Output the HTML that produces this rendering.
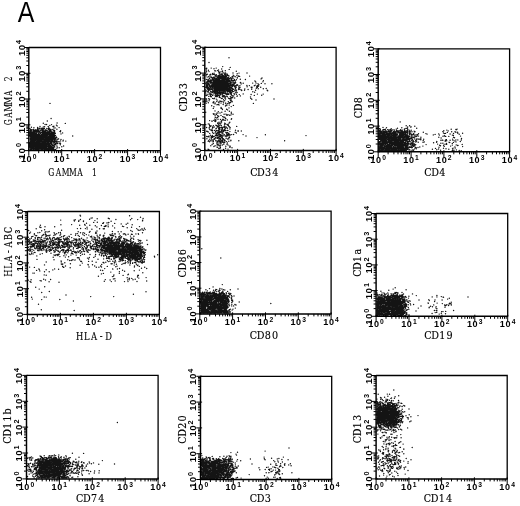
<!DOCTYPE html>
<html lang="en">
<head>
<meta charset="utf-8">
<title>Figure A</title>
<style>
html,body{margin:0;padding:0;background:#fff}
svg{display:block}
.tk{font-family:"Liberation Sans","DejaVu Sans",sans-serif;font-size:8.9px;font-weight:bold;fill:#000;text-anchor:middle}
.ex{font-size:6.6px}
.lb{font-family:"DejaVu Serif","Liberation Serif",serif;font-size:10.5px;fill:#000;stroke:#000;stroke-width:.12}
.A{font-family:"Liberation Sans","DejaVu Sans",sans-serif;font-size:28.7px;fill:#000}
.fr{fill:none;stroke:#000;stroke-width:1.3}
.ax{fill:none;stroke:#000;stroke-width:1.45}
.mt{fill:none;stroke:#000;stroke-width:1}
.dots{fill:none;stroke:#000;stroke-width:1.42;stroke-linecap:round;stroke-opacity:.92}
</style>
</head>
<body>
<svg width="520" height="506" viewBox="0 0 520 506">
<rect width="520" height="506" fill="#fff"/>
<text class="A" transform="translate(17.75 21.7) scale(.866 1)">A</text>
<g id="plot1">
<path class="dots" d="M43.2 147.2h.01M54 138.8h.01M48.2 144.4h.01M34.2 141.7h.01M37.7 127.9h.01M52.5 133.7h.01M31.3 147.7h.01M50.1 134.8h.01M47.7 148.1h.01M39.6 140.1h.01M37.4 135.3h.01M36.9 132.5h.01M37.9 137h.01M40.8 136.1h.01M43.5 141.6h.01M45.6 140.1h.01M54.2 141.5h.01M46 140.8h.01M42.2 128.7h.01M51 134.5h.01M37.2 149.7h.01M31.2 132.1h.01M46.6 144.6h.01M31 139.9h.01M33 146.4h.01M43.7 139.6h.01M40.4 139.2h.01M51.5 143h.01M44.8 148.1h.01M42.1 136.6h.01M40.3 132.8h.01M35 130.8h.01M32.2 147.4h.01M30.4 139.6h.01M46.7 132.6h.01M32.1 140.8h.01M38.5 148.3h.01M30.5 145.7h.01M49.6 133.7h.01M34.2 140.7h.01M32.5 135.1h.01M53.1 130h.01M40.5 148.7h.01M51.3 139.5h.01M45.3 136.3h.01M42.6 146.3h.01M29.7 146.5h.01M42.9 145.2h.01M44.5 135.2h.01M51.3 135.8h.01M38.4 142.1h.01M41.2 142.7h.01M33 145.4h.01M42 149h.01M37 147.1h.01M32.2 141.7h.01M46.3 141.9h.01M40 133.3h.01M58.6 139h.01M45 131.1h.01M46.4 130.5h.01M45.9 134.6h.01M44 136.1h.01M35.1 137.7h.01M37.6 143.5h.01M34.4 131.2h.01M39.5 134.9h.01M32.9 142h.01M54 141h.01M35 145.5h.01M44.3 143h.01M33.9 143.1h.01M50.9 143.2h.01M44.1 144h.01M29.6 133.6h.01M47.7 133.6h.01M51.7 147.9h.01M48.1 136.6h.01M40.6 140.4h.01M29.8 135.4h.01M34 137.8h.01M53 147.6h.01M46.5 145.7h.01M30.5 137h.01M49.8 137.6h.01M46.7 144.4h.01M42.7 142.2h.01M37.7 136.3h.01M42.4 148h.01M34.2 144.5h.01M31.6 149h.01M48.4 142.7h.01M41.2 149.2h.01M43.2 138h.01M34.3 144.8h.01M45.9 148.4h.01M30.5 131.7h.01M39.3 140.1h.01M30.9 143.8h.01M33.1 130.3h.01M54.3 146.4h.01M42 146.5h.01M39 149.6h.01M42.8 138.6h.01M49.7 139.3h.01M33.4 149.4h.01M43.1 138.9h.01M47.5 149.7h.01M40.8 140.2h.01M37.7 136.9h.01M53 131.9h.01M49.6 136h.01M34.4 140.5h.01M54.7 132.2h.01M30.8 143.7h.01M48.1 148.1h.01M47 134h.01M33.4 129.8h.01M38 129.8h.01M44.6 149.6h.01M34.5 134.1h.01M46 144.1h.01M52.2 136.4h.01M40 133.6h.01M49.9 138.2h.01M37.5 146.2h.01M36.8 130.7h.01M37.9 145.5h.01M31 140.6h.01M37.2 136.2h.01M48.5 133.5h.01M40 145.2h.01M37.5 143.8h.01M33.8 137.4h.01M52.5 138.3h.01M39.8 140.7h.01M57.2 147.3h.01M44.3 140.8h.01M41.8 148.2h.01M53.7 141.3h.01M46 141h.01M42.8 142.2h.01M41.3 143.9h.01M48.6 139h.01M38.6 142.8h.01M49.5 135.1h.01M30.8 138.7h.01M42.7 149.2h.01M40.5 138.5h.01M53.2 149.2h.01M33.4 147.6h.01M46.9 142.4h.01M43.5 131.4h.01M49.6 146h.01M49.2 145.2h.01M54.2 138.2h.01M35.8 146.2h.01M40.2 142.4h.01M33.3 130.8h.01M31.6 130.1h.01M34.7 134.8h.01M52.4 140.3h.01M51.1 146.9h.01M30.5 133h.01M43.2 130.6h.01M37.6 143.9h.01M42.9 138.2h.01M42.7 139.4h.01M36.3 144.5h.01M51.2 149h.01M40.7 148.5h.01M45.5 145.4h.01M42.1 130.4h.01M31.9 133.8h.01M30.6 139.5h.01M40.6 147h.01M51.3 131.6h.01M51 141.7h.01M46.5 139.1h.01M34.4 140.2h.01M48.9 138.1h.01M51.9 136.8h.01M49.7 135.3h.01M36.7 130.8h.01M56.9 140h.01M33 138.7h.01M31.6 145.3h.01M29.6 143.7h.01M34.8 149.7h.01M35.3 137.1h.01M30.7 149.3h.01M41.8 138.6h.01M30.7 144.3h.01M44.1 147.2h.01M35.3 137.5h.01M46 137.7h.01M33.8 144h.01M35.3 133.4h.01M52.9 140.8h.01M38.7 131.7h.01M46.9 138.9h.01M47.9 141.7h.01M42.4 149.7h.01M34.6 148.6h.01M43.2 133.8h.01M31.4 133.6h.01M48.3 144h.01M52 141h.01M49.4 139.2h.01M31.5 147h.01M38.6 145h.01M35.7 143.4h.01M29.9 142.7h.01M45.1 141.5h.01M48.7 144.3h.01M38.7 148.9h.01M55.6 149.5h.01M50.5 148.3h.01M32 144.3h.01M47.8 134.6h.01M49.4 143.6h.01M32 148.5h.01M41.3 135.9h.01M44.1 141.3h.01M43.3 132.1h.01M32.6 132.9h.01M44.7 139.8h.01M44.4 131h.01M47.2 140.7h.01M52.2 137.4h.01M38 144.4h.01M50.4 137.4h.01M52.2 137h.01M54.1 144.2h.01M32.4 140.7h.01M30.8 131.1h.01M50.3 136.6h.01M31.9 140.2h.01M45.2 136.3h.01M55.8 138.9h.01M39.2 144h.01M36.6 141.4h.01M42.7 135.9h.01M44.1 139.7h.01M32.1 144.1h.01M36.7 131.9h.01M30.9 137.2h.01M44.3 141.1h.01M49.5 149.4h.01M38.6 132.3h.01M39 140.1h.01M39.6 132.1h.01M38.1 142.5h.01M37.3 146.2h.01M38.5 130.5h.01M39.6 149h.01M30.7 143.9h.01M48.8 137.8h.01M44.2 148.1h.01M33.1 137.7h.01M32.2 145.7h.01M53.7 133.1h.01M30.7 141h.01M34.1 138.9h.01M32.8 149.1h.01M30.6 148.5h.01M54.3 141.9h.01M33.3 134.2h.01M36.8 141.2h.01M52.6 136.6h.01M44 148.9h.01M32.7 142.8h.01M40 139.6h.01M50.2 136.4h.01M41.3 147.5h.01M44.9 133.1h.01M32.9 148.6h.01M44.7 143.7h.01M49.7 136.8h.01M49.4 147.8h.01M40.7 138.2h.01M38.1 135.7h.01M30.9 139.6h.01M41 132.7h.01M50.9 135.4h.01M31.4 139.9h.01M33.4 149.5h.01M45.1 132.1h.01M47.9 142h.01M54.4 149.8h.01M32.6 146.9h.01M31.7 148.6h.01M48.8 144.7h.01M47.4 145.2h.01M48.8 139h.01M53.9 142.7h.01M52.6 138.6h.01M49.8 139.7h.01M47.3 134.6h.01M42.5 132.6h.01M45 137.2h.01M31.2 147.1h.01M47 143.3h.01M49.3 133.1h.01M48.2 146.9h.01M39.7 128.9h.01M37 149.7h.01M39.4 145.1h.01M32.8 140.7h.01M47.5 140.7h.01M44 143.6h.01M37.6 127.5h.01M43.3 128.5h.01M49.4 140.1h.01M39.7 136.5h.01M49.8 138.4h.01M56.1 141.2h.01M39.9 132.6h.01M31.6 149.5h.01M49.4 142h.01M54.6 130.4h.01M30.9 148.9h.01M46.9 137.2h.01M49.3 144h.01M48.2 147.8h.01M31.6 148.4h.01M30.6 131.5h.01M52.8 149.1h.01M30.7 141.6h.01M32.6 136.6h.01M43.2 136.5h.01M40.2 139.1h.01M45.5 148.9h.01M34.8 142.9h.01M49.5 134.2h.01M33.8 144.3h.01M50.7 138h.01M30 147.5h.01M39.7 134.5h.01M31.7 149.1h.01M36 148.8h.01M36.1 134.7h.01M47.4 138.3h.01M42.3 134.5h.01M33.3 140.2h.01M52.3 132.4h.01M49.2 148.5h.01M49.8 136.8h.01M33.3 142.3h.01M37.1 142.7h.01M35.1 134.2h.01M30.2 135.6h.01M29.9 148.1h.01M42.3 132h.01M30.5 133.8h.01M33.5 136.5h.01M53.7 144h.01M41.6 137.6h.01M32.2 133.8h.01M45.6 142.9h.01M33.7 144.5h.01M42.6 142h.01M37.6 142h.01M40.2 137h.01M44.2 132.4h.01M44.5 137.8h.01M37.8 140.3h.01M49.1 135.7h.01M48.8 148.3h.01M31.7 136.3h.01M31.2 147.8h.01M35.8 144.9h.01M52.7 148.8h.01M51.5 149.2h.01M33.5 134.7h.01M52.9 149.7h.01M35.3 138.8h.01M41.9 140.4h.01M45.2 149h.01M52.3 144.8h.01M32.6 141.5h.01M37.3 131.7h.01M45.1 141.5h.01M31.5 134.5h.01M34.5 140.2h.01M40.4 137.6h.01M50.5 148.3h.01M43.9 138h.01M51.4 144.1h.01M47.2 130.6h.01M45.8 133.5h.01M49.7 149.5h.01M45.5 134.1h.01M48.1 146.4h.01M34 140.5h.01M31.3 139.1h.01M48.4 139.5h.01M33.3 140.7h.01M51.3 137.2h.01M42.7 137h.01M35.5 142.2h.01M52.3 134.2h.01M35 135.3h.01M39.8 137h.01M34 130.3h.01M54.7 137.9h.01M42.4 140.8h.01M50.5 145.7h.01M33.1 134.2h.01M45.7 137.3h.01M44.1 144h.01M44.2 136.4h.01M52.1 147.4h.01M38.7 143.4h.01M39.4 131.8h.01M42.2 141.3h.01M50.8 144.9h.01M34.5 141.1h.01M44.4 146.3h.01M33.3 149.3h.01M40.5 142.6h.01M45.6 139.6h.01M30.7 148.2h.01M47.1 140h.01M30.3 130.4h.01M54 136h.01M38.7 144.6h.01M37.6 148.6h.01M45.2 140.3h.01M42.8 136.2h.01M43.3 149h.01M33.3 139.7h.01M42.1 134.7h.01M41.4 140.5h.01M52.9 136.6h.01M31.8 129.7h.01M40.9 144.7h.01M46.7 143.3h.01M42.9 148.8h.01M33 131.5h.01M46.1 148h.01M34.2 144.8h.01M36.5 133.7h.01M51.3 141.3h.01M34 142.3h.01M38.5 137.5h.01M47.2 130.7h.01M48.1 147.4h.01M40.3 130.9h.01M50.4 139.5h.01M41.2 138.4h.01M45 149.6h.01M45.2 142h.01M45.7 138.7h.01M46.2 148.1h.01M37.6 137.8h.01M43 145.9h.01M34.3 136.4h.01M48.8 145.5h.01M37.1 145h.01M42.2 147.6h.01M44.3 139.5h.01M42.8 135.5h.01M36.9 145h.01M51.2 149.4h.01M36.6 136h.01M48.9 128.6h.01M52.8 134h.01M38.5 149h.01M45.4 132.4h.01M30.1 130.9h.01M36.7 132h.01M52.7 149.6h.01M46.7 137.3h.01M41.5 144.1h.01M42.3 147.5h.01M48.1 141.7h.01M45.6 146.2h.01M41 140.1h.01M35.6 139.7h.01M34.5 137.5h.01M35.9 130.6h.01M37 142.7h.01M51.3 134.9h.01M39.5 135.9h.01M38.8 147.8h.01M42.5 138.2h.01M43.6 134.9h.01M51.5 143.7h.01M52.7 138.4h.01M41.7 129.9h.01M36.4 134.7h.01M48.8 141.4h.01M41.9 137h.01M48.7 148.7h.01M29.7 145.5h.01M49.2 141h.01M38.6 147.5h.01M41.5 128.7h.01M31.7 132.5h.01M38.7 147.3h.01M48.2 143.1h.01M50.2 131.6h.01M40.9 144h.01M50.3 147.3h.01M41.7 142.2h.01M35.2 131.3h.01M43.3 130.1h.01M35.6 138.6h.01M37.6 131.9h.01M48.6 132.1h.01M47.2 145h.01M30.8 141.2h.01M49 132.7h.01M47.4 148.6h.01M35.9 137.7h.01M32.3 148.8h.01M44.6 140.8h.01M34.4 143.6h.01M42.4 139.3h.01M35.8 142.5h.01M42.7 139h.01M34.6 133.9h.01M41.5 146.5h.01M37.7 135h.01M46.1 134.9h.01M31.7 144h.01M51 134.5h.01M37.4 136.1h.01M36.4 148.5h.01M32.3 135.1h.01M34 137.1h.01M37.8 149.6h.01M48.7 138h.01M47.1 138.1h.01M36.4 147.3h.01M31.4 138.8h.01M38.8 149.6h.01M46.8 145.9h.01M43.2 149.6h.01M50.6 136.3h.01M44.7 135.1h.01M48 146.8h.01M48.7 148.5h.01M47.9 132.6h.01M41.7 134.4h.01M36 133.3h.01M38.3 133.4h.01M42.5 137.7h.01M30.1 142.8h.01M42.1 143.9h.01M47.2 130.1h.01M31.1 134.2h.01M31.1 130.7h.01M33.5 135.9h.01M36 135.1h.01M51.2 149.7h.01M30.5 134.6h.01M29.6 132.6h.01M32.1 144.7h.01M40 149.1h.01M30.5 148.3h.01M40.9 141.2h.01M30.6 138.9h.01M36.7 137.4h.01M48.4 136.8h.01M32.2 147.3h.01M41.8 147.7h.01M36.8 139.3h.01M40 148h.01M47.6 141.5h.01M33 141.8h.01M54.1 136.7h.01M53.3 135.2h.01M48.6 132.2h.01M29.7 147.3h.01M43.5 146.5h.01M45.9 148.5h.01M48.8 148.7h.01M36.3 147.9h.01M52.8 136.1h.01M53.4 145.6h.01M33.3 134.6h.01M38.1 144.3h.01M30.6 132h.01M50.5 149.4h.01M52.3 148.5h.01M54.2 136.2h.01M46.1 145.7h.01M44.6 145.3h.01M49.2 134.7h.01M43 140.8h.01M54.7 140.9h.01M43.9 146.1h.01M36.8 146.6h.01M45.6 145.4h.01M30.5 134.1h.01M44.6 142.4h.01M44.9 142.2h.01M38.8 133.9h.01M54.4 134.1h.01M48.2 137.6h.01M39.1 135.9h.01M30.4 134.7h.01M32.8 143.4h.01M34.7 146.1h.01M39.9 138.2h.01M38.8 142.6h.01M53.3 145.8h.01M36.4 142.1h.01M49.5 140h.01M45.9 132.2h.01M49.8 146.6h.01M34.5 132.7h.01M30 133.4h.01M49.7 139h.01M34.2 140.4h.01M29.8 145.9h.01M51.8 140.4h.01M46.6 149h.01M36.1 144.3h.01M38.2 144.8h.01M51.5 139.9h.01M37.1 129.8h.01M46 132h.01M31.9 142.9h.01M49.2 139h.01M31.8 139.1h.01M43.9 136h.01M29.9 131.4h.01M42.4 140.9h.01M49.6 133.2h.01M31.6 146.3h.01M34 133.5h.01M47.1 148.6h.01M44 148.1h.01M35.6 139.8h.01M44.4 146.4h.01M39.1 142.4h.01M54.3 139.8h.01M38.7 148.2h.01M48.7 144h.01M44.7 135.1h.01M51.6 147h.01M38.9 128.9h.01M46.9 130.5h.01M47 139.5h.01M39.1 137.4h.01M32.1 140.8h.01M53 136.1h.01M50.8 139.7h.01M32.3 147.6h.01M48.5 149.3h.01M33.9 139.8h.01M44.1 136.4h.01M49.8 141.1h.01M40 132.5h.01M37.8 139.7h.01M38.9 146.5h.01M30.6 129.3h.01M33.7 145.5h.01M33 145.6h.01M33.4 135.2h.01M30.2 134.8h.01M39.9 144h.01M32.9 140.1h.01M46.7 146.7h.01M50.6 145.4h.01M36.7 135.7h.01M46.1 145.3h.01M37.9 138.8h.01M30.5 134.7h.01M31.2 138.1h.01M52 144.2h.01M38.9 149.6h.01M48.8 137.2h.01M30.7 136.3h.01M45.1 147h.01M50.8 138.3h.01M50.3 146.8h.01M29.6 128.6h.01M41.5 139.9h.01M35.1 135.8h.01M49.1 147.1h.01M31.2 141.7h.01M35.2 135.5h.01M51.1 133.9h.01M42.9 139h.01M38.1 135.3h.01M51.7 139.7h.01M39.8 144h.01M32.5 135.8h.01M37.3 129.5h.01M30.4 136.3h.01M29.7 135.5h.01M42.2 147.8h.01M49.8 130.9h.01M43.5 145.9h.01M42.7 133.7h.01M34.7 144.6h.01M44.9 146.8h.01M46.5 134.3h.01M43.5 144.3h.01M50.2 148.6h.01M44.2 145h.01M33.2 142.6h.01M43.6 138.2h.01M39.6 131.3h.01M36.3 142h.01M45.6 147.9h.01M47.3 134.6h.01M32.2 133h.01M43.9 136.5h.01M48.2 142.5h.01M42.4 139.1h.01M38.2 146.9h.01M37.2 146h.01M42.3 146h.01M43.7 144.6h.01M43.4 146.6h.01M31.8 148.9h.01M54.5 131.4h.01M52.3 145.9h.01M31.8 134.3h.01M33.8 147.3h.01M33.4 131.9h.01M47.8 144.3h.01M50.1 135.9h.01M30 143.5h.01M37.8 144.7h.01M33.3 147.4h.01M38.9 148.7h.01M53.5 137.4h.01M29.7 143.5h.01M32.2 134.5h.01M38.5 130.3h.01M40.5 145.7h.01M48.8 149.7h.01M36.8 144.9h.01M32.2 144h.01M39.1 143.2h.01M52.8 145.6h.01M48.2 140.2h.01M29.6 134.9h.01M51.7 146.4h.01M38.7 137.3h.01M48.9 147.8h.01M33.4 147.8h.01M48.8 142.3h.01M34.7 145.2h.01M43.5 147.1h.01M46 147h.01M44 139.5h.01M31.8 137.1h.01M31.9 143.3h.01M36 148.2h.01M30.9 142.4h.01M31.4 131.3h.01M33.9 127.7h.01M43 141.7h.01M35.6 146.9h.01M41 149.2h.01M36.5 140.1h.01M30.8 140.5h.01M32.6 140.4h.01M49.4 133.5h.01M35.5 131.2h.01M38.1 140.5h.01M51.8 140.6h.01M39.3 146.9h.01M49.7 135.3h.01M52.1 149.1h.01M34.6 135.9h.01M45.9 144.5h.01M35.9 142h.01M31.3 132.9h.01M39 147.2h.01M47.2 149h.01M54 147.2h.01M34 132.8h.01M47.8 144.3h.01M41.7 141.9h.01M34.9 149.4h.01M53.3 132.7h.01M49.9 130.6h.01M30.2 146.4h.01M51.1 134.9h.01M30.4 129.9h.01M30.5 131.6h.01M38.1 141.7h.01M55.2 141.3h.01M30.8 145.4h.01M51.9 147.9h.01M43.5 129.7h.01M30.1 146.9h.01M40.9 145.9h.01M40.5 148.8h.01M39.7 148.5h.01M47.6 139.6h.01M45.9 134.3h.01M52.7 149.2h.01M30.8 136.9h.01M46.7 142h.01M42.7 143.8h.01M46 145.6h.01M54.2 145.4h.01M54.9 142.5h.01M34.8 141.2h.01M38 144h.01M54.5 138.2h.01M55.9 137.5h.01M36.4 143.9h.01M51.9 148.6h.01M41 145h.01M38.9 132.1h.01M51.7 133.1h.01M39.6 146.1h.01M41.1 148h.01M36.2 136.5h.01M43.7 141h.01M30.9 133.4h.01M33.1 140.2h.01M47.6 143.6h.01M42.8 136.7h.01M49.4 144.4h.01M48.4 146.4h.01M34.6 133.9h.01M35.8 145.3h.01M38.8 138.6h.01M36.3 134.4h.01M49.9 136.5h.01M39.2 140.7h.01M36.4 145.9h.01M45 145.8h.01M33.6 133h.01M29.7 133.8h.01M48.7 149.6h.01M45.2 141h.01M38.5 145h.01M46.6 140.6h.01M29.7 144.6h.01M37.5 140.9h.01M42.9 142.7h.01M36.1 137.5h.01M39 144.6h.01M44.7 135.8h.01M45.6 132.7h.01M31.6 146.5h.01M47.1 147.9h.01M31.4 136.1h.01M54.7 135.9h.01M34.2 135.2h.01M34.4 143.7h.01M36.1 144.1h.01M55.1 133.3h.01M30.7 138.9h.01M44.1 140h.01M51 130.4h.01M54.8 138.8h.01M34.6 134.7h.01M40.9 132.8h.01M44.1 148.5h.01M46 133.6h.01M37.9 136.9h.01M38.3 140.9h.01M31.4 139.9h.01M31.4 127.3h.01M45.6 144.5h.01M30.3 136.5h.01M34.4 139.8h.01M39.4 149.3h.01M31.9 149.5h.01M31.4 146.7h.01M50.8 137.8h.01M38.9 146.3h.01M33.9 146.2h.01M48.8 133.2h.01M32.6 147.5h.01M35.9 130.5h.01M54.2 145.1h.01M52.5 136h.01M45.7 132.8h.01M34 131.3h.01M37.7 148.4h.01M31.1 133.9h.01M35.4 146.8h.01M32.8 133.5h.01M30.8 133.4h.01M47.2 132.5h.01M30.8 148.6h.01M32.2 133.8h.01M49.7 145.8h.01M33.7 135.1h.01M36.5 148.7h.01M29.7 144.8h.01M49.8 134.8h.01M43 141.6h.01M45.3 134h.01M44.9 140.5h.01M30.9 132.3h.01M34 143.1h.01M42 142.1h.01M50.6 135.8h.01M48.4 128.4h.01M45 147.6h.01M41.5 134.6h.01M32.7 134.3h.01M50.7 132.6h.01M30.4 138.6h.01M32.4 138.3h.01M49.8 142.1h.01M50.5 137.7h.01M48 137.5h.01M37.1 145.5h.01M30.6 135.6h.01M32.7 136.7h.01M51.6 143.5h.01M52 137.5h.01M35.1 143.5h.01M49.4 131.5h.01M39.1 135.7h.01M39.3 138.9h.01M40.2 136h.01M30.8 148.4h.01M38.4 134.4h.01M35.5 140.6h.01M44.8 140.6h.01M39.3 145.9h.01M48.1 134.6h.01M48.7 146.2h.01M37.7 149.6h.01M40.7 137.5h.01M50.6 131.2h.01M43.3 148.5h.01M31.7 136.1h.01M31.3 137.6h.01M53.2 132.7h.01M43 144.9h.01M30.3 149.4h.01M45.4 149.6h.01M37.9 142.4h.01M40.5 137.8h.01M53.4 148.4h.01M51.6 144.9h.01M32.2 146.4h.01M34.3 140.9h.01M39.4 144.1h.01M50.6 146.3h.01M45.8 130.8h.01M43.3 135.1h.01M46.1 135.4h.01M38.4 148h.01M51.3 148.9h.01M31.1 145h.01M43.7 135.6h.01M33.5 134.3h.01M39.1 140.1h.01M52.3 138.7h.01M44.2 132.9h.01M30.5 131.4h.01M39.4 144.7h.01M41.8 146.6h.01M29.9 134.9h.01M35.3 136.1h.01M31.3 132.4h.01M41 140.8h.01M42 143.1h.01M39.2 139.4h.01M34.3 148h.01M43.8 136.9h.01M35.4 139.1h.01M55.6 144.7h.01M53.6 148.6h.01M39.9 147.6h.01M39.7 131.8h.01M52.5 136.8h.01M34.4 135.5h.01M51.8 148.5h.01M38.7 143.7h.01M47.1 142.4h.01M38.4 138.3h.01M45.4 149.4h.01M55.1 133.4h.01M31 145.4h.01M51.4 143.6h.01M41.7 146.5h.01M36.9 145h.01M37.8 137h.01M30.1 137h.01M33.4 148.5h.01M41.5 141.6h.01M29.7 134.9h.01M48.4 134.4h.01M56.8 143.7h.01M54.8 146.9h.01M53.5 141.5h.01M48.1 136.7h.01M33.1 144h.01M53.8 149h.01M31.9 140.7h.01M48.8 149.4h.01M51.1 149.5h.01M43.9 147.7h.01M39.9 140.3h.01M34.6 135.7h.01M41.4 145.8h.01M38.1 149.3h.01M32 145.7h.01M31.5 133.2h.01M49.2 133.2h.01M51.7 143.2h.01M31.1 141.1h.01M30.8 129.6h.01M36.9 142.9h.01M33.4 136.9h.01M36 149.6h.01M40.3 139.7h.01M38.7 134.3h.01M38.8 145.5h.01M34.3 139h.01M44.7 141.9h.01M35.1 133.9h.01M40.3 135.5h.01M40.8 135.7h.01M49.4 135.4h.01M37.5 141.5h.01M48.8 136.7h.01M35.5 143h.01M52.9 149.2h.01M37.3 143.4h.01M43.7 133.1h.01M50.5 148.8h.01M44.2 133.1h.01M30.5 137.2h.01M30.8 142.6h.01M54.1 142.2h.01M29.9 142.3h.01M36.4 138.9h.01M51.9 142.1h.01M37 141.6h.01M33 137.5h.01M30.6 138.7h.01M31.4 137.8h.01M42.8 137.1h.01M44.2 144h.01M36.1 142.1h.01M31.2 138.3h.01M49 145.5h.01M48 148.3h.01M41.9 144.8h.01M30.5 132.1h.01M44.7 147.8h.01M44.6 131.3h.01M41.4 146.3h.01M50.1 139.3h.01M38.8 140h.01M41.4 148.5h.01M32.6 143.5h.01M44.6 149.5h.01M48.6 148.5h.01M45.9 131.8h.01M33.8 141.1h.01M56.9 148.6h.01M46.4 132.7h.01M38.9 137.9h.01M42 148.5h.01M50.5 134.6h.01M34.2 132.7h.01M44.2 138.1h.01M51.4 138.2h.01M42.6 135.8h.01M51.8 140.7h.01M40.3 148h.01M37.8 141.1h.01M33.4 142.9h.01M52.7 133.1h.01M37.5 131.2h.01M45.9 148.8h.01M36.9 137.5h.01M49.6 147.9h.01M52.1 135.1h.01M32.4 145.6h.01M55.6 143.4h.01M46.2 132.3h.01M36 131.7h.01M43 139.4h.01M30.3 133.1h.01M41 136.6h.01M32.3 133.1h.01M36.9 138.4h.01M36.1 138.5h.01M45.8 138.5h.01M50.7 134h.01M53.5 138.5h.01M37.5 145.9h.01M44.4 131.1h.01M31.7 149.4h.01M36.2 139.8h.01M52.1 147.3h.01M30 130.8h.01M53.8 127.9h.01M47.7 131.7h.01M37.6 147.7h.01M46.1 139.7h.01M36.4 149h.01M50.9 143h.01M31 135h.01M31.4 136.8h.01M48.7 133.7h.01M39.4 135.6h.01M34.1 148.3h.01M42.2 132h.01M35.7 148h.01M42.4 138.8h.01M46.7 136h.01M51.9 146.8h.01M29.8 135.9h.01M44.3 147.9h.01M52.8 138.5h.01M37.6 136.1h.01M49.9 135.7h.01M30 134h.01M52.1 147.4h.01M44.3 144.7h.01M48 138.5h.01M46.8 148.1h.01M49.7 148.8h.01M30.5 132.4h.01M44.6 148.2h.01M35.2 129.8h.01M35 144.9h.01M37.7 137.4h.01M42.9 135.7h.01M45.2 141.5h.01M50.8 143.6h.01M30.1 138.8h.01M34.8 146.4h.01M38 149.2h.01M48.5 134.9h.01M40.6 133.7h.01M42 142.9h.01M48.6 139.5h.01M44.8 135.5h.01M34.6 139.9h.01M32 143.6h.01M45.2 149.6h.01M50.4 148.2h.01M44.5 147.7h.01M30.9 140.1h.01M35 148.9h.01M38.7 142h.01M42.1 134.2h.01M46.2 148.2h.01M52.3 135h.01M35.8 146.1h.01M38.7 145.5h.01M44.6 149.5h.01M50.1 143.5h.01M46.5 149.4h.01M38.1 131.3h.01M48.9 131.4h.01M42.5 135.3h.01M56.8 142.8h.01M37.3 138.5h.01M32.5 132.3h.01M52 135.2h.01M38.2 139.4h.01M53.3 137.3h.01M46.2 144.5h.01M41.4 139.6h.01M31.5 147.7h.01M49 145.3h.01M31 139h.01M53.5 138.9h.01M49.4 135.3h.01M32.4 133.6h.01M30.7 137.7h.01M47.3 135.9h.01M41 137h.01M32 139.3h.01M38.2 132.1h.01M36.3 148.1h.01M40.7 141.2h.01M45.1 132.3h.01M55 139.7h.01M52.5 136h.01M30.6 135.1h.01M42.8 142.1h.01M42 132.6h.01M54.5 136.4h.01M32.8 145.8h.01M40.3 140.8h.01M50.7 142.6h.01M37.3 141.4h.01M34 141.4h.01M42.6 135.9h.01M34.1 143h.01M50.2 141.2h.01M32 137h.01M33.9 147.5h.01M31.6 137h.01M43.2 136.9h.01M34.7 138.4h.01M50.4 148.4h.01M51.4 149.5h.01M51.3 139.8h.01M37 137h.01M30.5 142h.01M38.6 147.3h.01M53.1 137.9h.01M49.4 145.1h.01M29.8 143h.01M48.6 137.9h.01M52.8 135.2h.01M53.5 141.8h.01M46.9 134.6h.01M51.5 138.4h.01M51.9 138.4h.01M39.6 148.4h.01M32 134.1h.01M48.8 133h.01M32.5 139.7h.01M40.9 148.2h.01M53.8 130.4h.01M39 143.9h.01M44.5 131.2h.01M52.9 141.8h.01M33.7 136h.01M53.6 146h.01M50.1 136.6h.01M42 142.6h.01M38 138.6h.01M30.2 131.5h.01M52.9 136.5h.01M32.7 138.8h.01M32.7 132.9h.01M49.2 134.1h.01M39.6 141.6h.01M45.9 137.9h.01M46.6 145.5h.01M30.1 139.9h.01M32.2 142.8h.01M42.2 144h.01M33.2 147.3h.01M37.9 141.5h.01M49.6 129h.01M44.3 142.3h.01M48.8 127.2h.01M30.8 141.6h.01M34.4 132.8h.01M53.5 139h.01M32.9 134.6h.01M41.1 149.7h.01M31.4 131h.01M51.5 144.1h.01M29.7 142.8h.01M43 136.9h.01M41.9 142.6h.01M45.8 137.5h.01M53.1 138.1h.01M44.4 136.6h.01M35 133.1h.01M29.7 145.1h.01M45.6 129.9h.01M53.4 134.9h.01M31.4 133.1h.01M47.4 144.2h.01M34.2 143.4h.01M41.5 140h.01M39.9 142.9h.01M44.7 145.3h.01M51.9 143.2h.01M48.1 141.4h.01M39.6 136.3h.01M46.8 141.1h.01M38 146.8h.01M39.4 144.3h.01M36.6 138.2h.01M42.6 144.7h.01M35.7 130h.01M33.4 130.4h.01M34.3 147.3h.01M41.3 147.9h.01M35.1 132h.01M52.1 129.4h.01M49.6 134.5h.01M36.9 143.1h.01M44.6 136.6h.01M50.1 140.1h.01M37 145h.01M42.5 129.2h.01M42.9 149h.01M48 136.8h.01M52.5 139h.01M35.4 135.7h.01M53 135.4h.01M46.3 136.1h.01M50.5 129.4h.01M45.4 137.5h.01M55.3 133.4h.01M47.9 149.4h.01M51.5 148h.01M36.6 149.7h.01M42.7 130.5h.01M47.2 133.7h.01M45.3 143.9h.01M41.5 130.1h.01M53.6 133.3h.01M53.9 126.3h.01M52.5 149.6h.01M45.4 144.9h.01M63 141h.01M61 139.4h.01M43.9 135.3h.01M46.1 135.4h.01M56.6 142h.01M40.7 133.4h.01M50.3 146h.01M47.5 134.8h.01M41.5 132.3h.01M45.2 146.4h.01M34.5 137.1h.01M42.7 141.6h.01M31.1 135.3h.01M65.3 123.4h.01M59.1 141.6h.01M56.9 129.2h.01M49.5 145h.01M55.1 127.9h.01M57.2 125.9h.01M55.2 140h.01M54.4 140.8h.01M39.8 138.7h.01M50.5 130.1h.01M42.8 143.8h.01M37.6 128.5h.01M37.9 135h.01M50.5 132.9h.01M55.5 135.5h.01M36.1 143.5h.01M61 133.9h.01M58.8 141.7h.01M44 142.5h.01M43.3 126.9h.01M46.4 130.4h.01M54.9 135.5h.01M44 134.2h.01M38.2 140h.01M49.8 125.4h.01M30.5 142.7h.01M48.1 142.8h.01M56.3 136.9h.01M49.5 129h.01M53.3 138h.01M51 134.5h.01M52.8 141.7h.01M48.2 137.4h.01M40.4 142.7h.01M45.2 135.2h.01M46.4 147.4h.01M57.1 123h.01M60 131.4h.01M50.4 141.2h.01M41 128.2h.01M41.2 142.8h.01M45.5 130.1h.01M58.1 138.6h.01M49.7 132.1h.01M46.6 135.1h.01M40.9 139.1h.01M54.1 137.3h.01M49.3 135.5h.01M46.6 147.6h.01M47.8 138.1h.01M60.5 131.7h.01M45.7 144h.01M60.5 143.3h.01M56.9 145.9h.01M47.4 149.6h.01M54.1 131.9h.01M46 144.9h.01M40.4 145.4h.01M44.9 138h.01M39.7 139.6h.01M51.1 118.5h.01M47.1 134.3h.01M51.5 149.6h.01M53.6 126.4h.01M37.2 134.5h.01M49.5 139.9h.01M32.6 141.7h.01M48.3 148.6h.01M40 126.5h.01M47.8 138.3h.01M57.9 143.6h.01M33.3 129.5h.01M48.5 137.7h.01M46.4 149.3h.01M31.9 146.6h.01M52.2 141.5h.01M47.3 121h.01M42.9 137.2h.01M41.2 140.5h.01M72.7 136h.01M43.8 137.6h.01M32.6 141.6h.01M39.6 136.6h.01M44.1 131.7h.01M43.9 139.6h.01M46.4 135.9h.01M38.6 136h.01M51.3 137.4h.01M43.1 143h.01M36.1 139.5h.01M40.5 130.2h.01M43.9 137.1h.01M53.8 141.1h.01M50.9 135h.01M44.3 145.5h.01M47.2 143.1h.01M48.7 131.6h.01M63.3 140.1h.01M42.1 148.7h.01M50.7 148.1h.01M52.8 137.6h.01M39.4 143.8h.01M48.5 133.6h.01M48.3 128.6h.01M43.2 141.6h.01M51.5 139.6h.01M55.2 141.3h.01M56 137.8h.01M45.5 140.1h.01M48.5 134.7h.01M65.8 141.1h.01M38.2 143.4h.01M48.8 137.6h.01M54.1 143.3h.01M48.2 126.5h.01M52.2 132.9h.01M48.4 147.4h.01M53 149.5h.01M57.3 139.6h.01M45.2 137.3h.01M48.6 129.8h.01M46.6 140.4h.01M43.8 143.1h.01M46.8 128.4h.01M37.9 141.6h.01M53 141.2h.01M60.6 140.9h.01M60.6 130.7h.01M57.2 141.5h.01M39.3 128.3h.01M59.2 147.7h.01M41.3 138.9h.01M46.6 130.4h.01M61.8 146.7h.01M38.4 145.5h.01M53.7 133.8h.01M49.3 147.3h.01M45.8 131.5h.01M40 140h.01M50.4 145.7h.01M43.3 123.2h.01M55.4 144.5h.01M56.8 137.6h.01M36 137.9h.01M43 131h.01M44.4 140.2h.01M37.5 130.8h.01M38.1 131.7h.01M47.7 135.1h.01M45.3 130h.01M33.8 148.2h.01M42.7 129.4h.01M51.2 133.1h.01M37.4 135.9h.01M39.6 138h.01M59.7 143.2h.01M57.5 143.3h.01M34 136h.01M36.2 135.5h.01M50 138.2h.01M37.5 143.3h.01M45 142.5h.01M43.4 134.6h.01M51.5 124.6h.01M32.4 147.7h.01M29.8 144.2h.01M37.2 139.7h.01M55.1 140.2h.01M45.8 134.6h.01M33.3 131.5h.01M50.9 135.8h.01M52.7 136.6h.01M45 133.9h.01M44.4 128.5h.01M50.5 136h.01M56.7 141.7h.01M48.2 134.8h.01M51.3 138.1h.01M46.6 124.5h.01M43.9 136.7h.01M39.7 137.2h.01M49.1 130h.01M44.6 126.8h.01M45.1 140.7h.01M54.4 132.7h.01M50.9 141.2h.01M54 135.3h.01M34.4 142.1h.01M51.5 135.8h.01M42.3 128.2h.01M40.5 137.4h.01M40.2 135.9h.01M56.7 142.3h.01M53.6 135.1h.01M41.3 135.4h.01M37.9 143.6h.01M47.1 145.6h.01M43.3 142.9h.01M60.3 144.7h.01M35.3 141h.01M32.4 143h.01M45 143.7h.01M47.1 140.6h.01M48.1 138.4h.01M53 138.9h.01M63.6 146h.01M44.3 138.1h.01M42.6 136.5h.01M32.9 135.6h.01M48.9 137.8h.01M53.8 139.6h.01M44.9 130.6h.01M56.4 125.1h.01M47.2 139.9h.01M59.1 127.6h.01M49.7 139.7h.01M38.5 138.9h.01M41.9 145.5h.01M34.7 148.9h.01M33.1 140.4h.01M49.1 134.4h.01M54 130.4h.01M62.6 132.9h.01M46.6 138.3h.01M45.1 124.5h.01M38.1 138.5h.01M54.9 137.9h.01M50.1 142.2h.01M42.2 135.8h.01M52.5 138.7h.01M51.5 133.2h.01M32 135h.01M52.9 126.5h.01M48.1 138.8h.01M43.9 148.1h.01M43.7 139.1h.01M50 103.4h.01"/>
<path class="fr" d="M28.8 47.5H160.5V150.6"/>
<path class="ax" d="M28.8 47.0V150.6H161.0"/>
<path class="mt" d="M28.8 149v6.8M30.4 150.6h-5.8M38.7 150.6v2.5M28.8 142.8h-2.5M44.5 150.6v2.5M28.8 138.3h-2.5M48.6 150.6v2.5M28.8 135.1h-2.5M51.8 150.6v2.5M28.8 132.6h-2.5M54.4 150.6v2.5M28.8 130.5h-2.5M56.6 150.6v2.5M28.8 128.8h-2.5M58.5 150.6v2.5M28.8 127.3h-2.5M60.2 150.6v2.5M28.8 126h-2.5M61.7 149v6.8M30.4 124.8h-5.8M71.6 150.6v2.5M28.8 117.1h-2.5M77.4 150.6v2.5M28.8 112.5h-2.5M81.5 150.6v2.5M28.8 109.3h-2.5M84.7 150.6v2.5M28.8 106.8h-2.5M87.3 150.6v2.5M28.8 104.8h-2.5M89.5 150.6v2.5M28.8 103h-2.5M91.5 150.6v2.5M28.8 101.5h-2.5M93.1 150.6v2.5M28.8 100.2h-2.5M94.6 149v6.8M30.4 99h-5.8M104.6 150.6v2.5M28.8 91.3h-2.5M110.4 150.6v2.5M28.8 86.8h-2.5M114.5 150.6v2.5M28.8 83.5h-2.5M117.7 150.6v2.5M28.8 81h-2.5M120.3 150.6v2.5M28.8 79h-2.5M122.5 150.6v2.5M28.8 77.3h-2.5M124.4 150.6v2.5M28.8 75.8h-2.5M126.1 150.6v2.5M28.8 74.5h-2.5M127.6 149v6.8M30.4 73.3h-5.8M137.5 150.6v2.5M28.8 65.5h-2.5M143.3 150.6v2.5M28.8 61h-2.5M147.4 150.6v2.5M28.8 57.8h-2.5M150.6 150.6v2.5M28.8 55.3h-2.5M153.2 150.6v2.5M28.8 53.2h-2.5M155.4 150.6v2.5M28.8 51.5h-2.5M157.3 150.6v2.5M28.8 50h-2.5M159 150.6v2.5M28.8 48.7h-2.5M160.5 149v6.8M30.4 47.5h-5.8"/>
<text class="tk" transform="translate(29.1 161.5) scale(1.02 1)" x="-5.5 0" y="0">10<tspan class="ex" x="5.4" dy="-3">0</tspan></text>
<text class="tk" transform="translate(24.7 150.7) rotate(-90) scale(1.1 1.1)" x="-5.2 0" y="0">10<tspan class="ex" x="5.1" dy="-3">0</tspan></text>
<text class="tk" transform="translate(62 161.5) scale(1.02 1)" x="-5.5 0" y="0">10<tspan class="ex" x="5.4" dy="-3">1</tspan></text>
<text class="tk" transform="translate(24.7 124.9) rotate(-90) scale(1.1 1.1)" x="-5.2 0" y="0">10<tspan class="ex" x="5.1" dy="-3">1</tspan></text>
<text class="tk" transform="translate(94.9 161.5) scale(1.02 1)" x="-5.5 0" y="0">10<tspan class="ex" x="5.4" dy="-3">2</tspan></text>
<text class="tk" transform="translate(24.7 99.1) rotate(-90) scale(1.1 1.1)" x="-5.2 0" y="0">10<tspan class="ex" x="5.1" dy="-3">2</tspan></text>
<text class="tk" transform="translate(127.9 161.5) scale(1.02 1)" x="-5.5 0" y="0">10<tspan class="ex" x="5.4" dy="-3">3</tspan></text>
<text class="tk" transform="translate(24.7 73.4) rotate(-90) scale(1.1 1.1)" x="-5.2 0" y="0">10<tspan class="ex" x="5.1" dy="-3">3</tspan></text>
<text class="tk" transform="translate(160.8 161.5) scale(1.02 1)" x="-5.5 0" y="0">10<tspan class="ex" x="5.4" dy="-3">4</tspan></text>
<text class="tk" transform="translate(24.7 47.6) rotate(-90) scale(1.1 1.1)" x="-5.2 0" y="0">10<tspan class="ex" x="5.1" dy="-3">4</tspan></text>
<text class="lb" text-anchor="middle" transform="translate(48.1 176) scale(0.72 1)" x="4.4 14.4 24.4 34.4 44.4 54.4 64.4" y="0">GAMMA 1</text>
<text class="lb" text-anchor="middle" transform="translate(12.3 125.3) rotate(-90) scale(0.72 1)" x="4.4 14.4 24.4 34.4 44.4 54.4 64.4" y="0">GAMMA 2</text>
</g>
<g id="plot2">
<path class="dots" d="M224.6 82.3h.01M213.2 79.2h.01M233.7 85.3h.01M215 76.6h.01M228.3 77.4h.01M222.4 92.5h.01M213.3 79.6h.01M230.2 98.4h.01M221.6 76h.01M223 88.9h.01M225.3 77.8h.01M221.3 87.1h.01M218.3 78.7h.01M225.5 86.2h.01M218.1 84.8h.01M222.1 82.8h.01M215.8 89.5h.01M208.8 96.4h.01M215.8 81.8h.01M217.3 92.1h.01M221.6 86.5h.01M231.6 85.7h.01M207.1 101.1h.01M222.6 70.9h.01M208.5 81.2h.01M212.6 73.4h.01M217.2 83.7h.01M208.9 84.3h.01M205.7 112.3h.01M222.8 88.3h.01M222.2 98.4h.01M220.5 94.9h.01M214.7 82.9h.01M239.8 89.2h.01M220.1 97.5h.01M214.2 87.1h.01M235.8 87.4h.01M226.7 89.4h.01M218.3 75.5h.01M231.6 80.3h.01M222.8 88.3h.01M227 89.7h.01M223.5 79.5h.01M212.8 83.7h.01M229.8 85.1h.01M222.9 84.9h.01M212.9 90.7h.01M215 86.7h.01M229.6 87.1h.01M218.4 76.1h.01M221.9 78.6h.01M227.1 88.1h.01M222.6 74.8h.01M208.5 87.8h.01M226.9 81.3h.01M229.5 80.3h.01M228.9 90.4h.01M235.2 81.2h.01M224.6 79.9h.01M228.1 81.2h.01M235 86.3h.01M219 105h.01M236.3 71.2h.01M236.2 85.7h.01M228.2 84.2h.01M237.1 92.5h.01M228.7 83.3h.01M214 68.7h.01M231.2 95.1h.01M224.3 78.3h.01M225 85.4h.01M222.8 76.4h.01M233.1 78.2h.01M226.2 82.4h.01M215.6 91.8h.01M225.6 91.7h.01M227.7 81.7h.01M215.3 89.3h.01M217.8 83.3h.01M218.2 86.6h.01M216.3 86.9h.01M224.5 90.1h.01M230.2 81.6h.01M237.6 84.9h.01M231.7 87.3h.01M230.2 86.4h.01M231.2 80.3h.01M232.8 97.8h.01M218.3 82.6h.01M227.4 91.1h.01M224.2 87.2h.01M220.4 94.3h.01M217.6 70.6h.01M217.2 100.1h.01M219.2 84.3h.01M211 77.2h.01M225.9 86.7h.01M221.3 101.5h.01M222.4 89.3h.01M224.4 77.2h.01M227.7 82.6h.01M216.5 95.1h.01M220.6 76h.01M207.8 84.5h.01M208.6 83.7h.01M206.2 100.9h.01M234.6 83.8h.01M206 94.9h.01M225.5 81.1h.01M234.1 80.2h.01M217.6 92.8h.01M235.4 90.1h.01M237.2 73.8h.01M229.5 90.2h.01M241.7 90.3h.01M226.8 81.5h.01M215.3 87.3h.01M226 87.7h.01M217.8 82.4h.01M210.5 81.7h.01M210.7 81.1h.01M241.2 83.9h.01M216.9 76.5h.01M221.3 85.5h.01M215.9 75.4h.01M222.7 86.3h.01M219.5 85.2h.01M218.1 78.6h.01M211.3 91.7h.01M209.6 99.2h.01M215.3 95h.01M224.1 76.3h.01M239.3 94.6h.01M230.6 87.3h.01M237.1 85.4h.01M225.7 81.6h.01M220.9 85.7h.01M210.4 95.4h.01M221.7 89.5h.01M207.8 82.9h.01M219.1 81.1h.01M235.5 82.9h.01M224.4 89.8h.01M231.2 98.7h.01M218.4 78.4h.01M210 85.7h.01M217.6 83.1h.01M218.3 80.5h.01M231.9 88.5h.01M238.5 89.6h.01M215.4 75.9h.01M218.6 78.6h.01M220.5 94.1h.01M218.7 88h.01M211.1 89.4h.01M222.5 82.3h.01M224.8 83.1h.01M225 88.9h.01M211.5 82.3h.01M220.7 78.1h.01M206.9 85.8h.01M229.5 92h.01M213.1 78.6h.01M219.4 93.1h.01M217.9 90.6h.01M216.8 79.8h.01M212.7 85.8h.01M206.7 85.5h.01M236.5 90.2h.01M223.9 90.4h.01M224 76.7h.01M239.6 76.4h.01M220.9 92.9h.01M226.4 86.5h.01M221.9 88.7h.01M231.8 88.1h.01M226 96.4h.01M224.4 77.4h.01M219.6 93.3h.01M224.1 80.1h.01M231.7 90.8h.01M207.1 95.1h.01M220.7 76.2h.01M218.2 88.6h.01M219.2 83.8h.01M206.2 83.7h.01M228 86.1h.01M214.6 78.5h.01M219.8 79.1h.01M217.5 90.3h.01M207.6 91.6h.01M218 81.8h.01M206.1 75.7h.01M213.8 101.8h.01M219.1 93.4h.01M221.7 88.3h.01M222.2 78.6h.01M220.6 81.7h.01M240 87.4h.01M225.5 79.1h.01M211.4 96.8h.01M216.6 86.7h.01M216.2 88.5h.01M220.3 78.6h.01M216.7 79.5h.01M214.5 80.3h.01M235.8 87.7h.01M222.2 83.9h.01M218.9 83.8h.01M219.6 87.9h.01M219.9 87.3h.01M233.6 96h.01M225.9 84.4h.01M231.3 78.8h.01M215.9 85.7h.01M224.6 95.9h.01M230.8 81.9h.01M238.6 86.1h.01M222 83.3h.01M207.2 88.6h.01M226.8 87.5h.01M216.7 80.2h.01M206.6 84.2h.01M216.5 92.3h.01M230.8 93.3h.01M232 92.1h.01M227.9 91.7h.01M212.9 83.5h.01M243.2 83.3h.01M211.9 92.2h.01M221.1 77.7h.01M209.5 85.4h.01M233 73h.01M225.6 83.2h.01M229.4 80.9h.01M222.6 77.5h.01M221.2 89.8h.01M223.3 80.7h.01M205.8 83.2h.01M230.3 84h.01M229.6 80.7h.01M218.5 95.6h.01M221.7 82.4h.01M224.4 87.1h.01M235.2 76.8h.01M225.5 82.5h.01M222.2 83.5h.01M217.5 83.7h.01M209.1 81.8h.01M216.8 86.8h.01M222.5 96.5h.01M219.7 84.9h.01M222.5 84.8h.01M228.2 83.1h.01M225.6 103.2h.01M224.2 96.9h.01M227.5 89.6h.01M223.5 90.6h.01M221.6 80.9h.01M225.9 84.7h.01M207.2 87.2h.01M232.5 86.6h.01M210.9 79.9h.01M229 80.4h.01M222 89.3h.01M231.3 87.9h.01M222.2 71.3h.01M213.9 86.4h.01M231 94.5h.01M223.5 81.3h.01M222.9 87.4h.01M222.6 75.8h.01M230.4 91.5h.01M228.9 78.1h.01M223.9 77.2h.01M208.7 83.6h.01M218.5 102.1h.01M222.8 81.6h.01M237.2 77.1h.01M225.2 89h.01M221.2 87.4h.01M232.1 97.2h.01M221 77.1h.01M221.7 74.8h.01M223.3 83.6h.01M209.2 88.4h.01M230.1 88.2h.01M225.6 93.2h.01M219.6 75.5h.01M212.3 80.1h.01M223.8 84.9h.01M233.9 91.6h.01M216.5 89.1h.01M212.9 82.9h.01M225.5 78.8h.01M208.4 91.8h.01M208.1 92.3h.01M218.2 104.4h.01M216.1 84.6h.01M219.6 96.9h.01M217.3 77.5h.01M224.8 82.1h.01M220.1 81.1h.01M216.9 82.6h.01M218.1 79.8h.01M227.4 82.1h.01M230.1 85.4h.01M229.7 82.7h.01M227.9 90.3h.01M217.2 85.2h.01M213.5 85.8h.01M219.3 95.9h.01M223.7 88h.01M208.2 86.9h.01M234.1 85.7h.01M224.6 86.2h.01M216.7 89.7h.01M223.4 80.3h.01M219.1 93.6h.01M215.5 96.6h.01M226.3 93.7h.01M218.2 82.4h.01M210 74.9h.01M216.6 82.8h.01M221 86.8h.01M212.8 91.5h.01M232.7 84.5h.01M212.8 83.7h.01M237 96.2h.01M229.6 81.2h.01M214 93.1h.01M223.1 92h.01M232.1 76.7h.01M220.4 87.7h.01M211.9 82h.01M223 79.3h.01M239 73.1h.01M209.4 75.1h.01M226.8 88.6h.01M222.1 83.1h.01M221.1 87.7h.01M218.7 78.5h.01M219.3 83.6h.01M230.9 83.9h.01M227.1 75.2h.01M213.6 74.4h.01M235.3 88.8h.01M211.1 86.8h.01M227.7 79.4h.01M223.6 85.1h.01M232.3 90.3h.01M225.1 98.4h.01M231.1 79.7h.01M221.9 90h.01M230.4 100.3h.01M225 86.2h.01M240.4 95.9h.01M216.2 68.1h.01M232.3 95.7h.01M226.1 85.7h.01M223.6 72.9h.01M217.3 91.1h.01M225.9 93h.01M209.6 94.1h.01M210.5 94h.01M228.2 85.6h.01M208.9 80.7h.01M234.3 82.6h.01M219.8 85.6h.01M224.2 88.6h.01M222.8 82.5h.01M225.7 86.1h.01M219.8 91.8h.01M219 88h.01M221.1 101.5h.01M231.1 100.6h.01M231.8 77.9h.01M233 81.9h.01M225.2 76.8h.01M220.4 77.8h.01M207.9 89.5h.01M227.6 79h.01M229.3 78.6h.01M218.7 83.9h.01M229 91.3h.01M233.1 83.4h.01M223 83.3h.01M231.1 92.1h.01M224.8 89h.01M207.4 88.9h.01M218.1 92.3h.01M218.7 78.8h.01M226.7 87.3h.01M214.8 81.4h.01M218.4 92.9h.01M214 91.4h.01M221.8 78.6h.01M222.7 95h.01M230.4 77.8h.01M228.9 93.8h.01M223.6 87.2h.01M224.2 79.8h.01M223.1 78.1h.01M223.1 83.7h.01M235.3 85.6h.01M210.2 80.9h.01M220.7 89.7h.01M224.8 76.2h.01M231.8 85.7h.01M212.9 85.8h.01M225.1 72.9h.01M229.5 87.9h.01M218.4 77.1h.01M205.9 68.6h.01M219.1 81.6h.01M211.9 84.2h.01M227.7 92h.01M214.9 82.4h.01M237.3 95.9h.01M223.4 95.7h.01M215.3 93.3h.01M217.9 94.9h.01M212.9 88.2h.01M225.5 82h.01M234.8 90.3h.01M220.3 92.5h.01M230 87.4h.01M214.1 84.1h.01M224.8 75h.01M241.7 90.5h.01M210.2 88.2h.01M232.6 76.8h.01M232.1 86.5h.01M206.2 90.8h.01M210 85h.01M213.9 91.2h.01M230.4 91h.01M218.5 75.6h.01M220.7 83.7h.01M228.2 89.1h.01M223.2 92.1h.01M224.1 95.5h.01M219.4 72.5h.01M231.7 85.3h.01M215.5 90.7h.01M236.4 94.2h.01M219.3 97.4h.01M215.4 79.3h.01M227.6 83.2h.01M226 78.5h.01M205.9 91.4h.01M224 76.6h.01M210.7 94h.01M215.1 92.3h.01M228.8 89.2h.01M214.8 70.8h.01M225.2 81.1h.01M218.9 91h.01M238.6 76h.01M221.3 84.1h.01M212.1 85.1h.01M212.7 91.9h.01M214.4 87.7h.01M223.2 87.7h.01M222.1 82.7h.01M230.3 85.8h.01M223.5 84.9h.01M223.2 90.8h.01M224.8 84.5h.01M221 92.9h.01M224.6 74h.01M228.7 94.1h.01M228.7 84.6h.01M217.4 93.6h.01M207 86.4h.01M215.2 91.7h.01M224.5 96.1h.01M210.3 81.9h.01M218 86.3h.01M225.9 84.6h.01M217.2 87.2h.01M212.5 74.6h.01M236.9 84.6h.01M233.8 84.1h.01M219.8 80.3h.01M233.3 84.4h.01M233.1 75.1h.01M212.4 95.4h.01M244.8 88.9h.01M214 98.8h.01M219.8 79.7h.01M212.7 77.7h.01M222.7 87.7h.01M210.8 74.2h.01M221.9 87.3h.01M231.2 80.9h.01M223.8 83.5h.01M219.7 87.5h.01M235.1 86.1h.01M214.3 98.6h.01M230.2 90.1h.01M219.4 76.8h.01M223.8 92.5h.01M222.2 76.5h.01M223 86.4h.01M221.5 77.1h.01M215.3 80h.01M217.1 94.8h.01M225.7 81.9h.01M221 81.3h.01M212 81.9h.01M215.9 83.6h.01M216 95.7h.01M221.4 77.6h.01M223.4 77.2h.01M222.7 89.8h.01M216.3 74.7h.01M222 83.2h.01M210.2 93.6h.01M213.9 85.7h.01M221.4 82.4h.01M207.8 80.8h.01M213.8 79.4h.01M211.6 81.6h.01M227.2 86.7h.01M211.5 94.3h.01M224.1 92.4h.01M217.6 81.8h.01M211.3 80.6h.01M208.4 90.5h.01M225.7 73.1h.01M225 82.7h.01M228.3 83.4h.01M237.3 78h.01M224 78.8h.01M224.1 88.1h.01M220.7 74.2h.01M222.6 79.3h.01M218.7 81.2h.01M214.1 86.2h.01M238.6 76.2h.01M205.8 93.1h.01M223.8 83.5h.01M225.4 83.8h.01M222.9 83.1h.01M213.5 81h.01M220 78.8h.01M217.7 93.5h.01M212.5 87h.01M221.2 84.8h.01M218.1 92.5h.01M216.9 80.7h.01M227.4 89.9h.01M212.6 85.7h.01M225.3 79.4h.01M216.3 90.8h.01M225.2 75.2h.01M222.1 90h.01M223.6 79.4h.01M213.2 88.4h.01M214.9 95.1h.01M214.2 89.4h.01M223 81.4h.01M227.8 85.3h.01M230.6 83h.01M217.2 77.4h.01M222.2 77.9h.01M207.7 85.8h.01M208.6 89.2h.01M214.1 73.3h.01M215.8 85h.01M208.3 89h.01M206.3 86.2h.01M225.9 78.5h.01M214.6 92.6h.01M207.2 77.1h.01M241.1 89.9h.01M222.9 96.5h.01M218.7 71.4h.01M227.1 87.2h.01M214.9 87.6h.01M234.8 87h.01M208.3 80.1h.01M210.3 83.3h.01M220.2 75.8h.01M214.8 86.3h.01M233.3 89.1h.01M207.7 80.8h.01M215.1 79h.01M223.3 82.1h.01M226.1 85.3h.01M229.8 85.8h.01M224.2 84.6h.01M239.9 85.8h.01M217.2 76.3h.01M222.7 66.6h.01M228.5 89.6h.01M218.6 95.1h.01M218.7 75.6h.01M217.3 80.8h.01M215.8 87.4h.01M211.6 91.9h.01M216.5 89.8h.01M208.1 94.1h.01M224.4 85h.01M207.7 88.2h.01M238.7 88.2h.01M235.6 82.4h.01M230.5 93.6h.01M219.4 89.6h.01M216.2 92h.01M231.5 82.6h.01M222.7 92.4h.01M225.9 78.1h.01M215 88h.01M230.2 67.4h.01M214.3 78.4h.01M222 90.4h.01M206.5 82.2h.01M215.6 86.5h.01M225.3 74.2h.01M217.3 95.9h.01M217.3 89.4h.01M227.8 85.1h.01M220.5 88.2h.01M231.6 87.6h.01M210.6 95h.01M225.9 86.8h.01M225.4 75.2h.01M208 83.6h.01M210.1 94.1h.01M228.5 89.2h.01M212 82.4h.01M215.7 89.5h.01M226.1 86.1h.01M218.2 89.5h.01M225.1 74.4h.01M213.7 79.2h.01M223.6 89.9h.01M230.2 83.8h.01M223.8 87.7h.01M208.7 98.7h.01M226.6 83.2h.01M221.5 87h.01M213.4 81.5h.01M232.8 81h.01M206.3 84.8h.01M236.9 75.4h.01M215.7 70.9h.01M234.4 94.6h.01M220.7 84.6h.01M209.8 93h.01M221.8 86.1h.01M223.9 86.3h.01M225.6 89.9h.01M230 90.2h.01M213.4 77.1h.01M225.2 93.6h.01M227.3 78.7h.01M218.7 86.7h.01M213.1 102.8h.01M212.9 85.9h.01M227.4 96.7h.01M227.8 82.9h.01M214 89.5h.01M209.7 85.7h.01M231.5 88.2h.01M207.9 79.5h.01M222.4 79h.01M214.2 87.6h.01M206.2 74.6h.01M222.1 79.5h.01M219.4 89.7h.01M233.2 81.1h.01M240.3 79.2h.01M219.4 77.7h.01M229.7 86.3h.01M229.9 82.8h.01M216.6 86.3h.01M213.7 84h.01M234.7 98h.01M217.9 82.3h.01M220.8 71.9h.01M218.6 86.1h.01M219.9 85.3h.01M215.9 86.4h.01M227.4 74.3h.01M231.6 93h.01M217.9 85.1h.01M209.3 85h.01M221.5 74.5h.01M208.4 88.5h.01M215.6 84.9h.01M231.4 94.5h.01M240.7 82.5h.01M224.2 76.9h.01M212 86.2h.01M227.6 79.1h.01M209.2 88.1h.01M215.1 77.9h.01M233.9 84.4h.01M227.3 83.8h.01M209.3 85.1h.01M207 81.8h.01M228.3 79.8h.01M220.6 84.9h.01M216 81.4h.01M224.5 86.4h.01M216.2 83.5h.01M206.4 70h.01M227.9 84.9h.01M215.5 94.8h.01M212.5 87.4h.01M209.7 89.4h.01M223.1 88.4h.01M214.2 82.1h.01M226.3 76.3h.01M218.8 90.8h.01M230.2 92.5h.01M217.8 89.2h.01M215.5 88.2h.01M206.8 88h.01M211.7 85.1h.01M227.1 87.2h.01M246.9 85.4h.01M210.4 87.5h.01M212.3 78.9h.01M223.9 81.1h.01M225.1 89.2h.01M215.3 83h.01M221.7 69h.01M207.4 86.2h.01M218.5 69.9h.01M228.6 98.2h.01M234.9 90.2h.01M219.6 89.9h.01M218.8 80.8h.01M224.9 77.7h.01M230.4 83.9h.01M225.2 85.5h.01M214.7 80.1h.01M224 86.4h.01M229.2 90h.01M215 89.4h.01M209.7 78.3h.01M225.3 70.8h.01M224.1 85.4h.01M229.2 80.9h.01M221.8 88.4h.01M215.6 96.4h.01M217.3 96.4h.01M212.3 87.3h.01M213 92.8h.01M216.3 96.4h.01M217 85.7h.01M230.5 87.2h.01M210.7 91.1h.01M220.7 85.1h.01M216.1 82h.01M233.6 80.4h.01M223.3 85.4h.01M217.9 81.2h.01M228 90.7h.01M221.6 83.2h.01M217.1 95.2h.01M234.1 93.5h.01M227.1 77.1h.01M235.7 92.7h.01M230.9 82.7h.01M227.6 94.6h.01M222.2 88.9h.01M211.9 85.1h.01M227.1 89.9h.01M221.7 81.7h.01M226.8 87.7h.01M221 88h.01M215.3 84.5h.01M212.6 88.1h.01M227 78.8h.01M232 89.2h.01M218.7 77.4h.01M225 89.6h.01M232.8 88.6h.01M214.1 90.2h.01M218.3 81.8h.01M211.7 105.8h.01M231.1 84h.01M223.4 86.5h.01M217.2 80.5h.01M207.2 95.1h.01M219.6 82.4h.01M229.6 92.2h.01M218.6 79.3h.01M217.6 87.6h.01M226.6 83.1h.01M210.7 91.8h.01M221.6 83.6h.01M226.2 79.8h.01M214.6 88.6h.01M214.2 77.7h.01M223.3 79.2h.01M220.3 90.7h.01M219.2 73.2h.01M222.9 90.7h.01M223 83h.01M213.4 79.5h.01M215.5 87.3h.01M225 89.8h.01M230.6 81.8h.01M232.6 84.5h.01M214 91h.01M230.4 90.7h.01M227.6 85.3h.01M220.9 80.6h.01M225.3 79.4h.01M228.2 81.7h.01M236.3 90.2h.01M212.3 89.5h.01M226.3 87.7h.01M220 94.9h.01M219.5 83.7h.01M230.9 83.2h.01M228.1 83.2h.01M212.7 98.4h.01M218.8 72.1h.01M223.1 87.7h.01M209.3 88.7h.01M228.5 86.2h.01M220.6 101.2h.01M222.6 93.5h.01M224.1 90.9h.01M236.4 79.8h.01M221.5 89.1h.01M218.2 83.3h.01M235.9 86.1h.01M217 87.1h.01M216.8 82.6h.01M209.6 90h.01M230.3 96.6h.01M223.5 92.7h.01M225.2 87.3h.01M222.6 73.1h.01M220.1 93h.01M214.6 93h.01M214.7 84.6h.01M224.9 82.7h.01M222.3 90.2h.01M235 80.5h.01M214.9 91.1h.01M217.2 78.8h.01M212.7 79.8h.01M232.8 86h.01M210.9 76.3h.01M227.7 85.9h.01M233.4 89.4h.01M220.1 77.2h.01M227.4 92h.01M207.8 82.2h.01M218 89.5h.01M207.3 87.3h.01M222.7 82.9h.01M221.3 82.5h.01M214.8 74.7h.01M229.2 81.3h.01M224.3 80.9h.01M216.9 96.7h.01M217 92.6h.01M208.9 76.9h.01M219.7 91.2h.01M239.1 87.4h.01M215.3 83.4h.01M224.8 89h.01M216.7 91.1h.01M228 82.2h.01M225 84.1h.01M219.3 87h.01M206.3 79.5h.01M217 87.2h.01M231.4 85.4h.01M219.2 81.5h.01M226.6 80.4h.01M217.2 88h.01M205.6 91.7h.01M224.9 88.1h.01M224 80.4h.01M216.4 90.9h.01M218.2 87.1h.01M223.7 89.9h.01M216.3 93.6h.01M224.2 80.1h.01M219.6 85.1h.01M209.7 82.1h.01M220.1 80.2h.01M216.3 99.1h.01M214.3 92.1h.01M224.7 74.4h.01M217.2 88.8h.01M225.8 82.3h.01M230.5 93.5h.01M222.5 86.5h.01M208.3 84.8h.01M215.2 86.9h.01M229 88.5h.01M219.1 86.2h.01M214.5 84.5h.01M220.6 85.1h.01M225.5 89.3h.01M223.5 78.6h.01M226.7 86h.01M214.4 85.2h.01M219 82.8h.01M219.2 90.8h.01M221.1 77.6h.01M207.5 83.6h.01M219.3 80.4h.01M210.1 89.6h.01M233 82.9h.01M234.4 86.3h.01M235.5 88.5h.01M228.1 75.5h.01M217.3 89h.01M229.4 81.1h.01M219.6 84.3h.01M226.5 85.3h.01M213.8 91.3h.01M216.4 90.8h.01M225.2 97.5h.01M236.2 87.2h.01M221.1 82.9h.01M240.3 82.7h.01M244.5 90.3h.01M210.6 96.5h.01M221.1 88.2h.01M213.4 82.2h.01M220.2 87.8h.01M216.9 87.7h.01M220.8 86.2h.01M229.5 81.1h.01M229.2 69.4h.01M223.5 82.5h.01M221.4 92.9h.01M222.4 87.4h.01M222.4 71.6h.01M226.2 86h.01M221.4 73.9h.01M225.6 99h.01M210.4 87.2h.01M228 78.1h.01M236.1 91.2h.01M222.9 80.9h.01M209.5 89.7h.01M232.7 86.1h.01M218.6 78.3h.01M214.9 90.3h.01M219.5 77.2h.01M226.5 94.8h.01M224.6 86.4h.01M231.8 79.3h.01M226.6 74.1h.01M222.4 96.6h.01M206.4 95.5h.01M212 77.8h.01M222.9 96.8h.01M227.1 87.1h.01M212.8 84.6h.01M216.2 85.4h.01M225.3 84.2h.01M205.9 95.4h.01M206.2 87h.01M219.5 74h.01M223.5 99.7h.01M217.4 91.8h.01M209.1 78.9h.01M221.6 83.7h.01M210.2 80.1h.01M226.9 86.3h.01M220.5 88.6h.01M223.6 87.6h.01M226.8 82.1h.01M217 80.8h.01M228.4 91.5h.01M231.9 85.3h.01M224.7 100.7h.01M232.6 80.7h.01M216.1 91.2h.01M229.1 86.3h.01M223.7 81h.01M213.1 94.9h.01M220.7 86.8h.01M216.9 80.2h.01M216.8 83.9h.01M222.1 92.7h.01M230.3 78h.01M218.7 95h.01M222.5 90.5h.01M209 84.2h.01M222.3 94.9h.01M231.1 97.4h.01M228.2 89.9h.01M225.4 87.1h.01M229.8 86h.01M228.2 91h.01M217.3 83.7h.01M220.6 85.6h.01M220.5 82.6h.01M219.7 85.7h.01M214.8 84.1h.01M225.6 87.7h.01M221.9 85.1h.01M221.9 83.3h.01M227.8 84.5h.01M219 85.2h.01M221.2 83.6h.01M222.7 89.2h.01M219.6 88.2h.01M221 86.2h.01M224.9 81h.01M221.5 87.6h.01M227.5 80.7h.01M218.1 86.3h.01M222.4 85.8h.01M215.1 83.3h.01M221 82.4h.01M218.3 82.9h.01M227.6 93.6h.01M224.9 84.6h.01M223.8 84.8h.01M229.8 89.3h.01M228 87.2h.01M224.7 89.7h.01M218.4 80.9h.01M215 81.4h.01M221.4 98.5h.01M219.9 85.4h.01M218.6 84.5h.01M220.2 86.2h.01M214 89.4h.01M228.2 81h.01M216.3 86.7h.01M218.5 85.5h.01M224.1 88.2h.01M214.1 86.3h.01M225.7 83.6h.01M225.7 82.3h.01M220.1 76.2h.01M216.6 89.4h.01M219.4 79.9h.01M213.1 84.1h.01M227.8 92h.01M221.7 84h.01M218.2 88h.01M217.4 84.8h.01M224.1 88.3h.01M228.3 85.7h.01M215.7 83.6h.01M218.9 90.8h.01M213.5 84.6h.01M224.6 80.4h.01M222.2 84.3h.01M231.7 87.7h.01M220.9 81.3h.01M219.5 88.6h.01M218.3 88.6h.01M225.4 93.8h.01M214.1 83.1h.01M224.9 88.1h.01M222.6 79.2h.01M219.2 84h.01M217.4 86h.01M226.3 87.2h.01M230 85.4h.01M219.5 85.3h.01M223.9 83.2h.01M229.4 83.9h.01M218.7 86.8h.01M220.4 87.8h.01M215.9 88.1h.01M220.8 89.4h.01M221.1 90.2h.01M219.6 78.7h.01M218.1 83.6h.01M214.3 85h.01M215.4 83.1h.01M217 89.6h.01M224.4 88.5h.01M219.2 85.2h.01M217.6 86.1h.01M224.5 90.5h.01M224.1 84.3h.01M218.1 84.4h.01M218.6 89.1h.01M224.5 87.4h.01M223.2 91h.01M217.7 87h.01M222.6 88.5h.01M221.4 83.5h.01M226.6 82h.01M217.5 85.6h.01M225.5 75.4h.01M223.5 87.2h.01M216.9 89.3h.01M226.3 85.9h.01M225.7 84.8h.01M215.5 89.8h.01M230.6 85.4h.01M216.3 89.4h.01M217.3 94h.01M220 88.4h.01M225 89.2h.01M224.2 87.5h.01M221.1 86.6h.01M227.8 86.7h.01M223.4 85.9h.01M227.9 89.8h.01M234.4 79.4h.01M222.4 84.6h.01M209.7 88.1h.01M219.4 82.4h.01M216.6 85.2h.01M221.9 82.9h.01M221.9 87.3h.01M215.9 88.9h.01M216.2 91.2h.01M220.3 87.5h.01M220.6 82.9h.01M209.5 86.6h.01M226 87.8h.01M221.6 91h.01M221.5 77.4h.01M222.9 87h.01M216.8 78.6h.01M221.3 88.3h.01M226.3 87.3h.01M226.5 87.5h.01M223.6 89h.01M220.2 87.1h.01M217.7 83.1h.01M227.6 86.9h.01M223.9 90.2h.01M219.5 85.2h.01M211.4 85.7h.01M217.5 81h.01M212.5 90h.01M227.3 83.7h.01M222.4 82.8h.01M218 83.9h.01M220.2 82.3h.01M233.6 84.6h.01M227.2 90.5h.01M215.2 88.6h.01M220.9 91h.01M215.7 91.3h.01M213.4 82.2h.01M222.3 87.4h.01M232.8 91.3h.01M228.8 94.4h.01M221.7 80.2h.01M219.7 80.2h.01M222.4 87.4h.01M226.4 84.3h.01M214.6 81.8h.01M212.7 87.1h.01M230.4 82.6h.01M222.8 76.9h.01M229.1 85.5h.01M222.6 86.1h.01M228.5 88h.01M218.6 89.2h.01M223.8 86.3h.01M228.8 84.7h.01M226.3 83.1h.01M219.3 79.3h.01M225.7 83.9h.01M218.4 89.4h.01M214.8 88.1h.01M224 93.4h.01M228.1 85h.01M225.5 78.8h.01M215.5 88.7h.01M225.6 89.6h.01M224.7 81.1h.01M219.3 79.4h.01M209.7 86.2h.01M226.3 88.3h.01M225.7 81.3h.01M223.9 84.3h.01M213.3 82.6h.01M214.4 81.1h.01M226.3 80.6h.01M225.3 86.1h.01M223.9 84.2h.01M220.3 83h.01M223.4 75.6h.01M218.9 92.2h.01M220 82h.01M217.4 85.1h.01M222.7 81.2h.01M219.5 87h.01M226 79.8h.01M224.9 85.9h.01M217.6 84.8h.01M230.3 89.1h.01M216.1 81.4h.01M223.6 83.1h.01M226.7 84.7h.01M227.6 93.6h.01M211 79.9h.01M226.3 86.7h.01M227.3 83.1h.01M228.4 86.7h.01M210.9 88h.01M218.3 86.1h.01M221 86.6h.01M219.4 86.6h.01M227.9 83.3h.01M218.2 84.7h.01M227.4 79.2h.01M224.2 84.2h.01M214.5 82.6h.01M216.7 84.6h.01M219.3 88.4h.01M222 87h.01M226.3 87.3h.01M220.6 89.8h.01M225.9 76.4h.01M213.9 87.2h.01M206.9 85.4h.01M219.9 85.2h.01M223.7 80.5h.01M219.8 87.6h.01M216.7 89.9h.01M223.5 89.5h.01M230.8 85.2h.01M221 88h.01M218 89h.01M217.4 92.5h.01M230.9 90.2h.01M221.3 86.1h.01M224.4 85.9h.01M227.4 86.2h.01M226.7 86.4h.01M217.1 83.6h.01M226.1 88.5h.01M225.6 82.9h.01M223.8 82.5h.01M226.3 86.9h.01M218.8 83.3h.01M221.1 84.6h.01M219 77.6h.01M225.1 88.6h.01M218.4 85.5h.01M223.4 85h.01M216.2 87.3h.01M220.9 86.3h.01M219.8 82.8h.01M221 93.2h.01M222.1 83.8h.01M220.6 89.2h.01M220.4 92.5h.01M211.6 83.1h.01M226.8 85.9h.01M218.5 82.4h.01M220.3 89.5h.01M217.5 84.2h.01M226.3 81.3h.01M217.2 90.5h.01M223.9 89h.01M227.2 82.1h.01M229.4 90h.01M227.2 86.3h.01M224.5 95.9h.01M215.8 92.1h.01M227.7 83.4h.01M227.2 84.5h.01M225.5 82.2h.01M225.4 86h.01M221.9 85.7h.01M219 88.3h.01M226.7 85.8h.01M227.6 79.9h.01M216.5 82.4h.01M225.9 90.9h.01M222.7 89.9h.01M225.8 84.9h.01M222.9 85h.01M226.9 84.9h.01M226.5 85.6h.01M225.8 79.1h.01M215 88.9h.01M225.5 83h.01M221.8 86.1h.01M216.2 75.9h.01M224.9 86.4h.01M215 90.6h.01M225.8 77h.01M229.7 91.3h.01M219.2 87.3h.01M226 82.7h.01M223.7 79.4h.01M224.7 89.9h.01M215.1 86.5h.01M224.5 87.8h.01M222.2 84.5h.01M225.1 82.5h.01M221.6 88.8h.01M226.8 81.9h.01M222.9 88.9h.01M224.8 79.1h.01M228.1 82h.01M222.5 80h.01M226.3 90.5h.01M222.7 78.8h.01M224.1 81.1h.01M219.1 88h.01M225.3 86.4h.01M227.5 93.9h.01M221.2 92.5h.01M225.4 87.9h.01M223.7 88.1h.01M216.4 78.5h.01M223.3 82.1h.01M227.9 84.2h.01M219.3 84.8h.01M213.2 80.2h.01M222.6 81.9h.01M218.6 82.3h.01M230.6 89.6h.01M221.5 87.1h.01M221.6 84.2h.01M218.7 84.4h.01M222.8 86.6h.01M219 82.8h.01M217.4 84.5h.01M221.4 78.9h.01M217.8 88.1h.01M227.9 89.2h.01M216.2 86.9h.01M221.3 87.3h.01M218.4 86.9h.01M215.2 93.3h.01M229.5 86.3h.01M211.8 80.4h.01M228.5 81.5h.01M215 88.2h.01M222.1 89.6h.01M232.3 88.4h.01M211.6 88.7h.01M215.2 86.2h.01M227.8 79.8h.01M222.5 82.8h.01M219.1 78.6h.01M221.5 84h.01M217.1 80.3h.01M222.2 85.9h.01M228.7 84.8h.01M219.9 78h.01M222.3 88.3h.01M227.3 88.4h.01M231 80.2h.01M218.9 86h.01M223.1 88.2h.01M219 84.4h.01M218.6 88.8h.01M219.8 86.2h.01M218.7 89.6h.01M213.5 86.2h.01M212.3 84.8h.01M218.2 87.4h.01M222.3 88.5h.01M227.4 86.4h.01M219.2 83.7h.01M220.9 82.4h.01M224.8 84h.01M225.2 83.3h.01M221.1 86.2h.01M221.4 86.1h.01M230.5 85.1h.01M220.1 85.4h.01M219.4 86.1h.01M214 91.5h.01M223.7 90.1h.01M220.4 83.2h.01M230.6 87.1h.01M220.1 84.2h.01M225.5 85.1h.01M226.1 84.5h.01M229.4 83h.01M215.5 80.2h.01M229 76h.01M221.7 86.2h.01M221.2 90h.01M220.2 81.9h.01M219.8 87.4h.01M220.1 83.9h.01M210.7 86.5h.01M224.1 82.3h.01M222 84.5h.01M217.2 85h.01M221.4 76.3h.01M232.5 86.3h.01M223.5 84.9h.01M219.8 75.9h.01M229.7 87.9h.01M217.9 85.3h.01M220.9 86.2h.01M219.1 86.8h.01M220.6 83.8h.01M225.1 81.3h.01M224.4 83.7h.01M218.2 83.8h.01M221.1 94h.01M222.1 92.5h.01M219.7 83.5h.01M221.5 83.8h.01M218.3 86.7h.01M218.2 87.6h.01M221.9 82.7h.01M216.8 81.5h.01M223.6 92.9h.01M220.8 89.5h.01M217.3 79.4h.01M218.8 78.6h.01M219.4 82.2h.01M220.9 86.2h.01M222.2 87.5h.01M220.7 84.1h.01M217.6 79.1h.01M228.3 86.2h.01M225.9 87.7h.01M222.2 85.4h.01M226.1 83.5h.01M223.2 87.6h.01M220.4 85.2h.01M222 81h.01M234.1 85.8h.01M226.3 80.4h.01M226.5 89.1h.01M219.8 87.2h.01M224.4 81.5h.01M232.2 86.2h.01M223.6 90.2h.01M226.6 77h.01M227.5 84.8h.01M224.6 91.8h.01M229 79.3h.01M222.7 84.7h.01M224 79.8h.01M218.7 85.1h.01M233.9 76h.01M223.1 79.1h.01M255.3 85.1h.01M256.7 86.7h.01M257.2 85.9h.01M257.3 87.4h.01M258.9 84.8h.01M257.9 86.6h.01M258 83.7h.01M254.3 85.8h.01M256.1 83.1h.01M263.3 88.7h.01M261.3 83.4h.01M258.2 88.8h.01M258 85.8h.01M258.6 86.1h.01M255.6 90.2h.01M260.7 87.2h.01M255.6 81.7h.01M256.3 88.3h.01M261.1 78.9h.01M251.9 87.7h.01M257.2 85.8h.01M252.7 83.1h.01M254.3 95.4h.01M251.7 89.3h.01M267.7 90.8h.01M250.8 98.4h.01M267.2 90.3h.01M263.4 80.6h.01M249.6 76.1h.01M248.1 89.5h.01M262.9 81.7h.01M252.8 91.8h.01M254.9 80.9h.01M252 87.3h.01M245.4 79.5h.01M251.2 87.3h.01M247.1 86.7h.01M243.2 93.9h.01M251.8 99.2h.01M266.2 88.5h.01M265 83.8h.01M253.4 103.4h.01M254.7 92.3h.01M257.4 94.1h.01M263.2 94.1h.01M256 100h.01M250.5 96.9h.01M251.1 94.5h.01M261.7 95.2h.01M271.9 83.8h.01M249.4 85.6h.01M239.5 89.1h.01M220.9 141.1h.01M220.4 147.4h.01M222.3 129.3h.01M220.5 136.5h.01M217.6 135.6h.01M209.8 126.7h.01M225.8 118.7h.01M224.1 126.9h.01M214.6 121.1h.01M223.6 130.6h.01M222.9 132.1h.01M220.8 131.8h.01M208.4 131.9h.01M212.5 137.4h.01M216.4 125.4h.01M230.8 140.8h.01M214.8 119.1h.01M218.1 133.8h.01M213.1 136.6h.01M217.1 126.6h.01M222.6 119.7h.01M206.9 138.7h.01M209.3 127.6h.01M224.6 139.9h.01M220.6 139.8h.01M216.4 133.2h.01M226.6 133.3h.01M226.6 141.6h.01M206.7 136.5h.01M219.2 125.4h.01M227.5 134.7h.01M216 138h.01M218.3 135h.01M226.5 134.9h.01M218.6 132h.01M212.6 132.3h.01M215.9 125.3h.01M211.7 121.1h.01M223.9 142.8h.01M209.1 127.9h.01M226.8 135.1h.01M209.6 120.6h.01M220.6 134.6h.01M210.8 126.3h.01M218.3 141h.01M227 124.6h.01M227.6 125.1h.01M228.8 141.2h.01M219.8 142.9h.01M221 115.4h.01M221.8 135.4h.01M224.3 140.7h.01M217.7 122.9h.01M227.5 139h.01M222.4 128.8h.01M227.8 124.8h.01M223.4 130.3h.01M224.7 129.4h.01M215.6 121.5h.01M217.6 147.2h.01M211.9 129.4h.01M218.4 126.9h.01M219.2 140.5h.01M225.8 132.6h.01M212.1 144.5h.01M241.3 131h.01M219.5 136.2h.01M228.5 134h.01M227.1 134.7h.01M207.3 131.5h.01M218.6 132.4h.01M229.9 147.4h.01M206.6 127.5h.01M225.3 128.6h.01M214.4 130.4h.01M217.3 138.1h.01M221.8 136.6h.01M208.2 141.1h.01M221.6 121.9h.01M216.1 135.4h.01M215.5 131.8h.01M224.9 130.8h.01M243.1 134.6h.01M222.6 116.6h.01M223.9 135.6h.01M220 134.5h.01M215.6 121.2h.01M222 132.5h.01M230.2 146.3h.01M221.5 130h.01M226.1 138.3h.01M218.8 131.4h.01M236.7 126.4h.01M209.6 125.5h.01M224.1 129.9h.01M223.8 144.2h.01M222 140.1h.01M213 127.3h.01M212.9 141.7h.01M218.8 132.2h.01M220.9 127.4h.01M212.4 136.9h.01M213.4 125.6h.01M223.9 120h.01M227 144.2h.01M216.6 117.9h.01M215.7 137.8h.01M215.6 120.4h.01M236.4 133h.01M223.5 131.6h.01M219.8 129.6h.01M226.8 114.9h.01M235.2 132.3h.01M227.9 133h.01M211 125.7h.01M219.7 132.7h.01M217.6 141.6h.01M218 127.2h.01M212.3 135.4h.01M217.7 123.6h.01M213.2 136.5h.01M222.5 138.6h.01M220.5 145.3h.01M211 140.9h.01M209.1 136.9h.01M217.1 145.1h.01M224.5 124.9h.01M223.5 142.3h.01M219.8 128.7h.01M212.5 128.1h.01M217 142.5h.01M215.4 135.3h.01M218.1 144.4h.01M212.3 121.1h.01M217.4 135.6h.01M215.9 128.9h.01M237.9 131h.01M224.8 117.3h.01M219 141.2h.01M219.9 135.1h.01M219.5 125.1h.01M221.5 122h.01M217.6 126h.01M220.1 145h.01M226.9 132.5h.01M225.7 130.5h.01M222.3 137.5h.01M228.9 133.4h.01M221.7 135.3h.01M213.8 139.6h.01M208.8 136.1h.01M215.7 140.7h.01M219.8 123.4h.01M222.8 133.9h.01M227.3 130.4h.01M216.5 134.3h.01M215 133h.01M225.3 128.1h.01M227.9 130.5h.01M217.1 141.3h.01M222.4 128.8h.01M229.2 123h.01M222.3 138.4h.01M219.9 141.5h.01M206.7 131.2h.01M228.9 134.5h.01M224.4 126.4h.01M221.1 131.7h.01M217.2 142.7h.01M212.1 140.1h.01M219.6 134.7h.01M219.5 131.2h.01M227.4 119.9h.01M212.3 136.1h.01M229.6 137.3h.01M220.5 142.2h.01M228 149.1h.01M213.9 136.6h.01M222.5 141.4h.01M228.2 124.2h.01M221 143.5h.01M210.7 140.7h.01M218.1 144.8h.01M223.7 139.1h.01M211.1 137.3h.01M210.8 145.8h.01M221.8 128h.01M214 138.9h.01M224.7 142.5h.01M212.6 127h.01M208.3 123.9h.01M215.2 137.1h.01M230 134.6h.01M214.6 138.6h.01M220.2 138.9h.01M221.8 127.2h.01M214.1 136.4h.01M227.4 142.9h.01M221.4 130.6h.01M223.1 131.2h.01M209.3 124.2h.01M208.8 140.4h.01M208.9 149.6h.01M219 122.2h.01M218.8 139.9h.01M225 141.1h.01M229.9 129h.01M218.6 130.5h.01M218.5 124.9h.01M223.2 127.1h.01M230.2 135h.01M214.9 139h.01M224.3 134.6h.01M218.6 140.7h.01M218.1 135.3h.01M225.6 123.9h.01M215.1 145.7h.01M213.3 143.5h.01M224.6 127.8h.01M220.1 148.3h.01M218.5 137.5h.01M219.4 134.7h.01M223.5 149.5h.01M217.9 113h.01M225.2 120.4h.01M223 139.6h.01M229.9 131.6h.01M228.5 125.8h.01M225.8 146.2h.01M218.9 137.7h.01M221 123.1h.01M216.4 128.2h.01M238.8 140.7h.01M218.8 148.5h.01M223.9 117.1h.01M229.1 135.8h.01M211.4 130.5h.01M214.9 119.2h.01M217.7 132.3h.01M213.8 120.4h.01M212 129.3h.01M216.9 147.1h.01M228.7 138h.01M225 140.2h.01M220.5 138.7h.01M220.5 136.7h.01M209.5 141.8h.01M224.8 124.1h.01M223.1 130.8h.01M213.3 140.8h.01M221.6 127.7h.01M219 130.1h.01M216.9 143.8h.01M213.9 146.5h.01M215.9 128.8h.01M214.2 127h.01M223.3 138.6h.01M222.7 136h.01M222.4 128.2h.01M219.1 138.8h.01M217.6 138.4h.01M233.6 134.5h.01M208.2 141.2h.01M228.1 145.1h.01M222.6 140.6h.01M220.8 142.3h.01M217 141h.01M218.9 142.9h.01M212.6 127.9h.01M211.3 136.5h.01M219.6 134.4h.01M209.5 129.1h.01M225.8 136h.01M227.6 135.9h.01M213.3 133.4h.01M210.2 129.8h.01M222.1 140.7h.01M221.7 120.6h.01M221 140.7h.01M223.1 133.9h.01M225.2 136.1h.01M225.9 114.1h.01M232 147.8h.01M220.5 119.5h.01M225.9 126.7h.01M209.8 139.2h.01M219.5 128.8h.01M212.4 130.5h.01M229.4 115.3h.01M235.5 130.2h.01M223.8 135.6h.01M211.9 139.5h.01M219.6 131.5h.01M220.5 135.7h.01M221.6 137.5h.01M227.4 128.3h.01M226.5 127.6h.01M208.1 149.2h.01M229.2 126.8h.01M217.1 144.1h.01M216.7 134.5h.01M229.5 146.1h.01M218.6 128.6h.01M211.4 138.2h.01M211.7 136.6h.01M220.7 132h.01M226.2 136.5h.01M230.1 127.5h.01M219.2 133.2h.01M217.3 130.6h.01M230.9 140.2h.01M217.4 133.1h.01M229.8 122.3h.01M221.9 130.8h.01M221.9 133.1h.01M218.8 126.4h.01M222.3 145h.01M217.3 137.3h.01M215.9 140.9h.01M219.5 127.5h.01M216.1 130.6h.01M222.3 142.3h.01M220.9 121.9h.01M218.6 136.9h.01M219.1 134.6h.01M218.9 129.7h.01M231.7 134.6h.01M220.3 124.9h.01M216.5 135.8h.01M218.4 123.7h.01M224.7 123.2h.01M219 145.5h.01M219.4 128h.01M218.7 116.3h.01M221.4 142h.01M222.9 127.4h.01M223.2 104.5h.01M209.7 133.4h.01M213.4 141.6h.01M207.9 136.8h.01M225.6 148.2h.01M227.5 132.8h.01M228.8 138.9h.01M221.3 125.5h.01M227.8 135.3h.01M220.1 146.7h.01M219.6 138.1h.01M210.3 135.2h.01M215.3 117.4h.01M216.5 130.7h.01M214.9 114h.01M233.4 105.4h.01M221.7 108.4h.01M229.4 98.8h.01M220 113h.01M228.3 101.7h.01M227.4 103.7h.01M213.4 102.9h.01M231.3 113.8h.01M213.9 106.8h.01M223.3 119.9h.01M217.6 115.6h.01M225.4 118.3h.01M216.8 113.1h.01M225.8 103.1h.01M229.2 105.1h.01M225.5 106h.01M230.6 102.5h.01M221 108.3h.01M227 115.4h.01M222.4 109.5h.01M232.2 101.7h.01M215 114.1h.01M231.3 119.2h.01M213.3 108.4h.01M231 101.1h.01M214.8 114.1h.01M227.6 109.9h.01M215.1 115.8h.01M229.4 111.3h.01M217.7 117.2h.01M214.5 98.3h.01M231.3 112.3h.01M225.1 111.2h.01M230.8 115.1h.01M229.6 102.8h.01M215 110.9h.01M215 103.9h.01M228 114.6h.01M230.8 99.8h.01M216.8 101.5h.01M231.6 118.8h.01M213.6 114.2h.01M229.1 103.5h.01M226.2 104.9h.01M221.1 107.5h.01M221 103.1h.01M219.5 101.1h.01M223 119.3h.01M223.5 102.7h.01M216.5 114.5h.01M213.3 113.8h.01M224.1 114.2h.01M217 104.7h.01M215.1 102.9h.01M218.3 111.6h.01M216 119.9h.01M231.2 106.6h.01M219.1 102.8h.01M226.6 109.2h.01M213.2 102.2h.01M226.9 105.6h.01M233 114.2h.01M228.9 103.3h.01M229 107.9h.01M221.8 112.2h.01M223 101.5h.01M231.9 101.2h.01M218 119.2h.01M223.6 117.1h.01M211.2 68.1h.01M209 71.6h.01M208.5 84.6h.01M205.8 100.1h.01M206.7 68.2h.01M205.8 87.4h.01M208.7 76.8h.01M208 80.8h.01M206.2 101.1h.01M205.7 89.9h.01M209 76.8h.01M206 83.2h.01M206.1 103.3h.01M206.6 99h.01M210.6 82.2h.01M209.6 86.1h.01M208.6 83.4h.01M206.6 71.7h.01M208.3 102.8h.01M206.1 74.7h.01M207.3 74.3h.01M208.4 70.2h.01M205.6 101.8h.01M209.1 100.8h.01M208.1 90.2h.01M274 99h.01M238.4 131h.01M257 137.6h.01M265.4 134.8h.01M284.6 140.8h.01M246 136h.01M229 57.8h.01M209 62.5h.01M306 135.6h.01M262 78h.01M247 73h.01"/>
<path class="fr" d="M204.8 47.3H336.1V150.5"/>
<path class="ax" d="M204.8 46.8V150.5H336.6"/>
<path class="mt" d="M204.8 148.9v6.8M206.4 150.5h-5.8M214.7 150.5v2.5M204.8 142.7h-2.5M220.5 150.5v2.5M204.8 138.2h-2.5M224.6 150.5v2.5M204.8 135h-2.5M227.7 150.5v2.5M204.8 132.5h-2.5M230.3 150.5v2.5M204.8 130.4h-2.5M232.5 150.5v2.5M204.8 128.7h-2.5M234.4 150.5v2.5M204.8 127.2h-2.5M236.1 150.5v2.5M204.8 125.9h-2.5M237.6 148.9v6.8M206.4 124.7h-5.8M247.5 150.5v2.5M204.8 116.9h-2.5M253.3 150.5v2.5M204.8 112.4h-2.5M257.4 150.5v2.5M204.8 109.2h-2.5M260.6 150.5v2.5M204.8 106.7h-2.5M263.2 150.5v2.5M204.8 104.6h-2.5M265.4 150.5v2.5M204.8 102.9h-2.5M267.3 150.5v2.5M204.8 101.4h-2.5M268.9 150.5v2.5M204.8 100.1h-2.5M270.5 148.9v6.8M206.4 98.9h-5.8M280.3 150.5v2.5M204.8 91.1h-2.5M286.1 150.5v2.5M204.8 86.6h-2.5M290.2 150.5v2.5M204.8 83.4h-2.5M293.4 150.5v2.5M204.8 80.9h-2.5M296 150.5v2.5M204.8 78.8h-2.5M298.2 150.5v2.5M204.8 77.1h-2.5M300.1 150.5v2.5M204.8 75.6h-2.5M301.8 150.5v2.5M204.8 74.3h-2.5M303.3 148.9v6.8M206.4 73.1h-5.8M313.2 150.5v2.5M204.8 65.3h-2.5M318.9 150.5v2.5M204.8 60.8h-2.5M323 150.5v2.5M204.8 57.6h-2.5M326.2 150.5v2.5M204.8 55.1h-2.5M328.8 150.5v2.5M204.8 53h-2.5M331 150.5v2.5M204.8 51.3h-2.5M332.9 150.5v2.5M204.8 49.8h-2.5M334.6 150.5v2.5M204.8 48.5h-2.5M336.1 148.9v6.8M206.4 47.3h-5.8"/>
<text class="tk" transform="translate(205.1 161.4) scale(1.02 1)" x="-5.5 0" y="0">10<tspan class="ex" x="5.4" dy="-3">0</tspan></text>
<text class="tk" transform="translate(200.7 150.6) rotate(-90) scale(1.1 1.1)" x="-5.2 0" y="0">10<tspan class="ex" x="5.1" dy="-3">0</tspan></text>
<text class="tk" transform="translate(237.9 161.4) scale(1.02 1)" x="-5.5 0" y="0">10<tspan class="ex" x="5.4" dy="-3">1</tspan></text>
<text class="tk" transform="translate(200.7 124.8) rotate(-90) scale(1.1 1.1)" x="-5.2 0" y="0">10<tspan class="ex" x="5.1" dy="-3">1</tspan></text>
<text class="tk" transform="translate(270.8 161.4) scale(1.02 1)" x="-5.5 0" y="0">10<tspan class="ex" x="5.4" dy="-3">2</tspan></text>
<text class="tk" transform="translate(200.7 99) rotate(-90) scale(1.1 1.1)" x="-5.2 0" y="0">10<tspan class="ex" x="5.1" dy="-3">2</tspan></text>
<text class="tk" transform="translate(303.6 161.4) scale(1.02 1)" x="-5.5 0" y="0">10<tspan class="ex" x="5.4" dy="-3">3</tspan></text>
<text class="tk" transform="translate(200.7 73.2) rotate(-90) scale(1.1 1.1)" x="-5.2 0" y="0">10<tspan class="ex" x="5.1" dy="-3">3</tspan></text>
<text class="tk" transform="translate(336.4 161.4) scale(1.02 1)" x="-5.5 0" y="0">10<tspan class="ex" x="5.4" dy="-3">4</tspan></text>
<text class="tk" transform="translate(200.7 47.4) rotate(-90) scale(1.1 1.1)" x="-5.2 0" y="0">10<tspan class="ex" x="5.1" dy="-3">4</tspan></text>
<text class="lb" text-anchor="middle" transform="translate(250.6 176) scale(0.92 1)" x="3.5 11.3 19.1 27" y="0">CD34</text>
<text class="lb" text-anchor="middle" transform="translate(187.1 111.1) rotate(-90) scale(0.92 1)" x="3.5 11.3 19.1 27" y="0">CD33</text>
</g>
<g id="plot3">
<path class="dots" d="M390.1 141.9h.01M392.6 150.9h.01M389.8 150.9h.01M401.3 142.2h.01M392.5 150.4h.01M405.4 140.4h.01M395.7 131.6h.01M395.4 132.9h.01M392.3 143.5h.01M397.6 146.4h.01M398.4 136.8h.01M400.6 150.3h.01M389.5 137.5h.01M383 149.1h.01M387.5 144.5h.01M403.5 146h.01M391.4 139.2h.01M379.8 145.5h.01M395.6 134.9h.01M400.7 139.6h.01M400.3 149.3h.01M402.5 147.2h.01M402.4 150.2h.01M382.4 141.8h.01M391.1 140.5h.01M399.8 142h.01M394 150.1h.01M389.9 145.3h.01M379.7 137.5h.01M403.3 147.8h.01M397.6 150.9h.01M402.3 145.1h.01M387.4 146.4h.01M381.7 144.3h.01M401.6 142.4h.01M396.3 138.5h.01M398.4 144.3h.01M379.7 141.7h.01M379.2 135.2h.01M398.4 150.5h.01M397.9 148.4h.01M385.8 130.4h.01M405 146.7h.01M386.2 143.7h.01M395.8 139.2h.01M388.5 139.7h.01M394.2 136.1h.01M384.6 142.9h.01M385.4 136.7h.01M389.3 145.2h.01M396.7 149.4h.01M386.2 138.4h.01M395.5 135.6h.01M383.5 140.5h.01M404.6 134.4h.01M383.8 134.4h.01M379.4 136.2h.01M381.9 147.1h.01M394.3 143.5h.01M389.7 148h.01M396.1 148.1h.01M384.6 136.1h.01M390.8 132.9h.01M392.3 130h.01M406.5 148.7h.01M399.9 139.9h.01M396.2 149.8h.01M387.1 144.3h.01M381 133.6h.01M396.9 140.3h.01M396.7 139.3h.01M390.5 135h.01M396.3 134.9h.01M395.3 145.7h.01M399.9 142.5h.01M389.2 136.8h.01M386 136.8h.01M404.3 134.7h.01M393 137.6h.01M406 148.3h.01M379.4 137.2h.01M402.6 148h.01M382.9 140.2h.01M399.7 144h.01M390.3 148.2h.01M381.1 137.4h.01M384.8 138.8h.01M389.1 131.8h.01M392.6 133.4h.01M390.8 145.1h.01M379 133.8h.01M404.3 133.7h.01M384.3 137.6h.01M397.2 151h.01M405.8 150.6h.01M402.6 148.5h.01M384.5 142h.01M403.9 134.9h.01M391.6 140.5h.01M397 130.9h.01M383.6 138.5h.01M381.4 146.3h.01M392.3 144.3h.01M404.2 150.1h.01M392.6 135.7h.01M403.4 140.7h.01M400.2 147.1h.01M383.5 138.9h.01M402.4 133h.01M379.3 150.8h.01M387.8 141.9h.01M392.7 148.6h.01M405.9 138.7h.01M380.1 149.3h.01M386.7 149.5h.01M380.6 137.3h.01M380.6 130.9h.01M384.8 143.9h.01M394.6 137.5h.01M394 136.5h.01M382.1 144.6h.01M390.9 139.9h.01M387.2 136.9h.01M403.8 149.7h.01M389.1 147.6h.01M394.2 145.8h.01M392.9 139.1h.01M398.9 150.2h.01M395.2 140.7h.01M407.3 137.1h.01M394.5 134.5h.01M393.4 148h.01M390.2 145.5h.01M402.7 150.2h.01M387 134.8h.01M404.1 131.6h.01M389.9 149.5h.01M401.5 134.4h.01M379.3 137.6h.01M400.6 134.5h.01M390.4 142.9h.01M379.3 135.6h.01M390.3 132.1h.01M379.2 149.7h.01M383.6 134.3h.01M403 136.8h.01M390.3 135.4h.01M388.8 148.2h.01M381.6 145.8h.01M381.6 150.7h.01M384.3 140.6h.01M393 148.4h.01M379.9 147.1h.01M385.7 149.3h.01M388.7 136.9h.01M402.2 141.5h.01M399.9 146h.01M403.1 136.3h.01M383.7 146.8h.01M380.7 141.1h.01M403.2 147.5h.01M398.5 144.6h.01M386.6 140.3h.01M390.5 130h.01M406 134.6h.01M401.1 141.5h.01M406.2 150.5h.01M392.9 132.6h.01M385 147.3h.01M393.1 140.6h.01M379.1 144.6h.01M379.4 150h.01M384.6 135.8h.01M386 134.1h.01M383.6 138.3h.01M385 146.9h.01M396.6 145.7h.01M402.6 145.7h.01M381.3 135.6h.01M402 148.1h.01M400.9 145.5h.01M402.2 144.8h.01M381.7 136.3h.01M397.1 142.6h.01M393 149.9h.01M396.9 141.5h.01M404.9 144.3h.01M379.9 145.6h.01M402.4 150.6h.01M405 133.9h.01M397.9 143.5h.01M387.1 132h.01M387.3 136.2h.01M383.8 144.7h.01M399.9 133.5h.01M392.4 142.8h.01M396.7 148h.01M397.1 145.6h.01M381.2 150.1h.01M380.6 143.6h.01M382.1 140.4h.01M379.6 149.1h.01M399.5 138.2h.01M384 134.1h.01M389.1 144.7h.01M393.5 147h.01M386.8 141.2h.01M405.2 149.3h.01M401.9 135.6h.01M388.3 134.5h.01M394.6 140.7h.01M399.5 138h.01M405.7 144.3h.01M398.8 136.4h.01M389.7 138.6h.01M383.6 147.4h.01M394.6 143.6h.01M395.4 132.8h.01M401.4 140.6h.01M392.6 142.5h.01M402.2 137.4h.01M394.3 139.2h.01M386.6 143.9h.01M387.2 149.3h.01M379.4 148.4h.01M396.3 147.6h.01M387.8 139.9h.01M404.7 135h.01M388.5 145.5h.01M391.1 134h.01M402.3 130.2h.01M389.6 135.7h.01M405.5 133.7h.01M395 139.3h.01M406.7 138.4h.01M383.3 150.7h.01M381.6 148.7h.01M379 148.2h.01M404.1 143.6h.01M393.9 134.1h.01M398.3 131.1h.01M390.2 148.1h.01M408.5 148h.01M401.9 130.2h.01M390.6 139.9h.01M383.7 135.6h.01M388.4 141.4h.01M385.6 143.7h.01M387.8 142.2h.01M395.2 144.7h.01M401.9 146.4h.01M401.1 150.2h.01M385.9 140.8h.01M382.6 139.6h.01M397.6 147.3h.01M398 131.4h.01M399.2 146.4h.01M400.5 129.8h.01M389.5 140h.01M380.4 150.4h.01M387.3 136.2h.01M387.6 129.6h.01M380.4 132.4h.01M395.6 149.5h.01M392.9 138.5h.01M398 136.2h.01M401.8 148.4h.01M391.4 148.8h.01M401.6 136.8h.01M404.4 130.2h.01M391.2 149.6h.01M397.8 137.3h.01M390.8 138.8h.01M390.5 133.7h.01M398.3 138.4h.01M391.8 150.8h.01M387.7 150.9h.01M400.6 134.4h.01M392.8 143.3h.01M382.4 136.9h.01M398.2 144.6h.01M391.7 148h.01M404.7 136.1h.01M404.1 144.9h.01M385.8 137.5h.01M385.6 135.9h.01M397.2 147.3h.01M382.4 137.7h.01M398.5 137.3h.01M393.7 136.8h.01M406 147h.01M384.2 138.9h.01M400.1 143.6h.01M396.7 138.1h.01M396.6 142.5h.01M402.3 131.4h.01M388.1 133.1h.01M384.7 134.7h.01M402.8 150.8h.01M380.9 132.2h.01M392.8 144h.01M403.8 150.6h.01M401.2 137.5h.01M396.2 136.8h.01M382.8 137.6h.01M402.2 139.7h.01M389.4 149.1h.01M385.8 131.8h.01M382.1 143h.01M386.8 133h.01M382.9 148.5h.01M394.6 143h.01M392.5 143.5h.01M386.2 138h.01M399.9 137.9h.01M385.1 148.4h.01M387.8 131.7h.01M399.7 132.5h.01M400.8 138.9h.01M400.8 148h.01M391.6 150.6h.01M384.2 143.9h.01M388.4 134.1h.01M396 137.4h.01M400.4 145.2h.01M395.5 140.4h.01M400.9 137.2h.01M392.2 150.8h.01M400.2 134.4h.01M405.3 149.4h.01M383.8 134.1h.01M382.7 148h.01M406.7 138.1h.01M385.5 151h.01M391.6 146.1h.01M388.8 149.6h.01M399.1 143.6h.01M380.8 132.9h.01M392.3 135.5h.01M391.2 148.7h.01M383.1 131.5h.01M387.2 142.6h.01M402.1 143.9h.01M380.4 139.8h.01M383.2 136.4h.01M395.6 139.3h.01M392.5 134.6h.01M397.1 137.6h.01M390 132.5h.01M379.1 144.3h.01M390.5 150.1h.01M400.5 135.9h.01M388.4 130.3h.01M387.5 137.2h.01M398.5 131.1h.01M392.8 142.2h.01M382.6 139.9h.01M385.1 144.2h.01M406 149.1h.01M380.7 147h.01M402.2 148.3h.01M384.8 150.4h.01M394.4 147.6h.01M381.5 137.8h.01M396.1 136.1h.01M402.7 134.3h.01M379 142.5h.01M404.7 144.4h.01M381.5 148.3h.01M382.5 133.5h.01M404.7 142.7h.01M390.2 132.4h.01M379.7 144.8h.01M398.6 150.4h.01M390.8 138.9h.01M405.9 145h.01M408.6 143.7h.01M402.1 144.8h.01M394.9 136.1h.01M401.6 141.8h.01M399.2 132.6h.01M387.2 139.5h.01M398.5 132h.01M386 150h.01M391.8 135h.01M381 137.1h.01M383 150.7h.01M389.8 138.4h.01M401.6 144.9h.01M402.7 147.1h.01M384.4 143.6h.01M394 139.6h.01M385.7 146.9h.01M382.7 139.2h.01M389.3 135.7h.01M400 146h.01M404 139.6h.01M383.5 149.7h.01M385.8 142.7h.01M401.4 149.7h.01M390.1 133.4h.01M389.4 131.4h.01M398.4 138.9h.01M380.1 149.5h.01M405.7 143.8h.01M383.9 142.4h.01M400.3 139.8h.01M400.6 138.7h.01M398.5 136.6h.01M393.6 135.2h.01M394.5 133.9h.01M381.1 145.6h.01M392.9 137.1h.01M394.7 150.3h.01M385.2 144.9h.01M397.6 134.4h.01M392.5 139.8h.01M396.2 134.3h.01M403.7 145.4h.01M388 136.1h.01M395.4 141h.01M379.6 139.4h.01M403.3 140.7h.01M399.7 150.1h.01M397.6 142.7h.01M395.4 137.8h.01M392.6 133h.01M387.5 135.5h.01M399.6 135.6h.01M383 145.1h.01M394.5 145.5h.01M379.5 142.7h.01M394.3 148.5h.01M394.2 148.3h.01M394.7 143h.01M385.9 135.3h.01M389.8 146.5h.01M395.1 132.1h.01M391.6 141.3h.01M397.8 131.7h.01M380.6 142.6h.01M386.3 141.7h.01M382.5 134.1h.01M401 143.1h.01M388.2 146.4h.01M402.6 140.2h.01M398.1 137.1h.01M379.8 134.1h.01M392.2 149h.01M396.7 130.3h.01M407.9 137.6h.01M383.5 149.6h.01M383.1 131.1h.01M387.2 137.3h.01M399.5 138.8h.01M382.2 132.8h.01M406.1 131.2h.01M398.6 144h.01M381.2 134h.01M398.6 147.3h.01M387.9 134h.01M382.4 137.2h.01M397.4 140.5h.01M396.5 134.1h.01M394.9 138h.01M384.4 141.4h.01M383.3 144.3h.01M381.7 150.4h.01M383.4 137.6h.01M389 149.7h.01M384.7 135.2h.01M379.4 144.7h.01M403.3 142.4h.01M381.7 150h.01M379.6 144.5h.01M382.1 147.7h.01M393.2 133h.01M394.7 136.5h.01M379 143.1h.01M383.7 140.7h.01M381.2 137.8h.01M390.3 150.8h.01M408 136.8h.01M400.4 149.2h.01M401.7 149.2h.01M402.7 132.7h.01M383.3 144.2h.01M395 148.4h.01M390.5 129.5h.01M388.1 147.4h.01M399.5 143.1h.01M395.1 140.6h.01M395.4 136.7h.01M383 147.6h.01M402.8 133.1h.01M394.2 132.2h.01M391.9 136.5h.01M399.5 150.1h.01M401.2 134.3h.01M380.5 133h.01M383.4 141.2h.01M407 146.4h.01M396.3 145.7h.01M404.9 141h.01M387.2 148h.01M404.8 139.4h.01M391.3 140.9h.01M401.8 148h.01M403.8 137.5h.01M390.5 142.3h.01M388.9 146.3h.01M389.7 143.5h.01M381.3 147.1h.01M380.4 131.4h.01M407.5 143.9h.01M399.2 144.4h.01M381.9 140.2h.01M396.5 136h.01M385.6 138.7h.01M407.1 145.8h.01M391.2 141h.01M384 135.2h.01M397.5 146.1h.01M406.7 149.6h.01M400.8 136h.01M405.3 134.3h.01M381.7 147.7h.01M384.3 143.3h.01M401.7 148.7h.01M391.3 130.1h.01M384.8 137.7h.01M387.3 149.6h.01M382.6 144.2h.01M398.8 136.9h.01M402 133.8h.01M396.1 139.1h.01M394.8 136.4h.01M398.4 130.9h.01M403.4 145.2h.01M382.1 133.5h.01M389.5 150h.01M407.5 136.8h.01M401.4 147.2h.01M393.1 139.6h.01M401 137.5h.01M400 147.1h.01M388.4 142.3h.01M396.2 133.9h.01M383.1 148.5h.01M381.4 144.2h.01M384.6 141.1h.01M404.6 136.8h.01M383.2 146.9h.01M382.7 145.5h.01M381.1 132h.01M401 149.3h.01M403 137.5h.01M385.2 135.5h.01M406.1 131.1h.01M395.5 132.3h.01M398 135.8h.01M393.2 136h.01M390.2 140.3h.01M399 137.1h.01M401.5 150h.01M392 137.6h.01M386.2 140.9h.01M402.1 140.4h.01M397.6 134.6h.01M386.7 141.4h.01M383.8 136.3h.01M388.7 137.8h.01M391.3 141.2h.01M400.3 142.2h.01M399.2 138.3h.01M392.1 144.9h.01M403.4 138.6h.01M393.3 149h.01M402.5 134.4h.01M381.6 144.3h.01M385.7 138.8h.01M400.7 141.6h.01M398.8 131h.01M384.4 138.8h.01M380.6 135.4h.01M381 144h.01M386.1 146.8h.01M401.9 142.6h.01M380.8 150.1h.01M383.3 138.3h.01M399 140.4h.01M386.9 150.3h.01M382.2 140.3h.01M396.8 142.3h.01M402.4 144.2h.01M407.2 132.4h.01M382 148.8h.01M384.2 139.2h.01M395.4 147.5h.01M388.1 135.2h.01M395.9 137.4h.01M380.8 142.9h.01M393.1 146.1h.01M384.2 141.5h.01M382.3 146.2h.01M401.8 150.1h.01M395.4 134.9h.01M393.9 138.4h.01M389.8 150.7h.01M396.6 139.4h.01M405.1 142.7h.01M386.8 138.1h.01M379.7 151h.01M386.3 147h.01M399.4 146.3h.01M384.9 131.5h.01M400.4 142.2h.01M384.9 148h.01M394.7 136.9h.01M386.8 148.3h.01M394.8 149.8h.01M393.6 144h.01M393 144.6h.01M395.6 133.9h.01M396.1 137.3h.01M388.3 150.8h.01M381.3 139.5h.01M398.8 148.5h.01M382.8 143.1h.01M390.4 145.6h.01M403 135.3h.01M406.9 147.5h.01M397.4 146.5h.01M383.5 140.3h.01M403.8 134.3h.01M379.2 135.9h.01M381.2 150.2h.01M401.1 140.1h.01M405.7 145.2h.01M395 150.2h.01M401.9 137.3h.01M396.2 133.3h.01M380.9 132.4h.01M397.1 139.8h.01M399.6 146.5h.01M392.7 148.6h.01M394.9 142.6h.01M390.6 129.4h.01M380.6 137.4h.01M405.7 131.3h.01M386.7 133.3h.01M385.3 135.1h.01M384 133.3h.01M391.8 140.8h.01M391.2 138.2h.01M380.5 139.2h.01M382.3 136.6h.01M386 146.1h.01M381.1 137.8h.01M389.3 134.5h.01M381.1 137h.01M382.6 138.1h.01M379.6 138.7h.01M401.1 138.1h.01M401.4 136h.01M405.2 147.4h.01M400.2 133h.01M387.4 149.4h.01M388.2 148h.01M396 141.9h.01M396.2 144h.01M402.6 136.2h.01M386.9 138.3h.01M403.8 148.6h.01M402.6 139.4h.01M406 143.9h.01M393.9 148h.01M394.6 143.7h.01M405.6 139.3h.01M394.1 138.2h.01M399.1 131.1h.01M379.2 150.4h.01M386.2 148.1h.01M391.2 128.7h.01M399 147h.01M379.4 137.3h.01M401.5 146.9h.01M394.1 133.2h.01M379.3 131.8h.01M381.9 150.8h.01M388.7 150.5h.01M400.6 140.7h.01M402.7 150.2h.01M396 132.2h.01M383.2 133.8h.01M400 149.2h.01M383.4 147.5h.01M390.9 144.8h.01M395.4 139.6h.01M384.3 147.1h.01M386.5 127.8h.01M388 138h.01M403.6 147.6h.01M391.5 136.2h.01M379.7 131.8h.01M388.2 142.8h.01M396.5 144.7h.01M396.6 138.4h.01M403.7 149.5h.01M393.7 146.6h.01M399.6 135.1h.01M396.9 141.6h.01M393.6 148.4h.01M390.6 143.2h.01M391.2 147.2h.01M382.2 136.7h.01M380.2 148.5h.01M379.2 150.1h.01M385.3 149.3h.01M382.2 150.3h.01M389.7 137.2h.01M384.2 143.1h.01M407.9 145.4h.01M389 145.8h.01M379.4 141.8h.01M395.8 132.8h.01M399.3 136h.01M404 142.6h.01M389.8 145.6h.01M386.2 150.8h.01M400 149.8h.01M396.4 139h.01M394.8 149.1h.01M406 139.9h.01M405.7 135.3h.01M380.5 150.4h.01M388.9 133.1h.01M402.8 140.5h.01M381 147.8h.01M388.8 144.8h.01M401.3 149.9h.01M380.5 145.2h.01M395 139.2h.01M402.2 141.4h.01M393.1 138.9h.01M380.8 144.4h.01M381.8 140.2h.01M389.1 148.5h.01M380.7 140h.01M398.5 147.2h.01M389.3 139.7h.01M383.9 145.2h.01M400.6 136.6h.01M397.7 140h.01M398.6 136.2h.01M383.6 148.6h.01M385.3 142.5h.01M391.3 148.8h.01M390.3 140.9h.01M400 148.8h.01M393.3 146.5h.01M402 147.9h.01M381.9 138h.01M392.3 148.1h.01M399.7 137.5h.01M405.1 145.6h.01M388.9 142.3h.01M399.8 138.7h.01M393.3 132.8h.01M391.4 131.2h.01M385.6 132.6h.01M399.4 143h.01M383.5 143.3h.01M408 135.5h.01M394.9 131.7h.01M395 132.8h.01M383.7 142.3h.01M394.8 147.7h.01M384.6 150.6h.01M399.2 139.8h.01M402.7 143.9h.01M383.3 133.8h.01M396.4 130.4h.01M397.5 143.9h.01M390.3 137.5h.01M396 138.8h.01M399.6 134.2h.01M391.6 146.6h.01M396.1 150.3h.01M394.9 145.4h.01M405.4 134.8h.01M400.3 137.8h.01M381.9 133.5h.01M399.8 150.2h.01M402.7 137.5h.01M393.8 133.7h.01M402.5 148.6h.01M383.6 132.5h.01M381.3 131.2h.01M391 137.4h.01M383 131.9h.01M380.8 139.3h.01M390.1 140.7h.01M402.8 136h.01M395.4 141.7h.01M404.3 148.4h.01M392 138.6h.01M394.4 136.9h.01M379.7 144.2h.01M380.7 141.4h.01M400.6 138.7h.01M396.5 150h.01M397.4 134.1h.01M403.3 137.5h.01M395.8 140h.01M387.6 146.3h.01M404.8 142.6h.01M396.9 150.4h.01M383.2 138.4h.01M403 146.1h.01M389.2 144.7h.01M396.9 130.9h.01M401.5 135h.01M406.2 150.8h.01M380.7 140.3h.01M403.2 133.9h.01M387 133.8h.01M399.9 137.5h.01M382.5 144.3h.01M403.1 131.8h.01M406.9 132.3h.01M392.1 149.8h.01M396 135.2h.01M394 147.2h.01M403.4 147.1h.01M379.9 148.7h.01M400.2 145.2h.01M388.3 140h.01M388.1 149h.01M401.5 137h.01M381.1 146.5h.01M382.6 144.1h.01M398.6 132.1h.01M400 130.5h.01M386.5 143.2h.01M397.8 140.4h.01M387 146.3h.01M382.3 141.9h.01M384.7 138.6h.01M381 132.1h.01M387 142.3h.01M394.1 138.7h.01M385.1 142.6h.01M404.2 132.4h.01M390 150.7h.01M383 138.8h.01M409.7 149.7h.01M396 145.5h.01M403.1 139h.01M394.3 143.1h.01M393.4 135.1h.01M384.4 129.8h.01M402.9 139.1h.01M384.5 132h.01M404.1 133.5h.01M388.3 131.5h.01M396.4 140.7h.01M396.9 147.1h.01M404.3 150.3h.01M382.4 139.2h.01M405.7 147.6h.01M393.4 143.3h.01M382.7 130.9h.01M395.8 138.6h.01M379.6 150.9h.01M394.1 145.9h.01M400.3 141.6h.01M385.6 145.1h.01M381 149.9h.01M380.4 138.9h.01M393.9 133.2h.01M395.9 133h.01M404.6 145h.01M387.6 134.5h.01M384.9 150.8h.01M397.3 147.7h.01M401.7 144.9h.01M400.7 142.9h.01M390 132.7h.01M382.8 149.6h.01M398.5 140.2h.01M403.9 145.8h.01M381 139.5h.01M399.7 148.2h.01M401.3 133.2h.01M404.8 150.8h.01M388.9 144.8h.01M388.5 135.7h.01M379.6 142.5h.01M384.2 137.5h.01M397.2 144.2h.01M387.8 149.4h.01M405.3 141.1h.01M388.9 138.9h.01M396.3 142h.01M384.4 136.6h.01M400.6 140.4h.01M389.2 140.1h.01M382.6 145.8h.01M382.3 144.8h.01M383.4 134.5h.01M380.9 150.5h.01M400.8 138.3h.01M402.5 142.5h.01M401.3 141.6h.01M382.1 148.7h.01M405 131.5h.01M395.7 147.9h.01M406.7 145.2h.01M392.9 143.6h.01M385.1 139.2h.01M388.3 142h.01M389 147.3h.01M384.8 140.9h.01M379.3 150.1h.01M401.1 143h.01M389.7 138.3h.01M397.4 148h.01M380 128.8h.01M398.5 150.3h.01M397.8 141.8h.01M379.9 133.1h.01M384.4 143.8h.01M401.1 136.8h.01M380.9 140.7h.01M379.8 142.7h.01M380.6 149.7h.01M386.6 143.3h.01M399.8 143.1h.01M401.7 142.9h.01M393.3 144.6h.01M386.3 136.4h.01M400.1 135.9h.01M399 135.8h.01M382.9 133.6h.01M384.7 137.7h.01M401.5 132.3h.01M393.1 132.9h.01M390.2 131.1h.01M392 145.5h.01M387.6 139.4h.01M394.5 134.8h.01M384 148.4h.01M409.1 147.1h.01M396.8 146h.01M396.4 145.6h.01M406 148.8h.01M396.4 135.9h.01M390.3 148.3h.01M395.5 138.2h.01M393 134.5h.01M405.9 137.2h.01M399.6 148.9h.01M388.5 140.5h.01M379.1 149.5h.01M405.9 148.9h.01M401.1 150.7h.01M398.6 144.4h.01M391.3 143.3h.01M406.1 144.2h.01M381.8 133.7h.01M380.2 146.2h.01M386.4 145.9h.01M405.9 135.4h.01M395 137.6h.01M394 142.8h.01M389.1 150.9h.01M381.6 138.2h.01M379.7 148.3h.01M380.3 129.5h.01M385.8 142.2h.01M396 140.2h.01M388.8 150.5h.01M405.1 136.7h.01M407.2 133h.01M394.6 140.7h.01M381.4 145.6h.01M384.2 145.5h.01M380.3 139h.01M401.1 143.8h.01M387.7 134.2h.01M409.9 140.9h.01M387 149.9h.01M401.4 133.2h.01M391.9 136.8h.01M395.9 137.4h.01M388.8 134.5h.01M398.5 137.5h.01M381.9 138.2h.01M381.1 145.3h.01M380.1 132.3h.01M387.4 148.2h.01M394.6 143.4h.01M392 133.3h.01M401.3 141.8h.01M393.9 134.3h.01M391.8 135.4h.01M387.4 149.5h.01M382.6 131h.01M393.6 150.6h.01M384.6 137.8h.01M383.3 142.3h.01M383.3 133.7h.01M383.2 148.4h.01M395.5 151h.01M386.8 141h.01M388.3 135.9h.01M390.9 141.5h.01M403.9 143.8h.01M386.3 136.9h.01M387.3 143.5h.01M386.6 148.5h.01M387.4 135h.01M389.3 138.4h.01M401.7 150.3h.01M407.2 148.2h.01M389.2 130h.01M401.1 132.8h.01M379.2 143.3h.01M391.3 150h.01M402.2 149.6h.01M383.3 133.5h.01M405.8 140h.01M388.2 136.8h.01M391 147.8h.01M407.1 141.6h.01M404 132.9h.01M383 127.4h.01M392.4 137.4h.01M395.9 134.1h.01M391.2 139.9h.01M404.2 142.9h.01M383.5 140.8h.01M402.9 144h.01M397.5 128.2h.01M398.7 144.5h.01M394.5 133.4h.01M385.8 141.8h.01M391.9 132.8h.01M388.9 140.2h.01M399.7 148.3h.01M385.5 147h.01M382.2 150.6h.01M407.1 146.6h.01M387.9 141.9h.01M405.2 149.3h.01M394.2 130.5h.01M391.9 133h.01M395.6 149h.01M394.4 144.5h.01M406 138.9h.01M397.9 138.3h.01M404.1 150.3h.01M393.1 134.9h.01M382.2 135.2h.01M381.4 149.3h.01M381.3 148.4h.01M391.3 149.6h.01M404.7 149.2h.01M393.1 150.2h.01M393.6 140.4h.01M382.6 135.6h.01M385.4 141.9h.01M384.2 137h.01M393.8 140.4h.01M391.5 142.5h.01M406.4 148.4h.01M389.1 141.3h.01M404.2 138.4h.01M380.6 134h.01M389.4 148.4h.01M395.4 144.5h.01M393.3 137.8h.01M380.7 145.8h.01M383.8 133.2h.01M394.7 131.7h.01M404.4 136.4h.01M385 150h.01M381.6 143h.01M399.2 144.7h.01M393.5 150.7h.01M388.4 150.5h.01M389.8 150.3h.01M388.3 139.3h.01M400.7 143.2h.01M400.8 130.7h.01M386.7 132.7h.01M404.6 139.9h.01M388.9 136.8h.01M389.4 142.1h.01M384.2 132.8h.01M382.8 149.7h.01M383.2 140.4h.01M386.4 135h.01M388.9 143.1h.01M392.8 144.5h.01M400.3 146.9h.01M386.5 147.7h.01M399.7 139.1h.01M385.4 129.2h.01M394.5 136.6h.01M381 141.1h.01M404 134.3h.01M391.3 140h.01M398.8 144h.01M393 141.3h.01M390.4 133.3h.01M383.8 133.2h.01M401.7 132.6h.01M391.7 147.1h.01M382.6 141h.01M382.2 142.4h.01M390 138.6h.01M391.6 144.1h.01M383.4 149h.01M382 145.3h.01M401.1 137h.01M397.9 145.6h.01M387.4 134.8h.01M401.8 145.8h.01M379.8 145.1h.01M404.5 131.9h.01M400 135.3h.01M382.3 134.4h.01M407.7 139.6h.01M404.8 150.3h.01M384 144.2h.01M395.7 143.9h.01M388.6 137.9h.01M381.9 133.2h.01M382.7 135.2h.01M385.3 149.6h.01M396.6 137.6h.01M395.3 135.8h.01M401.9 150.2h.01M388.7 135.3h.01M389.8 147.1h.01M385.3 140.4h.01M386 139.8h.01M393.1 138.2h.01M402.3 137h.01M398.7 139.4h.01M379 136.6h.01M386 141.3h.01M395.4 141h.01M396.2 129.1h.01M400.3 136h.01M384.1 148.3h.01M389.2 148.1h.01M383.9 134h.01M391 134.4h.01M384.7 143h.01M391.2 145.5h.01M393.2 131.6h.01M385.3 134.8h.01M379.6 142.8h.01M398.5 145.6h.01M399.8 143.4h.01M407.5 146.1h.01M393.6 150.3h.01M379.1 150.2h.01M379.9 134.9h.01M403.6 145.5h.01M397.7 135.9h.01M382.8 130.8h.01M389.8 149.5h.01M385.9 150h.01M399.6 134h.01M402.2 149h.01M406.1 132.6h.01M395.5 150h.01M391.2 139.3h.01M397.7 140.6h.01M391.7 150.3h.01M399.5 139.1h.01M385.1 141h.01M382.4 134.5h.01M400.2 138.6h.01M385.9 139.9h.01M401.8 148.6h.01M394.9 138.8h.01M403.6 132.8h.01M393.2 139.2h.01M395.6 143.4h.01M390.2 132.3h.01M385.1 132.6h.01M388.2 135.6h.01M405.4 148.5h.01M394.6 140.3h.01M402.2 132.4h.01M390.4 144.8h.01M387.9 141.8h.01M399 145h.01M393.6 146.7h.01M401.3 141h.01M381.7 132.2h.01M386.5 143.4h.01M397.4 143.3h.01M405.4 142.8h.01M382.1 133.2h.01M403.1 139.6h.01M395.4 146h.01M386.7 145.5h.01M379.1 128.4h.01M405.9 149h.01M397.6 140.8h.01M398.5 144.2h.01M390.1 145.7h.01M379.8 130.4h.01M394 143.1h.01M396.4 150.8h.01M386.4 143.4h.01M402 135.5h.01M400.3 146.1h.01M380.7 140.1h.01M385.4 140.6h.01M405.4 143.1h.01M396.7 144.9h.01M400.1 146.7h.01M384.7 148.9h.01M405 150.7h.01M395.4 133.7h.01M390.1 150.5h.01M397.8 150.1h.01M382.7 148.4h.01M398.8 144.5h.01M381.6 147.9h.01M386.9 150.7h.01M398.4 131.6h.01M387.1 132.9h.01M401.4 141.6h.01M400.4 150.2h.01M396.4 142.6h.01M388.1 137.6h.01M394.9 151h.01M385.8 146.1h.01M387.2 146.4h.01M381 146.1h.01M384.1 143.9h.01M395.7 143.1h.01M392.8 150.3h.01M386.3 131.2h.01M388 139.3h.01M383.6 131.3h.01M379.5 148.7h.01M386.4 137.8h.01M393.1 147.6h.01M404.8 140h.01M401.7 150.9h.01M386.3 137.5h.01M396.6 150.9h.01M384.8 150.7h.01M381.2 139.9h.01M381.8 140.9h.01M396.9 131.6h.01M394.7 142.9h.01M381.4 145h.01M407 140.6h.01M380.6 137.8h.01M394.5 141.8h.01M395.1 145.3h.01M380.2 134.6h.01M383.5 148h.01M392.2 145.5h.01M395.2 141.8h.01M395.7 148h.01M397 145h.01M379.9 144.3h.01M380.2 141.5h.01M404.7 140.5h.01M382.1 141.9h.01M384.5 133.3h.01M401 144.1h.01M379.6 135.8h.01M404.1 143.7h.01M398.5 143.3h.01M390.9 149.7h.01M384.4 146.1h.01M394 129.7h.01M398.2 131.5h.01M386.5 141.3h.01M386 140.2h.01M393.1 138.9h.01M399.9 146.1h.01M389.9 150.7h.01M388.3 130.9h.01M406.1 141h.01M390.4 137.5h.01M402 140.5h.01M398 150.2h.01M397.6 131.8h.01M390.2 131.3h.01M396.2 143h.01M401.7 144.7h.01M382.3 150h.01M385.5 150.2h.01M381.8 150.1h.01M398.5 146.9h.01M386 137.3h.01M390.1 141.6h.01M390.1 146.3h.01M402.4 146.7h.01M380.3 144.4h.01M384.9 146.6h.01M402 149.6h.01M392.3 139.2h.01M390.4 136.1h.01M406 132.1h.01M380.3 136.2h.01M380.2 145.3h.01M399.6 137.4h.01M399.6 132.3h.01M394.1 131.5h.01M383.4 131h.01M402.6 144.1h.01M385.5 144.8h.01M389.3 148.4h.01M384.8 147.4h.01M386.6 134.6h.01M381.8 135.6h.01M390.2 148.2h.01M390.8 138h.01M405.1 140.4h.01M387 147.1h.01M397 148.3h.01M383 129.7h.01M386.6 141h.01M386 142.6h.01M405.6 142.4h.01M381.3 133.3h.01M394.9 150.1h.01M398 144.8h.01M407.4 141.6h.01M395.9 145.2h.01M379.8 138.8h.01M402.1 132.5h.01M389.3 142.5h.01M396.9 148.4h.01M403.8 149.1h.01M381.5 148.3h.01M401.2 136.1h.01M400.5 147.6h.01M398 133h.01M382.1 135.9h.01M403.4 150.7h.01M383.6 133.4h.01M387.3 149.4h.01M400 147.8h.01M406.4 148.7h.01M387.1 149.5h.01M391.3 146.4h.01M398.4 132.7h.01M394.6 132.7h.01M386.3 133.3h.01M388.4 136.6h.01M393.2 141.7h.01M399.2 150.4h.01M388.9 147.5h.01M379.6 134.6h.01M401.1 139.9h.01M382.9 148.4h.01M385.2 139h.01M389.8 140.6h.01M384.8 150.4h.01M382.9 150.2h.01M388.3 136.4h.01M383.4 147.5h.01M401 137.9h.01M383.8 129.4h.01M387.5 136.4h.01M403.8 149.2h.01M391 134.9h.01M407.5 135.3h.01M385 148.8h.01M402.3 140.4h.01M379.9 147.9h.01M402 135.7h.01M407.6 136.6h.01M397.3 149.8h.01M382.2 137h.01M397.8 148.4h.01M399.2 147.4h.01M395.2 149.9h.01M396.6 140.2h.01M387.7 145.4h.01M400.7 147.8h.01M386.5 143.7h.01M391.6 150.8h.01M389.9 147.7h.01M384.5 141.9h.01M387.8 150.6h.01M404.5 145h.01M380.6 150.5h.01M390.5 137.1h.01M389.2 135.5h.01M379.7 136.5h.01M379.2 130.3h.01M389.2 143h.01M385.6 150.4h.01M388.8 145.8h.01M385.8 150h.01M380.5 146.9h.01M393.7 143.1h.01M402.6 138.1h.01M387.2 135.4h.01M391.5 149.7h.01M395.6 150.1h.01M388 150.3h.01M381.2 137.2h.01M398.6 148.5h.01M390.8 141h.01M379.1 146.8h.01M388.8 146.3h.01M402.6 133.8h.01M379.1 136.9h.01M400.6 138h.01M395.9 138.4h.01M401.2 137.3h.01M393 132.5h.01M397.8 142.2h.01M402.5 149.3h.01M380.9 140.7h.01M380.2 136.8h.01M396.4 150.5h.01M391 148.1h.01M395.5 148.6h.01M385.9 132.7h.01M402.7 143.4h.01M395.3 136.9h.01M396.8 148.9h.01M380.3 136.2h.01M387.2 135.5h.01M387.9 147.1h.01M408 147.8h.01M381.8 145.2h.01M392.1 140.9h.01M395.2 142.8h.01M395.5 142.8h.01M399.9 140.9h.01M391.1 138h.01M380.2 138.1h.01M382.8 144.4h.01M391.4 136.3h.01M394.5 142.2h.01M384.4 136.3h.01M401.6 150.2h.01M393.5 142h.01M385.4 134.1h.01M392.2 135.2h.01M394.3 147.8h.01M401.7 150.5h.01M394.9 135.5h.01M380 143.2h.01M390.1 141.3h.01M385 139.6h.01M384.7 143.8h.01M401.2 143.3h.01M405.8 147.9h.01M401.5 135.2h.01M387.7 145.6h.01M389 135h.01M403 136.8h.01M400.3 141.1h.01M379.3 142.7h.01M385.4 139.8h.01M393.3 133.4h.01M384.1 140.2h.01M381.4 134.1h.01M388.1 137h.01M396.2 149.9h.01M397.7 146.3h.01M401.7 133.8h.01M394.8 147.1h.01M398.5 148.7h.01M390.1 146.6h.01M403.3 134.4h.01M395.1 145.4h.01M399.5 135.6h.01M402.4 142.9h.01M383.3 133.6h.01M379.3 133.4h.01M389.2 147.9h.01M388.7 137.5h.01M403 135.2h.01M386.8 139.9h.01M392.5 140.6h.01M395.1 132.9h.01M383.4 148.7h.01M380 142.1h.01M390.3 146.6h.01M411.3 137.7h.01M407.5 144.2h.01M406.4 136.9h.01M406.4 135.7h.01M414.2 137.2h.01M410.7 138.4h.01M407.5 141.5h.01M401.5 137.6h.01M409 139.4h.01M411.2 136h.01M407.8 147.9h.01M416.6 141h.01M396.6 138.6h.01M423 142.2h.01M406.9 140.2h.01M401.2 131.1h.01M397.6 139.4h.01M413.2 150.4h.01M411.5 143.5h.01M406.7 147.6h.01M407.7 136.5h.01M409 131.6h.01M405.5 136.3h.01M414.9 148.6h.01M411.8 134.5h.01M407.3 135.7h.01M398.2 147.1h.01M416.3 139h.01M405.2 139.3h.01M401.8 142.8h.01M415.8 141h.01M411 138.7h.01M395.9 142h.01M398.1 136.2h.01M405.6 140.2h.01M400.5 144.4h.01M407.1 134.1h.01M423.7 139.2h.01M425.9 133.6h.01M407.8 145h.01M412.8 144.2h.01M413.4 146.2h.01M407.3 146.7h.01M399.2 146.6h.01M414.5 144.8h.01M407 135.8h.01M410.8 146.1h.01M412.3 135h.01M403.2 147.5h.01M418.2 142.2h.01M408.5 144.1h.01M409.4 133.1h.01M405.5 146.9h.01M412.3 147.5h.01M414.1 131.1h.01M404.7 137.2h.01M411.6 137.7h.01M405.4 136.6h.01M400.7 148.8h.01M406.1 148.5h.01M411.7 134.1h.01M411.4 146.8h.01M414.5 138.9h.01M404 148.7h.01M406.2 125.8h.01M408.5 137.9h.01M411.8 147.8h.01M407.4 135.9h.01M402.4 147.6h.01M398.7 137.4h.01M415.2 147.3h.01M414.5 144h.01M404.1 138h.01M417 135.9h.01M407.7 139.5h.01M410.8 147.4h.01M415.7 140.4h.01M405.2 136.5h.01M403.4 141.6h.01M397.6 131h.01M409.9 139.1h.01M410.8 143.7h.01M413.3 134.2h.01M411.7 140.4h.01M408.7 138h.01M415 131.6h.01M401.9 143.2h.01M410.4 133.6h.01M411.2 136h.01M407.4 147.9h.01M418.5 133.8h.01M410.7 144.1h.01M416.2 147.6h.01M413.5 146.4h.01M407 143.3h.01M419.7 139.1h.01M414.8 132h.01M408.2 141.3h.01M407.4 143.1h.01M401.9 137.4h.01M407.2 134.5h.01M406.7 145.7h.01M409.4 134.1h.01M405.6 143.1h.01M411.5 137.6h.01M407.6 130.3h.01M398.6 150.1h.01M405 144.1h.01M402.7 143.7h.01M400.4 131.9h.01M406.6 139.7h.01M413.6 142.1h.01M401.4 135.9h.01M396 150.3h.01M407.1 128.3h.01M426.1 144.6h.01M404.5 129h.01M409.7 131h.01M405.6 132.7h.01M413.3 143.8h.01M416.8 136.1h.01M407.2 136.3h.01M415.2 134.9h.01M401.6 131.4h.01M409.4 134.9h.01M400.5 134.4h.01M409.2 138.4h.01M404.4 138h.01M409.6 125.8h.01M401.4 136.4h.01M409.5 147.5h.01M408.8 137.4h.01M404.7 139.8h.01M403.3 135.8h.01M401 136h.01M405.7 139.7h.01M410.5 132h.01M407.3 139.1h.01M409.1 130.1h.01M415.8 142.1h.01M406.2 130.6h.01M409.9 144h.01M413.1 146.1h.01M411.2 130.3h.01M410.5 144.1h.01M408.6 137.6h.01M419.8 147h.01M407.7 136.8h.01M405.8 138.3h.01M411.7 138.2h.01M418 147.5h.01M416.7 128.3h.01M408.3 144.5h.01M413.2 140.5h.01M411.2 137h.01M408.6 138.5h.01M412.1 145.5h.01M411.9 144.9h.01M409 150.1h.01M418.5 136.1h.01M405.9 128.5h.01M416.6 136.6h.01M420.8 138.7h.01M420.9 137.3h.01M409.8 147.2h.01M407.1 148.4h.01M398.5 142.2h.01M407.8 129.2h.01M422.9 146.1h.01M398.7 136h.01M398.8 140.1h.01M413.2 144.9h.01M411.9 142.1h.01M397.2 139.5h.01M407.8 141.6h.01M410.2 144.4h.01M399 143.6h.01M413.9 149.7h.01M400.2 121.9h.01M415 135.2h.01M409.4 136.4h.01M404 144.8h.01M398.5 141.2h.01M406.1 145h.01M407.6 131.3h.01M407.4 138.5h.01M404.6 143.7h.01M406.9 139.5h.01M413.4 137.5h.01M402.7 141.5h.01M406.9 149.7h.01M410.9 127.2h.01M408 149.4h.01M413.4 141.5h.01M417.5 134.7h.01M406 143.8h.01M409.4 140.1h.01M390.5 147.1h.01M406 135h.01M412.2 145.7h.01M401.4 134.4h.01M416.1 141.8h.01M396.8 144h.01M416.3 139.4h.01M405 143.7h.01M402 136.3h.01M405.2 146.2h.01M406.5 136.8h.01M402 135.6h.01M399.8 139.2h.01M405 139.5h.01M413.8 134.8h.01M410.6 144.6h.01M416.2 139.1h.01M404.4 143.5h.01M406 130.9h.01M406.1 132h.01M409 138.3h.01M410.9 133.9h.01M418.7 139.1h.01M412.3 143.2h.01M409.1 146.5h.01M416.3 148.7h.01M403.4 144.6h.01M400.2 135.6h.01M412.1 143.2h.01M409.1 136.7h.01M408.8 143.1h.01M413.7 133.5h.01M406.1 147.9h.01M407.4 142.3h.01M410.4 138.2h.01M412 131.7h.01M414 141.6h.01M408.8 136.7h.01M409.7 141.4h.01M393.5 135.6h.01M415.4 136.6h.01M398.6 143.6h.01M407.8 148.7h.01M423.3 132.3h.01M406.1 138.7h.01M398.6 142.2h.01M417.8 139h.01M404.7 137.2h.01M407.1 149.1h.01M407.1 134.8h.01M412.5 142h.01M412.7 137h.01M407.3 139.3h.01M414.8 126.2h.01M402.6 145.2h.01M412.1 138.6h.01M404.3 134.1h.01M412.3 149.9h.01M404 138.2h.01M405.4 136.2h.01M416.9 134.8h.01M401.3 146.3h.01M401 140.1h.01M411.5 138h.01M406.4 131.9h.01M405.5 134.5h.01M407.2 142h.01M420.8 139.8h.01M401.8 127.8h.01M406.4 134.6h.01M409 141.3h.01M402.4 146h.01M407.8 135.4h.01M411 126.6h.01M402.6 144.5h.01M414.8 137h.01M401.2 132h.01M407.2 143.3h.01M410.1 138.5h.01M427.1 134.1h.01M397.5 132h.01M409.7 139.2h.01M423.2 140.4h.01M404.4 129.2h.01M414.6 145.8h.01M409.3 132.3h.01M399.4 148.3h.01M410.4 141.9h.01M402.7 138.8h.01M408.5 141.9h.01M399 136.3h.01M412.4 139.5h.01M393.5 149.8h.01M407 136.5h.01M415.7 144.8h.01M411.1 134.5h.01M405.9 139.8h.01M406.6 145.7h.01M405.5 132.7h.01M424.3 141.9h.01M407.7 127h.01M407.9 133h.01M403.6 137.4h.01M438.7 133.9h.01M444.4 135.8h.01M448.2 130.9h.01M445.4 140.2h.01M445.4 141.1h.01M462.2 144.5h.01M442.8 140.3h.01M452.2 150.8h.01M453.5 137.2h.01M456.4 149.9h.01M439.6 145.3h.01M446.8 130.1h.01M457.1 129.1h.01M445.5 133.4h.01M445 144.3h.01M446.7 140.8h.01M438.8 137.2h.01M446.5 143.4h.01M454.8 140.9h.01M452.6 148.7h.01M438.6 149h.01M453.5 133.5h.01M451.2 129.3h.01M446.4 139.6h.01M443.5 132.9h.01M461.3 140h.01M439 147.2h.01M457.8 133.3h.01M443.5 148.2h.01M444.6 136h.01M453.5 142.4h.01M460.3 141.5h.01M454.9 146.9h.01M441.1 138h.01M456 141.9h.01M461.5 138.5h.01M433.3 134.9h.01M442.9 143.2h.01M456.2 129.7h.01M446.2 139.8h.01M432.4 149.2h.01M455.2 148.1h.01M461.2 150.8h.01M437.6 144.1h.01M454 150.3h.01M448.8 149.3h.01M452.6 139.1h.01M433.6 142.8h.01M462.6 133.3h.01M456.2 144.9h.01M439.4 135.1h.01M457.6 145.5h.01M447.3 132.4h.01M435.1 134.4h.01M446.6 144.4h.01M453 140.3h.01M452.3 145.1h.01M436.6 142.3h.01M455.9 132.3h.01M445.2 141.2h.01M450.1 140.3h.01M445.7 136.4h.01M462.6 146.6h.01M443.6 145.3h.01M458 145.4h.01M457.8 139.9h.01M450.1 134h.01M455.9 129.5h.01M440.5 145.8h.01M442.2 140.1h.01M454.5 137.8h.01M448.8 136.4h.01M459.2 134.3h.01M444.2 146.4h.01M440.9 143.3h.01M446 148.7h.01M457.6 132.3h.01M451.7 131.8h.01M440.6 150.3h.01M453.4 135.4h.01M452.4 135.1h.01M435.5 148.4h.01M455 131.8h.01M449.1 142.2h.01M460.5 136.1h.01M459.2 150.4h.01M455.9 139.9h.01M436.8 141.4h.01M449.8 142.6h.01M436.8 149.7h.01M443 136.2h.01M443.8 130.7h.01M452.3 143.4h.01M440.9 140.2h.01M442.8 131.6h.01M453.1 148.1h.01M450.6 146.1h.01M452.7 150.2h.01M452.5 148.6h.01M444.3 133.6h.01"/>
<path class="fr" d="M378.2 48.8H509.6V151.8"/>
<path class="ax" d="M378.2 48.3V151.8H510.1"/>
<path class="mt" d="M378.2 150.2v6.8M379.8 151.8h-5.8M388.1 151.8v2.5M378.2 144h-2.5M393.9 151.8v2.5M378.2 139.5h-2.5M398 151.8v2.5M378.2 136.3h-2.5M401.2 151.8v2.5M378.2 133.8h-2.5M403.8 151.8v2.5M378.2 131.8h-2.5M406 151.8v2.5M378.2 130h-2.5M407.9 151.8v2.5M378.2 128.5h-2.5M409.5 151.8v2.5M378.2 127.2h-2.5M411.1 150.2v6.8M379.8 126.1h-5.8M420.9 151.8v2.5M378.2 118.3h-2.5M426.7 151.8v2.5M378.2 113.8h-2.5M430.8 151.8v2.5M378.2 110.5h-2.5M434 151.8v2.5M378.2 108.1h-2.5M436.6 151.8v2.5M378.2 106h-2.5M438.8 151.8v2.5M378.2 104.3h-2.5M440.7 151.8v2.5M378.2 102.8h-2.5M442.4 151.8v2.5M378.2 101.5h-2.5M443.9 150.2v6.8M379.8 100.3h-5.8M453.8 151.8v2.5M378.2 92.5h-2.5M459.6 151.8v2.5M378.2 88h-2.5M463.7 151.8v2.5M378.2 84.8h-2.5M466.9 151.8v2.5M378.2 82.3h-2.5M469.5 151.8v2.5M378.2 80.3h-2.5M471.7 151.8v2.5M378.2 78.5h-2.5M473.6 151.8v2.5M378.2 77h-2.5M475.2 151.8v2.5M378.2 75.7h-2.5M476.8 150.2v6.8M379.8 74.5h-5.8M486.6 151.8v2.5M378.2 66.8h-2.5M492.4 151.8v2.5M378.2 62.3h-2.5M496.5 151.8v2.5M378.2 59h-2.5M499.7 151.8v2.5M378.2 56.6h-2.5M502.3 151.8v2.5M378.2 54.5h-2.5M504.5 151.8v2.5M378.2 52.8h-2.5M506.4 151.8v2.5M378.2 51.3h-2.5M508.1 151.8v2.5M378.2 50h-2.5M509.6 150.2v6.8M379.8 48.8h-5.8"/>
<text class="tk" transform="translate(378.5 162.7) scale(1.02 1)" x="-5.5 0" y="0">10<tspan class="ex" x="5.4" dy="-3">0</tspan></text>
<text class="tk" transform="translate(374.1 151.9) rotate(-90) scale(1.1 1.1)" x="-5.2 0" y="0">10<tspan class="ex" x="5.1" dy="-3">0</tspan></text>
<text class="tk" transform="translate(411.4 162.7) scale(1.02 1)" x="-5.5 0" y="0">10<tspan class="ex" x="5.4" dy="-3">1</tspan></text>
<text class="tk" transform="translate(374.1 126.2) rotate(-90) scale(1.1 1.1)" x="-5.2 0" y="0">10<tspan class="ex" x="5.1" dy="-3">1</tspan></text>
<text class="tk" transform="translate(444.2 162.7) scale(1.02 1)" x="-5.5 0" y="0">10<tspan class="ex" x="5.4" dy="-3">2</tspan></text>
<text class="tk" transform="translate(374.1 100.4) rotate(-90) scale(1.1 1.1)" x="-5.2 0" y="0">10<tspan class="ex" x="5.1" dy="-3">2</tspan></text>
<text class="tk" transform="translate(477.1 162.7) scale(1.02 1)" x="-5.5 0" y="0">10<tspan class="ex" x="5.4" dy="-3">3</tspan></text>
<text class="tk" transform="translate(374.1 74.6) rotate(-90) scale(1.1 1.1)" x="-5.2 0" y="0">10<tspan class="ex" x="5.1" dy="-3">3</tspan></text>
<text class="tk" transform="translate(509.9 162.7) scale(1.02 1)" x="-5.5 0" y="0">10<tspan class="ex" x="5.4" dy="-3">4</tspan></text>
<text class="tk" transform="translate(374.1 48.9) rotate(-90) scale(1.1 1.1)" x="-5.2 0" y="0">10<tspan class="ex" x="5.1" dy="-3">4</tspan></text>
<text class="lb" text-anchor="middle" transform="translate(424.8 175.8) scale(0.92 1)" x="3.5 11.3 19.1" y="0">CD4</text>
<text class="lb" text-anchor="middle" transform="translate(362.1 117.8) rotate(-90) scale(0.92 1)" x="3.5 11.3 19.1" y="0">CD8</text>
</g>
<g id="plot4">
<path class="dots" d="M118.4 255.9h.01M119.3 250.8h.01M122.4 242.1h.01M130.7 258h.01M118.7 256.8h.01M131.2 257h.01M126.9 240h.01M124.8 250.4h.01M102.9 241.7h.01M111.7 246.6h.01M119.7 240.6h.01M130 260.4h.01M120.1 245.1h.01M112.2 249.4h.01M106.8 250.5h.01M129.2 254.6h.01M114.3 250.9h.01M127.1 248h.01M137 253.8h.01M131.2 249.8h.01M113.8 236h.01M111 253.3h.01M128.6 247.5h.01M137.9 249.6h.01M113.7 245.2h.01M123.5 241.9h.01M112.8 241.3h.01M108.4 237.5h.01M130.6 253.7h.01M116.9 255.2h.01M121.3 249.5h.01M137.7 246.4h.01M105.3 252.9h.01M111.1 246.1h.01M107.5 238.1h.01M103.6 236.3h.01M126.9 251h.01M115 255.9h.01M128.7 249.1h.01M110.7 244.1h.01M106.7 245.5h.01M130 247.1h.01M105.4 243.5h.01M119.6 251.5h.01M110.4 242.6h.01M140.4 257.9h.01M138.6 247.7h.01M104.3 250.1h.01M140.3 254.9h.01M125.1 248.2h.01M132.4 250h.01M132.9 250.7h.01M121 258.1h.01M117.3 245.2h.01M116.3 254.7h.01M125.4 255.9h.01M103.9 244.4h.01M129.3 259.6h.01M133.7 239.2h.01M133 252.5h.01M127.6 251.3h.01M113.9 248.5h.01M133.2 255.5h.01M115.6 246.8h.01M127.3 249.9h.01M113.1 253.9h.01M112.5 247.4h.01M131.7 245.5h.01M111.4 250.2h.01M138.1 251.9h.01M134.5 249.3h.01M126.9 253h.01M113.6 243.9h.01M116.8 243.5h.01M110.3 245.7h.01M133.2 250.6h.01M141.6 253.5h.01M108 240.6h.01M103.5 255.5h.01M119.8 252.8h.01M135.1 254.1h.01M111.3 248.7h.01M110 234.5h.01M121 253.8h.01M110.8 243.2h.01M118.5 250.6h.01M125.1 244.1h.01M104.6 251.9h.01M108.3 243.9h.01M123.8 248.6h.01M140.9 261.1h.01M116.2 252.6h.01M110.9 240.5h.01M113.2 244h.01M107.5 247.6h.01M106.2 245.5h.01M116.8 252.6h.01M117.6 244.6h.01M124.5 240.7h.01M111.2 242.5h.01M140.8 251.9h.01M127.1 253.1h.01M131.1 255.9h.01M109.4 253.4h.01M134.2 253.4h.01M122.2 248h.01M116.3 252.3h.01M141.7 252.1h.01M118 246.9h.01M116.2 245.8h.01M117.3 253.8h.01M130.3 258.2h.01M116.6 254.6h.01M121.1 241.5h.01M118.1 254.1h.01M108.8 241.1h.01M101.6 244.4h.01M133 255.3h.01M138.3 245.9h.01M115.9 241.7h.01M132.2 247.9h.01M120.1 257.8h.01M118 254.2h.01M115.5 243.5h.01M114 249.2h.01M117.8 249.4h.01M109.7 248.5h.01M132 248.5h.01M123.5 256.7h.01M114.5 245.5h.01M120 253.4h.01M126.7 240.8h.01M130.7 253.7h.01M108.1 248h.01M121.6 256.8h.01M131.5 238.3h.01M139 255h.01M109.9 251.3h.01M117.7 247.4h.01M131.5 258.1h.01M120.3 259.5h.01M129.5 255.6h.01M113.2 252.2h.01M116.9 255.4h.01M109.6 248.8h.01M128 257.2h.01M118.2 251.3h.01M108 243.1h.01M113.6 242.5h.01M111.9 253.5h.01M122.5 251.9h.01M139.7 249.7h.01M141.9 253.1h.01M137.1 260h.01M134.8 243.1h.01M138.5 248.2h.01M112.2 250.9h.01M124.3 254.1h.01M134.7 245.9h.01M141.2 247.9h.01M125.3 251.5h.01M107.7 254.3h.01M115 248.7h.01M110.4 235.3h.01M132.7 257.2h.01M133.8 252h.01M120.2 246.6h.01M102 239.9h.01M138.6 259.2h.01M139.3 254.1h.01M143 255.1h.01M132.5 253.5h.01M144.2 255.8h.01M117.4 252.4h.01M106.6 255.9h.01M136.2 246.8h.01M132.7 251.8h.01M113.3 245.6h.01M127.7 259.3h.01M104.8 245.2h.01M110.8 238.7h.01M140.6 253.2h.01M136.6 248.8h.01M111.8 243.4h.01M127 248.6h.01M127.4 244.6h.01M124.2 239.9h.01M121.5 259.9h.01M129.4 250.5h.01M102.6 241.3h.01M138.6 256.5h.01M124.9 257.6h.01M119.4 240.5h.01M112.9 245.8h.01M112.7 249.5h.01M127.5 246.3h.01M118.2 249.8h.01M129.3 244.9h.01M103.8 243.2h.01M119.9 248.3h.01M112.1 250.4h.01M102.1 246.2h.01M129.7 247.7h.01M137.8 250.8h.01M118.9 237.9h.01M113.7 258.9h.01M128.7 248.8h.01M110.7 245.3h.01M138.2 253.8h.01M122 252.8h.01M129.4 252.9h.01M112.7 244.8h.01M125.4 241.3h.01M125 249.4h.01M131.7 246.5h.01M132.6 249.1h.01M123.6 249.2h.01M118.4 250.5h.01M116.6 255.9h.01M103.6 245.5h.01M118.8 239.8h.01M141.4 256.1h.01M127.9 256h.01M120.3 240.2h.01M134 255.3h.01M113.3 249h.01M119.1 246.3h.01M118.5 249h.01M119.9 251.1h.01M109.9 250.1h.01M122.5 256.3h.01M109.7 247h.01M121.8 249.4h.01M136.4 264.3h.01M136.2 247.2h.01M127.5 249.5h.01M116.5 247h.01M110.3 251.5h.01M116 253.8h.01M112.6 241.1h.01M132 257.4h.01M133.2 245.6h.01M107.4 260.6h.01M119.8 245.9h.01M129.8 257.5h.01M127.4 249.9h.01M110.6 250.5h.01M127.7 246.4h.01M137.4 253.8h.01M135.6 252.6h.01M116.4 248.2h.01M134.3 256.5h.01M141.8 251.1h.01M140.5 251.4h.01M136.5 245.7h.01M108.1 246.2h.01M119.7 246.7h.01M129.2 255.6h.01M133.6 256.1h.01M135.6 248.5h.01M120 251.4h.01M114.6 255.5h.01M131.5 250.2h.01M112.4 242h.01M114.3 262h.01M132.2 255.3h.01M114.8 251.8h.01M137.4 265.5h.01M105.2 242.2h.01M104.1 248.2h.01M117.4 238.9h.01M131.7 253.7h.01M112.3 249.7h.01M137.3 249.2h.01M127.7 246.1h.01M106.5 245.6h.01M112.5 246.6h.01M136.7 260.7h.01M109.4 245.5h.01M104.6 245.3h.01M111.2 246.9h.01M104.7 237.9h.01M111.9 245h.01M125.1 242.6h.01M132.8 252.9h.01M121 238h.01M123.1 244.3h.01M108.9 248.2h.01M115.9 237.6h.01M122 242.8h.01M124.3 254.8h.01M138.2 246.2h.01M117.4 249.1h.01M135.8 254.6h.01M109.6 242h.01M126.9 242.3h.01M132.8 259.8h.01M140.9 250.4h.01M110.3 250h.01M128.2 246.7h.01M137.5 254.9h.01M124.2 242.9h.01M141 246.3h.01M139.3 247.4h.01M116.5 244.9h.01M121.6 246.4h.01M118.9 246.7h.01M136.3 254.3h.01M105.1 243.6h.01M133.8 256.1h.01M107.7 242.5h.01M102.7 249.8h.01M128.6 258.7h.01M110.7 256.6h.01M126.6 239.9h.01M140.6 261.9h.01M112.1 238.1h.01M118.9 256.3h.01M135.5 251.8h.01M128.8 252.5h.01M126.7 245.8h.01M111.6 252.3h.01M126.2 253.5h.01M134.5 249.5h.01M122.6 246.7h.01M126.4 255.3h.01M133.6 256.6h.01M119.3 252.7h.01M125.4 247.9h.01M116.7 248.7h.01M114.4 252.9h.01M109.4 250.9h.01M137 258.6h.01M119.5 249.3h.01M130.9 247.7h.01M111.7 249h.01M127.8 252.9h.01M134 248.8h.01M134.2 253.6h.01M121.3 245.2h.01M145.1 254.8h.01M108.1 244h.01M130.3 262.6h.01M103.8 253.1h.01M124.8 251.1h.01M107.4 239.2h.01M103.7 240h.01M137.5 256.4h.01M131.6 250.8h.01M102.1 247.9h.01M107.3 238.4h.01M108.6 238.9h.01M134.9 253h.01M119.9 248.5h.01M135.9 245.4h.01M128.1 246.4h.01M130.1 255.9h.01M108.7 244.7h.01M132.5 254.4h.01M109.2 256.8h.01M128.8 252.6h.01M113.4 247.8h.01M113.7 245.4h.01M137.2 258.4h.01M106.2 239h.01M111.1 241.4h.01M114.5 248h.01M109.5 239.9h.01M131.8 257.4h.01M142.4 249.4h.01M132.6 255h.01M120 247.7h.01M131 249.5h.01M126.3 250.4h.01M128.7 240.6h.01M123 245h.01M137.7 250.5h.01M125.8 262.5h.01M101.3 250.4h.01M133.3 255.4h.01M126.9 244.8h.01M132.2 256.6h.01M115.4 255h.01M112.8 251.5h.01M125.1 263.5h.01M110.3 240.7h.01M128.9 244.8h.01M126.7 248.7h.01M130.2 246.1h.01M102.5 246.4h.01M135.1 254.7h.01M110.1 246.8h.01M125.8 250.1h.01M118.6 251.2h.01M144.6 257.4h.01M133.5 248.6h.01M139.8 249.4h.01M113.9 254.2h.01M123.2 248h.01M140.4 248.3h.01M135.1 253.9h.01M128.3 248.6h.01M122.5 250.4h.01M113.5 247.5h.01M122.5 253.3h.01M137.3 257.3h.01M127 247.1h.01M134.6 245.9h.01M129.1 258.8h.01M109.5 243.1h.01M107.6 239.3h.01M117.6 239.3h.01M136.9 252.5h.01M126.1 246.2h.01M138.7 243.5h.01M122.1 244.6h.01M131.3 246h.01M130.9 256.4h.01M102.5 247.2h.01M121 249.2h.01M126.8 243.7h.01M143.6 252.5h.01M133.1 255.6h.01M115 248.6h.01M119.4 253.7h.01M124.2 250h.01M119.2 252.3h.01M112.6 251.1h.01M128.4 247.3h.01M109.9 253.2h.01M122.9 251.1h.01M107.8 250.8h.01M106.4 240.5h.01M142.8 246.7h.01M104.8 245.4h.01M128.1 246.7h.01M135.7 255h.01M107.7 248.7h.01M102.3 252.9h.01M105.6 249.2h.01M138 246.7h.01M120.1 254.5h.01M110.5 243.7h.01M141.7 249.5h.01M123.4 250.9h.01M138.7 252.6h.01M112.4 252.1h.01M129.9 265h.01M130.3 253.9h.01M118 256.9h.01M122.9 248.6h.01M106.6 248.1h.01M109.2 244.9h.01M112.1 245.7h.01M123.7 256.3h.01M105.1 248.4h.01M109.6 248.9h.01M126.3 246.2h.01M143.7 262.3h.01M112.6 247h.01M122.9 246.6h.01M120.8 249.6h.01M129.1 255.3h.01M123.4 253.9h.01M120.5 257.4h.01M104.5 240.7h.01M104.9 243.8h.01M121.2 257.4h.01M109.5 258.7h.01M115.3 245.1h.01M109.5 246.6h.01M136.6 243.9h.01M114.8 243.9h.01M128.7 246.3h.01M121.1 249.9h.01M128.1 245.1h.01M116.7 252.8h.01M108.2 246.9h.01M134.7 251.2h.01M124.8 254.5h.01M128.5 250h.01M123 242.9h.01M104.8 246.3h.01M107.3 258.1h.01M105.1 247.6h.01M108.1 248.9h.01M127.2 250.4h.01M137.8 252.1h.01M121 251.6h.01M138.1 239.6h.01M109.3 240.4h.01M117.1 245.5h.01M126.2 249.1h.01M126.2 258.4h.01M103.6 258.9h.01M138.6 256h.01M139.6 255.6h.01M116.6 251.7h.01M115.7 256h.01M129.1 245.6h.01M120.4 246.6h.01M125 250.7h.01M137.6 254h.01M130.2 241h.01M109.3 249.1h.01M117.2 240.2h.01M134.8 256.5h.01M135.6 257.4h.01M115.7 236.5h.01M109 249.1h.01M131.6 252.9h.01M108.8 244.4h.01M111.3 252.6h.01M120.4 259.4h.01M109 249.1h.01M129 245.4h.01M134 245h.01M116.6 242.4h.01M131 245.8h.01M108.9 252.8h.01M119.8 250.1h.01M108.7 247h.01M109.8 251.2h.01M118 248.1h.01M115.8 248.9h.01M102.9 241.7h.01M129.8 247.6h.01M135.2 251h.01M116 242h.01M120.4 257.8h.01M117.2 248.6h.01M107.6 243.8h.01M136.6 258.2h.01M137.3 247.5h.01M124.4 254.9h.01M131.4 252.6h.01M120.1 259.5h.01M142.1 250.3h.01M127.6 248.5h.01M139.3 248.1h.01M122.9 243.7h.01M123.6 251.5h.01M127 245.2h.01M133.2 254h.01M108.1 243.5h.01M130.8 256.8h.01M133 238.1h.01M141.7 255.7h.01M116.5 248.8h.01M131.2 251.1h.01M120.4 245.4h.01M128.8 259.5h.01M104.9 243.8h.01M134.3 254.4h.01M110.1 246h.01M119.6 247.8h.01M110.3 247.6h.01M139.8 256.6h.01M135.1 245.6h.01M137.2 250h.01M134.4 244.4h.01M140.9 254.8h.01M124.8 246.5h.01M105.7 242.7h.01M106.1 249.8h.01M132.7 251.5h.01M112.4 250.2h.01M133 250.6h.01M122.5 251.3h.01M137.5 252.8h.01M118.3 242.7h.01M105 247.7h.01M138.3 250.5h.01M114.1 246.9h.01M114.9 250.4h.01M133.7 248.9h.01M114.4 242.3h.01M138.1 259.2h.01M101.4 255.7h.01M130.3 249.9h.01M136 258.3h.01M122.1 252.6h.01M113.6 244h.01M110.1 242.4h.01M132.9 250.3h.01M134 249.2h.01M133.3 250.1h.01M138.6 252.7h.01M128.3 244.6h.01M141.2 257.6h.01M139.4 247.5h.01M123.2 244.8h.01M131.2 256.6h.01M112.7 251.1h.01M141.2 261h.01M129 250.4h.01M121.6 246.4h.01M131.3 257h.01M137.2 251.9h.01M114 247.4h.01M134.4 247.2h.01M133.7 254.3h.01M118.9 236.6h.01M118.1 252h.01M132.7 242.2h.01M116.8 253h.01M132.1 243.9h.01M134.9 256.2h.01M119.1 261.5h.01M115.6 246.9h.01M111.9 241.3h.01M115.4 257.5h.01M137.1 250.1h.01M115.6 242.2h.01M111.6 254.5h.01M130.5 236.1h.01M116.6 240.3h.01M112.4 241.2h.01M140.8 249.4h.01M142.3 242.9h.01M132.5 256h.01M134 257.2h.01M123.5 248.4h.01M115.8 246.4h.01M134.3 244h.01M124.2 252.3h.01M111.5 243.8h.01M112.3 251.6h.01M133 256.7h.01M120.7 249.1h.01M138.5 241.1h.01M111.2 242.7h.01M101.3 253h.01M110.8 248.4h.01M105.8 254.1h.01M111.1 235.7h.01M140.2 252.7h.01M129.2 249.9h.01M119.5 240.7h.01M110.9 243.6h.01M132.7 257.1h.01M133.5 253.6h.01M115.6 245.1h.01M120.8 251.2h.01M134.1 258.5h.01M140.1 247.6h.01M139.1 254.7h.01M124.4 255.8h.01M127.2 246.3h.01M122 255.9h.01M101.9 245.5h.01M116.4 253.9h.01M135.4 257h.01M119.3 250h.01M127.5 249.4h.01M145.9 250h.01M134.3 252.8h.01M120.4 249.4h.01M111.9 255h.01M142.1 252.5h.01M111.8 249.4h.01M134.8 260.1h.01M127.8 252.5h.01M123 252.6h.01M113.4 256.7h.01M139.6 253.8h.01M134.6 253.9h.01M120.5 253h.01M110.5 246.6h.01M121.8 243.2h.01M109.3 238.7h.01M108.8 246.3h.01M115.2 253.6h.01M115 252.3h.01M123 258.5h.01M108.2 251.7h.01M108.3 243.2h.01M107.1 238.9h.01M136.4 250h.01M106.8 245.1h.01M144 249.4h.01M141.3 257.8h.01M121.6 245.7h.01M133.9 255.7h.01M102.4 250.2h.01M133 242.6h.01M122.4 247.8h.01M125.4 257.1h.01M143.6 257.9h.01M109.5 247.8h.01M114.9 242.5h.01M130.6 247.5h.01M114 247.7h.01M139.6 259.5h.01M111.7 249.7h.01M119.1 248.5h.01M135.8 252.8h.01M134.3 256.6h.01M131.5 242.8h.01M134 247h.01M123.9 249.2h.01M121.7 255.1h.01M122.3 255.7h.01M109.6 243.2h.01M125.6 250.1h.01M125.2 246.3h.01M118.1 246.3h.01M108.4 247.8h.01M103.8 244.7h.01M119 245.7h.01M127.3 244h.01M138 245.2h.01M107.3 246.4h.01M103.8 247.1h.01M111.3 251.4h.01M122.8 245.2h.01M123.5 246.5h.01M118.5 255h.01M138 255h.01M112.5 252.1h.01M115.4 244.9h.01M113.3 244.1h.01M138.5 247.3h.01M124.2 254.7h.01M114.1 242.7h.01M109 237.3h.01M117.3 244.9h.01M133.4 258.6h.01M136.7 252.4h.01M141.1 254.3h.01M112.7 248h.01M102.2 246h.01M108.8 246.4h.01M107.4 239.1h.01M137.7 261.1h.01M114.7 247.3h.01M138.6 258.5h.01M114.6 240h.01M110 249.5h.01M116.7 241.8h.01M128 243.8h.01M140.5 254.7h.01M129.8 256.1h.01M135.5 259.1h.01M124.8 256.7h.01M137.2 251.5h.01M137.6 256.5h.01M145.1 250.3h.01M135.5 249.5h.01M130.8 252.5h.01M135.1 251.6h.01M139.9 257.1h.01M125.2 241.5h.01M110.5 252.4h.01M121.8 246.2h.01M140.3 260.9h.01M130.9 257.1h.01M121.7 243h.01M138.5 252.4h.01M119.1 252.1h.01M121.6 244.8h.01M124.8 246.1h.01M131.4 249.5h.01M128.9 254.1h.01M117.9 253.1h.01M124 248h.01M119.1 252.9h.01M133.9 258.6h.01M124.5 254.9h.01M109.1 242.9h.01M128.9 246.3h.01M141.7 254.5h.01M126.8 254.9h.01M106.8 248.7h.01M129.3 248.1h.01M111.8 242.4h.01M118.6 255.7h.01M112 246.4h.01M139 262.6h.01M136.8 245.9h.01M122.2 248.6h.01M115.6 244.9h.01M110.1 256.3h.01M128.2 257.7h.01M111.6 245.2h.01M139.6 242.9h.01M137.5 258.6h.01M109.5 247.9h.01M142.6 247.7h.01M137.8 245.5h.01M105.2 248.6h.01M127.2 248.8h.01M113.7 248.9h.01M128.9 252.8h.01M135.9 250.4h.01M116 246.6h.01M107.4 249.9h.01M118.8 248.2h.01M114.1 246h.01M131.7 254.7h.01M111.5 238h.01M125.3 256.9h.01M111.3 249.1h.01M116.6 244.1h.01M132.7 250.9h.01M132.2 258.6h.01M123.5 253h.01M130.5 241.2h.01M108.8 241.2h.01M129.2 251.4h.01M122.7 259.6h.01M109.5 251.6h.01M130.3 250.5h.01M105.9 249.9h.01M124.5 250.1h.01M105.2 245.1h.01M137.2 254.4h.01M118.8 238h.01M139.4 258.5h.01M122.5 252.2h.01M134.5 249.6h.01M123.4 245.4h.01M105.1 240.1h.01M116 249.8h.01M122.2 251.2h.01M129.9 252.9h.01M105 255.3h.01M123.7 238.5h.01M137.3 248.2h.01M113.2 243.7h.01M115 253.5h.01M113.9 246.9h.01M129.4 246.8h.01M114.8 249.3h.01M138.3 255h.01M135.5 260.6h.01M125.5 251.5h.01M143.4 251.2h.01M117.6 245.8h.01M102 241.9h.01M131.7 253.7h.01M132.7 256.4h.01M140.6 252h.01M110.7 246.6h.01M109 253.4h.01M126.3 251h.01M118.9 251.6h.01M112.2 242.2h.01M131.3 248h.01M124.6 239h.01M126.7 243.6h.01M140.9 254.9h.01M141.3 259h.01M114.3 246h.01M109.7 240.3h.01M127.5 251.4h.01M104.2 252h.01M112.3 246.8h.01M135.2 257.7h.01M122.6 248.6h.01M128.7 245.2h.01M129.9 246.3h.01M105.6 245.5h.01M132.6 263.4h.01M134.4 254.7h.01M105.7 244.9h.01M138.6 254.8h.01M106.6 247.9h.01M124.1 247.3h.01M122.2 249.1h.01M122.2 248.3h.01M143.8 257.4h.01M105.2 255.4h.01M135.3 259h.01M140.2 251h.01M113.4 250h.01M105.6 242.3h.01M112.3 242.3h.01M107.8 246.7h.01M110.7 249.7h.01M134.1 252h.01M103.5 250.5h.01M113.8 252.3h.01M106.1 250.5h.01M105 246.3h.01M119.5 243.1h.01M135.7 262.2h.01M135.8 250.2h.01M109.3 250.6h.01M134.5 254.8h.01M137.4 250.8h.01M116.5 257.3h.01M118.4 251.1h.01M119.8 248.7h.01M131.5 249.8h.01M143.9 248.6h.01M124.6 243.6h.01M120.2 252h.01M119.9 246.5h.01M122.8 247.1h.01M110.5 250.5h.01M128.4 249.6h.01M126.8 253.8h.01M118.8 245.4h.01M135.4 248.7h.01M135 256.7h.01M110.4 243.9h.01M117.8 252.1h.01M126.2 253.4h.01M129.6 251.7h.01M103.7 238h.01M106.9 240.1h.01M133.8 246.3h.01M131.2 245.2h.01M112.1 252h.01M118.2 244.5h.01M129.4 244.8h.01M122.4 247.3h.01M134.4 251.4h.01M111.9 239h.01M114.3 252.3h.01M117.1 252.2h.01M136.1 249.3h.01M115.3 252.7h.01M132 243.5h.01M119.1 246.5h.01M111.2 246.5h.01M126 251.1h.01M111.6 253.1h.01M109.3 245.2h.01M133.5 247.3h.01M136.6 253.9h.01M118.8 249.4h.01M118.8 251.1h.01M127.3 248.9h.01M125.1 251.6h.01M124.8 247.5h.01M114.5 250.9h.01M134.7 248.6h.01M115.5 245.1h.01M135.4 258.6h.01M139.4 249.3h.01M113.3 248.1h.01M124.5 253.5h.01M128.5 249.7h.01M111 252.4h.01M137.5 250.4h.01M122 254.6h.01M125.1 241.9h.01M119.3 241.7h.01M117.4 249.4h.01M105.8 254h.01M140.2 261.4h.01M136.4 248.3h.01M132.6 251.7h.01M141.3 251.1h.01M133.5 241.6h.01M130.2 254.4h.01M101.9 244.3h.01M137.1 260.3h.01M135.4 253.3h.01M121.8 247.3h.01M125.4 246.3h.01M128.7 249.8h.01M132.4 253.8h.01M124 247.7h.01M114.4 263h.01M104.4 247.6h.01M119.4 243.2h.01M107.4 247.1h.01M115.9 254.7h.01M134.8 254.8h.01M132.6 250.4h.01M123.2 246.5h.01M131.2 247.2h.01M122.2 243.2h.01M124.5 247.6h.01M140.8 254.1h.01M141.9 250.4h.01M117.8 256.4h.01M131.3 253.8h.01M119.7 246.6h.01M123.5 249.3h.01M115.4 256.5h.01M112.1 238.5h.01M113.5 248.9h.01M139.3 266.4h.01M126.2 255.5h.01M112.4 242.6h.01M140.5 254.1h.01M132.5 250.7h.01M134.5 266h.01M126.2 246.7h.01M123.9 249.2h.01M112.1 245.4h.01M113.4 240.1h.01M131.4 234.2h.01M127.8 249.8h.01M121.8 251.6h.01M136.1 250h.01M114.6 250.2h.01M109.9 251h.01M105.4 250h.01M138 244.4h.01M122.8 257.7h.01M127.8 254.8h.01M127.2 255.1h.01M107.2 246.9h.01M138.2 252.7h.01M140.6 250.6h.01M108.7 250h.01M111.5 252.5h.01M135.6 249.5h.01M126.8 254h.01M112.8 245.1h.01M138.8 256.4h.01M133.5 251.6h.01M117.2 253.2h.01M128.4 260.6h.01M130 252.7h.01M118.5 246.2h.01M123.3 248.3h.01M119.1 252.1h.01M138.6 249.9h.01M107 252.7h.01M121.1 250.9h.01M106.7 251.1h.01M127.7 247.7h.01M106.5 241.6h.01M116.8 244.8h.01M133.5 253.8h.01M124.9 246.1h.01M117.2 252.2h.01M125.9 239.2h.01M110.6 243.5h.01M115.6 247.1h.01M137.6 243.6h.01M108.3 243.9h.01M136.1 244.3h.01M129.9 251.3h.01M130.3 249.6h.01M130.7 255.7h.01M113.6 242.7h.01M120.3 240.4h.01M115.9 245.8h.01M111.5 248.4h.01M108.6 248.3h.01M115.5 249.2h.01M143.1 259.6h.01M119.8 247.1h.01M133.5 250.9h.01M136.8 247.4h.01M133.4 248.6h.01M123.5 255.1h.01M122.7 251.7h.01M112.1 234h.01M143.2 258.9h.01M119.2 238.7h.01M127.5 249.3h.01M137.5 257.6h.01M129.8 251h.01M120.4 251.7h.01M136.1 257.1h.01M108.5 248.3h.01M129.6 245.3h.01M116.4 250.1h.01M128.8 247.8h.01M111.2 235.3h.01M136.5 251.3h.01M120.5 252.4h.01M112 247.5h.01M137.7 252.2h.01M116.5 257.6h.01M107.9 248.2h.01M139.6 257.1h.01M106.6 248.4h.01M110.9 256h.01M109.5 245.6h.01M122.7 255.2h.01M141.4 262.8h.01M106.8 244.7h.01M140.6 258.9h.01M112.6 241.2h.01M121.9 250.9h.01M132.4 255.8h.01M135.3 248.3h.01M105.3 237.9h.01M127.9 251.6h.01M120 247.8h.01M106.1 247.7h.01M138.7 255.2h.01M118.3 253.5h.01M130.1 259.4h.01M126.8 254h.01M114.4 240.1h.01M114.2 251.7h.01M116 251.1h.01M137 253.6h.01M136.7 260.6h.01M128.8 252.4h.01M117.2 246.9h.01M115.9 250.9h.01M118.9 240.6h.01M115.8 254h.01M120.4 250h.01M120.2 257.9h.01M117 252.2h.01M130.3 253.8h.01M136.7 253.8h.01M135.7 246.7h.01M109.8 246.9h.01M122.5 252.1h.01M107.1 252.5h.01M134.3 255h.01M123 253.6h.01M109.7 249.8h.01M136.9 249.6h.01M132.1 252.8h.01M108.4 245.9h.01M140 246.3h.01M107 238.9h.01M138.1 257.2h.01M144.2 261.1h.01M118.2 256.8h.01M122.1 246.4h.01M116.3 256.8h.01M125.2 257.8h.01M137.4 248.6h.01M134.4 254.7h.01M119.2 258.1h.01M135.3 253h.01M117 254.7h.01M132 249h.01M117.6 246.9h.01M133.5 257h.01M116.9 247.4h.01M122.8 250.8h.01M108.9 248.1h.01M106 241.5h.01M117.6 257h.01M106.7 246.1h.01M105.5 245.6h.01M117.3 246.8h.01M133.1 252.3h.01M118.7 244.2h.01M104.6 250.9h.01M122.7 247.7h.01M116.4 253.5h.01M113 243.6h.01M115.8 243.6h.01M103.6 243.4h.01M101.2 244.3h.01M103.6 248.5h.01M127.6 249.5h.01M113.1 251h.01M135.7 247.9h.01M134.9 256.4h.01M140.3 243.2h.01M134.5 254.7h.01M140.4 256.8h.01M123.5 260.2h.01M110.8 243.7h.01M115.1 251.1h.01M101.5 247.5h.01M102.1 241.1h.01M139.4 254.7h.01M129.3 247.2h.01M134.1 247.6h.01M136.3 246.1h.01M135.7 251.2h.01M110.3 242.7h.01M100.2 234.9h.01M115.2 249.3h.01M141.1 246.1h.01M99.9 247.9h.01M121.5 250.2h.01M102 241.6h.01M133.9 245h.01M137.3 248.3h.01M103 238.8h.01M121.9 248.4h.01M144.4 252.2h.01M109.1 257.7h.01M119.2 239.4h.01M115.9 245.4h.01M113.7 249.9h.01M117.5 253.3h.01M105.6 251.5h.01M120.9 244.4h.01M114.9 251.7h.01M139.4 240.5h.01M115 246.5h.01M140 256.7h.01M129.1 254h.01M138.9 246.8h.01M140.7 249.6h.01M135.4 242.9h.01M118 245.1h.01M126.5 244.4h.01M102.5 246.5h.01M135.3 250h.01M131.6 255h.01M118.3 247.9h.01M134.6 250.4h.01M125.8 257.9h.01M98.2 249.3h.01M109 240.8h.01M98.9 250.2h.01M124.5 253.5h.01M135.2 258.2h.01M105.1 247h.01M97.9 236.7h.01M96.9 242.5h.01M118.8 237.9h.01M137.1 247.3h.01M137.3 250.2h.01M128.3 256h.01M111.7 247.1h.01M136.1 253.5h.01M98.7 247h.01M116.2 244.5h.01M126.3 254.4h.01M141.6 254.7h.01M110.1 242.7h.01M143.4 251.1h.01M114.3 246.4h.01M140.3 256.1h.01M122.5 255.9h.01M106.7 245.4h.01M116.7 248.1h.01M124 257.9h.01M115.7 261.9h.01M99.8 252.9h.01M96.4 244.6h.01M116.8 247.3h.01M136.9 256.4h.01M100.4 246h.01M109.3 242.7h.01M122.6 255.3h.01M106.7 256.9h.01M114.5 244.3h.01M135.7 248.9h.01M117.1 245.7h.01M131.6 246.3h.01M138.3 256.8h.01M137.4 246.3h.01M113 250.4h.01M130.7 252.7h.01M113.2 250.6h.01M130.7 244.8h.01M120.9 250.8h.01M128.6 251.7h.01M109.4 250.2h.01M111 248.5h.01M138.9 250.4h.01M133.5 256.9h.01M113.4 253.2h.01M127.5 256.9h.01M98.9 241h.01M107.4 249h.01M114.1 243.7h.01M119.8 248.5h.01M125.6 254h.01M94.7 237.8h.01M115.3 260.5h.01M106.8 251.2h.01M134.9 250.1h.01M99.8 241.4h.01M110 246.4h.01M105.8 245.5h.01M101.7 239.3h.01M107.3 245.7h.01M104.1 238.5h.01M126.2 246.9h.01M121.5 257.3h.01M127.2 250.1h.01M141.3 252h.01M112.6 254.5h.01M133 253.7h.01M127.1 253.4h.01M130.1 249h.01M129.4 255.5h.01M96.9 242.5h.01M140.5 257.1h.01M126.2 252.7h.01M142.6 261.4h.01M137.5 257.6h.01M100.6 243.9h.01M103.9 241.4h.01M119.9 247h.01M129.9 249.1h.01M100.3 252h.01M123 247.7h.01M103.9 235.3h.01M109.6 249.3h.01M106.5 250.4h.01M101.4 240.6h.01M133.2 255.9h.01M127.6 244.4h.01M140.7 254.1h.01M106 244.6h.01M125.9 251.6h.01M121.2 251.2h.01M136 249.6h.01M109.3 249.1h.01M108.2 243.6h.01M115.2 248.2h.01M142.3 260.2h.01M107 241.4h.01M115 249h.01M109.8 253.7h.01M95.9 249.6h.01M129.8 249h.01M117.7 245.2h.01M110.7 249.8h.01M137.6 249.7h.01M123.9 250.5h.01M138.9 247.1h.01M106 248.1h.01M132 244.1h.01M102.3 245.5h.01M128 254.6h.01M117.9 245.1h.01M135.8 245.5h.01M112.9 241.4h.01M131.1 243.1h.01M112.1 255.2h.01M99.9 235.5h.01M121 243.9h.01M106.5 247.4h.01M129.2 251.6h.01M134.2 256.2h.01M113.4 253.4h.01M103.4 247.4h.01M139.2 251.6h.01M139.9 250.4h.01M138.3 252.3h.01M133 255.8h.01M105.1 248.4h.01M138.4 255.3h.01M111.7 239.9h.01M122.3 245.1h.01M106 243h.01M129.9 248.8h.01M139.2 248.7h.01M111.7 250.4h.01M107.8 250.3h.01M117.8 256.7h.01M101.8 243h.01M101.6 244.5h.01M117.7 248.8h.01M118 248.1h.01M95 239.8h.01M140.4 257h.01M147.5 244.5h.01M133.5 249.8h.01M109.5 237.9h.01M122.6 252.9h.01M140.3 246.6h.01M131.8 246.4h.01M144.4 253.5h.01M132.1 246.3h.01M111.8 248h.01M107.1 244.6h.01M105.4 254.9h.01M140 247.9h.01M113.8 243.8h.01M122.2 252.2h.01M129.8 251.9h.01M97.1 246h.01M107.9 245h.01M136.5 257.1h.01M117.8 249.7h.01M111 252.6h.01M124.3 243.9h.01M109.3 246.9h.01M131.4 250.3h.01M128.4 252.1h.01M140.7 248.4h.01M101.6 249.3h.01M102.7 238.8h.01M129.5 254.7h.01M123.6 251.8h.01M139.9 244.7h.01M141 255h.01M135.1 244h.01M94.8 246.5h.01M130.7 243.7h.01M128.5 251.4h.01M125.4 249.2h.01M106.1 238.5h.01M115 239.2h.01M118.5 250.6h.01M101.7 242.6h.01M122.9 255h.01M103.3 245.5h.01M106.5 258.5h.01M126.8 251h.01M112.7 255.4h.01M134.2 253.7h.01M95.7 244h.01M137.1 255.9h.01M127.7 247.2h.01M111.3 243.8h.01M112.1 255.4h.01M137.4 251.8h.01M141 248h.01M113.5 248.9h.01M126 246.5h.01M116.9 248.8h.01M126.6 256.3h.01M128.5 257.4h.01M111.9 256.4h.01M98.4 250.5h.01M102.5 247.9h.01M134 254.7h.01M117 249.7h.01M131.1 252.1h.01M130.2 262.7h.01M125.7 250.8h.01M106.4 253.1h.01M143.9 253.3h.01M112 253.6h.01M140.8 240.5h.01M96 244.5h.01M128.9 248.7h.01M135.2 260h.01M136.2 259.3h.01M127.1 247.5h.01M143.7 253.7h.01M107.1 250.5h.01M116.4 249.8h.01M107 246.6h.01M132.7 256.6h.01M124.6 243.5h.01M132.2 259.3h.01M99.6 246.6h.01M97 231h.01M97.6 240.4h.01M135.3 252.3h.01M119.4 259.8h.01M96.4 244.4h.01M99.3 237.5h.01M133.5 257.7h.01M104.1 247.6h.01M126.4 250.8h.01M102.8 250.8h.01M134.5 251.4h.01M112.1 246.9h.01M132.1 256.5h.01M108 249.2h.01M95.6 248.5h.01M100.9 243.9h.01M135.5 260h.01M111.6 241h.01M129 244.9h.01M107.2 248.3h.01M111.4 247.1h.01M121.8 250.6h.01M131.3 252.1h.01M138.4 253h.01M112.4 242.9h.01M111.4 248.5h.01M104 252.3h.01M126.4 247.3h.01M130.2 259.7h.01M109.9 254.1h.01M105.6 242.3h.01M101.3 248.8h.01M101 240.3h.01M130.5 251.4h.01M132.3 247.3h.01M117.9 246.5h.01M130.4 243.5h.01M116.9 248.8h.01M123.2 245.5h.01M136.7 249h.01M116.6 239.8h.01M121.3 249.7h.01M142.4 263.1h.01M143.5 252.6h.01M124.2 249.7h.01M118.2 244h.01M97 242.1h.01M118.3 244.9h.01M107.8 239.9h.01M114.4 244.6h.01M108.8 244.1h.01M140.5 255.7h.01M106.9 244.9h.01M125.3 252.2h.01M96.9 250.3h.01M117.1 252.5h.01M145.2 252.4h.01M110.6 239.9h.01M96.7 244.1h.01M120.4 251.4h.01M136.6 257.5h.01M100.2 245.1h.01M124.7 263.2h.01M98.5 243.4h.01M134.1 255.2h.01M121.9 246.1h.01M135.1 247.9h.01M142.3 252.4h.01M132.6 252.6h.01M134.1 255.4h.01M114.4 233.9h.01M109.4 252.4h.01M137.3 260.5h.01M113.5 253.4h.01M138.9 256.9h.01M116.8 248.2h.01M96.1 246.7h.01M123.6 256h.01M129.2 247.2h.01M97.3 247.3h.01M142.6 256.5h.01M111.8 246.8h.01M116.7 256.9h.01M125.2 248.4h.01M122.1 245.4h.01M114.6 248.6h.01M137.2 251h.01M105.7 251.4h.01M127.9 243.7h.01M95.4 238h.01M130.6 253.3h.01M127 254.7h.01M117.6 242.7h.01M110.9 254.1h.01M122.9 240.9h.01M136.3 257.9h.01M104.9 241.4h.01M114.9 245.7h.01M116.8 256.9h.01M108.8 247.2h.01M108 243.3h.01M119.9 250h.01M112.2 256h.01M122.3 250.2h.01M116.7 244.7h.01M132.7 253.4h.01M134.9 246.7h.01M121.4 246.3h.01M135.8 250.2h.01M117.1 252h.01M111.3 245.2h.01M120.4 251.9h.01M132.7 257.9h.01M122.8 256.7h.01M132.5 244.3h.01M110.7 247.2h.01M125.4 245.4h.01M122.5 252.5h.01M125.2 251.7h.01M114.6 248.3h.01M101.7 242.7h.01M96.1 239.5h.01M97.4 236.9h.01M96.3 248.9h.01M117.6 247.2h.01M112.2 247.8h.01M127.1 251.7h.01M141.1 257.3h.01M114.4 256.7h.01M109.9 246.3h.01M127.3 253.1h.01M118.4 241.6h.01M96.8 242.5h.01M130.6 248.7h.01M111.3 244.5h.01M118.9 254.7h.01M125.8 251h.01M136.4 253.7h.01M111.1 247.4h.01M117.7 247.5h.01M136.4 251.7h.01M138.4 250.6h.01M131.9 248.8h.01M137.9 250.3h.01M96.4 243.3h.01M120.7 241.1h.01M110.6 247.2h.01M122.7 249.7h.01M125.1 252.2h.01M115.3 242.8h.01M132.8 248.3h.01M134.8 255.8h.01M95.8 241h.01M134.4 255.1h.01M129.2 248.3h.01M137.9 247h.01M108.2 240.2h.01M115.1 245.1h.01M128.3 249.3h.01M137 247.1h.01M109.5 253.2h.01M129.3 250.9h.01M113.8 243.7h.01M117.1 255.4h.01M114.3 252.5h.01M113.8 244.3h.01M138.4 248.2h.01M134.8 251.5h.01M97.4 247.5h.01M99.1 238h.01M100.5 249.8h.01M100.2 243.5h.01M105 249.8h.01M105.2 245.1h.01M108.9 248.9h.01M111.5 250.7h.01M125.2 257.1h.01M123.8 246.7h.01M102.3 253.7h.01M130 244.9h.01M123.2 251.2h.01M93.4 246.9h.01M136.8 252.9h.01M104.6 249.9h.01M117.2 241.6h.01M116.6 248.9h.01M94.2 248.9h.01M100.5 245.3h.01M102.3 240.5h.01M138.5 254h.01M137.3 253.9h.01M136.9 248.4h.01M110.4 252.4h.01M114.5 245.7h.01M123.4 244.7h.01M96.1 244.8h.01M100 242.2h.01M116.3 247.8h.01M96.7 246h.01M120 246.7h.01M120.5 252h.01M97.9 245.4h.01M134.9 257.3h.01M114.1 243.3h.01M120.6 249h.01M121.2 251.8h.01M138.5 254.1h.01M103.1 235.9h.01M102.4 240.8h.01M127 251.8h.01M136.9 255.6h.01M103.9 246.2h.01M113.2 249.5h.01M146.9 240.3h.01M86.1 244.1h.01M123.2 249.8h.01M144.3 256.6h.01M131.3 243.4h.01M113.6 244.7h.01M118.5 248.5h.01M113.7 254.6h.01M125.7 244.6h.01M121.2 255h.01M104.3 228.7h.01M101.8 249.7h.01M138 259.6h.01M104.5 239h.01M106.4 244.5h.01M154.4 256.2h.01M110.5 250.2h.01M103.8 256.6h.01M108.6 249h.01M132.7 250.2h.01M111.7 246.4h.01M120.1 251.9h.01M89.9 250.4h.01M113.4 250.5h.01M122.5 245.5h.01M122.6 247.3h.01M142.4 247.3h.01M129 244.1h.01M81.7 238.1h.01M99.2 240.8h.01M109.5 254h.01M117.7 239.2h.01M122.5 250.7h.01M130.6 241.8h.01M98.3 252.1h.01M90.7 246.5h.01M132.8 262.6h.01M107.8 251.8h.01M88.8 235.1h.01M108.4 247.7h.01M115.5 243.5h.01M104.7 242.3h.01M105.2 238.2h.01M135.8 250.1h.01M106.2 247.7h.01M125.9 252.5h.01M124.6 271.2h.01M116.6 247.6h.01M154.6 257h.01M102.7 245.5h.01M157.7 254.8h.01M108.2 244.8h.01M117.8 249.7h.01M125.8 249.1h.01M137.1 259h.01M131.4 255.4h.01M116.7 241.7h.01M116.7 249h.01M138.1 255.7h.01M143.1 251.8h.01M114.2 246.6h.01M138.8 252.5h.01M129.6 256.5h.01M125.3 252.1h.01M106.3 242.5h.01M104.1 246.2h.01M127.8 261.4h.01M82.9 234.6h.01M114.8 254.1h.01M127.7 249.1h.01M98.4 276.2h.01M144.6 259.6h.01M145 254.9h.01M106.9 246.2h.01M120.2 237.1h.01M120 245.4h.01M114.2 265.1h.01M115 251.6h.01M128.6 248.9h.01M145.1 254.4h.01M123 250.6h.01M123.3 242.5h.01M123.7 251.2h.01M112.2 252.3h.01M130.6 239.5h.01M115 246.7h.01M108.1 224.9h.01M131 237.9h.01M95.8 251.8h.01M114.8 258.8h.01M116.4 264.2h.01M120 239h.01M100.4 245.2h.01M108.6 244.7h.01M119.9 258.4h.01M130.3 254.3h.01M120.3 250.4h.01M119 254.4h.01M110.2 244h.01M122.2 258.1h.01M83 239.7h.01M130.9 260.8h.01M135.4 254.2h.01M121.7 251.9h.01M108.4 238.1h.01M140.6 241h.01M112.5 235.4h.01M140.7 257.7h.01M118.2 231.7h.01M111.3 259.2h.01M119 246.8h.01M112.4 237.2h.01M119.6 252.4h.01M128.9 241.2h.01M118.4 249.7h.01M115.6 246.6h.01M121.7 259.8h.01M127.4 258.4h.01M122 257.7h.01M129.5 247.7h.01M130.1 261.8h.01M126 250.2h.01M131.9 252.9h.01M122.2 253.7h.01M137.8 255.3h.01M127.6 240.2h.01M133.6 257.6h.01M119.3 236.6h.01M102.3 250.1h.01M115.8 248.3h.01M122.6 250.8h.01M127.1 242.1h.01M121.5 258.1h.01M142.4 252.8h.01M104 253.5h.01M97.5 239.3h.01M119.5 243.7h.01M112.6 248.8h.01M122.4 258.5h.01M131.1 241h.01M103.8 242.4h.01M107.2 245h.01M121.2 246.2h.01M101.6 254.9h.01M111.5 253.8h.01M139.7 253.6h.01M121.2 256.8h.01M121.6 258.4h.01M137.3 247.9h.01M43.5 241.2h.01M75.9 240.1h.01M108.6 239.5h.01M50.4 240.1h.01M45.9 250h.01M78 247.6h.01M41.7 237h.01M79.9 240h.01M65.2 252.5h.01M31.5 253.9h.01M49.5 249.6h.01M68.6 256.8h.01M39.7 241.1h.01M73.5 247.7h.01M67.2 241.7h.01M53.2 257.3h.01M69 247.7h.01M51.9 247.4h.01M65.1 247.3h.01M37.3 241.2h.01M92.4 245.3h.01M54.1 232.7h.01M86.6 243.1h.01M109.1 240.3h.01M96.2 250h.01M59.7 252.6h.01M63.7 246.8h.01M59.1 239.7h.01M67.2 239.4h.01M41.2 249.2h.01M37.7 243.4h.01M67.5 244h.01M61.2 239.4h.01M95.2 247.1h.01M101.5 246.9h.01M28.8 249.4h.01M38.9 240h.01M77.8 245.4h.01M87.1 237.9h.01M63 246.7h.01M61.5 245.4h.01M38.5 242.9h.01M112.5 250.9h.01M44.1 238.2h.01M73.1 254.1h.01M68 247.7h.01M39.6 248.3h.01M79.7 247.2h.01M93.6 242h.01M59 242.3h.01M63.5 250.7h.01M75.2 245.5h.01M82.6 247.4h.01M80 243.8h.01M39.8 249.8h.01M38.7 248.8h.01M47.5 238.2h.01M58 255.5h.01M29.8 250.8h.01M55.7 250h.01M44.9 247.1h.01M40.8 244.9h.01M80.4 250.4h.01M67.8 259.7h.01M79 245.2h.01M56.3 239.4h.01M50.6 245.2h.01M40.3 245.6h.01M65.8 250.8h.01M37.7 238.3h.01M40.1 242.8h.01M73.6 243.9h.01M79.6 251h.01M58.6 251.5h.01M33.7 246.2h.01M73.2 251.4h.01M43.2 245.8h.01M57.3 246h.01M37.9 232.7h.01M101.8 241h.01M94.3 239.6h.01M40.7 247.6h.01M33.4 245.5h.01M58.9 239.4h.01M74.4 245.7h.01M88.8 245h.01M58.7 247.4h.01M31.7 242h.01M66.8 241.5h.01M66.2 252h.01M32.8 243.4h.01M54.1 250.7h.01M53.2 240.4h.01M37.6 243.8h.01M65.2 243.5h.01M84.2 240.2h.01M83.2 249.4h.01M39.6 237.7h.01M46.6 246.4h.01M75.9 233.8h.01M52.4 248.9h.01M52 245.3h.01M110.5 251.9h.01M55.1 255.5h.01M45.1 241.3h.01M40.8 245h.01M58.8 238.2h.01M99.2 243.1h.01M56.7 245.5h.01M53.5 245.3h.01M63.7 249.5h.01M53.1 247.8h.01M68.7 250.6h.01M118.3 242.1h.01M44.3 245.8h.01M55.3 239.5h.01M58.4 244.2h.01M44.6 229.8h.01M73.9 244.7h.01M58.6 245.4h.01M41.3 242.1h.01M53.8 242.9h.01M63.8 235.9h.01M39.5 241.4h.01M84.9 242.2h.01M46.4 246.2h.01M30.6 247.2h.01M78.4 242.9h.01M56.9 244.3h.01M63.2 247.1h.01M33.3 239.9h.01M28.3 250.2h.01M36.8 255.9h.01M56.5 247.1h.01M56.9 242.5h.01M91.6 246.6h.01M95.3 251.8h.01M63 252h.01M57.8 237.8h.01M103.5 247.3h.01M61.3 241.2h.01M83.2 243h.01M48.8 246.4h.01M57.7 248h.01M53.6 243.5h.01M44.1 240.3h.01M68.6 244.1h.01M41.1 239.3h.01M57.5 254.5h.01M69.4 236.8h.01M108.3 248.9h.01M40 245.2h.01M61.7 245.1h.01M75 239.6h.01M52.1 242.3h.01M79.9 243.5h.01M72.1 242.3h.01M71.2 243.9h.01M50.4 245.5h.01M55.1 242.6h.01M54.8 247.4h.01M37.3 248.7h.01M64.1 242.2h.01M35.8 248.7h.01M38.7 245.1h.01M28.2 241.7h.01M85.2 247.8h.01M47.1 250.9h.01M39.7 243.1h.01M78.2 235.4h.01M50.4 249.1h.01M67.6 250.5h.01M55.9 239h.01M68.2 244.4h.01M64.3 247.5h.01M46 231.7h.01M93.6 249.6h.01M82.9 249.1h.01M29.8 249h.01M80.4 253.2h.01M54.8 239.3h.01M62.6 250.1h.01M89.3 257.5h.01M82.7 233.1h.01M82.3 243.2h.01M105.9 249.2h.01M84.9 241.3h.01M46.2 234.9h.01M30.7 246.3h.01M79.1 246h.01M35.5 240.6h.01M52 246.1h.01M51.7 249.7h.01M43.9 250.1h.01M91 247.5h.01M67.3 238.3h.01M54.8 243.2h.01M80.5 232.8h.01M50.6 239h.01M87.4 246.1h.01M106.7 248.3h.01M57 244.7h.01M56.2 244.7h.01M86.3 234.6h.01M41.2 237.4h.01M31.3 238.3h.01M36.5 241.4h.01M33.4 241.2h.01M59.9 256.6h.01M66.7 250.3h.01M59.3 239.3h.01M59.3 241.2h.01M80.9 242.1h.01M84.5 241.9h.01M88.4 242.3h.01M56.7 233.7h.01M60.4 251.1h.01M93.6 248.8h.01M69.3 248.3h.01M90.1 245.7h.01M49.1 247.1h.01M58.9 242.8h.01M45.3 233.9h.01M59.5 245.4h.01M69.7 245h.01M49.7 237.5h.01M104.7 233.1h.01M30.4 250.5h.01M79.7 239.4h.01M35.1 243.3h.01M66.7 241h.01M42.3 253.6h.01M61.6 236.7h.01M61.6 250.4h.01M41.7 230.8h.01M32.1 249.4h.01M43.7 241.9h.01M60.4 232.5h.01M78.4 245.2h.01M96.6 244.7h.01M35.8 235.5h.01M70.3 246.7h.01M49.2 244.4h.01M60.2 247.3h.01M67.2 237.2h.01M78 240.8h.01M69.2 239.6h.01M59.4 245.3h.01M95.5 242.2h.01M66.3 239.3h.01M59.8 252.2h.01M85.9 242.1h.01M33.8 250.3h.01M38.4 249h.01M93 241.2h.01M55.3 234.7h.01M37.2 245.3h.01M78.1 248.6h.01M87.3 251.4h.01M42.2 246.6h.01M30 246.7h.01M58.6 241.3h.01M67.9 240.9h.01M46.2 262h.01M38.9 250.7h.01M71.7 237.6h.01M71.9 246.5h.01M32.8 246.8h.01M34.3 234.7h.01M52.3 243.1h.01M45.4 247.6h.01M64.5 253.8h.01M71.3 253.6h.01M101.9 243.3h.01M67.8 243.1h.01M80.6 242.5h.01M32.2 245.6h.01M43.9 249.2h.01M83.7 239.4h.01M29.8 243.4h.01M90.1 241.9h.01M72.1 240.7h.01M62.6 242h.01M56.9 254.7h.01M33.1 253.9h.01M35 252.5h.01M47.6 235.6h.01M49.8 246.3h.01M87.5 258.1h.01M36.4 246.8h.01M45.3 240.7h.01M36.4 247.6h.01M63.2 243.4h.01M59.5 242.6h.01M84.4 246.4h.01M103.1 247.9h.01M71.7 244h.01M40.1 244.4h.01M64.6 239.3h.01M66 244.6h.01M58.2 248.6h.01M34.9 245h.01M67.3 243.9h.01M32 236.6h.01M57.6 250.9h.01M52.6 238.4h.01M55.6 247.8h.01M73.3 243h.01M107.8 249.7h.01M51.2 250.4h.01M45.4 242.9h.01M80.6 228.5h.01M29.7 233.3h.01M59.9 239.5h.01M65 239.8h.01M46.7 246.2h.01M57.8 255.6h.01M40.2 248.2h.01M46.3 243.9h.01M74.6 252.3h.01M39.7 243.5h.01M46.5 249.3h.01M43.6 246.6h.01M71 234.4h.01M51 250h.01M40.1 254.2h.01M67 243h.01M42.5 248.5h.01M40.1 247.1h.01M66 243.4h.01M101.7 243.3h.01M48.3 250.1h.01M67.1 241.4h.01M28.4 241.5h.01M62.3 249.5h.01M63.9 249.9h.01M72.5 253.5h.01M42.6 241.5h.01M103.4 238.1h.01M37.7 250.5h.01M94 236.9h.01M35.1 242.3h.01M77.5 243.9h.01M90 254.5h.01M108.8 245.6h.01M56.9 238.2h.01M34.3 244.3h.01M78.7 252.3h.01M43.4 234.9h.01M35.2 237.4h.01M46.2 250.3h.01M38.9 245.3h.01M76.9 239.5h.01M63.9 243.8h.01M75.2 245.4h.01M79.2 238.8h.01M50.8 241.7h.01M75.7 252.9h.01M87.3 246.9h.01M101.9 251.4h.01M63.5 244.7h.01M53.8 241.7h.01M38.5 246.3h.01M50.8 239.8h.01M59.9 246.9h.01M65.4 243.3h.01M29.2 242.9h.01M50.6 243.3h.01M55.2 239.7h.01M46.3 252.1h.01M45.9 236.5h.01M67.7 246.2h.01M37.6 237.7h.01M70.5 249.9h.01M35.3 243.4h.01M64.7 245.9h.01M34.5 247.1h.01M86.6 247.1h.01M76.6 246.1h.01M90.3 247.2h.01M40.7 246.5h.01M29.8 242h.01M29.8 242.9h.01M54.7 243.5h.01M83.9 241.3h.01M75.9 242.1h.01M75.1 252.2h.01M31.8 236.8h.01M84.4 254.3h.01M76.4 242.2h.01M47.3 248.1h.01M54.6 244.2h.01M41.7 243.7h.01M56.8 247.9h.01M95.6 254.5h.01M64.7 244.3h.01M58.3 244.7h.01M95.9 242.4h.01M95.2 256.3h.01M68.4 251.3h.01M73.9 251.1h.01M88.3 245.4h.01M43.4 234.5h.01M69 247.6h.01M50.1 235.1h.01M37.8 241.2h.01M71.2 250.2h.01M85 242h.01M102.5 241.7h.01M77.5 233.6h.01M85.8 249h.01M55.8 247.1h.01M30.9 241.9h.01M45.4 246.7h.01M69 236.3h.01M46.4 239.7h.01M103.7 246.4h.01M87.8 249.9h.01M55.4 244.7h.01M99.6 238.7h.01M74.8 242.4h.01M97.6 251.3h.01M55.9 241.6h.01M78 246.4h.01M54.8 247.1h.01M60.3 241.9h.01M86.3 245.3h.01M103.8 235.7h.01M62.9 241.8h.01M66.9 245.1h.01M39.9 248.1h.01M55.2 251.8h.01M71.5 242.4h.01M31.5 247.1h.01M50.2 244.1h.01M34.5 240.3h.01M64.7 240.7h.01M80.5 244.8h.01M67.9 245h.01M53.7 240.7h.01M37 259.4h.01M33.3 244.3h.01M60.5 248.4h.01M94.9 243.8h.01M54 259.8h.01M58.6 232.8h.01M50 242.8h.01M34.3 245.6h.01M84.6 251.5h.01M76.4 244.7h.01M30.1 239.1h.01M31.7 253h.01M90.9 248.7h.01M40 243.2h.01M59.1 243.5h.01M36.6 243.2h.01M67.5 245.8h.01M42.2 235.4h.01M46.3 245.4h.01M34.7 241.3h.01M103.7 247.9h.01M119.8 247.3h.01M65.3 239.2h.01M75.5 252.2h.01M73.3 249h.01M60.3 240h.01M58.2 239.1h.01M51.9 241h.01M78.2 246.9h.01M32 251.3h.01M41 239.7h.01M76.4 240.8h.01M28.4 247.2h.01M97.4 244.9h.01M53.9 244.4h.01M64.5 244.2h.01M90.7 243.4h.01M59.1 254.2h.01M63.2 250.1h.01M46.7 242.9h.01M72.1 251.7h.01M76.2 255.1h.01M40 247.1h.01M75.3 246.6h.01M82.6 242.4h.01M71.1 245.6h.01M43 245.8h.01M81.7 252h.01M91.7 240.1h.01M49 235.9h.01M38.2 241.6h.01M44 246.6h.01M60.7 234h.01M90.2 244h.01M87.8 240.7h.01M76 238.9h.01M45.4 245.3h.01M77.8 251.2h.01M60.1 237.5h.01M36.7 245.7h.01M37.4 243.4h.01M83.3 248.5h.01M33.7 244.4h.01M89 241.7h.01M112.2 250.1h.01M61 247.1h.01M40.8 239h.01M45.5 233.9h.01M44.6 240.8h.01M69 245.9h.01M83.3 249.1h.01M42.8 241.5h.01M52.6 242.6h.01M45.2 234.8h.01M86.7 242.6h.01M82.8 245.6h.01M40.6 241.3h.01M53.1 244.1h.01M64 239.5h.01M37.5 239.4h.01M47.8 246h.01M63.4 236.4h.01M28.5 244.4h.01M65.1 251.1h.01M61.3 241.6h.01M47.4 241.9h.01M84.1 240.5h.01M38.6 237.5h.01M70 241.7h.01M54.3 237.8h.01M85.5 243.7h.01M42.1 241.5h.01M74 238.7h.01M74.4 244.9h.01M86.4 250.2h.01M97.4 249.2h.01M31.3 242.7h.01M58.5 244.4h.01M35.3 238.7h.01M82.7 243.5h.01M91.7 248.4h.01M53.3 248.5h.01M65.8 251.8h.01M90.4 236.8h.01M64.9 252.9h.01M57.2 246.5h.01M34.2 252.4h.01M43.8 244.4h.01M83.2 251.3h.01M29.9 244h.01M66.8 238.9h.01M65.2 246.2h.01M59.9 241.8h.01M78.6 244.5h.01M42.9 247.1h.01M92.2 249h.01M50.1 247.8h.01M83.6 249.9h.01M46.7 236h.01M66.2 250.7h.01M52.5 240h.01M99 245.4h.01M36.1 242h.01M45.5 238.1h.01M94 249.6h.01M78.9 239.3h.01M59.3 241.5h.01M54.2 252.2h.01M30.5 232.1h.01M53.9 235.4h.01M68.4 249.7h.01M88 242.6h.01M81.8 248.9h.01M93.8 244.8h.01M69.1 242h.01M43.7 248h.01M52.1 240.6h.01M95.7 241.9h.01M62.7 245.8h.01M92.9 239h.01M32.9 236.4h.01M48.9 235.5h.01M41.7 249.3h.01M66.2 254.9h.01M42 250.6h.01M29.5 240.7h.01M58.4 241.7h.01M49.3 238.6h.01M46.5 244.3h.01M70.1 250.2h.01M33.5 243.8h.01M59 244.4h.01M39.7 227h.01M52.2 246.1h.01M65.8 238.1h.01M71 243.3h.01M70.3 246.6h.01M42.7 245h.01M95.7 248.9h.01M67.8 252.8h.01M45.1 232.2h.01M91.4 236.6h.01M51 253.3h.01M105.8 247.7h.01M80 240.9h.01M57.8 243.1h.01M49.1 244.5h.01M40.9 250h.01M42.1 242.7h.01M53.9 244.5h.01M91.9 237.8h.01M64.6 252.6h.01M58.5 247h.01M70.4 242.2h.01M53.1 237.4h.01M31.1 244.2h.01M30.6 249h.01M93.8 257.4h.01M54 254.9h.01M98.1 243.1h.01M105 242.9h.01M67.2 239.5h.01M78.6 247.4h.01M52.2 240.5h.01M57.6 247.8h.01M62.6 246.5h.01M60.5 247h.01M96 239.9h.01M58.4 250.9h.01M81.8 243.9h.01M63.5 238.2h.01M75.4 244.7h.01M103.9 246.2h.01M32.1 244.7h.01M88.2 250.2h.01M46 251.1h.01M65.4 257.1h.01M52.7 244.2h.01M49.5 251.2h.01M28.7 230.5h.01M58.6 254.2h.01M111.2 245.3h.01M81.2 251.9h.01M55.1 243.5h.01M39.6 247.3h.01M76.6 248.4h.01M98.1 242h.01M71 241.9h.01M36.2 228.8h.01M48.4 247.7h.01M67 244.1h.01M59 243.6h.01M87.1 251.7h.01M37.8 246.5h.01M45.5 245.9h.01M54.8 234h.01M87.6 246h.01M75.8 243.4h.01M50.3 250h.01M38.5 241.7h.01M81.3 238.5h.01M29.6 243.2h.01M30.1 254.5h.01M41.9 239.6h.01M29.9 251.4h.01M37.9 243.7h.01M34.4 233.6h.01M86.6 248.5h.01M77.4 257.8h.01M62.1 247.3h.01M46.6 238.9h.01M59.2 243.7h.01M28.5 239.7h.01M69.7 260.5h.01M37.8 247.6h.01M47.9 231.9h.01M68.3 249.4h.01M39.1 247.1h.01M29.6 238.9h.01M84.7 241.8h.01M37.8 244h.01M29.3 253.9h.01M31.9 241.7h.01M42.6 240.6h.01M56.7 250h.01M73.8 240.5h.01M48 239.1h.01M93.8 244.5h.01M88.7 249.6h.01M81.3 245.9h.01M58 242.8h.01M65.3 252.7h.01M46.6 252.2h.01M36.7 235.7h.01M68.6 238.7h.01M86 240.1h.01M67.2 243.8h.01M59.3 245.8h.01M80.9 244.7h.01M67.7 245.3h.01M87.1 247.6h.01M49.8 237.8h.01M39.8 232.5h.01M71.8 246.6h.01M81.5 251.9h.01M41.2 245.7h.01M65.7 242.7h.01M77.5 248.1h.01M62.5 242.4h.01M119.4 238.5h.01M78.8 243h.01M55.2 249h.01M31.9 246.3h.01M34.7 248.2h.01M141 243.1h.01M52.1 247.8h.01M76.9 252.8h.01M43.9 242.9h.01M52.1 242.1h.01M75.9 251.7h.01M37.1 245.2h.01M58.1 238.6h.01M55 242.6h.01M71.6 252.1h.01M80.8 247.1h.01M55.6 255h.01M94 248.8h.01M48.4 246.2h.01M50.5 250.5h.01M62 241.7h.01M53.7 250.6h.01M78.9 244.7h.01M65.9 242.8h.01M39.6 246.6h.01M49.4 241.8h.01M94.2 239.3h.01M80 240.3h.01M43 247.6h.01M69.5 246.7h.01M39.5 244.9h.01M52.5 248.8h.01M96.1 240.6h.01M75.8 242.9h.01M112.1 254.4h.01M48 239.7h.01M88.2 252.2h.01M62.7 243.6h.01M67.8 247.9h.01M66.4 246.3h.01M78.9 243.8h.01M92.5 246h.01M61.7 250.2h.01M69.4 241.3h.01M57.7 239.9h.01M67.2 249.7h.01M40.5 242.7h.01M84.7 244.4h.01M77.4 244.2h.01M68.2 242.8h.01M60 235.3h.01M102.7 223.4h.01M83.4 221.5h.01M83.5 220.9h.01M109.3 218.7h.01M129.6 215.8h.01M80.1 215.3h.01M132.2 224.8h.01M89.8 225.2h.01M78.9 220.4h.01M85.1 225.3h.01M121.6 236.8h.01M78.7 221.4h.01M113.2 235.4h.01M142.5 220.9h.01M105.8 226.4h.01M142 228.6h.01M92.2 217.9h.01M124.7 233.7h.01M143.1 218.5h.01M93.7 222.4h.01M139.5 226.6h.01M138.5 234.3h.01M138.3 233.8h.01M103.6 222.6h.01M77.4 228.6h.01M94.9 220.6h.01M103.3 223.3h.01M97.3 222.3h.01M123.7 226.6h.01M121.2 223.9h.01M90.4 236.7h.01M108.8 222.5h.01M135.9 233.9h.01M120.2 235.6h.01M128.1 234.2h.01M133.9 236.2h.01M112.4 233.6h.01M126.2 224.2h.01M114.6 227.9h.01M89.4 232.3h.01M79.7 225.2h.01M112.4 231.5h.01M132.2 231.5h.01M136.7 228.6h.01M130.5 219.7h.01M106.9 222.9h.01M123.4 234h.01M108.3 222.8h.01M131.6 227.2h.01M97.2 218.8h.01M105.2 226.2h.01M125.9 235h.01M137.9 229.8h.01M132.2 234.4h.01M84.6 233.2h.01M84.7 224.4h.01M91 218.1h.01M95.6 233.2h.01M84.2 235.5h.01M142.1 229.7h.01M111.1 221.2h.01M78.2 231.7h.01M101.4 225.5h.01M108.3 218.2h.01M127.8 223.2h.01M130.8 230.5h.01M87 227.3h.01M96.9 227h.01M137.7 219.6h.01M106 225.5h.01M115.9 219.5h.01M144.4 228.3h.01M104.3 226.5h.01M80.5 216h.01M112.6 225.9h.01M89.6 219.2h.01M90 231.5h.01M97.1 235.3h.01M103.3 228.7h.01M87.2 228.9h.01M131.8 218.5h.01M75.2 219.7h.01M140.5 217.2h.01M119.3 233.9h.01M91.7 236.2h.01M75.5 235.2h.01M91.9 229.2h.01M140.4 229.9h.01M99.6 228.7h.01M99.9 235h.01M83.2 232.6h.01M122.5 226.2h.01M95.3 225.8h.01M95.8 232.2h.01M80.4 219.5h.01M85.4 228.6h.01M86.5 223.3h.01M145.1 229.6h.01M114.7 223.4h.01M142.7 220.3h.01M96.6 233.1h.01M108.2 226.7h.01M139 230.4h.01M127.2 227.7h.01M115.4 233.9h.01M121.1 231.7h.01M79.3 236.4h.01M143.4 230.3h.01M142.5 232.7h.01M125.2 234.3h.01M61.6 230.3h.01M74 220.1h.01M40.4 225.3h.01M40.9 227.5h.01M54.7 226.8h.01M64.7 235.6h.01M60.9 224.7h.01M71.6 224.6h.01M60.7 220.1h.01M49.2 231.5h.01M45 226.8h.01M74.4 221h.01M129.3 279h.01M109.9 261.3h.01M108.3 261.6h.01M138.1 265.1h.01M100.6 266h.01M144.7 267.3h.01M141.5 268.3h.01M110.8 272.1h.01M111.1 263.7h.01M122.6 270.2h.01M102.7 270.5h.01M138.4 275.5h.01M124.5 281.6h.01M139.4 270.1h.01M138.8 278.1h.01M129.5 278.6h.01M134.2 270.8h.01M146.7 281h.01M113.9 258.6h.01M112.1 263.8h.01M123.1 275.4h.01M108.2 258.5h.01M131.1 260.2h.01M143.6 258h.01M129.2 278.9h.01M115.8 266.8h.01M128.2 262.6h.01M129.2 278.3h.01M101.4 273.9h.01M134.7 262.5h.01M112.8 261.3h.01M113.9 274.9h.01M104.3 281.2h.01M137.2 261.6h.01M135.5 256.1h.01M110.1 280h.01M119.3 273.3h.01M134.8 259.8h.01M122.5 260.8h.01M130.3 263.4h.01M120.7 261h.01M137.5 277h.01M137 281.5h.01M134.4 267.1h.01M105.8 262.3h.01M123.2 263.5h.01M127.6 279.9h.01M103.4 273.4h.01M129.2 279.8h.01M137.7 275.7h.01M128.1 262.9h.01M144.4 262h.01M112.4 276.6h.01M135.2 279.2h.01M134.7 258.4h.01M135.7 262.8h.01M121.9 264.4h.01M128.4 274.2h.01M138.8 261.8h.01M146.7 268.5h.01M117.4 269h.01M114.8 278.8h.01M108.5 256.7h.01M112.6 268.9h.01M112.9 269.1h.01M117.1 266.1h.01M113.8 258.3h.01M107.3 266.4h.01M127.9 274.7h.01M128 281.6h.01M115.2 280.9h.01M133 279.8h.01M113.4 278.9h.01M121.8 257.8h.01M105.3 279.6h.01M103.2 262.4h.01M127.2 277.8h.01M138.1 275.3h.01M146.1 277.6h.01M104.7 268.6h.01M101.5 267h.01M119.4 271.6h.01M131.8 278.4h.01M142.8 272.8h.01M119.5 268.5h.01M125.3 260.8h.01M100.6 270.2h.01M111.3 281.6h.01M142.6 262.2h.01M113.6 276.1h.01M96.1 262.3h.01M103.1 262.5h.01M96.3 267.2h.01M88.3 264.9h.01M82.3 254.3h.01M79.5 259.7h.01M88 264.5h.01M70.2 267.8h.01M74.8 260.1h.01M99.4 254.8h.01M63.9 255.8h.01M101.7 264.5h.01M92.5 264.8h.01M61.3 261.9h.01M82.3 263.1h.01M80.1 265.3h.01M88.6 261.4h.01M78.9 257.7h.01M104 262.9h.01M80.6 255.6h.01M61.3 264h.01M73 259.8h.01M72 259.9h.01M64.8 262.7h.01M62.8 264h.01M98 259.3h.01M62.6 266.5h.01M63.8 267.3h.01M63.5 267.4h.01M89 267h.01M80.7 261.2h.01M78.1 257.6h.01M94.7 266h.01M81.5 261.5h.01M79.1 258.2h.01M92.2 261.2h.01M75.1 259.9h.01M71.2 260.6h.01M98.9 267.3h.01M61.1 261h.01M88.6 259h.01M62.1 264.5h.01M65.5 266h.01M70.4 263.8h.01M70.9 255.1h.01M34.3 273.1h.01M45.5 280h.01M39.2 289.1h.01M29.6 267.1h.01M41.3 309.7h.01M41.3 280.9h.01M32.9 273.1h.01M41.7 292.5h.01M32.3 299.1h.01M46.2 269.7h.01M40.1 280.6h.01M31 282.3h.01M38.5 304.2h.01M44.2 274.9h.01M31.1 279.7h.01M44.5 271.8h.01M44.7 286.8h.01M30.1 281.5h.01M44.2 297h.01M28.4 280.1h.01M39.8 270.9h.01M38.9 269h.01M46.2 297.1h.01M39.3 269.6h.01M36.6 270.4h.01M31.6 297.2h.01M41.7 299.6h.01M44.5 264.9h.01M34.4 267.4h.01M46.2 275.3h.01M43.7 279.3h.01M35.7 287.3h.01M49.2 271.7h.01M59 282.2h.01M49.1 281.8h.01M58.6 269.2h.01M50.6 279.5h.01M54.6 268.9h.01M52.8 269.9h.01M49.3 291.5h.01M90.7 296.6h.01M113.7 296.6h.01M133.4 294.3h.01M146 291.7h.01M66 295h.01M73.4 301h.01M74.2 310.5h.01M59.8 299.5h.01"/>
<path class="fr" d="M27.4 211.5H159.4V314.4"/>
<path class="ax" d="M27.4 211.0V314.4H159.9"/>
<path class="mt" d="M27.4 312.8v6.8M29 314.4h-5.8M37.3 314.4v2.5M27.4 306.7h-2.5M43.1 314.4v2.5M27.4 302.1h-2.5M47.3 314.4v2.5M27.4 298.9h-2.5M50.5 314.4v2.5M27.4 296.4h-2.5M53.1 314.4v2.5M27.4 294.4h-2.5M55.3 314.4v2.5M27.4 292.7h-2.5M57.2 314.4v2.5M27.4 291.2h-2.5M58.9 314.4v2.5M27.4 289.9h-2.5M60.4 312.8v6.8M29 288.7h-5.8M70.3 314.4v2.5M27.4 280.9h-2.5M76.1 314.4v2.5M27.4 276.4h-2.5M80.3 314.4v2.5M27.4 273.2h-2.5M83.5 314.4v2.5M27.4 270.7h-2.5M86.1 314.4v2.5M27.4 268.7h-2.5M88.3 314.4v2.5M27.4 266.9h-2.5M90.2 314.4v2.5M27.4 265.4h-2.5M91.9 314.4v2.5M27.4 264.1h-2.5M93.4 312.8v6.8M29 262.9h-5.8M103.3 314.4v2.5M27.4 255.2h-2.5M109.1 314.4v2.5M27.4 250.7h-2.5M113.3 314.4v2.5M27.4 247.5h-2.5M116.5 314.4v2.5M27.4 245h-2.5M119.1 314.4v2.5M27.4 242.9h-2.5M121.3 314.4v2.5M27.4 241.2h-2.5M123.2 314.4v2.5M27.4 239.7h-2.5M124.9 314.4v2.5M27.4 238.4h-2.5M126.4 312.8v6.8M29 237.2h-5.8M136.3 314.4v2.5M27.4 229.5h-2.5M142.1 314.4v2.5M27.4 225h-2.5M146.3 314.4v2.5M27.4 221.7h-2.5M149.5 314.4v2.5M27.4 219.2h-2.5M152.1 314.4v2.5M27.4 217.2h-2.5M154.3 314.4v2.5M27.4 215.5h-2.5M156.2 314.4v2.5M27.4 214h-2.5M157.9 314.4v2.5M27.4 212.7h-2.5M159.4 312.8v6.8M29 211.5h-5.8"/>
<text class="tk" transform="translate(27.7 325.3) scale(1.02 1)" x="-5.5 0" y="0">10<tspan class="ex" x="5.4" dy="-3">0</tspan></text>
<text class="tk" transform="translate(23.3 314.5) rotate(-90) scale(1.1 1.1)" x="-5.2 0" y="0">10<tspan class="ex" x="5.1" dy="-3">0</tspan></text>
<text class="tk" transform="translate(60.7 325.3) scale(1.02 1)" x="-5.5 0" y="0">10<tspan class="ex" x="5.4" dy="-3">1</tspan></text>
<text class="tk" transform="translate(23.3 288.8) rotate(-90) scale(1.1 1.1)" x="-5.2 0" y="0">10<tspan class="ex" x="5.1" dy="-3">1</tspan></text>
<text class="tk" transform="translate(93.7 325.3) scale(1.02 1)" x="-5.5 0" y="0">10<tspan class="ex" x="5.4" dy="-3">2</tspan></text>
<text class="tk" transform="translate(23.3 263.1) rotate(-90) scale(1.1 1.1)" x="-5.2 0" y="0">10<tspan class="ex" x="5.1" dy="-3">2</tspan></text>
<text class="tk" transform="translate(126.7 325.3) scale(1.02 1)" x="-5.5 0" y="0">10<tspan class="ex" x="5.4" dy="-3">3</tspan></text>
<text class="tk" transform="translate(23.3 237.3) rotate(-90) scale(1.1 1.1)" x="-5.2 0" y="0">10<tspan class="ex" x="5.1" dy="-3">3</tspan></text>
<text class="tk" transform="translate(159.7 325.3) scale(1.02 1)" x="-5.5 0" y="0">10<tspan class="ex" x="5.4" dy="-3">4</tspan></text>
<text class="tk" transform="translate(23.3 211.6) rotate(-90) scale(1.1 1.1)" x="-5.2 0" y="0">10<tspan class="ex" x="5.1" dy="-3">4</tspan></text>
<text class="lb" text-anchor="middle" transform="translate(76.5 339.5) scale(0.8 1)" x="4 13 22 31 40" y="0">HLA-D</text>
<text class="lb" text-anchor="middle" transform="translate(11.9 276.4) rotate(-90) scale(0.8 1)" x="4 13 22 31 40 49 58" y="0">HLA-ABC</text>
</g>
<g id="plot5">
<path class="dots" d="M223 310.9h.01M202.7 298.1h.01M213 306.6h.01M223.5 293.5h.01M207.5 303.4h.01M204.1 312.5h.01M217 300.2h.01M203.9 294.6h.01M211.8 299.1h.01M208.4 309.7h.01M210.2 299.3h.01M203.7 295.7h.01M203.3 303h.01M210.8 303h.01M224.7 297.5h.01M221.2 294.3h.01M221.9 296.1h.01M210.3 305.9h.01M200.7 303h.01M206 297.5h.01M204.6 295.8h.01M222.3 297.5h.01M224.6 296.7h.01M206.3 303.4h.01M209.6 312.9h.01M210.7 303.9h.01M207.4 293.7h.01M221.5 309.9h.01M216.2 306.3h.01M224.5 297.2h.01M211.3 297.1h.01M230.2 294.3h.01M213.2 310.4h.01M205.1 311.6h.01M220.5 306.4h.01M218.4 291.1h.01M210.7 312.2h.01M221.7 304.5h.01M202.6 305.1h.01M214.7 301.4h.01M202 308.8h.01M212 293.2h.01M222.8 308.4h.01M204.2 311.1h.01M207.3 310.4h.01M207.8 304.1h.01M205.2 300.1h.01M211.2 300.7h.01M223.7 312.3h.01M215.7 301.3h.01M204 306.5h.01M204.7 295.7h.01M213.5 310.9h.01M221.4 297.6h.01M214.9 311.8h.01M225.2 309.8h.01M213 294.3h.01M226.6 312.5h.01M220.6 294.1h.01M204.7 301.8h.01M224.2 299.1h.01M210.9 304.7h.01M222.1 297.1h.01M211 312.8h.01M218.3 307h.01M219.6 312.3h.01M208.9 310.1h.01M202 308.5h.01M204.2 307.6h.01M210.7 303.3h.01M224.4 310.3h.01M213.1 292.3h.01M224.8 310h.01M223.9 299.6h.01M222.4 302.2h.01M215 297.1h.01M218.6 301.6h.01M216.5 310.6h.01M223.5 312.1h.01M224.4 294.5h.01M217.3 295h.01M218.4 310.7h.01M215.5 297.3h.01M217.2 297.8h.01M225.5 303.2h.01M202.8 306h.01M218.3 299.9h.01M217.7 304.2h.01M202.9 297h.01M202.2 293.8h.01M217.4 300.2h.01M209.5 306.6h.01M220.6 303.4h.01M227.7 311.1h.01M219.7 309.4h.01M218.8 297.2h.01M200.9 294.3h.01M224.8 304.1h.01M218.2 311.3h.01M207.9 295.5h.01M221.1 300.5h.01M226.4 297.7h.01M225.6 307.4h.01M207.4 308.6h.01M222.4 307.9h.01M216.5 311.3h.01M208.9 293.5h.01M205.5 297.9h.01M207.1 296.5h.01M203.9 303h.01M200.9 294.6h.01M219 304.6h.01M221.7 293.6h.01M222.4 293.1h.01M222.9 295.5h.01M209.5 306.9h.01M205.3 312.8h.01M213.7 304.7h.01M217.2 306.9h.01M225.5 310.6h.01M215 307.3h.01M222.7 308.4h.01M225.6 301.3h.01M210.5 293.2h.01M201.7 310.2h.01M220.3 312.5h.01M213.9 306h.01M223.9 297.6h.01M215.5 312.3h.01M216.8 305.5h.01M216.5 297.7h.01M212.7 309.1h.01M205.6 305.2h.01M213.7 311h.01M202.6 310.9h.01M216 305.6h.01M214.1 309.2h.01M224.6 300.5h.01M202.9 306.7h.01M207.9 295.9h.01M203.9 295.8h.01M227.2 307.3h.01M214.6 313h.01M225.2 295h.01M213.5 311.9h.01M204.4 292.5h.01M201.7 311.5h.01M220.6 304.6h.01M225.7 302.4h.01M211.8 301.4h.01M228.9 304.8h.01M210.2 291.9h.01M201.8 312.4h.01M228.7 300.6h.01M213.3 301.8h.01M211.8 300.5h.01M228.2 307.3h.01M212.9 293.7h.01M205.9 298.9h.01M211.2 308.3h.01M219.5 300.3h.01M223.4 312.4h.01M218 306.3h.01M210.6 295.9h.01M222 299.1h.01M217.2 305.1h.01M204.5 301.7h.01M205.4 305.8h.01M203.6 304.5h.01M204.3 300.3h.01M203.3 306.5h.01M206 306.6h.01M203.2 297.9h.01M210 308.9h.01M200.8 304.7h.01M204 310.2h.01M218.3 303.6h.01M211.2 305.2h.01M218.4 306.3h.01M218.4 299.1h.01M217.3 298.9h.01M204.1 293.5h.01M221.3 305.2h.01M221.4 299.9h.01M223.4 298.2h.01M212.1 302.8h.01M205.3 312.3h.01M203 306.8h.01M212.4 307.7h.01M211.1 298h.01M207 301.4h.01M207.6 302h.01M210.6 305.3h.01M219.2 312.5h.01M200.9 306.7h.01M225.3 305h.01M203.3 309.5h.01M221.6 311.7h.01M204.3 299.3h.01M201.8 299.7h.01M226.6 297.4h.01M229.9 309.4h.01M215.8 301.6h.01M219.4 299.3h.01M205 313h.01M203 311.9h.01M209.6 299.2h.01M206.5 292.7h.01M208.2 307.3h.01M218.5 311.2h.01M205.7 311.9h.01M210 312.9h.01M215.6 303h.01M224.8 308.4h.01M214.9 311h.01M219 294.6h.01M211.7 313.1h.01M221.2 312.9h.01M202.9 310.9h.01M212.9 312.5h.01M201.3 301.6h.01M206.7 309.2h.01M210 302.7h.01M219.8 312.2h.01M217.3 297.1h.01M215.1 305.4h.01M211.9 308.7h.01M205.8 312h.01M206.8 312.3h.01M213.2 296.8h.01M205.5 307.7h.01M212.5 297h.01M225.5 305.9h.01M210.6 305.1h.01M202.9 296.2h.01M224.9 301.5h.01M224.5 308.8h.01M200.6 301.7h.01M224.3 296.9h.01M219 309.4h.01M203 301.3h.01M220.9 308h.01M215.3 305h.01M222.5 296.7h.01M222.1 299h.01M203.8 308.6h.01M222.3 302h.01M201 312.3h.01M224.5 307.6h.01M215.5 295.1h.01M201.7 297.2h.01M212.7 309.8h.01M210.2 306.9h.01M218.8 301.8h.01M221.2 303.3h.01M210.5 299.1h.01M219.1 301.2h.01M206 295.5h.01M202.3 303.1h.01M200.6 295h.01M202.2 294.7h.01M207 295.2h.01M205.1 306.9h.01M213.5 303.5h.01M230.4 293.9h.01M224 294.8h.01M218.6 305h.01M221.9 295.5h.01M202.9 309.6h.01M201.2 298.1h.01M219.6 304.5h.01M211.9 298.3h.01M207.3 306.3h.01M201.1 309.2h.01M209.4 308h.01M212.1 297.2h.01M202 297.5h.01M207.8 307.8h.01M204 307.7h.01M221.3 298.4h.01M221 294.4h.01M206.5 299.8h.01M204.2 306.5h.01M226.6 304.5h.01M223 312.3h.01M222.3 305.5h.01M204.8 304h.01M215.3 298.7h.01M222.6 299.2h.01M211 306.8h.01M208.4 298.6h.01M203.5 294.9h.01M205 306.4h.01M210.9 301.1h.01M218 294.7h.01M203.8 312.6h.01M219.5 310.4h.01M202.3 312.2h.01M208.6 310.4h.01M212.4 302.1h.01M203.5 309.8h.01M211 311.7h.01M223.5 298.7h.01M227.4 304.1h.01M222.2 299.2h.01M209.1 307.3h.01M216.4 304.4h.01M220 294.9h.01M201.1 292.9h.01M211.1 300.9h.01M213.7 301.1h.01M216.8 303.9h.01M205.3 302h.01M209.1 307.9h.01M227.4 308h.01M200.7 306.1h.01M224.4 305.1h.01M215.9 300.3h.01M224.6 307h.01M216.5 300.9h.01M211.8 312.9h.01M223.2 311.4h.01M216.7 310.3h.01M215.3 295.5h.01M222.9 300.5h.01M208.9 296.5h.01M216.9 301.5h.01M221.6 300.2h.01M201.3 305.2h.01M206.6 304.3h.01M221.4 302.5h.01M224.5 311.3h.01M221.4 300h.01M217.9 294.5h.01M206.1 303.1h.01M224.5 303.6h.01M225.6 304h.01M222.5 295.9h.01M216.7 293.5h.01M204.6 310.8h.01M208.5 304.5h.01M222.7 294.8h.01M220.5 293.3h.01M204.3 306.3h.01M222.3 311.9h.01M218.5 294.8h.01M222.5 311h.01M204.1 310.7h.01M216.2 301.9h.01M221 298.5h.01M203.2 299.6h.01M206.3 312h.01M224 311.3h.01M219.3 296.9h.01M226.1 305.1h.01M220.5 312.5h.01M211.2 300.8h.01M211.2 303.8h.01M219.4 294.4h.01M209.6 301.5h.01M214.9 296.1h.01M202.2 307.4h.01M218.8 305.6h.01M220.7 296.6h.01M219.4 297.7h.01M213.6 312.6h.01M219.7 310.7h.01M204.2 311.7h.01M202.2 303.9h.01M222.9 291h.01M202.3 308.5h.01M204.9 301h.01M206.2 305.5h.01M202.1 297.8h.01M205.1 294.3h.01M210.1 307.9h.01M208.1 303.2h.01M226.7 303.2h.01M201 307.8h.01M205 295.9h.01M207.9 307.1h.01M214.4 311.4h.01M202.7 303h.01M216.8 305.7h.01M200.7 299.7h.01M219.2 303.7h.01M210.7 311.7h.01M212.6 299.8h.01M223 303.9h.01M204.4 299.6h.01M213.7 308.9h.01M219.6 297.5h.01M213.3 299.5h.01M225.8 306.4h.01M225.5 302.2h.01M201.2 293.2h.01M226.8 300.9h.01M226.3 299.6h.01M203 307h.01M219.8 312.4h.01M211.4 300.8h.01M208.1 293.6h.01M215.7 305h.01M201.8 296.2h.01M220.5 304.8h.01M227 297.9h.01M207.4 301.3h.01M229 310.3h.01M223.7 304.9h.01M212.5 311.5h.01M212.5 307.3h.01M215.4 306.5h.01M200.9 297.3h.01M203.4 302.6h.01M214.3 305.9h.01M209.1 294.2h.01M218.9 312.9h.01M202.5 312.1h.01M227.1 302h.01M210.6 303.5h.01M207.1 292.7h.01M200.8 292.9h.01M214 298.5h.01M213.8 305.6h.01M220.6 296.2h.01M215.3 311.3h.01M201.3 309.8h.01M201.9 307.9h.01M209.1 297.1h.01M211.8 312.6h.01M212.3 296.6h.01M214.2 300.6h.01M212.8 310.1h.01M226.3 298.5h.01M215.1 302.7h.01M210.4 312h.01M215.1 308.3h.01M200.8 298.6h.01M214.8 296.2h.01M226.2 292.8h.01M218.1 299.7h.01M223.7 302.8h.01M223.2 307.2h.01M217.7 297.2h.01M219.2 298.3h.01M219.7 312.2h.01M201.4 294h.01M217.9 311.7h.01M218.5 302.2h.01M222 310.9h.01M207.9 299.7h.01M202.8 303.9h.01M202 302.2h.01M208.9 298.5h.01M208 304.6h.01M204.7 302.7h.01M203.5 293.4h.01M204.2 306.7h.01M202.3 305.9h.01M206.8 298.5h.01M213.7 295.8h.01M223.1 312.8h.01M222.9 292.6h.01M216 302.5h.01M214.7 305.4h.01M215.3 306.3h.01M225.3 311.6h.01M224.3 302.5h.01M217.6 298.5h.01M210.6 295.4h.01M219 301.4h.01M228.4 295.8h.01M214 311.2h.01M205.1 311.8h.01M210.9 309.2h.01M209.4 292.7h.01M205.8 311.9h.01M216.2 294.2h.01M213 296.5h.01M216.5 312.5h.01M202.6 302.3h.01M218 307h.01M208.3 299.8h.01M209.6 296.8h.01M210.1 307.4h.01M203.5 312.1h.01M214.7 305.3h.01M223.1 306.9h.01M214.2 292.6h.01M204.6 292.2h.01M212 311.9h.01M223.4 296.2h.01M210.7 309.9h.01M205.4 307.8h.01M226.4 313h.01M213.6 312.5h.01M203.3 307.9h.01M228.2 300.7h.01M202.6 293.9h.01M200.6 308.4h.01M202.6 293.3h.01M205.7 309.3h.01M216.2 298.6h.01M222.3 300.7h.01M207.5 299.6h.01M228.2 311.2h.01M207.4 312.1h.01M208.6 312.5h.01M213.9 306.4h.01M223.2 306.7h.01M217 312.4h.01M212.4 303h.01M209.4 312.3h.01M209.2 304.3h.01M225.5 312.7h.01M208 310.3h.01M203.7 299.4h.01M209 295.4h.01M210.4 302.5h.01M224.2 296.4h.01M216 304.9h.01M223.4 299.8h.01M225.1 310.9h.01M218.9 307.8h.01M217.2 304.5h.01M202.9 303.4h.01M213.1 313.1h.01M202.2 294.8h.01M201.9 312.9h.01M212.9 302.5h.01M221.9 299.2h.01M201.6 299.4h.01M201.6 301.8h.01M222.8 292.1h.01M215.5 311.1h.01M203.9 305.2h.01M227.6 312.9h.01M215.1 305.1h.01M223.8 300.1h.01M224.5 296.2h.01M205.9 312.9h.01M204.4 306.6h.01M228.6 299.7h.01M207.1 313h.01M215 300.1h.01M215.6 297.6h.01M203.9 295.1h.01M210.9 306h.01M202.6 311h.01M214.9 301.9h.01M219.1 295.4h.01M201.5 312.1h.01M220.8 311.7h.01M204.2 299.8h.01M210.9 303.6h.01M201.3 295.4h.01M207.4 304.1h.01M200.8 303.6h.01M216.8 302.9h.01M206 311.7h.01M221.7 298.1h.01M203.8 311.2h.01M218.2 307.3h.01M224.1 312.3h.01M207.5 312.1h.01M223.5 311.9h.01M229 295.2h.01M203.9 311.9h.01M213.7 312.4h.01M213 302.1h.01M213.1 293.7h.01M223.6 303.3h.01M225.1 308h.01M202.6 298.5h.01M212.8 295.3h.01M223.3 296.8h.01M203.7 300h.01M205.3 299.8h.01M215.4 313h.01M214.2 302.8h.01M210.5 295.3h.01M221.5 302.8h.01M225.5 312.7h.01M208 294.1h.01M204.1 295.1h.01M211.3 299.5h.01M215.7 303.4h.01M222.8 297.4h.01M225.6 302.8h.01M214.1 305.1h.01M216.4 296.6h.01M213.8 302.8h.01M201.1 309.1h.01M215 297.3h.01M216.2 298.9h.01M212.6 310.4h.01M219.9 311.3h.01M214.6 301.2h.01M227.1 299.5h.01M212.7 308.6h.01M213.3 294.7h.01M202.6 303.3h.01M216.2 299.8h.01M211.8 308.8h.01M200.6 302.4h.01M214 304h.01M206.2 301.7h.01M208.2 302.6h.01M206.4 312h.01M213.6 295.4h.01M216.4 307.8h.01M220.8 310.7h.01M217.1 298.8h.01M222 301.9h.01M221.3 300.9h.01M201.1 300.6h.01M208.9 299.6h.01M202.9 305.5h.01M224.5 298.1h.01M200.9 310.8h.01M209.5 298h.01M212.1 302.4h.01M203.7 294.2h.01M225.5 298.1h.01M204.4 312.8h.01M201.3 300.5h.01M203.4 308.4h.01M213.3 309.6h.01M213.7 312.1h.01M216.2 301.8h.01M201.9 312.9h.01M203.6 312h.01M207.5 297.2h.01M202.8 296.3h.01M204.2 295.3h.01M210.2 304.6h.01M208.6 311.8h.01M221.1 308.6h.01M228.3 302.2h.01M200.8 308.2h.01M220.7 311.8h.01M201.5 310h.01M205 308h.01M202.2 295.6h.01M201.8 311.6h.01M204.3 308.7h.01M213.5 293.8h.01M219.8 309.5h.01M222.5 307.5h.01M225.6 305.1h.01M210.5 297.3h.01M220.8 297.5h.01M216.3 300.2h.01M217.1 306.6h.01M218.8 294.2h.01M208.8 301.9h.01M225.8 300.5h.01M209.5 298.2h.01M200.9 301.3h.01M215.2 296.7h.01M218.3 300.3h.01M211.4 310.9h.01M217 295.6h.01M226 295.1h.01M212 302.2h.01M223.9 308.6h.01M220.7 306.2h.01M218.9 303h.01M214.1 298.5h.01M223.2 292.8h.01M203.4 312.8h.01M220.8 304.6h.01M207 295.9h.01M217.2 304.6h.01M228.9 296.1h.01M212.4 297h.01M223.9 308.7h.01M211.4 310.2h.01M207.9 309.9h.01M203.9 312.9h.01M221.3 296.6h.01M227.2 305.5h.01M220.3 308h.01M207.6 301h.01M223.1 308.4h.01M215.2 300.7h.01M210 306.4h.01M221.9 292.3h.01M200.9 312.9h.01M221 311.1h.01M211.7 298.5h.01M218.2 300.9h.01M211.2 309.7h.01M204.1 305.2h.01M213.2 305h.01M218.5 310.4h.01M210.2 309.8h.01M205.8 306.9h.01M220.2 311.1h.01M203.9 313h.01M217.2 312.7h.01M210.7 312.1h.01M227 305.2h.01M224.8 296.4h.01M221.2 312.2h.01M214.9 294.1h.01M210.8 313h.01M205 296.6h.01M215.7 298.4h.01M222.5 297.8h.01M221.6 292.7h.01M208.4 307.1h.01M203 299.2h.01M212.2 295.5h.01M202.3 308.5h.01M218.1 295.4h.01M219.4 292.6h.01M201.3 301.6h.01M224.6 306h.01M212.6 308.3h.01M219.9 299.7h.01M215.8 293.8h.01M226.5 297.8h.01M225.6 295.5h.01M217.1 302.1h.01M212.4 305.4h.01M220.3 295.4h.01M219.1 294.9h.01M210.5 307.8h.01M227.2 301.7h.01M202.1 309h.01M203.8 302.4h.01M202.5 309.5h.01M218.2 312.8h.01M226.9 310.8h.01M211.5 296.7h.01M207.1 298.2h.01M221.6 303.1h.01M223.9 304.7h.01M202.6 309h.01M221.6 298.1h.01M217.8 313h.01M216.8 302.3h.01M210 311.6h.01M208.1 311.6h.01M223.9 296.6h.01M201.9 310h.01M217.5 305.5h.01M214.6 293.6h.01M218 296.9h.01M225.5 310.6h.01M218.3 309.6h.01M218.4 295.5h.01M210.6 312.6h.01M215.5 308.8h.01M210.7 311.6h.01M210.6 305h.01M223.5 306.8h.01M215 304.4h.01M219.2 293.2h.01M215.1 308h.01M208.8 310.7h.01M220.8 309.5h.01M208.4 304.1h.01M225.2 296.8h.01M215.8 312h.01M206.3 297.6h.01M216.3 306.8h.01M226.5 310.1h.01M206.6 303.9h.01M212 297.2h.01M213.8 303.7h.01M207.2 305.2h.01M216.6 309.9h.01M220.8 302.3h.01M212 302.7h.01M202.1 296.1h.01M210.1 308.1h.01M221.1 307.2h.01M218.6 296.8h.01M211.8 311.7h.01M219.6 296.4h.01M226 311.7h.01M214.5 294.5h.01M204.7 299.4h.01M219.9 307.2h.01M206.6 304.1h.01M204.2 309.8h.01M218 309.3h.01M204.5 306.8h.01M220.5 309.8h.01M208.6 311.6h.01M214.6 313h.01M206.4 299h.01M205.9 301.9h.01M206.2 310.8h.01M215.2 303.4h.01M209 309.1h.01M220.1 312.2h.01M210.9 303h.01M205.1 307.8h.01M222.9 303.4h.01M203.7 309.5h.01M225 307.3h.01M216.2 294.2h.01M218 303.9h.01M226.9 302.7h.01M213.6 311.3h.01M217.4 299.1h.01M202.6 292.2h.01M221.7 312.2h.01M203.1 298.3h.01M206 310.1h.01M223.2 306.1h.01M217.9 301.3h.01M209.3 297.5h.01M202.9 309.2h.01M203.1 305.8h.01M217.2 305.9h.01M209.1 307.1h.01M207.5 294h.01M201 296.9h.01M216.3 299h.01M218.4 304.7h.01M224.8 310.8h.01M227 296.3h.01M201 307.9h.01M201.5 298.7h.01M209.8 300.6h.01M208.3 310.4h.01M201.5 306.1h.01M220.4 311h.01M209.8 313h.01M222.2 307.8h.01M209.2 296h.01M207.7 312.3h.01M209.9 300.7h.01M220.4 302.2h.01M213 312h.01M220.9 303.7h.01M210.6 304.5h.01M217.6 305.5h.01M209.5 300.6h.01M220.6 299.8h.01M214.6 305.4h.01M226.7 298h.01M215.1 304.1h.01M210.4 302.3h.01M217.2 295.6h.01M209 312.9h.01M211 295h.01M206.1 310.1h.01M227.4 311.9h.01M221.3 303h.01M207.8 299.8h.01M207.4 309h.01M215.5 307.1h.01M213.8 312.2h.01M210.2 300.6h.01M223.5 302.1h.01M203 294.7h.01M210.6 297.1h.01M208.1 306.3h.01M224.7 306.1h.01M216.9 312.2h.01M226.8 311.5h.01M219.5 304.1h.01M206.1 294.2h.01M209.3 301.5h.01M214.5 302.3h.01M202.5 306.8h.01M225.3 305.7h.01M221.6 298.7h.01M219.1 309h.01M201 298h.01M229.1 301.4h.01M221.5 300.3h.01M205.3 308.7h.01M208.5 298.5h.01M216.9 297.4h.01M212.8 304.1h.01M205.3 310.6h.01M218 309.8h.01M219.8 312.7h.01M205.3 303.5h.01M211 303.9h.01M218.9 297.5h.01M206.2 296.7h.01M201 309.3h.01M222 305.4h.01M224.5 302.4h.01M214.2 303.6h.01M201.4 297.1h.01M201.8 305h.01M209 301.9h.01M227.1 295.6h.01M207.5 311.3h.01M225.5 306.7h.01M226.5 293.8h.01M210.5 300.5h.01M217.7 295.7h.01M219.1 311.7h.01M215.5 307.3h.01M210.3 308.6h.01M219.8 308.7h.01M217.9 297.7h.01M211.8 308h.01M203.8 304.4h.01M203.4 311.7h.01M201.1 293.4h.01M207.4 299.8h.01M215.5 306h.01M214.7 303.7h.01M216.5 305.9h.01M210.6 306.5h.01M219.5 295.9h.01M201.9 311.9h.01M207.5 299.9h.01M204.9 301.4h.01M207.4 290.9h.01M218.6 301.4h.01M216.4 298.6h.01M222.6 297h.01M222.3 308.5h.01M209.7 304.2h.01M206.2 298.8h.01M201.8 303.8h.01M214.4 292h.01M220.3 300.5h.01M226.9 297.2h.01M217.6 298.5h.01M214.8 297.9h.01M225.9 299.9h.01M212.7 295.2h.01M209.6 301.7h.01M225.6 310.3h.01M221.7 306.5h.01M226.4 305.7h.01M218.8 311.8h.01M200.7 308.3h.01M214 310.4h.01M210.6 312.4h.01M204.8 305.1h.01M220.7 308h.01M222.1 309.7h.01M218.9 295.8h.01M223.8 311.2h.01M207 312.6h.01M212.1 305h.01M213.6 312.3h.01M203.3 307.6h.01M215.5 303.7h.01M205.7 297.9h.01M212.4 303h.01M209.4 300.3h.01M218.2 304.4h.01M209.6 296.1h.01M207.9 304.1h.01M202.3 310.9h.01M222.8 310.5h.01M201.3 307.9h.01M212.7 295.1h.01M212.6 306.4h.01M200.8 299.5h.01M208.8 312.7h.01M226.4 311.5h.01M224.1 312h.01M201 302h.01M225.4 297.9h.01M210 311.8h.01M218.3 294.5h.01M204.6 306h.01M213.8 295.7h.01M217.9 296.6h.01M209.8 306.7h.01M209.5 306.8h.01M217.3 311.8h.01M206.6 310.7h.01M208.2 310.3h.01M215.7 306.2h.01M227.2 298.7h.01M217.7 312.7h.01M208.4 305.6h.01M228.5 296.4h.01M206.3 301.8h.01M216 293.6h.01M205.1 299.4h.01M206.7 310.9h.01M222 298.5h.01M205.7 307.7h.01M221.8 305.1h.01M224 294h.01M227.4 303.4h.01M219.4 305h.01M211.5 312.1h.01M216.2 302h.01M208.3 308.4h.01M214.8 310.3h.01M214 309.9h.01M203.5 301h.01M216.8 310.5h.01M212.7 297.8h.01M216.3 295.1h.01M212.5 303.4h.01M202 309.3h.01M224.1 304.5h.01M223.5 306.2h.01M215.9 289.5h.01M225.1 296.6h.01M230.4 309.1h.01M204.5 308.8h.01M227.7 301.9h.01M210.6 306.3h.01M215.9 311.8h.01M229 312.6h.01M204.5 294h.01M204.5 303.6h.01M212.7 308h.01M215.7 304.6h.01M229 303.9h.01M220.8 300.7h.01M219.3 290.6h.01M215.6 310.3h.01M222.6 310.6h.01M209.7 304.5h.01M211.3 303.6h.01M218 311h.01M202.5 297.2h.01M207 296h.01M203 298.2h.01M209.9 299.2h.01M217.8 307.8h.01M204.6 300.1h.01M202.8 310.6h.01M205.9 289.8h.01M225.8 311.2h.01M201 301.8h.01M200.6 301.1h.01M212.6 299.4h.01M209 295.5h.01M221.1 302.1h.01M202.5 299.7h.01M203.2 293.5h.01M204.5 296h.01M219.7 299.9h.01M209.3 311.3h.01M214.1 306.1h.01M215 300.9h.01M221.4 298.1h.01M203.7 309.5h.01M216 302.7h.01M220.6 297.5h.01M222.4 300.1h.01M220.5 299.7h.01M214.3 313.1h.01M222.6 308.5h.01M215.2 302.5h.01M223.7 312.4h.01M223.2 306.7h.01M214.9 312.3h.01M200.9 296.5h.01M225.5 301.4h.01M207.1 310.2h.01M216.4 295.9h.01M201.9 300.6h.01M201.1 310.1h.01M222.9 300h.01M225.6 296.7h.01M210.1 305h.01M215.9 301.7h.01M200.7 298.8h.01M201.8 300.8h.01M201.8 302.4h.01M221.5 312.4h.01M205.8 299.1h.01M203 296.9h.01M219.1 297.2h.01M207 300.2h.01M228.6 302.3h.01M221.3 310.2h.01M217.3 308.3h.01M205.9 304.2h.01M214.9 311.8h.01M218.1 308.9h.01M202.1 312.2h.01M218 312.9h.01M229.5 311.9h.01M205.7 300.6h.01M222.1 307.9h.01M208 313h.01M205.8 304.7h.01M208.1 303h.01M210.2 307.7h.01M210.2 297.5h.01M207.1 309.9h.01M201.5 303.8h.01M209.8 293.1h.01M201.7 306.3h.01M206.9 310.8h.01M221.5 302.2h.01M219.9 297.9h.01M223.3 294.8h.01M214.7 300.4h.01M215.1 298.6h.01M230.9 293.6h.01M220.7 309.1h.01M204.6 304.2h.01M216.8 305.6h.01M205.6 304h.01M216.3 300.2h.01M202 295h.01M209.1 312.7h.01M209.7 300.8h.01M212.9 292.2h.01M210 306.8h.01M204.3 302.3h.01M224.3 308.8h.01M208.9 306.4h.01M201.8 308.5h.01M218.3 303.9h.01M222.1 299.6h.01M204.9 296.8h.01M203.4 296.6h.01M200.9 309.1h.01M214 312.2h.01M216.2 310.2h.01M226.2 302h.01M205.6 302.4h.01M206.5 292.5h.01M229.3 309.6h.01M206.1 292.3h.01M216.5 296.6h.01M203.1 313h.01M224.9 303.6h.01M201.6 300.4h.01M203.3 311.2h.01M205.1 310.8h.01M219.4 299.2h.01M213 305.5h.01M217.4 300.2h.01M206.1 310h.01M224.6 296.2h.01M222.5 305.3h.01M210.3 296.8h.01M220.5 294.9h.01M226.7 298.6h.01M218.5 308.1h.01M213.2 312.2h.01M219.4 300h.01M201.7 308.3h.01M208.4 305.8h.01M215.3 305.3h.01M216.3 312.5h.01M205.4 309h.01M211.6 301.7h.01M214.1 312.2h.01M211.1 296.6h.01M226.5 309h.01M205.1 300.1h.01M226.2 299.5h.01M220 300.2h.01M206.8 296.2h.01M217.5 304.7h.01M219.4 297h.01M215.1 308.2h.01M206.8 304.6h.01M209.7 303.1h.01M215.3 297.3h.01M221.1 305.3h.01M213.7 302.6h.01M213.8 296.8h.01M220.1 310h.01M221 297.2h.01M221.3 293.7h.01M217.2 301.8h.01M225.9 309.2h.01M204.7 312.4h.01M214.2 311.2h.01M206.5 301.2h.01M203.9 301.2h.01M217.2 295h.01M216.6 305.8h.01M226.2 309h.01M219.3 305.8h.01M220.3 311h.01M213.2 298.6h.01M209.9 299.2h.01M221.2 302.7h.01M222.4 302h.01M205.9 300.9h.01M202 312.1h.01M208.4 300.5h.01M207.6 295.5h.01M228.7 304.1h.01M222.8 291.4h.01M223.2 293.6h.01M228.9 300.7h.01M224.8 309.5h.01M204.3 307.9h.01M209.3 298.9h.01M220.7 303.3h.01M225.4 298.6h.01M205.9 294h.01M226 304.5h.01M204.7 305.1h.01M202.3 302.9h.01M226.4 307.4h.01M211 306.5h.01M201.2 295.8h.01M223.5 293.4h.01M208.1 303.3h.01M220.9 298.2h.01M225 312.7h.01M210.5 308h.01M205.6 299.4h.01M215.5 311h.01M207 304.5h.01M223.8 306.8h.01M228 298.2h.01M201.4 299.2h.01M220.3 308.7h.01M209 295.8h.01M211.2 293.5h.01M206 294.6h.01M220.9 306h.01M214.4 303.3h.01M216.7 308.1h.01M217.5 304.1h.01M209.7 294h.01M221.3 297.7h.01M201.6 312h.01M215.1 308.9h.01M213.6 308.3h.01M210.4 310h.01M217.5 308.8h.01M214.6 295.2h.01M208 297.2h.01M214.9 307.6h.01M210.4 312.3h.01M225.4 308.2h.01M222.4 311.6h.01M202.4 307.6h.01M203.8 297.8h.01M206 304.4h.01M218.6 309.5h.01M225.3 312.2h.01M219.5 298.5h.01M202.4 298h.01M204 311h.01M226.7 311.8h.01M213 296.7h.01M213.5 294.8h.01M214.6 306.3h.01M213.3 308.2h.01M201.7 294.3h.01M223 312.3h.01M211.4 300.3h.01M213.7 307h.01M208.5 299.4h.01M208.8 296.3h.01M208.1 297.7h.01M211.9 303.9h.01M203.2 309.5h.01M222.7 310.7h.01M206.2 303.3h.01M221.2 301.6h.01M225.9 297.5h.01M224.5 293.7h.01M212 311h.01M212.8 295.4h.01M206.8 302.6h.01M204.9 308.1h.01M219.7 309.5h.01M215.6 312.4h.01M211.6 298.7h.01M215.5 296.6h.01M222.8 304.3h.01M204.3 309.6h.01M202.8 307.6h.01M213.5 310.7h.01M208.8 299.5h.01M221.4 306.2h.01M220.2 306.5h.01M203.2 294.6h.01M213.1 299.1h.01M218.6 306.3h.01M215.5 290.1h.01M224.4 310.4h.01M224 297.9h.01M201.6 296.6h.01M228.4 312.9h.01M202.2 311.9h.01M205 300.3h.01M220.6 301.9h.01M220 306.8h.01M204 311.7h.01M227.8 296.2h.01M216.2 304.3h.01M218.1 307.6h.01M203.4 304.8h.01M223 298.3h.01M223.4 305.2h.01M208.5 299.1h.01M211.4 310.6h.01M201.9 304.9h.01M221.9 304.9h.01M200.8 302.6h.01M227.8 306.2h.01M205.8 300.9h.01M211.9 304.4h.01M223.5 299.7h.01M206.5 303h.01M202.8 302.5h.01M209.9 307.2h.01M219.6 311.5h.01M200.6 312.6h.01M212.6 312.9h.01M206.9 309.3h.01M206.4 312.9h.01M205.3 311.8h.01M218.4 300.1h.01M219.4 304.2h.01M205.6 307.9h.01M204.9 311.5h.01M223.6 295.1h.01M226.2 302.6h.01M215.1 303.4h.01M223.4 296h.01M213.4 305.6h.01M208.9 297.1h.01M224.7 308h.01M203.4 296.2h.01M224.2 301.6h.01M227 311.8h.01M209.3 304.1h.01M201.2 301h.01M225 298.5h.01M214.8 293h.01M209.4 311.8h.01M212.4 305.3h.01M227 296.1h.01M218.8 305.9h.01M220.7 299h.01M220.8 300h.01M216.7 305.7h.01M211 309.7h.01M224.4 313h.01M218.2 313.1h.01M217 307.8h.01M210 299.3h.01M219.2 307.4h.01M224.1 307.2h.01M211.7 293.9h.01M222.9 302.3h.01M225.8 299.6h.01M214.5 298.6h.01M211.6 300.7h.01M216.5 294h.01M201.3 312.7h.01M211.2 307.8h.01M207.8 297.2h.01M215.8 311.3h.01M207.9 299.2h.01M205.6 307.2h.01M217.5 299.8h.01M214.9 312.7h.01M220.8 308.4h.01M203.7 309.6h.01M224 309.6h.01M209.4 307.8h.01M210.7 308.6h.01M220.8 297.6h.01M216.4 310.9h.01M216.2 308.2h.01M215 304.8h.01M208.5 309.9h.01M203.3 301.8h.01M210.6 305.6h.01M206.2 296.1h.01M217.9 300.7h.01M217.1 305.6h.01M216.5 297.6h.01M204.6 296h.01M213.3 310.3h.01M222.9 295.2h.01M211.7 312.3h.01M207.9 298.8h.01M223.1 311.4h.01M206.4 303.3h.01M220.7 300.3h.01M222.5 305.8h.01M201.1 309.5h.01M201 310.7h.01M205.5 310h.01M224.1 297.1h.01M227.5 300.3h.01M216.8 307.4h.01M204.6 298h.01M211 294.1h.01M226 304.1h.01M219.4 290h.01M222.6 303.6h.01M222.1 301.5h.01M217.4 305.2h.01M223.6 294.4h.01M228.6 293.2h.01M226.4 306.8h.01M224.8 290h.01M217.9 301h.01M218.1 304.1h.01M231.7 305.9h.01M220.5 303.6h.01M214.9 311.2h.01M226.5 308.6h.01M231.6 300.6h.01M209.8 300.7h.01M231.6 297.2h.01M213.4 302.7h.01M226.1 312.2h.01M220.7 305.7h.01M215.9 301h.01M213.6 294.5h.01M213.1 286.9h.01M211.5 301.1h.01M217.6 297h.01M227.2 303.7h.01M218.4 295h.01M233.6 305.9h.01M218.5 300.2h.01M215.3 297.9h.01M220.1 303.3h.01M231.6 298.7h.01M215.1 301.3h.01M220.1 297.1h.01M227.1 304.3h.01M216.7 291.6h.01M223.7 300.9h.01M219 304.8h.01M218.7 306.6h.01M219.2 304.7h.01M218.4 309.2h.01M225.3 303h.01M209.3 309.5h.01M211.3 298.5h.01M216.8 289.6h.01M209.5 288.6h.01M213.5 290.3h.01M211.7 301.3h.01M219.1 291.4h.01M208.3 292.8h.01M217.9 305.5h.01M215.4 290.8h.01M227 301.8h.01M208.8 306.6h.01M208.5 308.4h.01M209 302.8h.01M212 293.2h.01M213.5 295.6h.01M223.8 309.9h.01M214.1 310.8h.01M218.2 298.9h.01M218.7 306.6h.01M223.4 305.9h.01M209.9 299.4h.01M213.9 307.6h.01M219.4 296.1h.01M228.9 304.9h.01M214.9 305h.01M214.4 300.5h.01M224.5 298.1h.01M220.1 310.6h.01M219.5 296.7h.01M232 296.2h.01M214.5 293.1h.01M224.7 300.1h.01M232.6 300.3h.01M216.5 296.6h.01M235.3 308.1h.01M224.7 302.2h.01M222 304.9h.01M229.8 293.2h.01M221.3 299.6h.01M202.6 310.8h.01M221.6 307.8h.01M218.7 304.3h.01M209.8 308.4h.01M224.7 305.9h.01M216.1 303.4h.01M213.8 304h.01M234.9 304.5h.01M227.8 299.3h.01M230.5 312.1h.01M232.1 310.1h.01M211 302.7h.01M232.7 301.6h.01M212.8 310.4h.01M212.8 304.5h.01M222.3 305.3h.01M217.6 304.6h.01M231.8 302.4h.01M217.5 299.9h.01M224.4 306.6h.01M219.9 293.2h.01M214.8 308.2h.01M218.1 310.9h.01M217 300.6h.01M221.1 299.7h.01M219 312.5h.01M225.9 300.9h.01M218.1 298.7h.01M222 307.6h.01M231.3 295.4h.01M223.4 289.6h.01M239.2 302h.01M220.9 298.9h.01M222.3 297.3h.01M224.3 297.6h.01M228.1 298.3h.01M225.4 300.2h.01M219.9 288.4h.01M218.8 306.6h.01M217.4 299.9h.01M220.1 299.7h.01M209.6 300.1h.01M211.7 306.8h.01M212.2 303.7h.01M229.9 311.1h.01M221.9 289h.01M227.1 306.8h.01M218.5 307.7h.01M222.3 284.6h.01M214.4 305.2h.01M206.7 301.2h.01M218.3 301h.01M216.6 301.8h.01M215.8 304.2h.01M210.5 299.5h.01M224.1 297.5h.01M225.4 307.6h.01M223.7 301.8h.01M227.4 306.8h.01M214.4 308.4h.01M224.1 293.7h.01M219.6 296.4h.01M216.7 297.5h.01M220.1 301.1h.01M213.5 311.8h.01M217.7 304.4h.01M219.9 308.3h.01M207.9 313.1h.01M230.3 289.8h.01M226.7 299.6h.01M225.5 297.6h.01M231.8 304.3h.01M224.6 295.5h.01M224.1 311.5h.01M231.3 298.7h.01M216.7 297.1h.01M210.9 295.4h.01M226.5 293.8h.01M218.4 301.4h.01M227.1 298.1h.01M224.5 303.6h.01M215.3 298.8h.01M219.6 304.4h.01M212.5 302.9h.01M220.4 308.2h.01M218.9 306h.01M225.6 298.4h.01M233 309.1h.01M221.9 298.3h.01M218.2 296.2h.01M220.9 306.9h.01M219.5 294.1h.01M217 297.5h.01M221.7 292.5h.01M212.4 292.6h.01M214.3 303.4h.01M221.8 296h.01M226.6 311.6h.01M223.6 310.3h.01M218.2 303.7h.01M227.7 297.6h.01M222.3 301.4h.01M231.9 300h.01M223.6 308.3h.01M220 290.2h.01M211.9 300.5h.01M228.8 302h.01M226.9 303.9h.01M229.5 305.7h.01M216.4 299.2h.01M212.7 305.2h.01M229.5 294.4h.01M220.1 308.2h.01M203.4 303.8h.01M224.5 300.8h.01M211.4 308.2h.01M229.7 297.2h.01M227.6 291.4h.01M220.8 258h.01M238 289h.01M270.8 303.5h.01M201.8 248.8h.01M234 296h.01M236 305h.01"/>
<path class="fr" d="M199.8 211.2H331.1V313.9"/>
<path class="ax" d="M199.8 210.7V313.9H331.6"/>
<path class="mt" d="M199.8 312.3v6.8M201.4 313.9h-5.8M209.7 313.9v2.5M199.8 306.2h-2.5M215.5 313.9v2.5M199.8 301.6h-2.5M219.6 313.9v2.5M199.8 298.4h-2.5M222.7 313.9v2.5M199.8 296h-2.5M225.3 313.9v2.5M199.8 293.9h-2.5M227.5 313.9v2.5M199.8 292.2h-2.5M229.4 313.9v2.5M199.8 290.7h-2.5M231.1 313.9v2.5M199.8 289.4h-2.5M232.6 312.3v6.8M201.4 288.2h-5.8M242.5 313.9v2.5M199.8 280.5h-2.5M248.3 313.9v2.5M199.8 276h-2.5M252.4 313.9v2.5M199.8 272.8h-2.5M255.6 313.9v2.5M199.8 270.3h-2.5M258.2 313.9v2.5M199.8 268.2h-2.5M260.4 313.9v2.5M199.8 266.5h-2.5M262.3 313.9v2.5M199.8 265h-2.5M263.9 313.9v2.5M199.8 263.7h-2.5M265.5 312.3v6.8M201.4 262.5h-5.8M275.3 313.9v2.5M199.8 254.8h-2.5M281.1 313.9v2.5M199.8 250.3h-2.5M285.2 313.9v2.5M199.8 247.1h-2.5M288.4 313.9v2.5M199.8 244.6h-2.5M291 313.9v2.5M199.8 242.6h-2.5M293.2 313.9v2.5M199.8 240.9h-2.5M295.1 313.9v2.5M199.8 239.4h-2.5M296.8 313.9v2.5M199.8 238h-2.5M298.3 312.3v6.8M201.4 236.9h-5.8M308.2 313.9v2.5M199.8 229.1h-2.5M313.9 313.9v2.5M199.8 224.6h-2.5M318 313.9v2.5M199.8 221.4h-2.5M321.2 313.9v2.5M199.8 218.9h-2.5M323.8 313.9v2.5M199.8 216.9h-2.5M326 313.9v2.5M199.8 215.2h-2.5M327.9 313.9v2.5M199.8 213.7h-2.5M329.6 313.9v2.5M199.8 212.4h-2.5M331.1 312.3v6.8M201.4 211.2h-5.8"/>
<text class="tk" transform="translate(200.1 324.8) scale(1.02 1)" x="-5.5 0" y="0">10<tspan class="ex" x="5.4" dy="-3">0</tspan></text>
<text class="tk" transform="translate(195.7 314) rotate(-90) scale(1.1 1.1)" x="-5.2 0" y="0">10<tspan class="ex" x="5.1" dy="-3">0</tspan></text>
<text class="tk" transform="translate(232.9 324.8) scale(1.02 1)" x="-5.5 0" y="0">10<tspan class="ex" x="5.4" dy="-3">1</tspan></text>
<text class="tk" transform="translate(195.7 288.3) rotate(-90) scale(1.1 1.1)" x="-5.2 0" y="0">10<tspan class="ex" x="5.1" dy="-3">1</tspan></text>
<text class="tk" transform="translate(265.8 324.8) scale(1.02 1)" x="-5.5 0" y="0">10<tspan class="ex" x="5.4" dy="-3">2</tspan></text>
<text class="tk" transform="translate(195.7 262.6) rotate(-90) scale(1.1 1.1)" x="-5.2 0" y="0">10<tspan class="ex" x="5.1" dy="-3">2</tspan></text>
<text class="tk" transform="translate(298.6 324.8) scale(1.02 1)" x="-5.5 0" y="0">10<tspan class="ex" x="5.4" dy="-3">3</tspan></text>
<text class="tk" transform="translate(195.7 237) rotate(-90) scale(1.1 1.1)" x="-5.2 0" y="0">10<tspan class="ex" x="5.1" dy="-3">3</tspan></text>
<text class="tk" transform="translate(331.4 324.8) scale(1.02 1)" x="-5.5 0" y="0">10<tspan class="ex" x="5.4" dy="-3">4</tspan></text>
<text class="tk" transform="translate(195.7 211.3) rotate(-90) scale(1.1 1.1)" x="-5.2 0" y="0">10<tspan class="ex" x="5.1" dy="-3">4</tspan></text>
<text class="lb" text-anchor="middle" transform="translate(250.2 339.2) scale(0.92 1)" x="3.5 11.3 19.1 27" y="0">CD80</text>
<text class="lb" text-anchor="middle" transform="translate(186.3 277) rotate(-90) scale(0.92 1)" x="3.5 11.3 19.1 27" y="0">CD86</text>
</g>
<g id="plot6">
<path class="dots" d="M393.3 300.7h.01M379.1 298.8h.01M381.5 310.9h.01M378.6 305.3h.01M397.6 306.2h.01M386.7 314.9h.01M399.2 309.1h.01M399.7 300.9h.01M389.7 304.6h.01M395.6 300.4h.01M394.5 312.4h.01M384.6 296.4h.01M382.1 301.3h.01M390.9 300.1h.01M388.5 314.9h.01M399.3 312.8h.01M392 303.9h.01M402.6 303.5h.01M377.4 308.8h.01M383 303.5h.01M400.8 306.1h.01M385.7 306.8h.01M377.1 305.8h.01M380.3 297.3h.01M382 315.1h.01M392 305.1h.01M378.2 300.9h.01M377.5 302.9h.01M383 301.7h.01M402.4 315.2h.01M386.7 299.2h.01M397.5 306.8h.01M393.3 308.1h.01M384.1 308.6h.01M377.3 298.5h.01M377.7 304.3h.01M395.1 308.4h.01M384.6 294h.01M389.4 312.6h.01M380.1 305.5h.01M378.2 306.2h.01M391.1 296.7h.01M397.1 315h.01M395.2 310h.01M377 301.5h.01M398.9 307.1h.01M394.5 310h.01M387.5 307.3h.01M397.5 299.4h.01M398.2 313.6h.01M380.9 304.7h.01M377 310.2h.01M404.6 313.2h.01M396.7 305.2h.01M400.7 311h.01M396.7 311.1h.01M377.8 295.5h.01M402.6 311.1h.01M400.9 314.5h.01M377.6 303.8h.01M393 302h.01M392.8 301.6h.01M378.5 315.1h.01M387.2 302.4h.01M387.5 296.5h.01M377.3 302.5h.01M383.4 314.6h.01M382.7 302.4h.01M381 310.6h.01M377.4 310.3h.01M387.1 302.6h.01M385.2 305h.01M378.6 300.5h.01M379.1 309.7h.01M401.9 310.1h.01M393.3 305.7h.01M377.4 302.6h.01M389.2 309.3h.01M383.3 305.3h.01M384.4 294.1h.01M384.3 301.9h.01M382.4 305.1h.01M389.4 314.3h.01M394.1 307.9h.01M388.4 299.9h.01M389.1 305.3h.01M382.6 298.8h.01M385.1 305.8h.01M395.4 308.2h.01M383.3 308.3h.01M392.4 296.1h.01M389.5 301.5h.01M400.4 300h.01M401.9 302.6h.01M393.6 299.5h.01M380.6 308.5h.01M400.3 296.1h.01M387.5 296.9h.01M396.9 302.9h.01M387.9 299.2h.01M380.3 302h.01M384.4 301.4h.01M377.3 315.5h.01M390 297.3h.01M389.1 307.3h.01M381.8 300.4h.01M403.1 308.1h.01M393.7 315.5h.01M395.1 301.2h.01M399.2 311.1h.01M393.3 314.7h.01M395.8 315.5h.01M400.3 311.9h.01M390.6 315.1h.01M403.6 312.4h.01M385.3 308.5h.01M395 308.4h.01M382.7 314.7h.01M395.2 306.3h.01M384.5 305h.01M383.2 308.3h.01M380.7 300.7h.01M383.9 306.7h.01M379.8 299.2h.01M380.4 299.6h.01M382.2 311.3h.01M389.8 304.3h.01M401.6 304.6h.01M393.5 310.9h.01M390.6 311.4h.01M397.4 309.8h.01M389.2 301.8h.01M377 307.2h.01M379.2 307.1h.01M402.2 295.5h.01M377.6 309.9h.01M379 306.7h.01M380.9 296.8h.01M384.2 307.4h.01M389.4 302.8h.01M378.2 308.1h.01M381.3 313.7h.01M388.2 309.3h.01M396.7 306.6h.01M380.8 313.4h.01M395.1 305.7h.01M391.7 302.9h.01M396.3 308.7h.01M386.8 313h.01M386.7 304.1h.01M392.4 313.3h.01M396.9 303.4h.01M387.9 313.4h.01M382.6 314.2h.01M404.1 303h.01M391 311.1h.01M397.6 306.8h.01M392.7 301.5h.01M402.2 314h.01M380.5 299.5h.01M394.8 312.7h.01M377.8 298.9h.01M393.3 308.4h.01M384.3 311.1h.01M393.3 313.7h.01M386.6 315.1h.01M388.1 298.3h.01M395.9 308.4h.01M380.3 301.5h.01M397.7 298h.01M378.6 311.4h.01M402 305.8h.01M391.8 312.6h.01M406.7 312.8h.01M391 295.8h.01M380.6 309h.01M398.2 306.5h.01M388.6 304.5h.01M382 303.6h.01M387.6 295.6h.01M397.5 296h.01M381 298.7h.01M377.5 303.8h.01M378.1 303.6h.01M390.2 297.8h.01M383.7 302.8h.01M383.2 314.6h.01M397.8 308.1h.01M377.5 307.6h.01M398.7 307.8h.01M389.7 305.1h.01M399.2 311h.01M398 314.8h.01M387.2 300.7h.01M396.1 308.2h.01M391.4 307.8h.01M385.9 309.7h.01M398.4 300.1h.01M386.4 298.2h.01M379.2 307h.01M385.1 312.2h.01M381.8 310h.01M391.7 310.4h.01M392.3 310.6h.01M393.8 312.1h.01M402.4 302.7h.01M390.4 309.3h.01M378.6 297.5h.01M383.7 299.5h.01M395 292.4h.01M377.2 294.5h.01M401.3 314.8h.01M380.2 311.1h.01M396.8 309.6h.01M388 298h.01M392.2 305.3h.01M381.9 306.9h.01M392 301.3h.01M387.9 299.5h.01M395.6 301.8h.01M384.3 314.3h.01M387.7 315.3h.01M397.9 293.3h.01M396.4 295.2h.01M394.9 307.2h.01M379.4 305.1h.01M399.9 309.2h.01M388.9 309h.01M388.5 314.5h.01M387.5 310.9h.01M395.8 303h.01M398.2 301.8h.01M377.3 309h.01M395.3 309.9h.01M391.3 295.5h.01M386.6 299.9h.01M386.6 310.1h.01M377.1 305.4h.01M404.1 315.5h.01M389.7 303.1h.01M392.6 306h.01M379.1 311h.01M391.8 312.8h.01M382.3 307.7h.01M397 301.4h.01M395.6 313.5h.01M403.1 310.9h.01M383.9 301h.01M394.5 301.2h.01M380.2 310.5h.01M400.5 309.2h.01M384.3 299.2h.01M383.3 306.6h.01M393.5 306.6h.01M391.4 314.3h.01M398.4 306.9h.01M397.4 305.1h.01M391.9 302.2h.01M385.4 315.1h.01M392.4 306.9h.01M382.8 302.3h.01M387 301.6h.01M378.3 314.2h.01M398.7 299.7h.01M402.9 302.3h.01M389.5 312h.01M385.8 302.5h.01M400.8 307.6h.01M401.7 315.2h.01M393.7 305.4h.01M393.9 310.5h.01M399.9 308.6h.01M379.8 307.4h.01M396.4 311.9h.01M381.5 300h.01M393.9 306.4h.01M404.2 306.3h.01M385 315.3h.01M396 296.5h.01M382 310.2h.01M377.5 302h.01M384.5 302.7h.01M377.4 299.5h.01M384.8 297.5h.01M401.6 302.5h.01M377.5 299.2h.01M398.4 300.3h.01M388.5 296.5h.01M384.3 296.1h.01M388.4 312.6h.01M398.2 312.3h.01M384.8 307.2h.01M400.7 307.6h.01M396.8 298.7h.01M401.4 311.3h.01M391.4 303.3h.01M387.8 310.1h.01M383.1 315.1h.01M384.6 311.8h.01M377.6 308h.01M386.9 313.3h.01M402.8 311.9h.01M392.1 313.1h.01M399.9 314h.01M391.8 304.4h.01M376.9 311h.01M385.8 310.5h.01M399.1 296.4h.01M392.2 305.6h.01M381 311.8h.01M400.7 304.3h.01M390.8 303.5h.01M384 295.5h.01M379.6 314.1h.01M381.6 314.7h.01M394 303h.01M389 313.1h.01M389.9 314.3h.01M383.3 315.5h.01M379.2 303.6h.01M395.8 302.6h.01M388.2 307.2h.01M388.5 301.4h.01M404.1 312.5h.01M385 303.3h.01M382.1 312.1h.01M379.4 300.3h.01M403.4 312.5h.01M379.2 306.5h.01M402.4 297.4h.01M399.6 302.3h.01M388.7 302.6h.01M393.7 311.7h.01M392.9 313.4h.01M377 304.7h.01M401.1 305.3h.01M384.5 310.9h.01M377 301.6h.01M401.9 313.6h.01M377.9 308.7h.01M393.3 309.7h.01M397.4 315.3h.01M392.8 304.2h.01M379 312.3h.01M385.9 303.6h.01M396.9 306.9h.01M395.6 309.2h.01M396.4 295.9h.01M391.4 295.1h.01M404.4 296.9h.01M385.6 311.4h.01M391.3 308.2h.01M391.1 303.5h.01M393.9 313.7h.01M397.7 313.4h.01M381.8 314.5h.01M384.1 298.7h.01M401.7 311.4h.01M380.8 295.1h.01M382.8 300.1h.01M380.7 307.2h.01M377.9 309h.01M380 300.1h.01M385.4 308.2h.01M379 296.8h.01M398.3 304.6h.01M386.4 308.7h.01M402.9 314.1h.01M377.5 308.4h.01M390 302.5h.01M402 302h.01M394.7 308.7h.01M385.3 308h.01M402 298.5h.01M406.2 297.3h.01M378.9 310.4h.01M389.6 308.9h.01M379.4 307.5h.01M377.5 314.9h.01M388 310.3h.01M380.6 306.7h.01M396.2 301.2h.01M397.7 299.2h.01M390.4 297.6h.01M379 301h.01M400.1 305.1h.01M394.5 314.7h.01M389.7 305.1h.01M377.9 307.9h.01M379.3 299.3h.01M394.7 315h.01M397.5 299.5h.01M384.3 303.1h.01M389.9 305.1h.01M395.2 313.4h.01M401 315.1h.01M399.7 310.6h.01M401 296.5h.01M395.5 303.5h.01M397 310.2h.01M387.8 300.1h.01M399.6 303.1h.01M377.2 310.9h.01M395.3 298h.01M395.1 314.1h.01M377.8 304h.01M399.9 302.4h.01M391.3 295.6h.01M400.5 305.8h.01M394.7 300.7h.01M379.1 308.7h.01M385.1 308.7h.01M401.9 305.5h.01M403.9 297.2h.01M385.1 308.1h.01M381.8 314.9h.01M390.7 314.6h.01M395.1 297.4h.01M398.2 309.1h.01M396.1 309.1h.01M379 314.3h.01M388.6 297.8h.01M405 300.2h.01M380.5 298.6h.01M382.4 313.8h.01M400.4 309.2h.01M379.4 311.3h.01M382.9 310.6h.01M398.7 305.1h.01M381.1 299.5h.01M397.3 301.5h.01M383 302.5h.01M399.7 311.9h.01M402 298.2h.01M388.7 296h.01M396.5 308.4h.01M392.5 298.4h.01M383.4 300.8h.01M400.2 303h.01M396.1 307.1h.01M381.2 313h.01M378.6 300h.01M381.9 308.9h.01M401.8 302.6h.01M399.7 307.9h.01M389.1 305.5h.01M400 296.3h.01M392.5 298.1h.01M396.1 304.9h.01M406.5 304.5h.01M403.5 308.6h.01M381.8 306.4h.01M397.2 304.7h.01M393.5 299.1h.01M377.9 314.4h.01M387.7 307.9h.01M382.8 311.8h.01M389.8 297.3h.01M380.2 311.1h.01M386.5 312.6h.01M394 315.4h.01M391.3 294.6h.01M385.8 297.4h.01M396.9 299.5h.01M383.6 304.9h.01M383.9 292.9h.01M396.9 312h.01M379.6 306.4h.01M384 309.6h.01M386 296.9h.01M384.7 305.4h.01M387 313.3h.01M397.8 304.2h.01M381 297.4h.01M388.4 304.5h.01M387.3 313.9h.01M385.4 305.8h.01M398 313.9h.01M402.4 312.4h.01M406.8 299.7h.01M387 305.6h.01M402.2 302h.01M396.3 310.4h.01M396.2 312.3h.01M387.4 314.7h.01M404.8 299.3h.01M397.5 310.4h.01M400.5 300h.01M393.2 304.6h.01M388.9 299.9h.01M396.7 307.7h.01M383.8 298h.01M379 294.8h.01M396.4 303.3h.01M378.4 312.3h.01M378.8 314.6h.01M377.8 311.7h.01M391.1 293.6h.01M391.3 312.9h.01M381.4 312h.01M384.6 307.3h.01M389.6 301.9h.01M399.5 305.3h.01M379.6 312.2h.01M398.3 303.5h.01M391.7 299.9h.01M398.8 303.9h.01M378.2 312.4h.01M401.9 312.2h.01M384.4 307.9h.01M397.8 308.7h.01M386.5 314.2h.01M397 304.9h.01M397.6 302.9h.01M392.7 295.3h.01M404.1 307.3h.01M400.9 311.6h.01M396.2 302.7h.01M397 307.7h.01M379.6 315.3h.01M387.8 307.4h.01M404.6 306.4h.01M397.7 304.6h.01M394.2 311.7h.01M386.7 311.2h.01M377 294.7h.01M388.6 296.9h.01M400.9 310.3h.01M392.5 298.7h.01M382.7 308.7h.01M399.8 309.7h.01M378.7 308.4h.01M378.7 313.7h.01M395.6 305h.01M397.7 298.4h.01M379.4 315h.01M389.9 306.3h.01M379.8 302.9h.01M380 313.2h.01M400 313.2h.01M399.9 308.3h.01M391.3 314.7h.01M387.4 296.3h.01M392.5 298h.01M393.7 306.4h.01M390.2 299.2h.01M405.4 305.3h.01M399.2 311.4h.01M390.2 309.4h.01M398.4 300.6h.01M377.8 311.4h.01M388.7 302.2h.01M380.3 314.5h.01M394.2 293.7h.01M380.8 305.9h.01M398 295.6h.01M401.8 306.4h.01M405.1 312.8h.01M392 307.2h.01M399.5 299.3h.01M384.5 303.2h.01M385.2 313.3h.01M400.4 308.3h.01M396.6 303.3h.01M388.5 301.7h.01M391.9 303h.01M381.1 307.5h.01M396.1 312.8h.01M384.2 301h.01M377.6 299.7h.01M386.3 315.2h.01M391.9 314.8h.01M378.3 314.9h.01M401.3 308h.01M378.4 302.2h.01M403 313.8h.01M378.4 298.6h.01M378.6 310.6h.01M382.3 303.1h.01M383.3 303.6h.01M396 304.3h.01M393.7 307.9h.01M380.4 304.1h.01M392.9 314.3h.01M382.7 303.6h.01M394.3 301h.01M380.5 303.1h.01M387.5 310.1h.01M401.1 314.9h.01M387 311.1h.01M379.7 301.9h.01M395.7 304.9h.01M397 301.3h.01M392.1 298.3h.01M382.6 305.6h.01M394.3 302h.01M405.6 308.7h.01M401.5 305.7h.01M377.7 297h.01M397.6 298.8h.01M399.6 310.3h.01M382.9 307.1h.01M380.9 314.8h.01M401.4 303.2h.01M384.8 300.3h.01M383.4 299.9h.01M384.2 314.1h.01M389.6 296.4h.01M392.8 300.5h.01M389.8 313.5h.01M391 300.7h.01M381.1 306.3h.01M385.8 315.4h.01M403.5 314.4h.01M383.5 306.8h.01M378.8 297.6h.01M380.8 315h.01M390.3 307.1h.01M396.7 300.4h.01M378.1 301.6h.01M382.9 313.3h.01M399.9 308.1h.01M377.9 300.7h.01M390.3 301h.01M389.7 311.1h.01M383.4 296.1h.01M395.3 312.7h.01M380 307.6h.01M379.3 299.6h.01M377.2 303.5h.01M402.5 308.3h.01M380.3 297.4h.01M377.8 298.6h.01M389.5 298h.01M381.8 302.2h.01M390.4 309h.01M377.5 309.7h.01M381.5 314.3h.01M395 315.3h.01M391.7 315.2h.01M399.8 309.3h.01M376.9 313.6h.01M394.6 302.6h.01M389.2 301.8h.01M388.2 302.1h.01M385.3 315.1h.01M398.6 315.5h.01M402.9 309.7h.01M388.6 307.6h.01M391.6 301.4h.01M379.7 297.6h.01M378.2 308h.01M391.7 310.8h.01M378.2 313.1h.01M404.9 305.9h.01M379.7 305.3h.01M381.3 313.1h.01M393.2 314.4h.01M384.8 297.7h.01M394.3 310.6h.01M392 314.6h.01M386.6 300.2h.01M384.5 297.7h.01M392.5 300.9h.01M381.2 312.8h.01M389.9 303.2h.01M395.3 313.6h.01M380.4 314.6h.01M393.2 311.8h.01M377.4 302.4h.01M394.6 296.3h.01M392.5 311.1h.01M397.3 315.2h.01M399.1 304.4h.01M394.9 302.7h.01M391.4 315h.01M386.8 310.7h.01M382.6 310h.01M402 307.1h.01M401.2 313.9h.01M385.7 308.1h.01M401.4 306.1h.01M393.4 304.9h.01M379 300.8h.01M382.6 297.9h.01M387 299h.01M391.7 300.1h.01M379.4 302.3h.01M384.6 297.1h.01M380.7 303.6h.01M403.4 300.9h.01M379.2 313.7h.01M395.7 295.9h.01M381.2 301.2h.01M389 311.6h.01M381.8 297.7h.01M393.4 294.6h.01M393.6 296.1h.01M387 304.3h.01M390.8 313.9h.01M394.8 313.8h.01M379.9 306.1h.01M403.3 307.8h.01M402.7 305.5h.01M393.7 308.5h.01M379.3 308.6h.01M393.6 304.2h.01M393.6 311.6h.01M388.5 300h.01M378 314.7h.01M386 300.4h.01M377.7 303.5h.01M383.8 314.2h.01M382.6 303.5h.01M388 311.7h.01M396.1 300.4h.01M395.3 308.5h.01M406.8 306.6h.01M397.8 315h.01M386.2 310.4h.01M385.4 297.9h.01M389.8 304.6h.01M393.8 308.3h.01M393.2 306.6h.01M381.3 309h.01M393.6 305.3h.01M395.6 300.7h.01M390.8 315.2h.01M398.3 310.1h.01M379.8 307.3h.01M379.2 304h.01M377.8 312.3h.01M383.2 303.5h.01M400.6 298.5h.01M380.9 304.1h.01M380.9 310h.01M392.9 302.5h.01M377.1 309.8h.01M397.4 305.7h.01M392.4 309.1h.01M378.7 298.9h.01M391.9 314.8h.01M394.7 306.4h.01M388.2 305.5h.01M394.7 298.9h.01M399.3 304.1h.01M391.9 305.8h.01M400.3 307.8h.01M378.7 306.8h.01M389.1 300.5h.01M381.5 295.5h.01M398.1 305.7h.01M401.1 295.8h.01M381.1 313h.01M401.2 310.1h.01M398 302.4h.01M385 303.5h.01M381.4 311.7h.01M399.6 314.9h.01M392.1 305.3h.01M399.1 309.6h.01M403.8 304.9h.01M401.3 303.1h.01M392 300.6h.01M396.1 309.5h.01M395.8 307.3h.01M378.9 315h.01M379.4 309.3h.01M379.5 313.3h.01M395.7 296.5h.01M399.7 301.6h.01M395.4 313.3h.01M387.2 309.2h.01M377.7 304.4h.01M395.7 300.3h.01M386.5 303.4h.01M394.7 305.6h.01M377 312.3h.01M395 315.3h.01M383.5 300.4h.01M406.5 314.2h.01M392.4 312.1h.01M380.3 307.7h.01M396.8 297.3h.01M395 312h.01M397.1 305.2h.01M400.9 302.6h.01M392.3 309.9h.01M398.5 298h.01M399.4 304.5h.01M381.7 315h.01M386.2 298.2h.01M400.8 303.3h.01M382.2 301.2h.01M393.2 312.8h.01M395.4 307.2h.01M396.2 301.5h.01M379.6 302.9h.01M391.2 299.5h.01M391.3 302.2h.01M383 311.4h.01M391.3 303.2h.01M379.1 303h.01M378.6 301h.01M384.6 310.1h.01M389.9 308.2h.01M393.1 303.1h.01M382.5 300.5h.01M377.3 312.5h.01M389.4 304h.01M399.2 299h.01M383.8 311.1h.01M393 314.4h.01M379.3 312.3h.01M391.3 304.2h.01M379 308.3h.01M385 300.1h.01M383.7 308.2h.01M382 292.9h.01M381.7 310.1h.01M394.7 301.3h.01M388.5 301.3h.01M401 306.1h.01M380.6 302.4h.01M399.7 307.8h.01M381.9 314.5h.01M378.2 301.2h.01M384.5 307.5h.01M400.2 301.7h.01M398.8 299.7h.01M381 300.3h.01M377.8 308.7h.01M385.9 313.1h.01M383 296.4h.01M398.2 312.3h.01M386.6 308.6h.01M394 303.1h.01M397.5 313.5h.01M399.8 298.6h.01M380.5 314.9h.01M386.3 293.9h.01M377.1 304h.01M395.8 315.1h.01M386.4 310.2h.01M385.4 303.1h.01M394.3 305.9h.01M387.7 309.1h.01M390.9 313.6h.01M383 299.3h.01M376.9 315h.01M401 308.3h.01M378.1 310.9h.01M399.5 297.4h.01M387.2 303h.01M382.3 301.1h.01M396 292.9h.01M386.7 305.2h.01M382.3 294.9h.01M402.5 296.1h.01M382 306.4h.01M401.9 311.8h.01M383.2 302h.01M394.5 295.8h.01M396.3 301.7h.01M380 310.9h.01M384.4 307.5h.01M392 313.6h.01M377.8 314.3h.01M377.5 303h.01M378.8 310.6h.01M403.2 299.5h.01M398.6 312h.01M406.7 313h.01M382.2 308.2h.01M394.2 314.3h.01M385.4 314h.01M394.1 302h.01M387.5 301.1h.01M400.2 299.3h.01M391.8 299.7h.01M382.3 303.3h.01M379.6 296.9h.01M389 302.5h.01M403.7 311.7h.01M397.4 309.5h.01M399.6 309.1h.01M387.6 309.7h.01M389.2 306.5h.01M397.2 309.4h.01M396.2 297.8h.01M382.7 310.5h.01M394.2 298.3h.01M396.5 305h.01M386.4 305.2h.01M383.9 303.3h.01M397.5 307.6h.01M384.6 310.8h.01M403.9 297.9h.01M394.8 308.8h.01M391.1 306.1h.01M394 297.9h.01M381.8 304h.01M384.2 307.1h.01M393.8 309.7h.01M394.4 310.8h.01M404.1 302.2h.01M399.7 302.4h.01M379.1 310.3h.01M385.6 310.5h.01M392.5 311.1h.01M386.2 310h.01M380.6 309.7h.01M387.2 307.9h.01M380 313.1h.01M386.7 306.9h.01M389.1 306.2h.01M383.6 303.5h.01M383.3 312.2h.01M394.6 298.6h.01M399.8 304.8h.01M390.7 313.5h.01M378.4 301.6h.01M388.3 308.6h.01M389.8 300.2h.01M385.3 295.9h.01M393.5 312.4h.01M377.3 307.7h.01M394.6 298.6h.01M383.5 298.5h.01M389.6 312.7h.01M378.6 303h.01M377.5 311.9h.01M396.7 310.7h.01M390.9 309.4h.01M390.3 308.4h.01M384.1 312.4h.01M395.2 311.8h.01M386.6 311h.01M389.3 299.9h.01M402.1 299.2h.01M379.5 297.8h.01M393.9 310.5h.01M398.7 310.5h.01M398.6 302.9h.01M392.2 311.4h.01M390.8 313.7h.01M397.2 295.2h.01M384.2 302.2h.01M392.5 303.9h.01M399.4 309.2h.01M394.3 312h.01M377.2 305.3h.01M393.2 306.6h.01M379 299.7h.01M403.3 313.5h.01M381.6 309.9h.01M389.2 307.2h.01M394.2 310h.01M395.9 302.2h.01M385 313.1h.01M384.6 313.9h.01M398.4 311.9h.01M384.7 309.1h.01M394.5 310.6h.01M400.5 298.8h.01M398.1 302.7h.01M384.6 305.1h.01M399.8 311.4h.01M377.7 299.5h.01M390.7 296.2h.01M401.5 309.2h.01M393.5 308h.01M385 314.9h.01M389.6 306.1h.01M377.5 315h.01M402.9 307.8h.01M397.5 304.1h.01M395.8 302.7h.01M399.5 302.4h.01M393.8 298.7h.01M378.1 311.5h.01M384.1 314.6h.01M399 301.4h.01M395.2 298.2h.01M389.1 312.3h.01M400.8 305.8h.01M386.7 309.4h.01M401.5 312.1h.01M401.9 297.8h.01M378 302.7h.01M382.6 309.2h.01M381.3 302.7h.01M399.4 306.9h.01M398.6 306.6h.01M377.4 313.9h.01M377.7 313h.01M392.5 306.3h.01M384.8 309.6h.01M382.3 301.1h.01M401.3 313.4h.01M379.6 298.6h.01M379 299.5h.01M398.6 303h.01M386.5 304.3h.01M382.2 311.4h.01M379.3 312.6h.01M386 304.5h.01M384.7 311.7h.01M378.2 312.9h.01M399.9 294.9h.01M400.3 308.4h.01M392.6 306.1h.01M401 312.7h.01M395.5 305.2h.01M388.7 314.7h.01M378.5 313.6h.01M382.2 295.1h.01M388.7 309h.01M391.2 304.9h.01M392.3 310.9h.01M382.6 308.3h.01M391.6 312.1h.01M391.7 308.5h.01M404.1 313.1h.01M398.2 301h.01M399.3 309.2h.01M382.7 313.6h.01M390.6 314.9h.01M401.3 302.5h.01M382.8 301.2h.01M379.2 305h.01M393.2 311.9h.01M383.5 302.2h.01M382.3 305.3h.01M392.7 299.6h.01M397.2 300.6h.01M386.3 296.6h.01M380.1 309.3h.01M381.9 299.1h.01M399.1 302.5h.01M377.1 311.6h.01M397.3 314.4h.01M406.5 305.6h.01M394.4 304.9h.01M400.1 315.2h.01M398.1 303.5h.01M400.2 311h.01M405 311.8h.01M396.8 301.8h.01M395.6 311.7h.01M387.5 299.8h.01M380 305.2h.01M377.4 304h.01M387.6 303.4h.01M402.3 300.7h.01M388.2 294.2h.01M390.8 309.4h.01M397.1 311h.01M386.7 314.6h.01M401 307h.01M398.2 296.9h.01M394.6 305.1h.01M388 313h.01M401.5 311.2h.01M388.7 302.7h.01M387.5 298.5h.01M381.1 295.7h.01M395 305.1h.01M394.4 311.9h.01M398.2 302.4h.01M392.7 309.9h.01M402.6 311.8h.01M383.4 308.1h.01M403.1 296.4h.01M402.1 301.2h.01M387.6 312.5h.01M388.2 313.8h.01M384.3 310.3h.01M388.6 310.5h.01M397 310.1h.01M401.6 309.3h.01M392.6 296.5h.01M404.6 311.4h.01M384 299.7h.01M393 299.2h.01M388.7 307h.01M379.2 313.2h.01M378.3 302.9h.01M388.9 309.3h.01M377.5 314.1h.01M393 307.5h.01M382 297.9h.01M394.9 309.3h.01M383.9 310.2h.01M380.2 299.7h.01M392 300.2h.01M378.6 313.6h.01M395 298h.01M401.9 301.6h.01M387.5 307.7h.01M397.3 309.6h.01M402.1 310.7h.01M393.1 299.5h.01M399.2 312.3h.01M379.1 300.1h.01M392 304.3h.01M396.9 311.8h.01M395.8 313.4h.01M397.8 315h.01M397.9 309.7h.01M400.2 309.6h.01M391 303.9h.01M401.9 296.3h.01M391.6 309.9h.01M401.2 297.1h.01M390.5 302.2h.01M387.8 295.6h.01M389.3 306.2h.01M380.1 303.8h.01M379.9 303.2h.01M377.5 303.5h.01M377.1 299h.01M391.4 302h.01M400.3 306.4h.01M402.9 296.5h.01M388.1 302.4h.01M401.3 309.7h.01M399.8 312.7h.01M398.2 313.1h.01M402.7 299h.01M406 315.2h.01M381.3 309.8h.01M382.5 299.2h.01M392.1 306.4h.01M387.5 301.5h.01M382.7 302.8h.01M393.7 301.2h.01M389.6 313h.01M392.3 306.1h.01M388.8 308.9h.01M381.2 297.5h.01M403.2 308.9h.01M380.5 304.9h.01M386.3 304.2h.01M396.5 313.3h.01M383.7 306.3h.01M385.4 310.1h.01M382.2 297.4h.01M396.6 314.7h.01M404.4 300.5h.01M405.3 307.5h.01M396.7 313.6h.01M385.9 309.4h.01M401.9 303.8h.01M399.3 315.3h.01M390.2 307.6h.01M402.8 308.8h.01M400.1 306.3h.01M378.1 312.8h.01M395.7 303.5h.01M400.5 296.4h.01M382 310.4h.01M397.6 306.5h.01M377 307.3h.01M398.4 307.1h.01M392.4 301.7h.01M378.2 310.9h.01M395.3 293.7h.01M399.9 304.1h.01M402.2 313.7h.01M380.6 313.9h.01M386.7 313.5h.01M397.5 312.3h.01M392.2 311.5h.01M401.2 298.7h.01M378.5 298.3h.01M397 305.9h.01M377.4 294.8h.01M403 301h.01M392.7 296.4h.01M381.3 298.4h.01M378.4 314.9h.01M398.3 301.6h.01M394.3 314.5h.01M397.4 302h.01M380.2 313.7h.01M384 297.8h.01M383.1 309.2h.01M401.8 307.5h.01M395.9 298.9h.01M394.4 313h.01M389.4 305.7h.01M400.4 309.3h.01M384.5 310.1h.01M377.6 313h.01M393.9 309.8h.01M392 306.5h.01M381.7 304.7h.01M385.1 307.4h.01M395.8 314.4h.01M392.6 298.3h.01M389.4 305.8h.01M392.7 300.8h.01M393.9 313.3h.01M388 312.9h.01M382.3 299.7h.01M381.9 297.1h.01M386.4 300.2h.01M398.8 313.2h.01M393.2 311.1h.01M390.5 298.3h.01M377.5 312.3h.01M398.3 296.9h.01M384.4 311.2h.01M397.3 301.3h.01M389.7 308.8h.01M403.2 302.4h.01M391.2 309.8h.01M402.7 311.7h.01M387 310.2h.01M384.3 298.6h.01M401.9 308.6h.01M379.2 309.9h.01M383.2 296.2h.01M381.2 304.6h.01M386.6 311h.01M389.1 298.7h.01M385 301.2h.01M393.1 308.3h.01M400.8 307.1h.01M389 311.9h.01M391.4 309.2h.01M384.9 308.1h.01M383.1 307.5h.01M386.9 302.9h.01M395.3 315.3h.01M393.2 296.9h.01M398.3 304h.01M390.2 296.6h.01M389.6 311.4h.01M394.9 314.5h.01M406.9 309.6h.01M385.6 305.4h.01M397 305.1h.01M400.1 312.4h.01M388.4 307.3h.01M377 293h.01M400 303.4h.01M386.1 315.4h.01M379.8 311.6h.01M402.4 311.5h.01M389.2 300.1h.01M379.3 310.7h.01M403.1 310.4h.01M397.7 308.5h.01M381.6 294.6h.01M389.1 302.2h.01M398.5 307h.01M398.2 307.3h.01M384.2 312.6h.01M384.3 315h.01M394.7 305.3h.01M389.7 311.3h.01M402.7 303.6h.01M400.7 301.5h.01M382.8 307.9h.01M399.3 298.7h.01M395.9 312.6h.01M396.8 311.9h.01M386.2 298.8h.01M377.9 304.2h.01M377.4 313.1h.01M381.4 310.7h.01M392.8 304.9h.01M377.1 311.3h.01M395.3 295.7h.01M377.9 313.6h.01M394.6 302.6h.01M377.8 307.3h.01M380.6 308.3h.01M377.2 303.4h.01M377.8 314h.01M384.2 302.9h.01M380.1 299.7h.01M388.2 297.3h.01M380.6 298.7h.01M378.6 299.7h.01M394.7 296.3h.01M378.3 303.4h.01M387.8 311.8h.01M383 301.8h.01M377.7 300.8h.01M390.8 296.2h.01M406 313.1h.01M394.7 312.5h.01M396.6 310.3h.01M395.3 298.5h.01M381.1 304.5h.01M403.4 307.5h.01M378.2 296.7h.01M401.7 307.2h.01M393.3 315.4h.01M377.4 306.7h.01M379.7 294.9h.01M389.2 308.6h.01M380.1 314.2h.01M390.5 300.3h.01M394.5 312.7h.01M401.7 306.7h.01M397.1 313.8h.01M376.9 315.3h.01M387.6 304.2h.01M381.4 303h.01M377.5 310.3h.01M399.6 309.8h.01M390 305.2h.01M378.5 304.8h.01M385.2 301.8h.01M402.6 312.8h.01M397.5 298.4h.01M404.1 299.5h.01M382 313.3h.01M392.8 299.9h.01M381.3 299.1h.01M386.4 303.9h.01M385.7 306.3h.01M393.7 314.2h.01M377.8 301.1h.01M392.4 302.6h.01M396.1 311.5h.01M394.6 306.1h.01M390 309.2h.01M399.9 298.7h.01M391.4 303.2h.01M386.6 297.7h.01M400.3 310.3h.01M397.7 302.7h.01M395.5 309.4h.01M377.8 295.4h.01M398.2 302.6h.01M407 314.2h.01M377 310.8h.01M381.2 304.7h.01M388.4 309h.01M400.6 306h.01M395.3 295.6h.01M388.5 310.4h.01M389.3 299.4h.01M377.4 308.2h.01M399.6 312.7h.01M382.3 306.7h.01M392.9 310.1h.01M388.7 304.8h.01M383.8 310.7h.01M397.7 299.9h.01M397.9 307.3h.01M387.8 301.4h.01M397.3 294.8h.01M384.4 301.9h.01M378.5 307.5h.01M395.6 305.1h.01M380.4 311.7h.01M391.9 307.2h.01M397.3 313.3h.01M386.9 308.6h.01M397.3 299.3h.01M383.7 299.2h.01M387.9 301.1h.01M393 309.5h.01M378.5 302.8h.01M392.6 301h.01M392.1 310.5h.01M399.6 311h.01M393.6 296.8h.01M395.2 300.4h.01M398.1 312.6h.01M397.4 306.3h.01M386 299.7h.01M377.9 305.6h.01M400.6 315.4h.01M405.3 307.3h.01M389.6 302.7h.01M395.5 298.2h.01M399.3 306.6h.01M382.8 301.6h.01M402.8 312.3h.01M403.5 293.9h.01M377.8 302.1h.01M380.8 303.4h.01M378.9 307.8h.01M380 298.7h.01M377.9 300.3h.01M401.3 305.6h.01M394.8 306.8h.01M377.6 309.7h.01M385.5 305.8h.01M397.4 314.4h.01M387 296.8h.01M391.7 308h.01M386.8 315.1h.01M394.1 314.2h.01M393.2 312.2h.01M395.5 298.6h.01M392.9 301.3h.01M385.4 311.8h.01M396.5 300.2h.01M400.2 306.1h.01M402.6 302.4h.01M395.3 307.9h.01M408.9 296.3h.01M393.3 296.6h.01M393.6 298.6h.01M381 314.8h.01M409 314.9h.01M405.5 315.2h.01M406.9 300.8h.01M386.7 298.8h.01M402.5 306.8h.01M386.2 302.5h.01M405.9 297.6h.01M396.6 307.5h.01M394.7 298.1h.01M397.9 311.2h.01M395.9 305.9h.01M408.6 302.2h.01M405.5 296.4h.01M387.4 304.1h.01M403.8 304.3h.01M380.6 308.1h.01M410.6 304.9h.01M394 304.1h.01M395.7 296.4h.01M397.2 300.7h.01M413.6 304.5h.01M402.6 306.9h.01M397.4 302.7h.01M401.7 295.6h.01M395 297.6h.01M404.4 301.4h.01M393.5 307.7h.01M394.9 302.4h.01M395.4 297.6h.01M405.8 303.5h.01M398.8 303.2h.01M396 312.5h.01M387 304.1h.01M404.2 300.9h.01M394.9 304h.01M399.5 307.1h.01M395.7 293h.01M399.8 301.8h.01M399.2 297.9h.01M386 300.4h.01M385.5 301.9h.01M395.9 312.4h.01M385.8 308.5h.01M402.2 305.9h.01M397.8 297.9h.01M405.3 305.9h.01M402.6 307.5h.01M402 294.8h.01M393 294h.01M399.5 311.9h.01M403.8 310.4h.01M404.6 304.6h.01M399.4 310.3h.01M396.7 309.8h.01M392.7 312.6h.01M395.2 287.8h.01M394.1 306.3h.01M405.3 311.2h.01M405.7 306.2h.01M396.3 300.2h.01M393.4 296.3h.01M402.9 312.2h.01M406.4 314.5h.01M402 292.5h.01M389.1 297.7h.01M386.5 308h.01M408.8 309.2h.01M404 300.8h.01M394.4 295.6h.01M397.3 310.8h.01M396.9 312.3h.01M398 293h.01M390.9 304.4h.01M403.8 307.1h.01M393 303.8h.01M389.8 312.3h.01M405.6 306.1h.01M398.2 307.4h.01M405.9 305.8h.01M399.7 295.8h.01M404.2 313.3h.01M409.1 300.8h.01M399.6 304.2h.01M405.1 312.1h.01M393.7 308.5h.01M400.7 303.2h.01M380.9 291.3h.01M396.8 304.4h.01M391.8 311.1h.01M385.8 303.3h.01M402.1 295.6h.01M397.8 311.7h.01M400.8 313.5h.01M387.8 310.4h.01M399.5 310.9h.01M412.5 293.9h.01M402.1 301h.01M388.8 290.2h.01M402.5 310.4h.01M398.8 307.8h.01M393.1 289.1h.01M391.9 308.2h.01M398.9 310.6h.01M382.9 299.3h.01M404.9 302.8h.01M402.7 313.4h.01M401.3 295.8h.01M402.8 307h.01M406.4 310.5h.01M387.8 306h.01M399 302.2h.01M401.7 305.6h.01M402.7 307.3h.01M394.8 309.2h.01M397.2 314.2h.01M402.6 295.5h.01M402 304.1h.01M410.2 303.6h.01M385.5 314h.01M398.1 297.3h.01M396 314.9h.01M399.7 299.4h.01M398.2 299.6h.01M393.3 296.1h.01M399.5 303.3h.01M388.8 301.6h.01M390.4 305h.01M390.5 303.3h.01M399.1 308.5h.01M403.1 306.9h.01M406.1 289.7h.01M388.5 311.4h.01M395.9 304.4h.01M405.5 304.1h.01M397.8 301.2h.01M407.3 309.8h.01M408 302.2h.01M394.2 311h.01M394.6 297.4h.01M398.4 314.1h.01M392.7 312.1h.01M397.5 297h.01M395.8 309.1h.01M410.3 301.1h.01M397.8 297.1h.01M393.6 301.3h.01M397.8 305.1h.01M399.4 300.3h.01M383 307.3h.01M390 311.6h.01M387.9 295.7h.01M396.3 292.4h.01M401 303.8h.01M391.5 305.4h.01M386.5 304.8h.01M402.4 308.7h.01M394.5 307.8h.01M397.1 292.6h.01M401.2 304.2h.01M404.2 299.1h.01M394.1 303.1h.01M390.7 295.7h.01M389.3 307.2h.01M391.1 303.4h.01M398.6 300.4h.01M416.3 295.6h.01M400.9 313.9h.01M393.5 309.6h.01M396.4 307.8h.01M395.1 299.9h.01M387.6 298.7h.01M397.5 313.2h.01M400.1 301.2h.01M398.7 309.3h.01M392.2 314.8h.01M397.5 294.2h.01M392.8 296.2h.01M395.3 306.8h.01M385.1 294.4h.01M402.7 302.2h.01M395.5 301.1h.01M379.4 309.6h.01M396 296.2h.01M402.2 305.3h.01M418.3 308.1h.01M391.5 297.5h.01M408.5 298.1h.01M391 310.2h.01M404.6 309.1h.01M402.8 294.8h.01M396.3 295.3h.01M390 314.5h.01M390.6 305.2h.01M405.2 300.6h.01M408.2 304.8h.01M396 303.7h.01M396.3 307.2h.01M393.2 313.7h.01M398.4 312.9h.01M394.3 300.2h.01M405.2 301.3h.01M403.9 302.2h.01M401 314.3h.01M391 311.1h.01M387.8 292.9h.01M394.1 301.9h.01M407.1 301.4h.01M403 311.4h.01M396.8 311.7h.01M404.1 301.3h.01M401.9 298.4h.01M391.6 305.3h.01M408.3 307.5h.01M405.5 305.9h.01M389.6 297.5h.01M395.6 302.8h.01M403.6 307.8h.01M445 307.3h.01M432.2 296.9h.01M449.1 304h.01M442.3 303.6h.01M428.3 303.3h.01M444.6 305h.01M435.2 312.6h.01M436.9 296.9h.01M437.1 303.1h.01M434.4 310.5h.01M449.6 303.3h.01M443 297.1h.01M451.3 305.1h.01M441.6 311.6h.01M436.9 310.8h.01M432.1 313.5h.01M443.5 297.2h.01M443 311.6h.01M429.3 307.3h.01M436.1 306.6h.01M435.9 307.9h.01M436.9 295.4h.01M430.6 306.3h.01M453.6 310.5h.01M445.7 311.4h.01M446 305.3h.01M441.3 296.6h.01M445.2 305.8h.01M432.5 306.8h.01M434.6 301.5h.01M439.2 314.1h.01M446.9 304.7h.01M436.9 308.8h.01M445.5 313.7h.01M428.1 302.9h.01M449.3 298.2h.01M429.4 300.6h.01M441.3 313.2h.01M429.1 307.8h.01M436.7 312.4h.01M448.6 305.5h.01M447.6 299.1h.01M451.2 302.3h.01M450.3 303.6h.01M435 299.9h.01M433.7 304.9h.01M451.2 304h.01M428.8 299.7h.01M436.2 310.5h.01M442.1 300h.01M468 297h.01M416 311h.01M419 300h.01M421 306h.01"/>
<path class="fr" d="M376.1 213.5H507.7V316.3"/>
<path class="ax" d="M376.1 213.0V316.3H508.2"/>
<path class="mt" d="M376.1 314.7v6.8M377.7 316.3h-5.8M386 316.3v2.5M376.1 308.6h-2.5M391.8 316.3v2.5M376.1 304h-2.5M395.9 316.3v2.5M376.1 300.8h-2.5M399.1 316.3v2.5M376.1 298.3h-2.5M401.7 316.3v2.5M376.1 296.3h-2.5M403.9 316.3v2.5M376.1 294.6h-2.5M405.8 316.3v2.5M376.1 293.1h-2.5M407.5 316.3v2.5M376.1 291.8h-2.5M409 314.7v6.8M377.7 290.6h-5.8M418.9 316.3v2.5M376.1 282.9h-2.5M424.7 316.3v2.5M376.1 278.3h-2.5M428.8 316.3v2.5M376.1 275.1h-2.5M432 316.3v2.5M376.1 272.6h-2.5M434.6 316.3v2.5M376.1 270.6h-2.5M436.8 316.3v2.5M376.1 268.9h-2.5M438.7 316.3v2.5M376.1 267.4h-2.5M440.4 316.3v2.5M376.1 266.1h-2.5M441.9 314.7v6.8M377.7 264.9h-5.8M451.8 316.3v2.5M376.1 257.2h-2.5M457.6 316.3v2.5M376.1 252.6h-2.5M461.7 316.3v2.5M376.1 249.4h-2.5M464.9 316.3v2.5M376.1 246.9h-2.5M467.5 316.3v2.5M376.1 244.9h-2.5M469.7 316.3v2.5M376.1 243.2h-2.5M471.6 316.3v2.5M376.1 241.7h-2.5M473.3 316.3v2.5M376.1 240.4h-2.5M474.8 314.7v6.8M377.7 239.2h-5.8M484.7 316.3v2.5M376.1 231.5h-2.5M490.5 316.3v2.5M376.1 226.9h-2.5M494.6 316.3v2.5M376.1 223.7h-2.5M497.8 316.3v2.5M376.1 221.2h-2.5M500.4 316.3v2.5M376.1 219.2h-2.5M502.6 316.3v2.5M376.1 217.5h-2.5M504.5 316.3v2.5M376.1 216h-2.5M506.2 316.3v2.5M376.1 214.7h-2.5M507.7 314.7v6.8M377.7 213.5h-5.8"/>
<text class="tk" transform="translate(376.4 327.2) scale(1.02 1)" x="-5.5 0" y="0">10<tspan class="ex" x="5.4" dy="-3">0</tspan></text>
<text class="tk" transform="translate(372 316.4) rotate(-90) scale(1.1 1.1)" x="-5.2 0" y="0">10<tspan class="ex" x="5.1" dy="-3">0</tspan></text>
<text class="tk" transform="translate(409.3 327.2) scale(1.02 1)" x="-5.5 0" y="0">10<tspan class="ex" x="5.4" dy="-3">1</tspan></text>
<text class="tk" transform="translate(372 290.7) rotate(-90) scale(1.1 1.1)" x="-5.2 0" y="0">10<tspan class="ex" x="5.1" dy="-3">1</tspan></text>
<text class="tk" transform="translate(442.2 327.2) scale(1.02 1)" x="-5.5 0" y="0">10<tspan class="ex" x="5.4" dy="-3">2</tspan></text>
<text class="tk" transform="translate(372 265) rotate(-90) scale(1.1 1.1)" x="-5.2 0" y="0">10<tspan class="ex" x="5.1" dy="-3">2</tspan></text>
<text class="tk" transform="translate(475.1 327.2) scale(1.02 1)" x="-5.5 0" y="0">10<tspan class="ex" x="5.4" dy="-3">3</tspan></text>
<text class="tk" transform="translate(372 239.3) rotate(-90) scale(1.1 1.1)" x="-5.2 0" y="0">10<tspan class="ex" x="5.1" dy="-3">3</tspan></text>
<text class="tk" transform="translate(508 327.2) scale(1.02 1)" x="-5.5 0" y="0">10<tspan class="ex" x="5.4" dy="-3">4</tspan></text>
<text class="tk" transform="translate(372 213.6) rotate(-90) scale(1.1 1.1)" x="-5.2 0" y="0">10<tspan class="ex" x="5.1" dy="-3">4</tspan></text>
<text class="lb" text-anchor="middle" transform="translate(424.8 339) scale(0.92 1)" x="3.5 11.3 19.1 27" y="0">CD19</text>
<text class="lb" text-anchor="middle" transform="translate(361.3 276.4) rotate(-90) scale(0.92 1)" x="3.5 11.3 19.1 27" y="0">CD1a</text>
</g>
<g id="plot7">
<path class="dots" d="M50.1 476.2h.01M43 469.1h.01M39.9 469.7h.01M70.8 469.2h.01M66.5 472.1h.01M42.3 475.9h.01M47.1 466.3h.01M42 459.1h.01M41.9 468.9h.01M40.3 472.1h.01M37.8 474.5h.01M40.3 461.2h.01M65.3 463.3h.01M49.5 473h.01M62.4 463.2h.01M43.3 473.8h.01M47.6 472h.01M41.8 469.7h.01M46.3 462.7h.01M59.2 469.8h.01M54.9 457.1h.01M60.4 468.2h.01M55.2 464.4h.01M54.6 467.7h.01M42.2 459.6h.01M41.1 468.1h.01M67 477.4h.01M58.2 462.3h.01M56 467.7h.01M55.4 459.7h.01M51.9 469h.01M66.3 472.8h.01M52.8 463.9h.01M65.7 463.8h.01M59.6 475.2h.01M55.5 470h.01M63.5 463.3h.01M40.1 467.7h.01M53.2 463.2h.01M62.9 471h.01M45.6 466.6h.01M56.5 474.5h.01M47 461.4h.01M50.2 462.8h.01M56.3 462.3h.01M43.8 469.8h.01M58.2 464.4h.01M51.1 464.3h.01M55.2 473h.01M37.5 465.8h.01M43.2 466.6h.01M48.5 457.9h.01M44.8 469.7h.01M42 472.7h.01M60.9 467.2h.01M45.2 475.9h.01M53.1 475.5h.01M44 475h.01M39.2 462.1h.01M67 466.7h.01M51.1 475.4h.01M55.1 463.3h.01M58.5 456.8h.01M59.6 464.8h.01M65.3 466.4h.01M49.4 461.9h.01M49.8 469.2h.01M52.9 463.7h.01M46 471.8h.01M47.5 462.1h.01M59.7 475.6h.01M53.9 463.3h.01M54.7 473.4h.01M53.6 465.3h.01M56 468.5h.01M43.6 458.5h.01M50.8 467.5h.01M38.9 461.8h.01M63.9 475.8h.01M54.7 463.3h.01M39.2 471h.01M54.2 473.6h.01M42.5 465.6h.01M57.7 473.7h.01M58.9 476.1h.01M54.8 462h.01M67.4 465.9h.01M36.9 470.5h.01M41.2 463.1h.01M50.6 474.5h.01M48.4 467.2h.01M48 468.8h.01M64.5 462.7h.01M38.7 469.8h.01M53.9 466.8h.01M49.6 463.7h.01M61.6 466.1h.01M54.8 467.3h.01M48.3 473h.01M51.1 473.7h.01M48.9 464.1h.01M64.3 463.1h.01M46.4 476.4h.01M66 472.9h.01M50 472.2h.01M45.4 469.4h.01M63.1 463.1h.01M59.4 462.2h.01M52.8 467.2h.01M57.5 460.5h.01M64.2 476.5h.01M67.7 467.2h.01M36.6 460.1h.01M56.7 468.4h.01M48.6 465h.01M52.7 469.1h.01M54.8 470.5h.01M59.4 471.8h.01M64.6 477.2h.01M37.7 459.3h.01M56 467.6h.01M66.3 460.7h.01M61.9 468.5h.01M44.2 455.7h.01M46.6 458.4h.01M48.7 471.4h.01M36.8 472h.01M43.5 465.7h.01M51.7 460.2h.01M57.8 462.1h.01M64.2 476.4h.01M54.3 467.2h.01M51.5 466.8h.01M57.4 473.7h.01M54.1 470.4h.01M53.5 477.3h.01M56.5 458.5h.01M64.8 474.7h.01M43.2 468.9h.01M48.1 472.5h.01M69 457.6h.01M40.6 458.8h.01M46.1 464.5h.01M64.4 473.7h.01M49.5 461.6h.01M40.6 463h.01M43.3 477.3h.01M53.2 458.2h.01M54.2 474.5h.01M40.7 464.3h.01M38.6 477.9h.01M49.1 460.7h.01M50.4 467.9h.01M55.9 463.1h.01M57.8 476.8h.01M64.3 464.9h.01M58.5 461.8h.01M57.6 461.9h.01M66.2 472h.01M44.3 470h.01M61.8 463h.01M61.1 468.4h.01M61.4 471.9h.01M40.5 471.6h.01M47 465h.01M45.2 475.5h.01M57.1 458.9h.01M68.2 463.6h.01M62.8 470.9h.01M58.9 460.8h.01M59.8 471.2h.01M66.3 462.2h.01M50.9 460.2h.01M62.7 469.4h.01M54.9 459.3h.01M55.1 462.2h.01M44.5 477.7h.01M64.4 469.9h.01M64.8 467.3h.01M45.2 473.7h.01M43.3 470.2h.01M71.6 471.2h.01M46.7 465.7h.01M61.6 474h.01M56.6 459.6h.01M53.5 467.9h.01M49.2 455.7h.01M45 466.1h.01M59.2 458.5h.01M49.7 463.6h.01M40.8 465.3h.01M62.4 464.2h.01M57.3 474.9h.01M67.3 470.8h.01M51 467.8h.01M41.3 457.2h.01M59.9 461.1h.01M45.5 466.3h.01M67.7 462.2h.01M57 473.2h.01M45.4 459.9h.01M51.4 469.7h.01M54.7 467.2h.01M54.9 471.5h.01M51.9 474.2h.01M59.2 467.9h.01M37.2 467.6h.01M63.8 468.1h.01M47.4 466.4h.01M55.1 471.4h.01M60 461.5h.01M47.1 464.3h.01M41.1 463.6h.01M41.8 472.2h.01M66.6 461.5h.01M43 473.7h.01M54.3 473.1h.01M55.1 463.6h.01M40 476.4h.01M39.8 463.2h.01M56.3 470.1h.01M53.3 463h.01M49.2 463.4h.01M44.5 471.6h.01M63.2 471h.01M54.4 474.5h.01M55.3 475.9h.01M66.4 463.7h.01M69.3 459.1h.01M51.1 457.3h.01M47.3 462.6h.01M42.1 464.2h.01M57.2 471.3h.01M52.9 463.5h.01M47.2 470.1h.01M41.3 472.8h.01M46 460.9h.01M61.7 468.2h.01M34.3 468.9h.01M62.3 471.4h.01M54.9 461.1h.01M65.9 462.8h.01M48.1 475.6h.01M54 459.9h.01M45.5 461.8h.01M53.4 468.1h.01M56 458.6h.01M44 459.2h.01M48.3 463.9h.01M45.2 471.6h.01M44.8 470.4h.01M54.8 473.4h.01M46.8 459.3h.01M58.9 472.8h.01M44.7 457.8h.01M41.3 461.3h.01M46.6 459.1h.01M63.8 464.9h.01M58.2 473.6h.01M50.6 462.3h.01M50.2 460.5h.01M55.1 462h.01M44.6 457.9h.01M49.3 473.7h.01M51.6 462.4h.01M59.1 467.5h.01M56.6 471.8h.01M42.2 468.4h.01M50.4 466.1h.01M62.6 470.9h.01M48.4 461.3h.01M45.6 471.8h.01M38.8 460.9h.01M55.8 468.9h.01M44.6 464.8h.01M63.7 478.1h.01M58.3 473.7h.01M58.1 467.9h.01M43.9 477h.01M41.6 476.8h.01M64.4 471.5h.01M40.1 477.3h.01M48.7 477.1h.01M59.5 467.6h.01M52.3 467h.01M55 459h.01M47.8 473.9h.01M58.6 475h.01M52 469.9h.01M47.4 476.5h.01M44 465.2h.01M39.4 474.4h.01M48.8 471.6h.01M41.4 469.5h.01M59.7 473.3h.01M61.1 458.9h.01M46.9 476.7h.01M61 473.3h.01M59.1 465.1h.01M40.3 473.6h.01M39 459.7h.01M54.4 472.6h.01M39.7 462.7h.01M60.5 466.1h.01M55.8 460.1h.01M61.3 476.9h.01M45.8 459.4h.01M57.2 477.6h.01M69.2 469.7h.01M53.7 466.6h.01M47.5 473.3h.01M47.8 465.5h.01M50.7 465.4h.01M64 465.1h.01M56.5 464.1h.01M46.6 473.9h.01M46.8 467.7h.01M72.5 466.5h.01M67.1 476.8h.01M57.8 477h.01M44.7 460.1h.01M57.7 474.7h.01M42.4 468.2h.01M58.5 465h.01M49.1 473.7h.01M36.9 477.8h.01M54.6 471.7h.01M51.9 462.7h.01M43.7 463h.01M40.8 471.2h.01M63.6 477.2h.01M51.4 469.7h.01M38.2 461.7h.01M38.3 463.9h.01M59.7 474.5h.01M55.6 467.5h.01M43.5 459.3h.01M38.4 470.3h.01M50.9 468.9h.01M55.6 465.8h.01M56 458.4h.01M61.4 464.2h.01M47.1 466.7h.01M53.6 469.9h.01M48.7 475.1h.01M31.7 458.9h.01M57.3 464.6h.01M58 461.8h.01M43.7 471.4h.01M55.5 471.9h.01M43.1 471.7h.01M60 466.7h.01M63.2 465.1h.01M46 460.1h.01M57.4 465.4h.01M64.1 466.9h.01M40.6 465.3h.01M59.1 470.5h.01M50.3 468.5h.01M64.5 474.8h.01M59.8 459.4h.01M56.9 475.3h.01M46.6 458.9h.01M51.5 468.4h.01M60 476.3h.01M56.3 464.1h.01M48.8 464.2h.01M45.2 463.6h.01M43.2 474.9h.01M47.7 469.8h.01M52.7 476.9h.01M48.6 464.6h.01M40.8 472.5h.01M52.8 471.4h.01M54.2 477.9h.01M39.4 472.4h.01M51.6 475.4h.01M64.3 464.1h.01M54.5 473.2h.01M61.2 456.8h.01M68.8 466.4h.01M56.4 460.3h.01M44.6 471.8h.01M43.6 461.1h.01M63.5 474.2h.01M42.6 462.6h.01M48.4 470.8h.01M41.4 462.8h.01M53.7 469h.01M65.4 477.9h.01M52.8 466.9h.01M64.7 474.2h.01M56.3 475.5h.01M55.6 459.6h.01M61.9 469.3h.01M44.8 465.7h.01M65.8 459.8h.01M54 468.6h.01M66.8 474.7h.01M42.9 468.4h.01M42.9 463.7h.01M48.8 468.8h.01M40.8 476.7h.01M56 465.5h.01M43.5 472.1h.01M51.5 467.5h.01M46.7 460.4h.01M56.7 461.4h.01M55.2 475.3h.01M56.4 464.8h.01M56.4 460.5h.01M60.7 457.4h.01M61.7 470.6h.01M64.1 470h.01M53.2 464.6h.01M57.2 463.6h.01M53.6 469.4h.01M62.8 475.3h.01M32.8 457.9h.01M49.1 461.3h.01M46 459.7h.01M45.7 471.8h.01M63.3 475.3h.01M53.6 466h.01M42 459.3h.01M50.8 467.2h.01M56 459h.01M64.5 474.2h.01M51.7 472.6h.01M62.6 465h.01M63.3 477.4h.01M64 468h.01M67.4 471.9h.01M54.6 468.8h.01M49.5 477.2h.01M46.5 470.2h.01M60.4 467.6h.01M56.1 460.6h.01M53.4 460.8h.01M54.3 477.3h.01M61.2 474.1h.01M40.2 474.7h.01M57.9 474.7h.01M41.4 470h.01M54.7 474.7h.01M63 472.3h.01M59.6 459.7h.01M55.7 473.8h.01M47.4 458.8h.01M54.9 476.3h.01M53.6 458.9h.01M65.9 455.6h.01M46.3 464.8h.01M47.1 469.4h.01M42.5 462.2h.01M44.2 459.7h.01M47.2 473.7h.01M53.4 464.3h.01M56.9 474.5h.01M48 459.1h.01M46.3 474.5h.01M59.1 464.1h.01M65.6 475.1h.01M49.7 465h.01M43.2 475.5h.01M58.8 455h.01M45.7 468.4h.01M47.3 465.7h.01M44.9 467.7h.01M64.5 476.2h.01M48.5 465.9h.01M38.6 472.1h.01M48.9 462.3h.01M53.7 474h.01M63.2 465.8h.01M57.5 475.4h.01M54.7 477.8h.01M58.2 470h.01M55.1 460.8h.01M42.7 459.5h.01M63.9 462.1h.01M49.8 465.3h.01M46.8 477.6h.01M60.5 468.3h.01M46.2 462h.01M42.8 463.1h.01M49.7 475.7h.01M58.7 459.8h.01M34.8 460.8h.01M53.6 475.3h.01M57.4 462.8h.01M37.4 476.9h.01M64.3 473.2h.01M51.7 472.8h.01M43.8 466.9h.01M44.4 464.7h.01M41.8 462.9h.01M66.8 472.6h.01M51.4 459.7h.01M60.2 464.2h.01M67.4 459.5h.01M49.1 463.5h.01M47.9 471.3h.01M48.5 462.9h.01M51.8 461.6h.01M62.8 463.4h.01M57.6 473.3h.01M56.4 462.6h.01M58.9 472.4h.01M58.7 462.9h.01M55.1 464.2h.01M50.2 461.4h.01M51.3 472.9h.01M50.6 457.6h.01M55 475.6h.01M53.1 467.3h.01M40.8 461.2h.01M62.1 470.5h.01M68.1 460.4h.01M41.9 461.9h.01M43.9 465.2h.01M53.8 466.2h.01M52.9 464.7h.01M59.5 460h.01M42.2 460.1h.01M46.8 462.4h.01M51.8 464.4h.01M63.1 465.2h.01M59.8 464.2h.01M50.6 469.8h.01M43.5 460h.01M41.9 460.4h.01M58.9 463.4h.01M69.2 461.3h.01M55.6 457.8h.01M45 471.9h.01M31.5 456.9h.01M64.2 473.9h.01M59.3 478h.01M46.8 463.1h.01M51.9 464.9h.01M47 474h.01M50.9 466.1h.01M63.9 475.8h.01M61.7 461.3h.01M62.4 459.9h.01M62.2 460.2h.01M50.8 477h.01M55.5 469.4h.01M47.4 463.4h.01M60.5 471.3h.01M63.2 475.9h.01M56.9 474.3h.01M52.3 461.4h.01M68 476.6h.01M52.9 459.8h.01M52.8 469.7h.01M48.2 475.2h.01M45.6 463.5h.01M59.9 460.4h.01M43.1 462.7h.01M51.3 462.6h.01M60.9 476.6h.01M43.3 471.4h.01M55.2 470.4h.01M41.2 476.3h.01M63.7 463.4h.01M49.6 460.7h.01M64.1 459.5h.01M40.9 468.5h.01M56.7 472.7h.01M61 469.3h.01M57 470.7h.01M63.3 462.7h.01M40.9 476h.01M45.6 464.3h.01M50.7 467.7h.01M58.6 470h.01M67.4 460.9h.01M56.7 464.4h.01M60.9 463.8h.01M51.6 471.5h.01M61.6 473.3h.01M39.7 473.2h.01M51 464h.01M46.1 475.1h.01M44.1 474.1h.01M52 467.5h.01M50.1 457.6h.01M59.6 472.5h.01M55.6 467h.01M42.9 457.7h.01M56.9 465.1h.01M60.3 474.1h.01M59.7 465.2h.01M39.9 475.6h.01M38.1 472.7h.01M40.5 471.8h.01M58.4 472h.01M43 470.2h.01M40.8 466.8h.01M44.1 468.9h.01M69.6 464.7h.01M43.8 472.5h.01M60.2 475.8h.01M70.3 457.6h.01M52.4 475.2h.01M52 464.5h.01M63.6 466.1h.01M46.3 475.7h.01M53.9 464h.01M45.8 457.8h.01M62.6 467.2h.01M65.4 469h.01M44.6 462h.01M43.2 469.5h.01M60.7 469h.01M40.9 469.5h.01M42.5 464.7h.01M39.3 467.7h.01M64 472.3h.01M65 469.4h.01M48.1 471.6h.01M44.2 459.8h.01M51 458.6h.01M60.7 465.3h.01M60.2 463.2h.01M48.8 463.3h.01M50.6 462.5h.01M56.4 462.8h.01M45.3 477.5h.01M61.8 473.1h.01M40.5 464.5h.01M50 455.9h.01M49.7 461.7h.01M63.4 460.5h.01M53.1 472.7h.01M63.9 465.6h.01M45.2 465.9h.01M40.9 471.3h.01M57.9 473.6h.01M67.3 476.9h.01M51.9 464.2h.01M57.4 466.7h.01M58.1 476.2h.01M37.4 462.3h.01M55.5 465.8h.01M49.6 474.7h.01M47.1 475h.01M42.2 471.3h.01M40.8 471.9h.01M51.8 477h.01M42.9 460.1h.01M41.4 473.2h.01M52.7 477.6h.01M49.5 468.3h.01M40.2 468.2h.01M68.6 467.9h.01M45.7 472.9h.01M54.6 476.1h.01M53.7 466.1h.01M47 475h.01M49.9 467.6h.01M57.6 477h.01M53.9 463h.01M47.5 464.9h.01M41.6 465.8h.01M62.4 467.3h.01M63.3 459.8h.01M46.6 467h.01M42.5 461.9h.01M48.9 462.1h.01M47.7 460.4h.01M64.4 475.6h.01M46.4 475.9h.01M47.5 465.3h.01M41.9 471.4h.01M47.2 469.1h.01M49.2 468.2h.01M60 459.8h.01M66.3 461.4h.01M68.2 461.2h.01M39.8 474.5h.01M46.2 466.7h.01M61.3 463h.01M40.8 469.6h.01M46.9 463.5h.01M64.5 475.7h.01M64.2 471.5h.01M45.7 468.6h.01M65.2 459.2h.01M58.6 463h.01M62.3 463.9h.01M41 472.9h.01M38.8 470.8h.01M58.5 463.1h.01M65 477.5h.01M46.4 474.4h.01M58.6 472h.01M66.1 459.5h.01M65.7 460h.01M55.8 470.2h.01M40.1 470.5h.01M42.5 462.6h.01M62.3 462.9h.01M58.6 459.1h.01M46.1 473.6h.01M54.8 462.1h.01M64.9 459.6h.01M39.5 462h.01M40.7 461.5h.01M54.2 476.6h.01M57.5 478h.01M50.2 469.8h.01M47.7 472.6h.01M39.6 463.5h.01M56.2 457.6h.01M57.5 477.3h.01M60 459.8h.01M43.2 459.4h.01M52.8 459h.01M53 458.4h.01M45.9 462.2h.01M53 465.1h.01M58.8 466.3h.01M53.4 474.7h.01M47.5 469.5h.01M61.1 468.8h.01M37.7 464.8h.01M56.6 472.6h.01M52.3 463.9h.01M44.3 469.6h.01M54.9 463h.01M60.8 463.9h.01M57.5 472h.01M61.6 472.7h.01M40.3 468.2h.01M64 474.7h.01M41.5 477.8h.01M38.1 459.7h.01M39 467.7h.01M45.2 463.7h.01M49.2 472.2h.01M44.3 466.5h.01M61.1 457.5h.01M51.4 474.5h.01M42.4 457.7h.01M60.5 466.1h.01M46.7 462.4h.01M61.9 468.5h.01M53.1 476.3h.01M59.6 467.3h.01M40.4 477h.01M51.7 467.9h.01M59.1 473h.01M41.6 474.9h.01M49.9 471.9h.01M43.4 473.4h.01M55.5 466.7h.01M58.5 465.4h.01M40.9 471.6h.01M42 462.6h.01M40.9 470h.01M44.6 476.5h.01M51.2 474.6h.01M62.9 471.5h.01M43.3 459.1h.01M57 458.7h.01M53.9 458.8h.01M51 474.6h.01M42.5 473.6h.01M51.7 472.9h.01M49.5 466.7h.01M58.6 471.1h.01M64 457.2h.01M48.3 472.3h.01M54.1 477.9h.01M55.3 457.4h.01M55.9 470.6h.01M57.3 477.1h.01M44.8 475.7h.01M60.1 468.4h.01M54.1 465h.01M49.7 463h.01M60 463.6h.01M56.3 465.3h.01M47.2 466.1h.01M42.4 472.8h.01M55.9 471.4h.01M47.6 469.2h.01M60 475h.01M62.5 468.2h.01M59.1 469.2h.01M40.7 471.5h.01M40.7 471.5h.01M58.2 477.9h.01M41.9 475h.01M62.6 465h.01M45.3 472.4h.01M52.8 460.7h.01M45.6 460.3h.01M32.6 476h.01M43 477.3h.01M57.3 474.4h.01M48.8 456.9h.01M46.1 475.7h.01M47.3 472.2h.01M45.5 470.7h.01M41.9 471.7h.01M57.6 465.5h.01M58.3 476.5h.01M38.2 476.6h.01M63.5 475.7h.01M45.8 462.2h.01M67.8 474.4h.01M41.2 461.5h.01M53.7 461.9h.01M60.4 468.1h.01M59.7 461.5h.01M46.5 465.3h.01M55.8 465.2h.01M45.3 461.1h.01M57.9 459.9h.01M46.1 475.3h.01M57.2 468.4h.01M66.9 466h.01M63.1 472.3h.01M40.2 464.4h.01M65.7 463.8h.01M39.7 471.3h.01M48 458.5h.01M60.4 474.5h.01M49.1 467.3h.01M40.9 471.8h.01M63.3 473.8h.01M67.1 470h.01M65.9 463.5h.01M58 470.7h.01M64.4 461.7h.01M64 460.8h.01M39.2 471.8h.01M54.3 463.1h.01M50.6 476.4h.01M49.4 461.5h.01M46.7 463.8h.01M48.4 469.1h.01M59.2 461.8h.01M57 472.3h.01M50.2 461.8h.01M33.9 476.7h.01M55.1 470.8h.01M66.8 471.7h.01M67.9 465.2h.01M44.9 477.3h.01M42.1 459.1h.01M38.8 464.8h.01M66.1 477.2h.01M54.9 461.6h.01M55 466.3h.01M48.9 471.6h.01M49.7 470.2h.01M57.6 466.5h.01M51.1 459.1h.01M68.6 461.7h.01M61 469.2h.01M62.5 476.6h.01M57.4 471h.01M42.1 467.6h.01M55.1 468.5h.01M52.7 472.1h.01M42.8 473.8h.01M61.2 466h.01M47.5 475.8h.01M68.4 465.6h.01M60 471.1h.01M45.8 478.1h.01M53.8 457.7h.01M48.5 462.6h.01M68.6 471.4h.01M44.1 465.3h.01M51.7 465.4h.01M36.6 459.7h.01M51.4 455.9h.01M44.8 466.8h.01M56.6 474.7h.01M56.9 468h.01M40.2 459.8h.01M59.1 470.4h.01M47.8 464.8h.01M40.9 466h.01M53.4 463.1h.01M41.5 463.2h.01M66.3 456.8h.01M61.3 476.2h.01M58.9 459.1h.01M52.7 460.1h.01M50.4 468.1h.01M45.5 462.9h.01M64.9 473.4h.01M53.1 476.5h.01M41.8 465.1h.01M70 475.2h.01M53.5 472.2h.01M48.2 475.8h.01M57.5 473.7h.01M66.3 478.1h.01M50.2 476.8h.01M55.2 476.6h.01M47.2 467.6h.01M48.3 465.4h.01M54.1 462h.01M58.3 467.8h.01M68.4 463.5h.01M59.1 474.3h.01M47.9 458.4h.01M58.8 458.9h.01M49.1 475.7h.01M55.8 461.6h.01M43.7 473.4h.01M44.8 464.5h.01M53.3 459.1h.01M55.8 462.2h.01M59.7 469.4h.01M40.4 459.3h.01M46.1 464.5h.01M54 464.8h.01M51.4 475.8h.01M54 475h.01M39.3 469.9h.01M61.7 460.1h.01M56.7 473.2h.01M42.6 466.4h.01M47 473.2h.01M43.9 467.9h.01M42.5 465h.01M55.4 468.7h.01M39.1 463.9h.01M66.1 458.5h.01M50.1 461.9h.01M50 468h.01M48.4 475.2h.01M43.4 475.8h.01M54 475.5h.01M47.3 465h.01M43.5 471.4h.01M36.9 474.1h.01M67 471.2h.01M44.4 468.5h.01M59.7 466.6h.01M51.7 467.7h.01M56.1 476.9h.01M53.9 461.9h.01M44 470h.01M48.5 469h.01M54.1 468.4h.01M46 472h.01M63 466.2h.01M64.8 469.7h.01M54.8 477.5h.01M59.3 466.2h.01M45 463.9h.01M54.2 466.5h.01M42.1 466.2h.01M62.1 460.4h.01M50.4 476.6h.01M57.6 471.8h.01M47.8 478h.01M48.9 477.8h.01M42.8 467.2h.01M58.6 462.7h.01M57.7 474.4h.01M39.4 477.5h.01M48.2 469.4h.01M66.2 470.6h.01M51.8 469.7h.01M60 469.1h.01M44.5 459.6h.01M52.7 475.1h.01M43.5 464.2h.01M57.2 476.6h.01M45.6 465.4h.01M48.1 468.1h.01M41.9 471.2h.01M44.1 468.9h.01M58.7 461h.01M55.7 474.9h.01M51.3 473h.01M55.4 463.9h.01M45.5 467.6h.01M46.5 460.8h.01M61.9 461.3h.01M62.8 476.2h.01M40.3 470.4h.01M58.7 470h.01M42.5 477.2h.01M57 465.1h.01M46.7 475.6h.01M51.6 457.7h.01M46.6 467.9h.01M56.6 467.8h.01M56.6 460.6h.01M57 466.9h.01M46.4 468.1h.01M44.3 475h.01M48.4 457.1h.01M59.7 463.3h.01M54.5 469.1h.01M44.5 463.4h.01M51.6 470.4h.01M49.1 476.2h.01M36.9 475.2h.01M47.7 472.4h.01M71.9 477.4h.01M62.2 476.9h.01M52.3 475.6h.01M50.5 462.9h.01M66.2 464.3h.01M53.5 461.3h.01M40 460.3h.01M60.6 470.5h.01M52.1 459.2h.01M53.3 467.8h.01M49.6 465.2h.01M56.2 473.3h.01M58.1 477.1h.01M45.7 459.9h.01M61.5 464.7h.01M64 477.8h.01M45.1 461.9h.01M41.8 478.1h.01M61.9 472.4h.01M64.6 464h.01M60.7 464.1h.01M55.2 468.8h.01M47.6 471.2h.01M36.9 463.6h.01M44.3 472.7h.01M37.4 465.9h.01M46.4 462.9h.01M62.4 466.8h.01M59.7 475.2h.01M38.6 465.2h.01M46.6 465.3h.01M64.4 474.4h.01M68.6 473.3h.01M40.7 472.6h.01M60.6 464.1h.01M55.7 455.6h.01M39.6 473.4h.01M58.6 461.7h.01M47.1 466.6h.01M53.3 472.7h.01M47.6 472.2h.01M45.1 471.4h.01M58 462.3h.01M58.7 473.3h.01M64.5 472.7h.01M53.3 464.8h.01M50 460.6h.01M53.6 462.4h.01M43.5 462.5h.01M61.3 477.7h.01M45.1 460h.01M56.8 471.9h.01M44 477.5h.01M42 466.3h.01M59 473.9h.01M54.2 462.4h.01M67.9 468.6h.01M38.4 458.9h.01M51.9 461.1h.01M50.1 459.8h.01M53.8 470h.01M63.9 457.8h.01M50.8 464.8h.01M47.6 461.4h.01M61.4 461.2h.01M56.8 475.3h.01M58.8 458h.01M55.4 477.1h.01M54 474.3h.01M53.7 464.8h.01M56.2 471.8h.01M41.4 478.1h.01M49.9 463.3h.01M57.4 467.1h.01M60.4 469.7h.01M55.5 473.2h.01M35.3 463.1h.01M51.1 460.7h.01M42 468.2h.01M44.7 470.1h.01M41.6 470.3h.01M57.9 461.4h.01M40.4 468.4h.01M46 467.3h.01M57.9 472h.01M65.5 460.1h.01M40.5 472.3h.01M45.8 469.7h.01M59.9 476.9h.01M51.4 468.6h.01M49.8 473.1h.01M49.1 460.6h.01M55.7 464.4h.01M54.7 460h.01M39.1 461.2h.01M54.5 464.6h.01M69.3 470.5h.01M39.7 474.8h.01M66.9 473.6h.01M45 470.4h.01M40.8 462.7h.01M44.2 477.1h.01M55.4 464.7h.01M65.1 463.3h.01M64.3 462.1h.01M43 477.6h.01M54.7 461.4h.01M57.6 461.2h.01M48.5 460.8h.01M54.6 468.5h.01M45.7 467.9h.01M52.6 461.7h.01M40.7 473.3h.01M41.8 468.8h.01M55.4 470.1h.01M58.7 460.9h.01M51.2 469.1h.01M50.1 460.1h.01M58.3 471.4h.01M46 462.7h.01M58 459.8h.01M38.7 470.7h.01M58.8 457.5h.01M57.5 466.6h.01M64.2 468.4h.01M45.5 471.2h.01M55.9 469h.01M40.5 462.1h.01M61.8 470.9h.01M52.6 460.7h.01M46.9 476.8h.01M57.7 475.6h.01M62.6 478h.01M55.4 459.4h.01M49.5 459.2h.01M61.1 469.6h.01M59.4 473.1h.01M62.4 461.4h.01M57.2 459.8h.01M77.3 466.5h.01M30.1 469.9h.01M71.3 466.4h.01M66.1 474.9h.01M61.7 473h.01M45.9 470.2h.01M44.1 472.8h.01M66.4 463.8h.01M43.7 468.3h.01M33.2 474.3h.01M41 463.4h.01M52.9 471.9h.01M47.9 476h.01M47 471.9h.01M50.6 476.3h.01M75.4 465h.01M54.9 467.1h.01M55.7 462.8h.01M36.7 473.5h.01M43.6 468.5h.01M63.6 467.5h.01M56.3 474.5h.01M57.5 463.4h.01M46.9 469.1h.01M31.1 472.9h.01M46.4 457.8h.01M45 469.9h.01M72.5 471.4h.01M36.1 459.7h.01M41.6 475.2h.01M74.1 469.3h.01M46.4 464.7h.01M42.7 467.4h.01M61 465.2h.01M41.3 471.3h.01M49.1 474h.01M45.9 468.5h.01M58.1 464.4h.01M45.7 464.8h.01M53.1 467.4h.01M35.7 467.5h.01M44.1 464.1h.01M50.6 474.8h.01M40.7 456.4h.01M57.5 469.7h.01M49 475.5h.01M32.6 463.9h.01M72.8 477.1h.01M44.4 465.2h.01M61 471h.01M57.7 469.4h.01M50.7 462.1h.01M55.9 469.1h.01M56 468.1h.01M38.5 473h.01M60.4 469.8h.01M36.2 465.9h.01M65.2 471.4h.01M41.6 477.5h.01M54.5 471.1h.01M47.9 466.7h.01M58.2 468.3h.01M45.3 468h.01M45 464.8h.01M46.1 459.3h.01M53.5 463.6h.01M65.5 475.9h.01M36.2 473.8h.01M41.8 470h.01M47.4 469.8h.01M43.3 476.6h.01M52.8 474.6h.01M50.3 466.5h.01M43.8 467.9h.01M46.7 471.1h.01M48 464.3h.01M38.3 469.7h.01M35.5 469.7h.01M35.8 469h.01M30.7 469.1h.01M47.9 469.5h.01M61.1 468.6h.01M65.5 468.2h.01M41.3 468.1h.01M54.6 466.4h.01M36.1 468.9h.01M48.6 465.3h.01M45.5 467.3h.01M71.1 466.5h.01M43.4 468.8h.01M41.5 468h.01M36.4 463.1h.01M35.5 473.8h.01M59.6 460.2h.01M68.4 466.3h.01M40.2 468.4h.01M33.1 466.8h.01M40.2 471.6h.01M29.7 469.3h.01M46.1 474.8h.01M67.8 458.8h.01M36.5 469.2h.01M48.6 471.3h.01M53.7 468.4h.01M29.9 458.4h.01M46.3 472.1h.01M31.8 471h.01M54.9 460.7h.01M51.4 470.3h.01M47.1 458.3h.01M36.7 470.5h.01M39.5 467.5h.01M50.5 466.7h.01M40.3 466.9h.01M57 464h.01M52.6 464.2h.01M55.6 470.5h.01M49.3 457.8h.01M58.3 470.3h.01M42.7 467.9h.01M43.8 474.1h.01M57.6 470h.01M34.2 478h.01M27.3 476.8h.01M57.3 465.9h.01M62.3 471.1h.01M57.1 463.6h.01M77.3 470h.01M50.4 469.3h.01M28.2 465.9h.01M42.4 473.1h.01M32.7 464.9h.01M45.7 469.2h.01M51.4 472.1h.01M68.8 465.8h.01M72.4 463.7h.01M51.6 466.9h.01M67.2 463.4h.01M59.5 474.6h.01M42.3 469.6h.01M41.5 471.6h.01M27.6 465.7h.01M45.5 462.3h.01M45.7 469.8h.01M38.3 463.7h.01M48.5 468.3h.01M41.1 462.7h.01M74 461.5h.01M30 471.2h.01M62.5 466.2h.01M41.1 465.3h.01M44.5 472.4h.01M53.9 455.9h.01M32.6 472.6h.01M41.9 467h.01M57.4 460.2h.01M30.2 460.1h.01M30 463.6h.01M39.2 468.6h.01M41.7 459.1h.01M28.6 471.1h.01M43.7 466.5h.01M40.1 468h.01M52.9 464.1h.01M65.6 465.4h.01M27.5 470.1h.01M38.7 470.1h.01M38.1 462h.01M69.3 462.3h.01M43.7 464.3h.01M36 475.6h.01M28.2 464.3h.01M52.6 473.6h.01M31.5 466.8h.01M37.7 476.1h.01M57.7 471.6h.01M49.9 469h.01M50.7 467h.01M54.4 471.7h.01M38.1 473.8h.01M33.3 464.6h.01M42.5 469.3h.01M35.9 460.3h.01M60.2 461.3h.01M55.4 464.4h.01M48.6 474.6h.01M52.5 469.1h.01M43.6 465.4h.01M45.6 476.7h.01M60.4 462.3h.01M28.7 464.3h.01M52.2 465.4h.01M63.7 465.9h.01M37.5 467.4h.01M47.6 465.1h.01M49.3 470.2h.01M45.6 466.5h.01M59.3 466.8h.01M53.2 463.7h.01M49.9 463.8h.01M45 470.1h.01M34.4 466.1h.01M57.2 467.3h.01M46.1 464.5h.01M40.2 458.4h.01M45.3 464.8h.01M72.4 453.2h.01M39.8 467.6h.01M61 472.1h.01M35.1 461.7h.01M35.7 459.9h.01M69.7 462h.01M34.6 468.1h.01M50 466.2h.01M69.4 466.3h.01M29.1 457.5h.01M46.4 467.5h.01M51.4 465.4h.01M41.1 467.2h.01M57.5 469.8h.01M52.8 470.7h.01M46.3 467.1h.01M55 461.2h.01M45.4 470.2h.01M28.9 469.2h.01M54.2 467.4h.01M71.4 472.6h.01M59.7 460.8h.01M52.2 467h.01M31.1 471h.01M39.8 463.8h.01M58.3 467.4h.01M52.1 466.3h.01M64.6 469h.01M44.3 462.7h.01M27.5 476.4h.01M29.8 459.8h.01M53.4 467.3h.01M58.4 463.6h.01M47.3 472h.01M53.9 459.3h.01M52.2 461.1h.01M59.4 468.9h.01M38.1 460.4h.01M37.2 462.9h.01M38.4 464h.01M50 468.5h.01M50.8 469.7h.01M30.5 457.4h.01M50.7 467.4h.01M56.1 475.3h.01M39.4 473.6h.01M52.7 469.6h.01M35.5 460h.01M51.7 471.7h.01M34.3 463.2h.01M50.8 467.9h.01M30.1 469.3h.01M28.1 466.2h.01M59.9 471.3h.01M49.1 467.6h.01M39.5 465.6h.01M61.7 463.8h.01M33.1 465.2h.01M58.9 463.2h.01M53.7 461h.01M43.1 472.1h.01M51 474.3h.01M64 467.4h.01M56.9 460.6h.01M49.9 464h.01M53.8 466.6h.01M65.4 461.5h.01M39.1 466.4h.01M58 468.5h.01M31.6 460.3h.01M68.9 458.5h.01M57.1 470.8h.01M41.5 468.6h.01M56.4 470.8h.01M43.6 464.3h.01M52.9 464.6h.01M35.6 476.3h.01M58.3 470.9h.01M53.3 472.6h.01M51 471.8h.01M55 463.4h.01M43.9 468h.01M52.3 455.7h.01M55.9 473.5h.01M40.1 456h.01M42 469.3h.01M72.5 464.8h.01M42 472.2h.01M51.1 470.3h.01M36.9 467.4h.01M31.7 466.7h.01M64.8 468.1h.01M63.4 468.9h.01M34.9 468.2h.01M33.4 471.3h.01M38.4 473.5h.01M78.6 462.9h.01M56.3 474.4h.01M50.3 461.1h.01M45.8 470.9h.01M50.1 462.7h.01M47.9 477h.01M62.9 468.8h.01M53.3 471.5h.01M64.9 477.7h.01M45.3 473.2h.01M70.1 475.7h.01M52.5 460.6h.01M44.2 464.1h.01M36.5 468.4h.01M40.2 465.5h.01M55.3 464.9h.01M60.9 464.9h.01M41.4 462h.01M41.3 475.1h.01M74.2 473.4h.01M50.9 467.7h.01M59.8 473.8h.01M48.8 462.1h.01M35.9 472.1h.01M43.6 465.4h.01M29.2 474.1h.01M41.6 464.5h.01M38.7 469.8h.01M41.2 472.8h.01M37 474.1h.01M28.8 464.2h.01M50.2 466.7h.01M54.2 466.1h.01M51 476.3h.01M66.6 466.3h.01M64.1 463.1h.01M47.1 458.4h.01M54.4 454.9h.01M54.6 458.6h.01M61.7 470.2h.01M43.3 461.1h.01M73.7 464.6h.01M50.8 463.4h.01M66.3 461.1h.01M39.1 462.7h.01M45.9 469.5h.01M34.6 465h.01M49.6 470.8h.01M44 467.7h.01M42 459.4h.01M60.1 465.1h.01M43.9 471.8h.01M53.5 475.7h.01M35.9 460.1h.01M30.7 469.7h.01M76.5 473.2h.01M58 476.9h.01M55.5 466h.01M37.7 472.3h.01M55.6 462.1h.01M50.6 473h.01M50.2 471.2h.01M64.7 459.3h.01M70 463.9h.01M59.1 465.8h.01M39.4 468.9h.01M40.4 467.9h.01M51.9 469h.01M34.2 469.6h.01M42.4 461.6h.01M38 460.5h.01M56.6 469h.01M64.1 461.3h.01M52.5 464.5h.01M62.6 466.5h.01M47.2 475.9h.01M51.5 468h.01M55.1 474.9h.01M43.8 471.4h.01M57.5 462.4h.01M42.3 476.2h.01M35.3 465.1h.01M54.7 473.5h.01M60.7 469.2h.01M69.5 464.6h.01M27.7 458.4h.01M57.2 469.9h.01M69.5 466.6h.01M58.9 476.7h.01M45.6 464.5h.01M29.3 467.4h.01M59 464.5h.01M27.9 463.7h.01M62.1 474h.01M34.8 473.8h.01M48.1 461.2h.01M28.7 464.4h.01M50.3 465.4h.01M68.3 462.8h.01M52.6 472h.01M49.5 467.4h.01M47.4 465.1h.01M40.1 468.3h.01M61.6 469.2h.01M29.1 466h.01M37.5 466.4h.01M47.7 470.2h.01M30.5 470.5h.01M27.9 463.7h.01M46.9 470.5h.01M27.3 458h.01M70.7 466.1h.01M60.9 472.8h.01M68.7 477.7h.01M68.1 470.9h.01M62.4 469.6h.01M38.5 476.1h.01M58.8 475.4h.01M58.4 468.5h.01M53.5 467h.01M41.3 456.4h.01M37.7 471.6h.01M57.3 463.4h.01M47.7 469.1h.01M60.5 460.3h.01M30.6 463.3h.01M36.5 472.4h.01M83 466.2h.01M99 472.9h.01M84.9 468h.01M91.4 463.7h.01M81.7 471.1h.01M77.7 468.1h.01M76.9 467.3h.01M79 472.1h.01M83.5 462.7h.01M94.6 471h.01M79.4 469.3h.01M71.7 468.8h.01M79.3 468.7h.01M66.5 465.7h.01M81.6 465.6h.01M60.6 469.5h.01M62.9 469h.01M81.6 473.1h.01M82.7 465.4h.01M73.1 472.8h.01M77.9 476.7h.01M81.4 462.4h.01M82.1 474.8h.01M70.9 470.5h.01M77.8 468.2h.01M65.1 468.7h.01M70.2 473.1h.01M73.2 461.3h.01M78 473h.01M83.7 470.5h.01M76.8 473.1h.01M75.8 459.2h.01M79 457.2h.01M76.7 471h.01M75.2 462.5h.01M86.3 470.5h.01M79.9 467.6h.01M84.1 463h.01M67.7 461.1h.01M71.8 472.9h.01M75 468.5h.01M72.9 462.7h.01M78.1 470.8h.01M77 462.9h.01M82.1 470.7h.01M89.6 463.1h.01M74.3 468.5h.01M79.4 472.1h.01M82 464.4h.01M87.9 470.4h.01M70.5 463.6h.01M79.4 472.3h.01M76.9 465h.01M82.6 468.6h.01M87.6 463.9h.01M73.3 472.9h.01M75.9 473.2h.01M81.2 466.4h.01M82.3 467.1h.01M65.7 466.8h.01M98.8 464.2h.01M75.8 462.5h.01M75.3 472.6h.01M78.8 461.3h.01M82.4 475.2h.01M78.3 464.8h.01M86.3 465.1h.01M78.8 465.9h.01M77.9 464.1h.01M75 468.1h.01M80.8 466.6h.01M89.2 462h.01M79.5 468.6h.01M86.2 466.4h.01M78.5 474.2h.01M89.1 473.8h.01M76.7 461.9h.01M62.9 468.9h.01M73.6 470.1h.01M76.8 466h.01M77.6 465.7h.01M82.2 469h.01M75.7 468.3h.01M70.6 462.7h.01M81.9 468.3h.01M76.2 467.9h.01M88.5 470.9h.01M79.8 466.8h.01M81.8 461.8h.01M77.1 467.6h.01M117.4 422.5h.01M83.6 453.4h.01M102.4 460.6h.01M114.5 464h.01M93.5 462.9h.01M90.6 471.5h.01M99.2 470.7h.01M94.3 473h.01"/>
<path class="fr" d="M26.5 375.4H158.1V478.9"/>
<path class="ax" d="M26.5 374.9V478.9H158.6"/>
<path class="mt" d="M26.5 477.3v6.8M28.1 478.9h-5.8M36.4 478.9v2.5M26.5 471.1h-2.5M42.2 478.9v2.5M26.5 466.6h-2.5M46.3 478.9v2.5M26.5 463.3h-2.5M49.5 478.9v2.5M26.5 460.8h-2.5M52.1 478.9v2.5M26.5 458.8h-2.5M54.3 478.9v2.5M26.5 457h-2.5M56.2 478.9v2.5M26.5 455.5h-2.5M57.9 478.9v2.5M26.5 454.2h-2.5M59.4 477.3v6.8M28.1 453h-5.8M69.3 478.9v2.5M26.5 445.2h-2.5M75.1 478.9v2.5M26.5 440.7h-2.5M79.2 478.9v2.5M26.5 437.4h-2.5M82.4 478.9v2.5M26.5 434.9h-2.5M85 478.9v2.5M26.5 432.9h-2.5M87.2 478.9v2.5M26.5 431.2h-2.5M89.1 478.9v2.5M26.5 429.7h-2.5M90.8 478.9v2.5M26.5 428.3h-2.5M92.3 477.3v6.8M28.1 427.1h-5.8M102.2 478.9v2.5M26.5 419.4h-2.5M108 478.9v2.5M26.5 414.8h-2.5M112.1 478.9v2.5M26.5 411.6h-2.5M115.3 478.9v2.5M26.5 409.1h-2.5M117.9 478.9v2.5M26.5 407h-2.5M120.1 478.9v2.5M26.5 405.3h-2.5M122 478.9v2.5M26.5 403.8h-2.5M123.7 478.9v2.5M26.5 402.5h-2.5M125.2 477.3v6.8M28.1 401.3h-5.8M135.1 478.9v2.5M26.5 393.5h-2.5M140.9 478.9v2.5M26.5 388.9h-2.5M145 478.9v2.5M26.5 385.7h-2.5M148.2 478.9v2.5M26.5 383.2h-2.5M150.8 478.9v2.5M26.5 381.1h-2.5M153 478.9v2.5M26.5 379.4h-2.5M154.9 478.9v2.5M26.5 377.9h-2.5M156.6 478.9v2.5M26.5 376.6h-2.5M158.1 477.3v6.8M28.1 375.4h-5.8"/>
<text class="tk" transform="translate(26.8 489.8) scale(1.02 1)" x="-5.5 0" y="0">10<tspan class="ex" x="5.4" dy="-3">0</tspan></text>
<text class="tk" transform="translate(22.4 479) rotate(-90) scale(1.1 1.1)" x="-5.2 0" y="0">10<tspan class="ex" x="5.1" dy="-3">0</tspan></text>
<text class="tk" transform="translate(59.7 489.8) scale(1.02 1)" x="-5.5 0" y="0">10<tspan class="ex" x="5.4" dy="-3">1</tspan></text>
<text class="tk" transform="translate(22.4 453.1) rotate(-90) scale(1.1 1.1)" x="-5.2 0" y="0">10<tspan class="ex" x="5.1" dy="-3">1</tspan></text>
<text class="tk" transform="translate(92.6 489.8) scale(1.02 1)" x="-5.5 0" y="0">10<tspan class="ex" x="5.4" dy="-3">2</tspan></text>
<text class="tk" transform="translate(22.4 427.2) rotate(-90) scale(1.1 1.1)" x="-5.2 0" y="0">10<tspan class="ex" x="5.1" dy="-3">2</tspan></text>
<text class="tk" transform="translate(125.5 489.8) scale(1.02 1)" x="-5.5 0" y="0">10<tspan class="ex" x="5.4" dy="-3">3</tspan></text>
<text class="tk" transform="translate(22.4 401.4) rotate(-90) scale(1.1 1.1)" x="-5.2 0" y="0">10<tspan class="ex" x="5.1" dy="-3">3</tspan></text>
<text class="tk" transform="translate(158.4 489.8) scale(1.02 1)" x="-5.5 0" y="0">10<tspan class="ex" x="5.4" dy="-3">4</tspan></text>
<text class="tk" transform="translate(22.4 375.5) rotate(-90) scale(1.1 1.1)" x="-5.2 0" y="0">10<tspan class="ex" x="5.1" dy="-3">4</tspan></text>
<text class="lb" text-anchor="middle" transform="translate(76.5 502.3) scale(0.92 1)" x="3.5 11.3 19.1 27" y="0">CD74</text>
<text class="lb" text-anchor="middle" transform="translate(10.7 443.3) rotate(-90) scale(0.92 1)" x="3.5 11.3 19.1 27 34.8" y="0">CD11b</text>
</g>
<g id="plot8">
<path class="dots" d="M209 467.8h.01M217.5 462.8h.01M203 471.8h.01M205.6 464.6h.01M211.3 471.1h.01M220.7 464.7h.01M208.6 472h.01M218.2 463.8h.01M213.2 474.5h.01M212.9 473.6h.01M209.2 461.1h.01M220.8 461.9h.01M221.3 475.3h.01M213.5 468.5h.01M201.5 462.8h.01M210.4 476h.01M216 466.1h.01M205.5 465h.01M204.6 476.6h.01M209.6 464.6h.01M217.8 470.1h.01M217.6 478.6h.01M213.1 465.3h.01M202.4 464h.01M217.1 470.8h.01M207.6 478.1h.01M206.2 461.5h.01M214.6 463h.01M214.3 478.6h.01M219.4 471.7h.01M219.6 463.4h.01M218.4 477.2h.01M218.4 474.2h.01M204.8 478.7h.01M206.5 461.9h.01M205.6 474.5h.01M219.5 462.9h.01M210 470.1h.01M204.9 466.8h.01M219 474.7h.01M212.6 462.6h.01M201.3 478.3h.01M205.1 474.1h.01M209.8 460h.01M217.2 462.6h.01M215.2 469.8h.01M216.3 471h.01M215 478.1h.01M202.2 474.5h.01M209.8 464.2h.01M208.6 476.7h.01M214.1 469.3h.01M213 477.7h.01M214.3 466.7h.01M203.6 476.5h.01M220.5 478.5h.01M207.4 461h.01M204.6 477.5h.01M203.4 463.1h.01M203 462.2h.01M215.8 469.2h.01M201.4 474.8h.01M211.2 462.4h.01M204.5 462.6h.01M208.8 467h.01M205.1 465h.01M206.5 477.1h.01M209.4 468.4h.01M214.4 471.8h.01M214.3 472.4h.01M219.6 468.9h.01M218.2 460.7h.01M201.3 471h.01M212.9 465.5h.01M210.6 466.5h.01M212.9 464.2h.01M207.4 472.2h.01M203.1 469h.01M217.6 478.5h.01M210.3 473.8h.01M202.4 469.9h.01M220 460.4h.01M204.4 476.8h.01M214 463.3h.01M208.8 471.5h.01M214.1 469.1h.01M205.1 460.7h.01M212.8 462.9h.01M221 476h.01M215.7 476.6h.01M201.3 465.7h.01M213.4 464.6h.01M214.5 461.4h.01M221.9 476.4h.01M208 467.2h.01M201.3 469.5h.01M212.7 478.2h.01M210.6 464.9h.01M218.6 468.1h.01M206 466.7h.01M216.3 470.4h.01M212.5 476.5h.01M204.3 473.8h.01M217.9 468.5h.01M207.2 470.7h.01M205.5 472.7h.01M213.6 469.5h.01M208.6 467.1h.01M212.6 477h.01M210.7 474.4h.01M202.8 459.5h.01M215.8 464.8h.01M213.2 461.1h.01M209.7 467.2h.01M204.9 478.4h.01M222.6 467.4h.01M218.8 463.9h.01M203.9 467.3h.01M218.1 461.6h.01M213.4 459.6h.01M213.3 470.9h.01M205 465.4h.01M216.3 462.6h.01M205.7 474.3h.01M216.9 471.6h.01M216.2 459.1h.01M213.4 464.9h.01M211.9 470.9h.01M218 471h.01M201.4 465.7h.01M217.8 477.4h.01M213.5 472.2h.01M208.4 467.9h.01M216.8 478.4h.01M210 463.7h.01M218.9 473.1h.01M216.9 475.8h.01M201.3 472.6h.01M208.3 467.9h.01M221.3 471.2h.01M206.8 470h.01M207.2 462.6h.01M222.4 474.6h.01M202.3 475.8h.01M204 473.8h.01M212.5 474.1h.01M215.3 471.4h.01M217.8 459.4h.01M209.2 477h.01M214.4 473.6h.01M215.1 462.5h.01M207.8 466.6h.01M205.4 474.2h.01M209.3 466.6h.01M210.5 477.9h.01M204.1 477.9h.01M215.3 473.1h.01M206 466.3h.01M211.3 478.7h.01M210.3 466.8h.01M215.3 466.4h.01M212 465.5h.01M218.1 465.1h.01M203 459.1h.01M218.4 458.6h.01M211.2 474.5h.01M218 474.7h.01M204 463.7h.01M217.4 469.6h.01M219.7 477h.01M213.3 467.2h.01M202.6 471.9h.01M216 473.3h.01M215.7 472.9h.01M209.4 466.5h.01M214.8 462.8h.01M220.2 465.7h.01M204.4 471.4h.01M203.6 464.4h.01M209.7 460.5h.01M205.7 477.5h.01M202.7 473.2h.01M213.5 476.3h.01M203.1 462.6h.01M209.9 472.9h.01M217.9 469.1h.01M204.2 473.9h.01M216.2 472.8h.01M213.9 471.4h.01M202.7 476.1h.01M207.8 475.3h.01M201.7 459.8h.01M210.7 463.8h.01M207.5 475.2h.01M206.8 463.5h.01M213.1 476.5h.01M211.8 467.4h.01M217.8 474.5h.01M206.4 463h.01M205.4 464.5h.01M208.9 462.4h.01M204.9 466.6h.01M206.6 469.1h.01M202.7 466.8h.01M219.7 471.8h.01M218.2 472.4h.01M213.4 465h.01M216.8 461.5h.01M221.2 462.6h.01M206.1 478.6h.01M209.6 466.9h.01M217.9 476.3h.01M218.1 475.2h.01M205.4 462.9h.01M208.5 462.7h.01M205.1 474.1h.01M209.4 467.8h.01M215.1 467.5h.01M213.7 461.9h.01M205.1 459.1h.01M214.5 471.2h.01M211.1 470.8h.01M214.9 463.1h.01M215.1 476.2h.01M208.6 472h.01M203.4 474.9h.01M207 465.8h.01M215.7 477.9h.01M210.1 460.1h.01M202.1 473.2h.01M218.2 460.2h.01M219.9 477.3h.01M210.7 476.7h.01M207.7 463h.01M212.5 466h.01M221.4 468.3h.01M215.8 463.3h.01M210.8 475h.01M201.7 464.2h.01M204.6 473.9h.01M218.3 463.5h.01M201.5 468.7h.01M217.8 478h.01M218 467.6h.01M208.6 466.3h.01M206.5 472h.01M212.4 461.9h.01M204.6 477.9h.01M219.6 463.8h.01M201.6 472.4h.01M203.7 459.9h.01M216.1 466.7h.01M211.3 466.6h.01M210.1 471.6h.01M203 470.9h.01M204.7 477.7h.01M213 470.6h.01M220 464.5h.01M214 474.5h.01M213.5 458.4h.01M218.4 468.1h.01M215.9 473.9h.01M210.9 476.4h.01M209.4 462.5h.01M216.5 477.8h.01M221.8 466.5h.01M204.1 466.4h.01M207.1 467.4h.01M205.4 471.3h.01M212.2 477.6h.01M203.4 461.8h.01M206.4 477.3h.01M221 476h.01M216.9 478.6h.01M203.6 475.8h.01M204.3 477.1h.01M220.5 474.5h.01M213.4 467.4h.01M202.7 458h.01M212.2 456.5h.01M205.6 464.6h.01M210.8 464h.01M207.4 476.5h.01M210.6 468.3h.01M213.2 465.2h.01M218.4 467.2h.01M208.1 473h.01M201.7 477.8h.01M202.4 462.7h.01M217.3 462.8h.01M202.4 464.4h.01M209.6 463.8h.01M212.5 458.8h.01M202.8 468.9h.01M207.1 463.3h.01M218.7 461.5h.01M217.1 468.2h.01M204.9 459.2h.01M220.7 468h.01M203.3 464.9h.01M217.8 463.2h.01M209.4 478.3h.01M204.4 476.6h.01M214.5 474.1h.01M208.7 462.4h.01M220 464.9h.01M215.3 462.8h.01M202.5 473.8h.01M207.4 477.6h.01M213.5 472.1h.01M219.1 465.4h.01M214.6 460.1h.01M202.5 472.6h.01M201.8 477.3h.01M216.7 460.8h.01M202.6 476.7h.01M209.9 475.7h.01M215.7 475.1h.01M214.3 463h.01M205 478.7h.01M220.6 466.3h.01M203.8 477.9h.01M210.3 461.1h.01M207.3 472.6h.01M201.4 471.9h.01M203.6 466.7h.01M204 462.5h.01M211.8 478.6h.01M206.3 475.9h.01M214 468.4h.01M219.3 462.2h.01M218.9 468.8h.01M215.5 474.8h.01M210.2 465.7h.01M203.7 476.6h.01M209.6 477.9h.01M210.9 466.5h.01M214.2 476.2h.01M220.4 477.7h.01M205.7 476.9h.01M205.5 468.1h.01M206.4 457.8h.01M203.9 478.4h.01M211.8 473.3h.01M217.4 467.4h.01M218.9 476.5h.01M201.5 469.3h.01M211.1 472.8h.01M206.8 475.8h.01M209 471h.01M209.8 462.8h.01M204.6 466.7h.01M212 472.1h.01M214.6 468.6h.01M204.3 478.6h.01M202.6 465.5h.01M213.5 464.9h.01M217.3 473.4h.01M202.3 472.7h.01M216.3 474.7h.01M202.2 473.8h.01M209.3 466.6h.01M215.8 461.9h.01M202.1 465.6h.01M211.9 469.5h.01M205.1 477h.01M217.9 467.2h.01M216.4 467.5h.01M205 473.6h.01M205.6 477.7h.01M207.2 459h.01M215.2 473.4h.01M214.9 477.8h.01M203.9 475h.01M221 465.2h.01M220.5 467.7h.01M203.5 478h.01M207.6 476h.01M209.1 474.4h.01M215.2 468h.01M215.2 464.3h.01M214.4 463.3h.01M220.2 466.7h.01M213.3 478.2h.01M218.6 470.6h.01M212 478.1h.01M212.8 466h.01M212.2 465.3h.01M217.9 463h.01M209.3 463.7h.01M204.9 477.5h.01M210.4 478.4h.01M214.2 474.7h.01M217.9 469.6h.01M215.7 477.1h.01M203.6 473.7h.01M209.8 472.2h.01M212.1 463.8h.01M213.6 469.8h.01M209 465.1h.01M211.4 470.6h.01M210.3 471.5h.01M201.5 464.6h.01M217.5 467.3h.01M201.5 478h.01M214.7 465.2h.01M215.2 460.4h.01M202.9 470.9h.01M208.4 472h.01M203.1 466h.01M208.4 472.7h.01M213.4 477.7h.01M208.8 463.5h.01M208.6 466.4h.01M203.2 477.7h.01M213.2 472h.01M204.5 463.2h.01M207.1 478.2h.01M220.8 478.3h.01M213.1 472.3h.01M218.2 464h.01M201.6 460.9h.01M223.1 464.7h.01M203.6 469.2h.01M213.1 462.3h.01M205.6 460.2h.01M202.7 475.5h.01M209 463h.01M205.4 468.2h.01M213.3 477h.01M219 463.7h.01M222.8 466.7h.01M214.1 475.3h.01M205.5 460.6h.01M215.3 471.4h.01M208.9 460.9h.01M216.7 473.2h.01M217.2 460.1h.01M211.8 478.1h.01M209.9 459.3h.01M210 477.9h.01M211 470.1h.01M215.6 472.5h.01M220.5 474.2h.01M209.8 463.4h.01M214.2 473.7h.01M213.4 467.1h.01M202.3 466.1h.01M212.2 475.4h.01M211.4 464.2h.01M222.9 478.4h.01M208.3 465.1h.01M217.5 475h.01M211.2 463.4h.01M205.3 458.6h.01M220 477h.01M218 472.5h.01M204.4 461.1h.01M204.4 468.7h.01M215.7 469h.01M207 473.1h.01M205.4 478.1h.01M218.2 466.4h.01M203.8 472.1h.01M202.6 476.7h.01M214.5 463.9h.01M202.7 467h.01M219.1 468.6h.01M219.9 469.4h.01M217.6 476.5h.01M201.9 459.5h.01M208 477.1h.01M202.1 466.4h.01M216.5 478h.01M216.1 474.9h.01M204.9 472h.01M206.9 464.2h.01M211 474.9h.01M221.8 466.7h.01M201.5 471.5h.01M213.6 469.2h.01M215.6 464.9h.01M216.2 470.6h.01M206.4 467.7h.01M203.2 469.3h.01M203.3 469.6h.01M207.8 472.4h.01M216.3 470.7h.01M215.4 478h.01M203.6 463.6h.01M203.3 465.1h.01M219.3 459.1h.01M208.4 463h.01M203.5 477.8h.01M211.8 478.5h.01M216.7 475.8h.01M202.5 462.3h.01M208.8 463.2h.01M218.8 464.1h.01M206.2 471.9h.01M202.1 461.1h.01M205.5 478.7h.01M206.5 471.2h.01M202 466.6h.01M216 478.6h.01M218.3 473.3h.01M202.1 474h.01M217.1 470.3h.01M211.4 472.7h.01M206.7 468.3h.01M203.3 471.5h.01M215.5 468.8h.01M208 474.3h.01M204 467.7h.01M216.3 468.1h.01M204.6 476.4h.01M219.3 474.6h.01M204.4 478.3h.01M210.1 463.1h.01M205.6 470.1h.01M213.5 473.6h.01M216.1 465.5h.01M203.1 475.2h.01M207.1 469h.01M206.9 469.2h.01M210.1 474.1h.01M211.4 465.3h.01M204.5 473.8h.01M214.1 477.8h.01M211.3 466.4h.01M217.1 474.9h.01M211.1 477.3h.01M205.6 475.4h.01M209.2 474.2h.01M205.5 460.7h.01M202.6 460.7h.01M217.7 466.2h.01M215.5 462.6h.01M204.8 475.1h.01M220.5 478.2h.01M214.8 468.2h.01M211.8 467h.01M212.5 476.2h.01M202 472.2h.01M205.1 471.3h.01M208.9 462.8h.01M207.1 466h.01M215.3 473.2h.01M206 467.9h.01M201.9 455.6h.01M203.6 468.8h.01M220 472.3h.01M206.8 477.5h.01M202.5 472.4h.01M205.5 467.5h.01M206.1 469.6h.01M209.3 478.4h.01M213.2 478.2h.01M221.4 468h.01M203.8 461.5h.01M214 469.1h.01M203.3 462.9h.01M202.9 460.5h.01M208.8 466.5h.01M216.4 476.4h.01M218.1 478.3h.01M201.3 467.6h.01M203.1 473.8h.01M204.7 468h.01M218.4 475.4h.01M201.3 463h.01M203.1 477.9h.01M213.3 478.5h.01M202.2 477.7h.01M201.9 473.2h.01M223.3 460.1h.01M212 462.8h.01M210.3 475.3h.01M206.8 466.5h.01M218.6 474.9h.01M208 469.9h.01M212.9 462.4h.01M217.4 464.9h.01M210.9 476h.01M209.3 472.9h.01M215.7 463.6h.01M211.1 466.2h.01M205.5 474.2h.01M201.8 468.6h.01M205.7 468h.01M204.3 473.7h.01M202.7 472.1h.01M211.6 461.5h.01M209.1 457.5h.01M213.3 467.9h.01M202.1 473.3h.01M202.8 477.1h.01M205.2 478.6h.01M210.1 465.2h.01M202.4 464.7h.01M218.8 469.3h.01M212.6 461.5h.01M220.9 460.3h.01M206.8 473.6h.01M205.6 464.1h.01M211.2 470.2h.01M204.8 462.5h.01M217.3 472.2h.01M202.3 476.5h.01M210.4 478.3h.01M207 459.3h.01M204.5 468.7h.01M203.5 477.8h.01M216.3 477.1h.01M218.5 475.5h.01M202.2 465.5h.01M212.6 462.9h.01M209.1 478.3h.01M213.6 476.1h.01M201.6 463.7h.01M218.4 477.7h.01M208.8 468.9h.01M216.1 460.7h.01M202.2 466.7h.01M207 459.3h.01M205.4 465.2h.01M211.4 463.5h.01M211.1 466.6h.01M208.4 467.6h.01M220.2 475.7h.01M201.5 459.2h.01M201.6 463.3h.01M219.7 474.8h.01M203.2 466h.01M205.6 462.3h.01M209.3 472.4h.01M209 466.3h.01M216.8 461.3h.01M216.2 476.6h.01M223.5 472.1h.01M208.3 462.9h.01M216.6 470.6h.01M209.5 470.4h.01M214.9 468.2h.01M219.5 465.8h.01M219.2 462h.01M203.9 459.5h.01M214.4 465.6h.01M207.5 469.4h.01M215.9 466.4h.01M213.5 464.3h.01M215 469.6h.01M217.2 475.8h.01M214.8 473.4h.01M204.3 466.7h.01M203.2 471.9h.01M203.4 461.1h.01M201.4 474.4h.01M207.3 473.6h.01M204.6 466.1h.01M202.3 477.6h.01M205.6 471.3h.01M218.6 459.8h.01M217.1 475.8h.01M220 478h.01M210 474.5h.01M205.2 463.3h.01M203.4 466.8h.01M209.2 464h.01M207.1 475.8h.01M217.7 467.8h.01M208.5 465.7h.01M208.5 476.3h.01M209.7 465.1h.01M203 473.7h.01M215.9 471.8h.01M212.2 467h.01M213.5 467.2h.01M216.2 472.1h.01M214 465h.01M206.1 475.6h.01M209.7 477.7h.01M207.1 464.7h.01M215.3 464h.01M201.6 475.3h.01M217.7 461.5h.01M221.3 469h.01M207.9 461.6h.01M212.7 478.6h.01M212.7 470.2h.01M202.7 465.7h.01M201.4 470.3h.01M208.2 465.2h.01M214.9 472.4h.01M207.8 465.5h.01M205.3 463.2h.01M210 477.8h.01M203.8 473.2h.01M210.3 468.9h.01M212.9 474.4h.01M207.4 462.5h.01M204.3 466.5h.01M204 461h.01M219.2 460.9h.01M212.4 468h.01M204.8 471.9h.01M217.3 478.4h.01M219.5 474.2h.01M217.5 462.6h.01M204.8 469.5h.01M217.2 476.5h.01M219 467.9h.01M209.7 463.6h.01M201.5 468.3h.01M218.3 476.3h.01M206.6 478h.01M215.7 465.9h.01M218.2 468.7h.01M201.7 473.5h.01M203.9 473h.01M204.5 476.3h.01M215.9 463.3h.01M212.9 477.7h.01M215.8 473.8h.01M205.2 468h.01M212.1 465.3h.01M202.5 463h.01M201.5 461h.01M204.4 459h.01M213.2 466.2h.01M204.5 471h.01M202.3 478.4h.01M213.3 462h.01M204.6 478.3h.01M210.1 469.8h.01M212.8 478.1h.01M214.6 465.9h.01M202.9 459.9h.01M219.9 468h.01M218 464.1h.01M208.5 471.3h.01M220 474.6h.01M219.3 474.3h.01M203 468.4h.01M205.3 467.3h.01M208.2 457.7h.01M212.9 462.4h.01M213.7 473.3h.01M203.9 470.4h.01M202.9 476.1h.01M210.9 474.5h.01M206.1 465.1h.01M207.2 478.4h.01M221.1 470.5h.01M216.3 458.7h.01M208.5 468.1h.01M203 459.8h.01M215.5 462.9h.01M206.8 460.3h.01M210.9 477.9h.01M202.1 475h.01M216.6 470.3h.01M213.1 478.5h.01M218.8 469.5h.01M210.3 457.9h.01M218.6 474.8h.01M203 466.4h.01M215.1 466.4h.01M203.8 461.2h.01M221.5 472.8h.01M204.1 465.8h.01M208.8 476.2h.01M214.7 467.8h.01M210.3 461h.01M204.4 475.8h.01M205.8 476.6h.01M203.4 472h.01M206.1 473.4h.01M203.5 477.7h.01M203 463.7h.01M203 478.6h.01M213.8 477.1h.01M201.5 474.8h.01M214.9 466.9h.01M210 467.8h.01M216.2 473.1h.01M202.2 473.5h.01M221.3 477.4h.01M214 477.9h.01M204.1 478.1h.01M204.7 476.6h.01M210.3 473.8h.01M221.3 468.7h.01M203.7 467.7h.01M202 464h.01M202.5 474.8h.01M204.8 471.1h.01M211.9 473.6h.01M217.4 477.1h.01M221 462.8h.01M208.3 473.2h.01M215.3 461.8h.01M217.4 466.8h.01M201.7 468.8h.01M208.5 469.1h.01M202.8 459h.01M211.5 477.9h.01M212.8 472.4h.01M206.3 463.4h.01M206 461.6h.01M219.3 470.2h.01M204.2 467.3h.01M203.8 474.5h.01M212.4 468.1h.01M202.3 476.4h.01M210.1 475h.01M216.8 459.8h.01M204 475.3h.01M208.6 474.9h.01M209.5 468.5h.01M218 471h.01M218.1 476.8h.01M214 465.4h.01M202.9 476.8h.01M211.9 472.5h.01M205.1 473.9h.01M208.1 471.1h.01M217.3 461.6h.01M207.3 478.4h.01M210.7 471.2h.01M215.3 477.7h.01M209 476.9h.01M202.2 473.8h.01M212.1 465.2h.01M213.8 471.7h.01M203.5 464.1h.01M211.7 476.8h.01M221.3 469.8h.01M219.1 470.3h.01M212 467.5h.01M205.5 466.7h.01M223 472.6h.01M204.9 468.2h.01M206.8 465.1h.01M215.9 476.2h.01M205 467.9h.01M213.7 474.9h.01M217.1 472.7h.01M214 467.4h.01M209.3 478.6h.01M203 464.1h.01M207.2 471.3h.01M208 475.6h.01M220.1 472.4h.01M208 476.7h.01M205.5 470.1h.01M213.8 476.6h.01M201.8 472.8h.01M201.8 461.4h.01M210 473.6h.01M213.8 465.9h.01M215.6 464.7h.01M211 476.9h.01M218.9 466h.01M217.9 459.8h.01M206.9 468.1h.01M214.8 466.4h.01M215.8 463.8h.01M218 468.4h.01M202.8 473.5h.01M210.6 460.3h.01M206.1 474.3h.01M203.4 475.9h.01M216.5 463.6h.01M214.5 470.8h.01M208.1 471.8h.01M213.4 475.5h.01M218.6 468.7h.01M202.6 459.9h.01M201.4 459.7h.01M218.1 465.1h.01M220.9 475.2h.01M208.4 476h.01M203.8 460.9h.01M214.4 464.3h.01M206.4 470.4h.01M204.4 473.9h.01M202.8 464.4h.01M219.3 460.6h.01M217.8 470.8h.01M207.7 472.7h.01M221.1 470.1h.01M217.3 473.5h.01M215.4 469.4h.01M214.8 476.8h.01M208.8 471.3h.01M203.1 475.2h.01M209.4 467.1h.01M210.3 476.4h.01M217.2 477.8h.01M206.2 478.4h.01M218.7 477h.01M213.9 466.7h.01M204.6 465.6h.01M205.4 468.8h.01M206.3 470h.01M203.3 460.3h.01M216.6 472.8h.01M214.4 467.1h.01M209.6 474.1h.01M202.5 461.8h.01M206.1 478.6h.01M206.3 476.1h.01M202.1 469.3h.01M219 463.4h.01M218.9 471.7h.01M212.9 469.1h.01M201.8 474.4h.01M215.4 464.3h.01M210.7 473.4h.01M215.1 467.3h.01M202.1 477.3h.01M209.1 465.8h.01M218.1 476.4h.01M204.3 466.4h.01M211.3 464.2h.01M207.4 471.2h.01M203.8 470h.01M209.7 465.9h.01M202.1 468.6h.01M208.1 466.9h.01M201.4 478.4h.01M204.5 478.3h.01M204.2 476.6h.01M208.8 478.6h.01M205.5 467.5h.01M212.6 469.5h.01M215.2 475.7h.01M216.6 461.6h.01M205.4 467.4h.01M218.1 459.4h.01M220.2 459.6h.01M220.4 465.8h.01M214.8 475.1h.01M210.1 463.6h.01M218.3 459.5h.01M204.3 467h.01M201.7 478.4h.01M211.7 464.9h.01M201.8 472.2h.01M212.4 474.7h.01M213.9 468.6h.01M206.4 477.9h.01M220.7 473.6h.01M205.8 476.8h.01M214 470.1h.01M201.6 468.6h.01M210.9 474.6h.01M202.8 476.4h.01M213.9 470.3h.01M203.8 476.1h.01M219 469.4h.01M220.9 466h.01M209.1 473.8h.01M204.1 469h.01M206.5 462.7h.01M212.2 473.6h.01M206.5 473.3h.01M218.4 474.3h.01M210.3 477.4h.01M216.9 470.5h.01M210.2 471.3h.01M201.8 470.1h.01M212.3 463.8h.01M209.1 461h.01M214.4 477.7h.01M217.2 463.5h.01M209.5 467.4h.01M202.9 475.8h.01M218.3 475.9h.01M209.6 458.6h.01M207.2 476.6h.01M220.5 475h.01M205.7 463.4h.01M205.7 472.6h.01M204.1 471.7h.01M220.5 467.2h.01M215.6 468.6h.01M213.9 471.4h.01M218.7 470.5h.01M216 468.6h.01M205.6 472.1h.01M204.6 467.3h.01M203.8 461.2h.01M206.4 463.9h.01M207.1 468.7h.01M211.7 466.8h.01M209.3 475.6h.01M202.7 466.3h.01M206.5 477.1h.01M206.1 463.2h.01M208.5 466.4h.01M212.3 469.5h.01M212.8 473.2h.01M207.6 473.6h.01M207.8 466.7h.01M202.2 465.6h.01M219.7 472.8h.01M216.2 463.6h.01M202.3 474.5h.01M205 460.9h.01M217.9 462.2h.01M213.5 463.8h.01M206.2 467.3h.01M218.5 469.5h.01M206.1 469.6h.01M220.3 478.7h.01M218.5 466.9h.01M208.5 477.6h.01M223.8 471.4h.01M201.4 465h.01M214.9 465h.01M214.1 475.6h.01M212.7 475.1h.01M217.4 463.3h.01M210 472.8h.01M201.9 466.1h.01M213.8 474h.01M220.2 472.1h.01M218.3 463.9h.01M217.4 465.1h.01M206.1 461.5h.01M208.5 476.5h.01M204.9 478.2h.01M213.9 473.2h.01M204.1 464.5h.01M215.1 471.1h.01M202.5 476.9h.01M216.3 478.7h.01M211.9 473.3h.01M214.2 467.5h.01M218.7 475.8h.01M218.7 477.9h.01M202.6 460.3h.01M211.7 469h.01M202.1 472.1h.01M217.7 461.9h.01M220 474.6h.01M215.5 467.7h.01M213.7 465.9h.01M212.8 471.5h.01M222.9 477.7h.01M205.8 468.4h.01M207.4 477.2h.01M216.9 471.2h.01M214.6 461.6h.01M205.3 478.2h.01M217.1 459.9h.01M217 472.7h.01M208 474.5h.01M206.9 473.9h.01M215.3 470.1h.01M217.8 461.7h.01M211 475.5h.01M219.2 467.8h.01M206.2 457h.01M212.1 464.8h.01M210.7 474.7h.01M203.1 470.1h.01M205.8 477.8h.01M209.1 463h.01M218.4 465.1h.01M219.5 467.3h.01M205.6 474.8h.01M202.2 462.3h.01M201.5 462.1h.01M202.2 477.9h.01M209.5 460.6h.01M203.1 460h.01M212.2 468.3h.01M206.1 477.9h.01M220.1 468.5h.01M203.5 468.7h.01M217.2 475.5h.01M216.5 461.6h.01M202.6 475.5h.01M212.3 463h.01M201.4 470.3h.01M204.8 470.7h.01M205.9 464.4h.01M204.3 476.1h.01M218 466.1h.01M221.3 464.6h.01M209.9 477.3h.01M206.6 467.7h.01M204.6 465.1h.01M207 467.4h.01M212.8 468.3h.01M215.2 464.1h.01M203.6 460h.01M223.8 461.3h.01M234 469.9h.01M224 471.5h.01M225.3 464.7h.01M232.7 466h.01M225.5 463.7h.01M233.9 468h.01M228.2 464.4h.01M229.2 461.2h.01M222.3 474.4h.01M228.9 475h.01M230.4 466.5h.01M225.4 468.1h.01M231.4 465.2h.01M220.1 470h.01M222.6 472.9h.01M224.9 468.1h.01M226.8 474h.01M227.1 463.8h.01M220.6 474.9h.01M232.1 469.2h.01M225.7 459.6h.01M225.9 467.9h.01M227.6 477.4h.01M222.1 475.1h.01M222.6 466.9h.01M231.2 465.2h.01M220.2 467.8h.01M223.3 475h.01M226.2 472.8h.01M226.1 470.9h.01M231.6 463.1h.01M223.7 470.5h.01M225.6 470.7h.01M227.1 474.4h.01M223.5 464.3h.01M219.5 478.1h.01M228.8 459.1h.01M228.4 463.9h.01M225.2 458.9h.01M228.7 458.1h.01M228 471.9h.01M227 466.7h.01M223 465.6h.01M228.3 471.8h.01M230.1 461.3h.01M220.2 474.7h.01M228.6 465h.01M225 476h.01M227.4 465.6h.01M226.4 475.3h.01M220.9 463.9h.01M230.5 471.5h.01M224.9 463.2h.01M227.5 466.5h.01M229.1 459.9h.01M221.4 467.9h.01M227.1 466.6h.01M232 461.4h.01M230.9 456.3h.01M222.4 464.5h.01M222.9 473.3h.01M222.9 468.3h.01M229.3 470h.01M226.3 475.9h.01M222 464.9h.01M223.7 466.8h.01M227.5 468h.01M230.7 458.5h.01M223.3 472.7h.01M231 472.1h.01M225.6 476.5h.01M222.1 462.1h.01M226.5 474.4h.01M226.6 465h.01M224.2 477.4h.01M222.4 473.8h.01M229.1 476.6h.01M230.2 469.8h.01M224 478h.01M227.8 476.5h.01M222.4 467.5h.01M229.7 456.7h.01M225.4 475h.01M233.2 462.3h.01M223.6 477.5h.01M232.4 459.1h.01M222.4 469.7h.01M224.6 471.6h.01M227.4 478.5h.01M221.1 471.9h.01M227.6 477.2h.01M227.6 477.1h.01M223.1 477.8h.01M229.9 467.9h.01M224.9 469.3h.01M228.9 470.7h.01M228.4 464.2h.01M227.3 466.2h.01M225.4 460.9h.01M219.2 467.1h.01M231.5 478.7h.01M231.8 473.6h.01M224 478.7h.01M222.5 468h.01M228.1 469.6h.01M224 472h.01M224.4 478.3h.01M222 465h.01M224.2 474.3h.01M229 467.1h.01M222.1 477.6h.01M228 475.2h.01M230.1 477.8h.01M227.8 470.6h.01M227.7 476.9h.01M221.2 477.6h.01M225.3 467.8h.01M227.8 467.6h.01M226.1 461.6h.01M230.7 475.2h.01M231.6 465.2h.01M230.2 460.6h.01M222.7 462.9h.01M229.3 468.1h.01M225.6 477.2h.01M230.5 474.7h.01M228.3 469.4h.01M228.6 472.5h.01M231.9 459.7h.01M223.5 470h.01M222.1 470.7h.01M222 461h.01M222.7 462.4h.01M223.5 471.2h.01M233.6 471.4h.01M227.7 477.5h.01M221.3 460.3h.01M221.9 477h.01M223.1 477.6h.01M224 467.4h.01M225.3 465.2h.01M230.1 477h.01M229.9 469.4h.01M223.1 473.8h.01M217.7 475.4h.01M227.2 465.1h.01M231.5 471.2h.01M228.7 476.9h.01M228.2 469.7h.01M229.7 477.2h.01M224.5 462h.01M220 467.6h.01M225.7 461.3h.01M233.2 470.1h.01M227.7 472.7h.01M224.6 460.8h.01M225.3 465.6h.01M227.9 464.8h.01M222.7 465.7h.01M227 467.7h.01M225.3 468.3h.01M221.3 471.9h.01M226.8 459.6h.01M228.2 462.3h.01M222.6 469h.01M225.9 477.2h.01M223.6 478.2h.01M221 473.7h.01M226.2 457.5h.01M228.5 471.8h.01M221.8 470.2h.01M228 464.9h.01M225.4 471.5h.01M222.5 465.1h.01M225.2 460.7h.01M226.6 469h.01M230.8 463.9h.01M227 475.3h.01M222.2 466.6h.01M220.8 470.5h.01M228.1 476.2h.01M220.2 469.7h.01M225.2 461.8h.01M223.3 466h.01M221.9 472h.01M223.5 475.7h.01M230.4 475.8h.01M231.1 475.5h.01M226.1 460.2h.01M223 478.4h.01M226 460.3h.01M222.4 472.3h.01M224 473.2h.01M224.7 476.4h.01M224.2 470.8h.01M224.4 473.9h.01M226.4 462.9h.01M223.8 467.6h.01M223.5 463.1h.01M234.2 471.5h.01M230.6 469.2h.01M226.7 466.5h.01M229.4 475.2h.01M232.9 464.9h.01M224.3 476h.01M225.2 461.7h.01M217.5 470.9h.01M228.5 463.5h.01M228.5 477.4h.01M227.8 475.4h.01M226.6 467.3h.01M223.5 459.8h.01M223 469.5h.01M232 474.7h.01M225.4 474.3h.01M223.5 461.4h.01M227.2 467.3h.01M222.7 458.5h.01M223.7 471.3h.01M224 464.8h.01M219.1 459.4h.01M230.9 457.1h.01M228.2 476.7h.01M227.1 475.7h.01M227.6 459.6h.01M224.7 461.6h.01M227.3 466.4h.01M228.5 468.8h.01M228.5 472.8h.01M223.9 456.2h.01M225.5 474.4h.01M221.1 472.6h.01M225.3 477.6h.01M228.8 460.3h.01M223.7 469h.01M228.4 471.6h.01M226.2 477.2h.01M221.5 462.2h.01M228.7 460.2h.01M224.4 471.5h.01M220.2 470.9h.01M225.8 477.3h.01M220.8 471.5h.01M229.9 476.7h.01M227.3 473.3h.01M217.9 461.7h.01M229.8 473.4h.01M227 470.7h.01M222.1 467.2h.01M225.4 477.6h.01M228.8 474.2h.01M228.5 474.5h.01M226.1 476.6h.01M233.2 478.6h.01M228.3 471.2h.01M224.4 466.6h.01M228.7 470.5h.01M221.4 462.9h.01M224.3 462.2h.01M225.4 467.1h.01M231.4 471.4h.01M220.4 477.4h.01M223.6 464.3h.01M235.2 463h.01M226.8 461.8h.01M234.6 468.6h.01M222.3 470.9h.01M225.5 464.3h.01M226 474.1h.01M228.4 463.1h.01M222.7 477.7h.01M226.3 466.4h.01M226 457.8h.01M229.6 460.9h.01M236.5 455.1h.01M233.8 471.7h.01M229.7 467.7h.01M235.4 464.9h.01M219.8 468.4h.01M233 467.7h.01M237.5 477.5h.01M222 462.3h.01M232.5 467.4h.01M222.7 466.2h.01M225.7 476.2h.01M228.5 461.1h.01M228.4 468.7h.01M227 470.8h.01M219.2 463.1h.01M224.9 466.8h.01M232.3 464h.01M227.9 475.6h.01M229.7 463.2h.01M216.3 474.8h.01M223.4 465.6h.01M237.5 459.6h.01M237.1 468h.01M228.1 460.6h.01M219.8 461.1h.01M226.8 471.6h.01M235.1 471h.01M228.1 478.2h.01M232.8 466.9h.01M220 465.7h.01M229.9 463.2h.01M231.4 473.3h.01M224.9 464h.01M224 466.4h.01M235.9 468.3h.01M227 456.3h.01M226.4 466.2h.01M226.1 468.3h.01M228.3 470.1h.01M220.6 462.4h.01M225.4 469.7h.01M237.5 452.2h.01M226.1 464.5h.01M233.5 468.8h.01M230 472.4h.01M227.8 476.8h.01M232.6 471.3h.01M232.8 466.6h.01M232.8 471.3h.01M225 477.1h.01M228.4 469.1h.01M232.7 472.7h.01M225.4 474.1h.01M240.7 460.7h.01M218.6 465h.01M221.9 467.7h.01M221.8 460.6h.01M231.2 465.7h.01M225.4 475.3h.01M233.5 468.6h.01M226 466.7h.01M224.5 465.1h.01M224.5 469.7h.01M229.3 466.7h.01M236.8 461.1h.01M226.3 469.7h.01M230 459h.01M224.3 461.6h.01M226.1 474.3h.01M231.5 467.1h.01M232.7 471.2h.01M223.3 466.2h.01M224.4 459h.01M236.7 467.2h.01M219.9 456.7h.01M231 476h.01M223.2 458.6h.01M232 470.2h.01M238.3 466h.01M223.8 459.7h.01M231.3 472.4h.01M221.7 465.7h.01M230.9 461.6h.01M230.9 452.6h.01M228.7 465.3h.01M232.3 478.2h.01M229.6 475.5h.01M230.8 458.3h.01M227.9 474.3h.01M212.3 468.6h.01M219.5 469.9h.01M229.5 474h.01M230.8 459.9h.01M228.4 463.1h.01M236.2 478h.01M226.6 465h.01M224.9 465.4h.01M225.5 459.4h.01M235.2 466.6h.01M232.5 472.1h.01M241.1 478.1h.01M233.5 471.8h.01M237 467.2h.01M224 465.7h.01M236.3 472.8h.01M226.3 467.1h.01M230.2 465.6h.01M229.1 455.8h.01M229.9 462.7h.01M228.1 466.1h.01M227.2 465.9h.01M223.6 466.6h.01M228.5 474h.01M236 454.1h.01M233.1 469.5h.01M274.6 467.2h.01M264.3 458.8h.01M277.3 472.9h.01M274.9 474.7h.01M264.1 457.1h.01M275.7 465.1h.01M277.9 471.5h.01M273.3 470.1h.01M278.9 458.5h.01M271.1 468.7h.01M276 463.8h.01M275.2 477.1h.01M278.7 473.3h.01M268.3 478.3h.01M290.4 463.8h.01M266.2 472.8h.01M284.5 464.2h.01M276.2 473h.01M275.8 467.8h.01M282.4 462h.01M270.7 464.2h.01M266.6 467.4h.01M282.3 473.8h.01M288.1 459.7h.01M291.9 472.7h.01M279.6 471.3h.01M259.8 469.8h.01M278.8 470.8h.01M281.1 466.1h.01M277.9 468.2h.01M280.3 477.5h.01M281.9 459.5h.01M279.9 471h.01M274.7 475h.01M267.2 477.1h.01M271.6 458.3h.01M279.9 471.1h.01M283.4 457.1h.01M284.7 465.3h.01M278.7 469.5h.01M269.6 469.1h.01M279.6 466.8h.01M268.9 472.7h.01M279.6 474.5h.01M269.5 470.2h.01M280.6 463.7h.01M280.1 466.3h.01M272.1 471.2h.01M278.8 473h.01M279.4 469.6h.01M273.7 460.6h.01M276.9 465.4h.01M275.5 470.1h.01M265.1 459.8h.01M272.9 466.9h.01M291.1 465.7h.01M279 474.2h.01M264.5 475.7h.01M278.4 462.1h.01M279.5 477.9h.01M277.2 478.4h.01M280.4 465.6h.01M282.8 467.5h.01M288.7 464.9h.01M284.9 463.8h.01M277.3 458.9h.01M265.1 451.1h.01M265.2 469.5h.01M280.7 478.2h.01M277.8 460.9h.01M275.7 472.4h.01M284.7 464.3h.01M268.7 469.4h.01M268.2 467.1h.01M271 471.7h.01M276.9 472h.01M269 472.6h.01M276 473.8h.01M273.8 477.2h.01M274.8 461.7h.01M289 448h.01M250.4 459h.01M252 464h.01M259 467.7h.01M249.2 474.6h.01"/>
<path class="fr" d="M200.5 376.3H331.7V479.5"/>
<path class="ax" d="M200.5 375.8V479.5H332.2"/>
<path class="mt" d="M200.5 477.9v6.8M202.1 479.5h-5.8M210.4 479.5v2.5M200.5 471.7h-2.5M216.1 479.5v2.5M200.5 467.2h-2.5M220.2 479.5v2.5M200.5 464h-2.5M223.4 479.5v2.5M200.5 461.5h-2.5M226 479.5v2.5M200.5 459.4h-2.5M228.2 479.5v2.5M200.5 457.7h-2.5M230.1 479.5v2.5M200.5 456.2h-2.5M231.8 479.5v2.5M200.5 454.9h-2.5M233.3 477.9v6.8M202.1 453.7h-5.8M243.2 479.5v2.5M200.5 445.9h-2.5M248.9 479.5v2.5M200.5 441.4h-2.5M253 479.5v2.5M200.5 438.2h-2.5M256.2 479.5v2.5M200.5 435.7h-2.5M258.8 479.5v2.5M200.5 433.6h-2.5M261 479.5v2.5M200.5 431.9h-2.5M262.9 479.5v2.5M200.5 430.4h-2.5M264.6 479.5v2.5M200.5 429.1h-2.5M266.1 477.9v6.8M202.1 427.9h-5.8M276 479.5v2.5M200.5 420.1h-2.5M281.7 479.5v2.5M200.5 415.6h-2.5M285.8 479.5v2.5M200.5 412.4h-2.5M289 479.5v2.5M200.5 409.9h-2.5M291.6 479.5v2.5M200.5 407.8h-2.5M293.8 479.5v2.5M200.5 406.1h-2.5M295.7 479.5v2.5M200.5 404.6h-2.5M297.4 479.5v2.5M200.5 403.3h-2.5M298.9 477.9v6.8M202.1 402.1h-5.8M308.8 479.5v2.5M200.5 394.3h-2.5M314.5 479.5v2.5M200.5 389.8h-2.5M318.6 479.5v2.5M200.5 386.6h-2.5M321.8 479.5v2.5M200.5 384.1h-2.5M324.4 479.5v2.5M200.5 382h-2.5M326.6 479.5v2.5M200.5 380.3h-2.5M328.5 479.5v2.5M200.5 378.8h-2.5M330.2 479.5v2.5M200.5 377.5h-2.5M331.7 477.9v6.8M202.1 376.3h-5.8"/>
<text class="tk" transform="translate(200.8 490.4) scale(1.02 1)" x="-5.5 0" y="0">10<tspan class="ex" x="5.4" dy="-3">0</tspan></text>
<text class="tk" transform="translate(196.4 479.6) rotate(-90) scale(1.1 1.1)" x="-5.2 0" y="0">10<tspan class="ex" x="5.1" dy="-3">0</tspan></text>
<text class="tk" transform="translate(233.6 490.4) scale(1.02 1)" x="-5.5 0" y="0">10<tspan class="ex" x="5.4" dy="-3">1</tspan></text>
<text class="tk" transform="translate(196.4 453.8) rotate(-90) scale(1.1 1.1)" x="-5.2 0" y="0">10<tspan class="ex" x="5.1" dy="-3">1</tspan></text>
<text class="tk" transform="translate(266.4 490.4) scale(1.02 1)" x="-5.5 0" y="0">10<tspan class="ex" x="5.4" dy="-3">2</tspan></text>
<text class="tk" transform="translate(196.4 428) rotate(-90) scale(1.1 1.1)" x="-5.2 0" y="0">10<tspan class="ex" x="5.1" dy="-3">2</tspan></text>
<text class="tk" transform="translate(299.2 490.4) scale(1.02 1)" x="-5.5 0" y="0">10<tspan class="ex" x="5.4" dy="-3">3</tspan></text>
<text class="tk" transform="translate(196.4 402.2) rotate(-90) scale(1.1 1.1)" x="-5.2 0" y="0">10<tspan class="ex" x="5.1" dy="-3">3</tspan></text>
<text class="tk" transform="translate(332 490.4) scale(1.02 1)" x="-5.5 0" y="0">10<tspan class="ex" x="5.4" dy="-3">4</tspan></text>
<text class="tk" transform="translate(196.4 376.4) rotate(-90) scale(1.1 1.1)" x="-5.2 0" y="0">10<tspan class="ex" x="5.1" dy="-3">4</tspan></text>
<text class="lb" text-anchor="middle" transform="translate(250.2 502) scale(0.92 1)" x="3.5 11.3 19.1" y="0">CD3</text>
<text class="lb" text-anchor="middle" transform="translate(186.3 443.3) rotate(-90) scale(0.92 1)" x="3.5 11.3 19.1 27" y="0">CD20</text>
</g>
<g id="plot9">
<path class="dots" d="M385.1 418.3h.01M396.5 422.8h.01M385.6 418.9h.01M381.1 414.9h.01M386.5 422.6h.01M387.5 410.1h.01M391.3 417.8h.01M391.5 423.4h.01M391.8 411.9h.01M389.3 415.6h.01M391.8 413h.01M391.7 416.5h.01M393.9 420h.01M384.8 424.6h.01M383.9 417.3h.01M384.8 426.2h.01M382.2 411.8h.01M394.9 415.4h.01M390.7 408.5h.01M384 415.2h.01M390.3 404.7h.01M388.2 418.2h.01M383.9 413.1h.01M386 409.3h.01M388.8 425.8h.01M384.2 405.6h.01M394.2 404.3h.01M377.5 414.4h.01M391.4 411.9h.01M381.8 414.1h.01M394.6 414.1h.01M382.2 414.1h.01M378.9 426.1h.01M379.6 414.5h.01M390.8 402.7h.01M393.3 405.7h.01M393.9 416.7h.01M383.7 419.3h.01M386.9 423.3h.01M397.5 417.9h.01M387.1 417.7h.01M379.2 410h.01M377.5 419.4h.01M385.1 417.8h.01M394.7 410.1h.01M390.1 411h.01M377.2 412.3h.01M396.4 413.2h.01M378.6 406.1h.01M381.9 412.4h.01M385.5 417.7h.01M386.7 421h.01M387 407.4h.01M387.7 418.1h.01M384.3 409h.01M393.5 413.9h.01M398.4 424.6h.01M380 413.3h.01M384.9 417.5h.01M377.8 417.1h.01M384.5 422.1h.01M384.8 417.4h.01M378.1 410.5h.01M398.9 417.1h.01M381.2 412.5h.01M385.6 411.7h.01M391.5 411.3h.01M397.4 415.7h.01M385.8 421.1h.01M397.9 403h.01M399.8 414.2h.01M381.3 421.8h.01M392.6 418.9h.01M385.1 409.2h.01M393.7 417.1h.01M392.3 414h.01M384 416.1h.01M378.2 416.8h.01M387.7 418.8h.01M387.6 425.7h.01M384.3 409.2h.01M390.9 412.3h.01M378 415.6h.01M391.7 405.7h.01M386.6 418.7h.01M395 413.1h.01M377.4 423.2h.01M380.5 423.5h.01M393.1 413.3h.01M382.8 408.8h.01M389.6 409h.01M377.2 423.4h.01M393.6 420.2h.01M391.9 403.1h.01M395.5 417.4h.01M383.7 421.5h.01M383.7 409.8h.01M402.7 418h.01M382.6 414h.01M398.9 416.5h.01M380.4 405.7h.01M392.2 421.4h.01M385.4 418.9h.01M396.6 416.2h.01M384.3 417.4h.01M383.8 418.7h.01M392.6 422.2h.01M383.2 416.3h.01M396.3 416.3h.01M380.4 418.3h.01M377.1 413.8h.01M388 412.9h.01M389.6 407.7h.01M378.5 419h.01M400.4 416.5h.01M394.9 409.2h.01M395.2 416.9h.01M382.4 421.6h.01M385.9 415.3h.01M392.6 425h.01M391.6 414.8h.01M379.9 403.9h.01M384.3 417.9h.01M391.8 414.6h.01M390.8 420.2h.01M383.5 415h.01M389.7 417.5h.01M389.6 418.1h.01M401.3 418.8h.01M386.5 414.2h.01M390 420.2h.01M390.9 417h.01M380.2 422.8h.01M386.3 423.7h.01M377.6 412.2h.01M389 416.2h.01M389.2 404.1h.01M379.9 417.5h.01M391.8 416.9h.01M386.6 420.3h.01M381 417.6h.01M383 417.3h.01M383.6 414.1h.01M390.2 414.8h.01M378.2 407.7h.01M377.8 413.9h.01M378.3 421.9h.01M389.8 421.3h.01M383.3 411.7h.01M386.5 408.7h.01M393.6 411.4h.01M390.6 416.6h.01M395.6 417.7h.01M380.8 416.1h.01M380.5 420h.01M396.3 421.7h.01M386.8 426.9h.01M386.2 422.9h.01M381.8 422.7h.01M398.4 421h.01M381 413.2h.01M384.9 408.9h.01M386 413.8h.01M386.9 416.7h.01M392.3 407.9h.01M388.6 406.3h.01M395.2 411.9h.01M386.2 405.6h.01M388.2 411.2h.01M383.3 418.2h.01M396.1 416.5h.01M391.8 406.5h.01M395.7 412h.01M384.7 409.5h.01M391 406.8h.01M386.7 406.9h.01M391.1 423.7h.01M377.3 415.3h.01M378.4 414.9h.01M380.7 422.4h.01M380.5 405.6h.01M393.2 416.8h.01M384.1 411.8h.01M396.6 424.2h.01M380.4 411.2h.01M392.4 405.6h.01M390.9 416.5h.01M379 411.7h.01M377.4 412.8h.01M377.8 414.6h.01M398 414.9h.01M393.5 419.1h.01M388.1 422.7h.01M388.7 418.9h.01M393.6 424.5h.01M381.5 413.3h.01M394.5 424.4h.01M385.2 404.6h.01M387.3 415.6h.01M379.7 421.8h.01M395.7 412.4h.01M389.8 425h.01M385.6 417.9h.01M393 412.2h.01M389.4 412h.01M392.7 419.1h.01M393.1 414.1h.01M384.1 423.3h.01M384.4 422.2h.01M389.6 425.2h.01M387.9 413.6h.01M379.5 416.8h.01M393.6 413.4h.01M385.6 405.8h.01M380.5 409.3h.01M391.4 412.1h.01M398.8 422.2h.01M379.1 417.1h.01M380.5 409.8h.01M388.5 415.9h.01M392.3 416.7h.01M391.3 415.2h.01M388 410.2h.01M377.8 405.7h.01M389 409h.01M390.6 414.7h.01M379.2 415.8h.01M387.7 419.8h.01M384.1 404.4h.01M377.9 412.6h.01M396.4 405.7h.01M394.8 413h.01M379.4 413.7h.01M397.1 406h.01M382.8 403.3h.01M390.2 413.4h.01M391.8 420.9h.01M390.1 410.4h.01M381 407.5h.01M387.1 417.1h.01M377.3 412.8h.01M386.4 412.6h.01M377.9 415.5h.01M380.2 423.5h.01M379.5 426.9h.01M382.8 410.6h.01M382.2 421.6h.01M387.4 416.8h.01M383.9 409.6h.01M391.8 425.3h.01M390.6 427h.01M385.6 422.3h.01M384.2 412.5h.01M381 419.1h.01M398.6 415h.01M392.7 404.8h.01M381.1 426.6h.01M387.9 418.6h.01M379.2 415.5h.01M390.6 414.8h.01M378.5 421.6h.01M390.9 427.3h.01M383.1 413.9h.01M383.6 415h.01M385.1 406.8h.01M390.4 423h.01M392.3 416.5h.01M386.4 407.5h.01M396.3 412.3h.01M383.9 417.8h.01M380.2 416.4h.01M393.1 410.2h.01M388 416h.01M381.3 414.5h.01M392.9 407h.01M381 415.5h.01M389.4 421.5h.01M395.6 405.4h.01M385.8 424.9h.01M390.4 407h.01M380.7 423.4h.01M379.5 414.5h.01M386.8 410.3h.01M392.7 418.4h.01M378.2 415.2h.01M377.8 421.7h.01M388 419.3h.01M392.8 419.5h.01M383.1 427.1h.01M385.4 418.8h.01M396.5 419.8h.01M377 419.3h.01M381.8 414.9h.01M383.4 410.8h.01M389.1 409.2h.01M384 421.2h.01M386.3 424.9h.01M388 405.4h.01M378.3 423.8h.01M398.3 411.7h.01M379.9 422.4h.01M379.7 418h.01M378.8 424.9h.01M379.6 409.2h.01M378.1 420.4h.01M383 423.2h.01M378 416.7h.01M391.8 425.8h.01M390.4 422.4h.01M380 408.7h.01M379.5 410.8h.01M383.9 412.2h.01M383.9 409.2h.01M390.6 423.8h.01M388.7 408.4h.01M391 423.5h.01M389.7 416.7h.01M389.9 409.2h.01M385.6 421.2h.01M379.9 415.4h.01M396.3 414.9h.01M379.5 419.8h.01M399.3 419.7h.01M377.9 418.5h.01M394.8 409.7h.01M395.5 409.6h.01M390.2 414.5h.01M394 410.3h.01M392.5 417.5h.01M380 403.2h.01M387.1 417.6h.01M378.2 422h.01M393.3 421.2h.01M391.1 416.4h.01M378 416.7h.01M393.1 415h.01M396.8 417h.01M385.3 421.6h.01M392.1 406.6h.01M395.5 417.4h.01M380.8 423.4h.01M380.8 423.3h.01M390 414.3h.01M385.1 415.4h.01M398.2 422.5h.01M383.1 411.6h.01M385.6 409.1h.01M388.8 417.1h.01M396 414h.01M390.3 417.4h.01M387.7 411h.01M379.8 421.4h.01M392 427.8h.01M389.5 407.1h.01M377.6 420.2h.01M396.7 423.6h.01M390 411.1h.01M401.4 420.5h.01M378.9 404.5h.01M390.9 408.9h.01M384 420.8h.01M399.1 421.7h.01M384.7 408.9h.01M388.6 413.2h.01M380.8 399.4h.01M383.8 408.5h.01M390.4 410.3h.01M380.9 412.1h.01M387.1 415.4h.01M381 405.4h.01M385.6 408.5h.01M391.4 406.5h.01M391 410h.01M381.8 420.4h.01M394 425.2h.01M394.8 422.1h.01M391.3 421h.01M390.3 410.1h.01M385.5 412.3h.01M384.3 411.7h.01M387.5 412.9h.01M391.6 412.2h.01M384.3 419.1h.01M394 408.6h.01M385.8 418.9h.01M378.7 409.5h.01M390.2 429.2h.01M378.7 409.4h.01M393.5 419.1h.01M377.4 409h.01M397 424.7h.01M389.7 408.7h.01M389.3 419.6h.01M391 413.1h.01M387 418.5h.01M394.6 421.8h.01M379.9 425.1h.01M386.6 418.5h.01M396.3 424.8h.01M395.5 418.9h.01M379.3 411.1h.01M391.4 402h.01M384.7 410.2h.01M397.3 421.8h.01M382.7 414.7h.01M377.6 404.8h.01M386.3 421.3h.01M391.3 416.9h.01M397.8 419.9h.01M379.1 415.4h.01M396.3 413.7h.01M381.6 409.6h.01M390.4 414.1h.01M395.5 406.3h.01M381.6 419.8h.01M376.9 414.5h.01M383.2 410.2h.01M376.9 409.6h.01M386.8 424.6h.01M378.7 412.1h.01M386.4 425.5h.01M386.1 416.4h.01M393.8 420.7h.01M381.7 410.5h.01M397.3 419.5h.01M394.8 417.3h.01M384.8 421h.01M385.3 420h.01M386.6 415.9h.01M381.8 416.5h.01M401 416.3h.01M380 418.8h.01M396.7 420.2h.01M383 422.7h.01M384.4 418.7h.01M394.9 425.8h.01M396 412.5h.01M380.7 407.6h.01M389.5 410.7h.01M393.4 404.2h.01M387.5 407.4h.01M390.9 406.5h.01M380.8 416.6h.01M380 413.5h.01M389.6 409.6h.01M377.8 417.1h.01M387.9 417.7h.01M380.6 414.5h.01M381.2 406.5h.01M390.1 424.6h.01M391.1 419.1h.01M387.4 409.3h.01M394.1 410.1h.01M392.6 408.3h.01M386.1 420.4h.01M383.9 407.2h.01M381.4 418.9h.01M398.2 417.5h.01M385 412.4h.01M377.4 418.1h.01M383.3 412.7h.01M381.2 420.5h.01M400 421.6h.01M383.7 417h.01M379.8 413.7h.01M395 408.3h.01M378 415.7h.01M390.8 409.8h.01M395 407.2h.01M392.9 409.2h.01M388.7 415.3h.01M387.1 413.5h.01M390.6 416.1h.01M384.4 415h.01M377.1 415.5h.01M388.1 413h.01M377.8 418.8h.01M384.6 407.1h.01M393.5 425.3h.01M388.2 424.3h.01M394.6 411.3h.01M378.4 419.6h.01M387.6 414.4h.01M378.2 413.9h.01M379.1 408.8h.01M387.9 425.8h.01M383.4 422.1h.01M394.5 411.6h.01M380.3 418h.01M383.9 419.4h.01M393.1 426.5h.01M378.3 412.6h.01M380.6 417.5h.01M378.4 408.5h.01M394.1 421h.01M378.2 416.3h.01M393.6 411.8h.01M399.7 411.5h.01M380.5 425.9h.01M379.4 421.1h.01M377.6 410.6h.01M377.1 421.7h.01M383.1 414.2h.01M387.9 416.4h.01M394.9 417.1h.01M389.6 422.6h.01M387 412.5h.01M392.5 405.4h.01M382 409.5h.01M379.7 415.5h.01M379.3 416.3h.01M396.7 417.1h.01M378.7 409.9h.01M380.2 423.2h.01M392 421.1h.01M382.7 411.4h.01M393.6 420.6h.01M388.2 415.3h.01M378 412.8h.01M382.6 411.5h.01M387.1 414.6h.01M399.6 410.9h.01M385.2 415.7h.01M391.3 405.6h.01M387.6 424.2h.01M388.7 408.7h.01M394.7 411.3h.01M391.5 428.9h.01M391.6 418.4h.01M384.7 413h.01M376.9 419.4h.01M393.8 415.2h.01M377.9 411.3h.01M391.8 422.1h.01M387.1 410.7h.01M387.4 416h.01M380.8 409h.01M384.5 408.3h.01M389.5 421.6h.01M386.6 415.4h.01M392.1 413.6h.01M392.5 408h.01M396.8 418.9h.01M392.7 419.6h.01M390 408.9h.01M384.8 425.1h.01M379.8 416.1h.01M393.2 415.7h.01M386.2 422.1h.01M393.4 429.5h.01M378.4 417.4h.01M379.5 411.9h.01M396.4 405.3h.01M388.2 421.1h.01M380.1 415.3h.01M388.9 412h.01M382.6 403.7h.01M383.6 410.5h.01M397.6 411.9h.01M381.6 419.7h.01M378.8 408.2h.01M387.3 411.4h.01M391.3 421.5h.01M388.2 414.9h.01M384.7 411.1h.01M399.3 411.4h.01M380 411.5h.01M394.7 411.3h.01M399.9 411.3h.01M384 417.5h.01M384.4 422.6h.01M390.5 418.5h.01M379.5 407.3h.01M393.3 412.5h.01M394.3 409h.01M381.6 408.7h.01M396 415.7h.01M389.2 421.7h.01M386.1 413.1h.01M385.1 402.1h.01M395.6 419.6h.01M395.1 415.5h.01M387.7 410.1h.01M390.1 420.1h.01M383.2 418.7h.01M378 430h.01M381.5 414.6h.01M381.9 402.3h.01M384.2 416.3h.01M390 402.9h.01M378.2 423.5h.01M391.1 406.2h.01M393.1 412.6h.01M386.5 412.3h.01M377.3 409.3h.01M386.5 409.1h.01M395.7 410h.01M382.3 418.3h.01M391 411.9h.01M390.8 417h.01M384.2 420.6h.01M386.4 415.7h.01M382.8 412.9h.01M379.9 418.7h.01M396.7 425.1h.01M390.1 407.2h.01M396.4 418.5h.01M390.8 427h.01M380 421.2h.01M380.5 406.7h.01M384.7 407.6h.01M377.2 413h.01M383.5 407.7h.01M385.2 408.8h.01M390.7 423.2h.01M383.6 424.2h.01M377.9 415.9h.01M394.7 423.3h.01M385.4 414.9h.01M384.3 410h.01M392.8 425h.01M389 407.5h.01M392.2 417.6h.01M385.2 417.6h.01M388.8 402.4h.01M388.6 408.3h.01M379.8 414.1h.01M393.5 412.1h.01M393 421h.01M381.4 416.6h.01M388.7 414.4h.01M389.4 415.7h.01M394.2 410.9h.01M391.6 414.1h.01M378.6 412.6h.01M380.2 409.4h.01M396.3 408.4h.01M394.5 412.3h.01M392 411h.01M382.1 414.9h.01M396.2 426.9h.01M389.4 422.1h.01M382.4 415.3h.01M384 412.2h.01M396.4 404.5h.01M386.6 422.2h.01M386.2 411h.01M393.4 420.4h.01M387.6 407.6h.01M383.6 418.8h.01M386.3 415h.01M381.2 417.3h.01M386.7 417.1h.01M396.7 409.8h.01M383.2 405.6h.01M392.4 421.1h.01M394.1 422.1h.01M384.1 420.3h.01M377.5 420.4h.01M388.9 419.7h.01M393.3 415.1h.01M391.1 403.6h.01M395.3 410.7h.01M389.9 416.3h.01M394 415.7h.01M388.7 413.7h.01M393.1 423.1h.01M390.6 408.4h.01M383.1 416.2h.01M385.6 417.9h.01M385 406.1h.01M393.3 407.3h.01M383.9 414.2h.01M381.9 408.4h.01M382.8 420.3h.01M396.1 420.7h.01M392.4 406.8h.01M383.6 409.5h.01M385.1 425h.01M381.6 414.7h.01M379.6 414.3h.01M396.3 420.9h.01M379.3 418.3h.01M388.3 408.8h.01M384.3 413.5h.01M393.8 417.9h.01M380.5 413h.01M385.7 412.4h.01M378.4 423.4h.01M378.2 417.2h.01M385.2 404.3h.01M377.8 423.4h.01M377.4 406.8h.01M393.8 419h.01M392.8 418.4h.01M394.8 409.9h.01M393.2 414.7h.01M396.1 413.8h.01M384.2 420.6h.01M394.6 410h.01M390 414h.01M382.6 420.2h.01M385.7 426.7h.01M388.1 408h.01M380.6 422.5h.01M383.9 415.8h.01M379.1 419.1h.01M390.7 409.7h.01M386.5 412.9h.01M385.8 423.9h.01M388.8 415.4h.01M381.6 418.1h.01M377.9 429.4h.01M378.6 425.8h.01M398.9 412.1h.01M387 419.3h.01M379.7 420.7h.01M377.7 404.8h.01M395.7 427.3h.01M382.7 416.8h.01M382.1 419.2h.01M377.2 423.3h.01M395.4 418.5h.01M383.2 413.4h.01M383.2 413.7h.01M387.2 421.3h.01M390.2 421.2h.01M394.8 409h.01M394.4 421h.01M381.7 409.4h.01M396.5 424.6h.01M382 429.3h.01M381 420h.01M379.1 426.9h.01M395.4 407.1h.01M382.7 416.7h.01M381.2 409.7h.01M389.7 411.3h.01M395.9 421.3h.01M383.8 425.5h.01M391.6 413.2h.01M393.1 424.6h.01M377.6 420.5h.01M383 428h.01M382.8 417.8h.01M381.7 408.4h.01M397.9 417.2h.01M394.7 409.3h.01M381.2 408h.01M378.9 416.1h.01M390.1 418.8h.01M396.2 421.4h.01M384.6 421.8h.01M390.1 417h.01M378.2 413.1h.01M382.7 410.1h.01M381.9 414.1h.01M383.3 419.9h.01M392.6 419.5h.01M394 413.4h.01M388.9 405.4h.01M390.6 420.4h.01M392.5 412.5h.01M384.7 409h.01M390.4 422.5h.01M389.9 429.9h.01M383.5 421.4h.01M380.1 414.4h.01M380.9 417.8h.01M396 411h.01M382.3 414.6h.01M391.5 411.5h.01M387.4 410.3h.01M385.3 411.5h.01M378.9 406.2h.01M385.2 409.5h.01M394.6 411.9h.01M398.5 413.2h.01M392.1 420.1h.01M387.8 415.2h.01M390.2 415.9h.01M379.6 416.4h.01M384.5 411h.01M382.9 409.9h.01M379.9 412.7h.01M379.7 422.5h.01M390.4 421.9h.01M384.3 418.6h.01M382 417.4h.01M385.8 411.6h.01M389.4 424.6h.01M379.7 412.3h.01M378 421.4h.01M386.3 408h.01M384.6 419.9h.01M386.9 411.5h.01M383.7 420.4h.01M377.7 417.2h.01M395.3 414.8h.01M381.1 407.4h.01M379.1 405h.01M382.5 421.2h.01M380.2 414.6h.01M397 412.3h.01M387.5 414h.01M394.9 417.8h.01M386.8 412.3h.01M398.6 412.1h.01M390.8 424.8h.01M394.7 423.3h.01M387.8 411.7h.01M377.8 421.4h.01M386.1 420.9h.01M380.3 417.7h.01M378.2 420.9h.01M379.4 406.6h.01M392.6 405.2h.01M379.4 407.7h.01M398.5 417.5h.01M377.7 417.8h.01M391.5 417.3h.01M384.7 418.1h.01M377.9 421.1h.01M377 420.8h.01M377.6 420.7h.01M378.5 416.2h.01M379.1 415.7h.01M393.9 406.7h.01M382.6 409.4h.01M385.7 422.6h.01M401.6 419.5h.01M392.2 418.8h.01M384.6 426h.01M380.7 402.9h.01M393.7 414.6h.01M379.1 422.7h.01M388.6 407.6h.01M378.2 411h.01M401.5 421.7h.01M378.2 417.9h.01M386.2 422h.01M393.5 416.2h.01M380.4 409.7h.01M377.5 413.3h.01M381.9 419.2h.01M378.9 418.4h.01M384.3 415.1h.01M389.8 419.1h.01M378.7 410.3h.01M390.4 416h.01M378.9 410.9h.01M381.7 408h.01M383.8 412.6h.01M387.7 414h.01M382.2 418.3h.01M382.7 416h.01M391.2 409.8h.01M384.9 414.4h.01M383.2 405.3h.01M388.1 424.3h.01M387.7 411.2h.01M380.9 408.6h.01M392.2 413.7h.01M391.6 422.7h.01M377.1 411.5h.01M390.1 412.3h.01M381.6 416.9h.01M378.4 411.3h.01M389.6 415.7h.01M395.9 421.2h.01M396.5 411.7h.01M393.9 407.2h.01M381.1 424.2h.01M380.5 419.5h.01M389.7 412.9h.01M388.8 420.7h.01M382 417.4h.01M383.6 407.1h.01M392.5 414.5h.01M394.6 405.7h.01M383.3 409.4h.01M386.8 415.9h.01M383.5 421.8h.01M398.4 416.5h.01M378.4 414.2h.01M388.8 404.6h.01M388.6 417h.01M376.9 423.9h.01M383.6 405.8h.01M388 410.7h.01M387.8 420.2h.01M380.7 409.4h.01M380.4 422.8h.01M386.7 410.3h.01M388.2 410.7h.01M378.1 409.8h.01M392 417.2h.01M380.2 413.8h.01M392.6 404.5h.01M382.2 421.1h.01M383.1 410h.01M377.2 415.2h.01M395.7 424.5h.01M377.3 417.2h.01M379.2 415.9h.01M388.1 410.2h.01M392.3 421h.01M386.5 410.2h.01M387.3 421.3h.01M394.1 420h.01M393.7 420.5h.01M377.9 419.5h.01M376.9 422.4h.01M390.3 423h.01M399 412.1h.01M385.4 411.4h.01M394.2 426.2h.01M398.8 419.7h.01M381.4 427.8h.01M395.1 417.3h.01M381.6 418.1h.01M390.9 416.7h.01M393.4 424.1h.01M388.8 414h.01M394.5 408.5h.01M378.7 406.1h.01M386.7 408.8h.01M390.1 411.8h.01M384.4 423.3h.01M385.5 413.6h.01M382.6 403.4h.01M382.2 406.7h.01M380.1 429.6h.01M388.8 418.4h.01M384.8 409.4h.01M390.2 418.5h.01M399.5 416.1h.01M388.8 422.5h.01M392.5 418h.01M378.9 415h.01M390.3 426h.01M383.2 410.8h.01M394.8 406.9h.01M392.9 416.8h.01M379.8 404.7h.01M383.4 413.2h.01M388.2 418.3h.01M383.4 400.6h.01M382.3 412.8h.01M396.3 423.8h.01M383.3 421.5h.01M378.4 411.9h.01M388.7 403.6h.01M393.1 417.8h.01M395.9 424.1h.01M387.8 414.4h.01M389 423.3h.01M379.2 421.6h.01M392 413.5h.01M381.3 421h.01M385.4 410.3h.01M382.3 417.2h.01M389.5 405.1h.01M400.6 414.4h.01M392.5 416.1h.01M379.6 423h.01M397.4 413.3h.01M396.6 413.4h.01M377.9 434.1h.01M383.2 413.6h.01M396 417.2h.01M383.4 415.5h.01M385.5 401h.01M397.5 412.2h.01M395.3 421h.01M398.7 425h.01M381.3 414.1h.01M402.8 421.8h.01M384.2 405h.01M391 412.1h.01M390.5 418.6h.01M381.9 411.1h.01M377.5 412.1h.01M387.3 408h.01M393.5 425.3h.01M381.2 415.3h.01M391.2 415.9h.01M390.8 420.9h.01M384.9 408.2h.01M382.3 421.5h.01M398.9 402.8h.01M380.5 410.6h.01M396 421.3h.01M381.5 398.1h.01M386.5 401.4h.01M388.4 412.3h.01M398.7 421.3h.01M384.4 419.8h.01M394.8 419.6h.01M383.4 407.9h.01M399.5 411.8h.01M381 413.6h.01M397 419.9h.01M397.4 415.5h.01M378.8 410.7h.01M397.8 407.7h.01M381.5 417.5h.01M382.3 415.1h.01M379.6 407.8h.01M381.2 416.1h.01M386.2 411.3h.01M394.2 427.5h.01M404.6 406.1h.01M389.6 409.3h.01M377.9 414h.01M394.5 403.6h.01M378.1 405.7h.01M392.3 403.3h.01M382.1 407.7h.01M382.4 410.8h.01M377 431h.01M395.5 425h.01M389.7 402.8h.01M387.2 406.7h.01M380.4 423.3h.01M382.5 410.1h.01M381.7 417.2h.01M397.1 414.8h.01M399.8 426.1h.01M395.6 427.3h.01M400.4 422.7h.01M397.8 415.2h.01M384.9 416.2h.01M389.2 416.3h.01M379.2 414.7h.01M393.2 400.8h.01M393.3 409.2h.01M377.6 402.1h.01M395.1 414.5h.01M386.1 418.6h.01M381.5 418.9h.01M386.9 406.1h.01M394.3 421.3h.01M383.4 403.6h.01M388.4 416.7h.01M391.5 413.1h.01M384.2 412.9h.01M383.3 420.6h.01M378.8 422.1h.01M390.4 408.3h.01M388.7 413.5h.01M401.8 414h.01M392.1 418.7h.01M386.7 400.3h.01M377 403.2h.01M382.2 432.5h.01M383.9 420h.01M384.1 414.6h.01M391.9 413.6h.01M388 413.7h.01M388 405.6h.01M397.3 411.4h.01M390.6 413.2h.01M391.4 409.6h.01M389.7 408.9h.01M391.5 409.2h.01M387 437.3h.01M400.8 420.6h.01M389 404.9h.01M393 410.5h.01M398.7 415.9h.01M385.8 409.3h.01M383.1 418.7h.01M393 430.2h.01M398.7 395.8h.01M402.3 422.7h.01M388.2 414.4h.01M401.8 403.4h.01M386.6 408.3h.01M387.3 394.1h.01M393.3 403.8h.01M387.1 427.2h.01M380.6 405.1h.01M384.6 397.2h.01M410.9 416.8h.01M392.6 424.8h.01M393.5 426.1h.01M379.6 402.3h.01M385.1 407.9h.01M386.7 412.3h.01M389.2 418.2h.01M393.4 406.3h.01M376.9 419.2h.01M390.1 423h.01M396.9 412.6h.01M397.5 418h.01M388.6 426h.01M396.9 411.9h.01M384.4 422.9h.01M382.1 410.5h.01M399.5 414.5h.01M400.9 413.8h.01M384.6 411.8h.01M387.8 417.5h.01M382.4 416.5h.01M383.9 414.2h.01M384.6 415.7h.01M380.7 418.9h.01M385.9 405.3h.01M399.7 406.3h.01M381.4 413.5h.01M383.9 419.2h.01M386.1 406.9h.01M385.7 418.6h.01M386.4 410.4h.01M390.9 412h.01M392.2 418.5h.01M389.9 414.1h.01M391.7 410.4h.01M393.9 418.3h.01M398.1 415.1h.01M385.3 408h.01M378.2 394.2h.01M397.2 424.6h.01M379.7 409h.01M380.9 414.3h.01M391.6 416.4h.01M380.2 401.4h.01M383.5 419.7h.01M393.1 421.4h.01M389.7 409.4h.01M397.9 414.1h.01M391.6 431.1h.01M377.5 404.8h.01M398.1 405h.01M394.1 412.8h.01M379.8 412.1h.01M382.9 406h.01M386.3 414.2h.01M402.2 409.3h.01M387.6 423.2h.01M388.7 423.3h.01M395.6 427.4h.01M390 429.5h.01M385.3 412.4h.01M390.4 410.8h.01M390.1 426.3h.01M393.2 422.4h.01M385.1 421.6h.01M389.3 405.3h.01M393.6 423.3h.01M379.2 420h.01M377.3 408.4h.01M400.9 419h.01M387.6 411.1h.01M394.2 416.2h.01M378.6 417.1h.01M392 409.9h.01M392.6 415h.01M380 409.8h.01M385.9 418.5h.01M385.1 414.5h.01M386.3 432.8h.01M390.5 410.4h.01M391.5 412.3h.01M390.8 402.3h.01M387.6 403.4h.01M392.1 410.5h.01M399 417.5h.01M382.4 399.8h.01M403.8 405.5h.01M394.9 424.3h.01M388.3 427h.01M392 412.8h.01M389.1 420.5h.01M385 405.2h.01M381.7 429.1h.01M378.3 415.1h.01M394.3 423.7h.01M394.3 414.7h.01M403.3 412.1h.01M398.6 400.6h.01M395.6 411.1h.01M396.7 437.8h.01M387.3 419.8h.01M390 421.3h.01M396.7 415.4h.01M401.6 416.4h.01M389.3 423.7h.01M385.7 409.1h.01M393.8 409.3h.01M396.1 418.7h.01M383.9 418.5h.01M378.1 412.8h.01M383.8 418.4h.01M391.8 419.2h.01M392.8 413.8h.01M390.2 415.8h.01M402.3 417h.01M380.3 413.6h.01M381.4 414.2h.01M392 417.5h.01M398.9 402.3h.01M379.9 412.3h.01M406 415.8h.01M386.6 417.2h.01M383 419.3h.01M381.4 409.9h.01M395.1 421.4h.01M409.8 421.7h.01M386.3 414.3h.01M402 406.5h.01M385.1 411.4h.01M394.4 412.4h.01M395.3 422.8h.01M388.2 411.4h.01M378.9 418.2h.01M386.2 408.6h.01M379.3 425.7h.01M384.7 409.9h.01M402.3 411.7h.01M391.3 420.4h.01M383.7 416h.01M380.8 397.5h.01M383.1 413.4h.01M382.4 424.8h.01M387.9 396.3h.01M383.1 416.4h.01M387.6 400.3h.01M390.2 406.2h.01M380.5 397.7h.01M400.1 420.7h.01M386 421.2h.01M381.7 419.6h.01M395.8 437.9h.01M386 410.5h.01M378 413.1h.01M393 421h.01M387.1 402.5h.01M390.7 414.4h.01M378.3 403h.01M382.7 421.2h.01M385.3 421.3h.01M380.6 416h.01M388.4 406.6h.01M391.5 397.9h.01M392.3 407.2h.01M395.3 420.2h.01M387.7 404.5h.01M383.5 413.4h.01M382.8 409.6h.01M381.8 424.7h.01M385.2 405.3h.01M397.3 423h.01M382.8 405.4h.01M401.2 410.6h.01M384.1 420h.01M382.1 411.9h.01M385.1 402.3h.01M379.5 409.6h.01M378.1 413.7h.01M378.4 412h.01M395.7 419.1h.01M396.6 416.7h.01M383 413.9h.01M394.9 418.3h.01M386.9 405.3h.01M387.6 410h.01M394.4 398.3h.01M395.1 405.9h.01M395.6 408.9h.01M389.5 400.2h.01M377.8 413.9h.01M395.8 431.8h.01M380.3 427.2h.01M392.1 414.2h.01M381.3 420.3h.01M379.1 407h.01M390.8 418.7h.01M386.3 410.7h.01M379 417.6h.01M390.5 408.5h.01M382.5 421.6h.01M390.8 422.3h.01M378.4 424.8h.01M390.8 411h.01M391.9 408.4h.01M378.3 422.4h.01M398.5 416.6h.01M377.9 420.7h.01M391.7 426.7h.01M381.5 407h.01M382.8 417.4h.01M378.8 412.6h.01M386.4 412.7h.01M385.7 417.8h.01M381.3 419.8h.01M390.9 426.6h.01M392 423.5h.01M385.9 429.9h.01M391.3 417.6h.01M377 399.1h.01M389.7 415.8h.01M388.7 404.9h.01M409.2 414.7h.01M380.5 416.4h.01M391 414h.01M383.6 429.4h.01M396.2 408.3h.01M391.3 408.3h.01M393.9 418.2h.01M391.3 418.3h.01M379.3 421.6h.01M383.1 414.7h.01M386.3 416.8h.01M382.8 420.8h.01M383.1 416.9h.01M408.1 417.8h.01M381.7 410h.01M395.1 396.8h.01M388.4 412.1h.01M387 419.4h.01M400.1 405.9h.01M388.1 409h.01M378.2 424.8h.01M389.2 420.4h.01M382.3 417.9h.01M401.2 412.9h.01M392.4 410.2h.01M387.3 415.5h.01M391.5 400.5h.01M395.9 410h.01M381 428.4h.01M387.7 420.3h.01M384.9 406.1h.01M390.2 417.9h.01M386.7 420.4h.01M398.7 410.2h.01M380.8 417.9h.01M396 403.5h.01M384.7 410.3h.01M380.3 409.4h.01M387.9 425.3h.01M390.9 412.4h.01M384.3 409.8h.01M378.6 409h.01M382.8 414h.01M397.4 428h.01M392 419.2h.01M389.7 413.2h.01M381.1 414h.01M387.7 424h.01M386 399.1h.01M393.8 390h.01M389.1 411h.01M382.2 407.3h.01M386.1 412h.01M381.4 416.7h.01M398.5 400.5h.01M389.6 421.4h.01M382.9 413.1h.01M380.2 402.7h.01M385.2 415.5h.01M390.5 410.7h.01M391.2 419.6h.01M387.7 399.5h.01M401 403.3h.01M384.9 432.1h.01M398.9 407.8h.01M403.4 416.5h.01M391.5 423.9h.01M379.4 427.7h.01M393.6 423.1h.01M379.1 408.3h.01M387.1 418h.01M383.1 419h.01M387.2 424.9h.01M397.9 421.8h.01M385.1 408.4h.01M404.7 406h.01M388 426.2h.01M379.8 404.2h.01M390.1 419h.01M380 419.8h.01M388.4 404.2h.01M404.7 411.7h.01M402.2 406.5h.01M378.6 426h.01M380.3 406.4h.01M378.8 418.6h.01M386.8 412.2h.01M385.3 424h.01M390.5 418.6h.01M377.3 420.2h.01M386.7 415.6h.01M380.4 426.4h.01M378.4 409.6h.01M395.1 422.1h.01M382.9 417.6h.01M402.5 415.7h.01M378.1 414.9h.01M390.9 398.4h.01M390.6 421.9h.01M400.7 418.7h.01M407.6 427.9h.01M407.2 417.6h.01M397 408.3h.01M396.1 421.1h.01M396.5 405.5h.01M395.7 408h.01M380.3 417h.01M380.8 404h.01M380.5 425.1h.01M378.8 417.7h.01M392.9 411.2h.01M394.5 405.3h.01M385.9 424.4h.01M382.6 414.4h.01M394 432.5h.01M396.6 409h.01M391.1 412.9h.01M395.4 409.4h.01M380.6 405.7h.01M381.8 414.1h.01M398.8 413.4h.01M383 432.5h.01M399.7 412h.01M408.2 419h.01M389.6 415.4h.01M396.8 405h.01M391.2 410.6h.01M390.3 429.4h.01M386.6 420.8h.01M396.5 421.9h.01M390.7 406.8h.01M390.2 426.5h.01M380.4 414.2h.01M385.9 406.9h.01M386.1 408.9h.01M384.5 413.7h.01M379 416.7h.01M385.7 417.1h.01M400.4 425.2h.01M388.3 420.2h.01M377.9 403.7h.01M377.5 420.1h.01M389.5 394.2h.01M393 417.1h.01M390.7 413.9h.01M393.1 407.8h.01M385.8 424.1h.01M394.3 414.9h.01M391.5 415.8h.01M379.4 407.8h.01M399.2 419.2h.01M393.5 408.9h.01M377.8 404.4h.01M389.1 411.7h.01M389.7 420.9h.01M381 410.3h.01M384.6 429.6h.01M396.5 412.2h.01M384.3 422.8h.01M388.5 419.5h.01M386.3 424.8h.01M383.6 410.7h.01M386.5 421.1h.01M392.5 424.5h.01M389.5 406.4h.01M381.8 408.9h.01M377.6 458h.01M388.1 448.3h.01M383.7 465.9h.01M399.2 466.1h.01M378.2 458.6h.01M382.5 465.4h.01M377.1 468.2h.01M379.6 467.1h.01M396 459.8h.01M383.9 443.9h.01M386.9 443.9h.01M400.6 460.4h.01M396.9 452.2h.01M393.6 464.7h.01M393.9 450.4h.01M391.4 461h.01M408 470.5h.01M398.1 460.3h.01M395.5 445.6h.01M398.8 452.8h.01M400.8 467.5h.01M393.9 459.4h.01M391.8 442.8h.01M385.5 464.1h.01M395.4 452.5h.01M386.7 470.4h.01M404.1 467.4h.01M389.8 471.5h.01M391.5 461.3h.01M390.8 459.3h.01M378.7 449.9h.01M380.1 450.3h.01M398.4 464.3h.01M394.4 458h.01M395.6 460.3h.01M379.4 464.2h.01M393.4 443.3h.01M386.3 457.7h.01M397.6 468.6h.01M389.4 471.2h.01M388 468h.01M388.3 472.8h.01M394.8 458h.01M396.7 458.9h.01M378.7 457.6h.01M387.2 459.3h.01M382.7 457.8h.01M383.3 452.9h.01M394.9 453.3h.01M387.9 460.4h.01M383.5 454.1h.01M391.6 459.9h.01M394.8 462.8h.01M411 459.8h.01M389.8 460.8h.01M391 468.1h.01M412.2 447.5h.01M396.8 457.8h.01M388.4 456.3h.01M398 475.5h.01M390.1 465.7h.01M388.3 466.6h.01M382.1 461.8h.01M406.2 458.5h.01M395.7 464.3h.01M389.2 444.7h.01M381 470.4h.01M386.1 446.8h.01M387.6 455h.01M404.4 469h.01M382.8 452.5h.01M392.2 464.2h.01M394.6 464.3h.01M396.9 451.6h.01M390.1 469.4h.01M386.3 444.8h.01M400.1 461.3h.01M403.8 453.7h.01M383.7 458.2h.01M394.7 462.6h.01M395.2 456.6h.01M386.9 476.1h.01M394.8 471.3h.01M394.3 476.9h.01M384.7 468.7h.01M390.8 460.5h.01M389.5 459.1h.01M388.6 468h.01M395.1 448.3h.01M396.4 451.6h.01M403.8 449.2h.01M378.6 466.9h.01M383.6 452.8h.01M388.1 463.6h.01M392.7 460.1h.01M398.5 455.6h.01M377.9 459.1h.01M391.6 463h.01M378.4 467.1h.01M401.3 465.9h.01M392 446.2h.01M387.1 458.4h.01M383.8 473.4h.01M386.2 478h.01M390.5 466.5h.01M390.3 470.2h.01M384 468.3h.01M388 449.9h.01M399.6 452.4h.01M399 459.5h.01M386.9 456.6h.01M383.3 463.8h.01M385.2 456.1h.01M403.1 444.1h.01M402.2 451.8h.01M383.6 449.8h.01M390.1 474.4h.01M398.1 469.3h.01M390.4 459.4h.01M390 454.9h.01M378.2 469.7h.01M392.2 457.7h.01M398.6 443.1h.01M388.6 450.5h.01M382.4 459h.01M394.6 457.3h.01M396.8 455.7h.01M385.9 448.6h.01M378.7 455.9h.01M392.3 466.5h.01M382.1 462h.01M397 467.5h.01M394.5 451.1h.01M388.6 458.1h.01M392 455.5h.01M381.5 462.3h.01M387.4 471.1h.01M377.9 456.2h.01M399.1 461h.01M382.2 446.4h.01M384.1 464.9h.01M380.4 459.7h.01M390.4 464.6h.01M400.5 462.2h.01M393.4 467.1h.01M389.6 465.7h.01M392.5 451h.01M403.8 461.1h.01M385 462.8h.01M387.8 470.9h.01M388.5 451.7h.01M395.1 460.8h.01M387.3 461.7h.01M389.7 458.9h.01M392.4 452.3h.01M397.2 450.5h.01M399.8 468.8h.01M385.1 456.5h.01M385.8 449.6h.01M386.5 455.9h.01M393.5 446.8h.01M389.8 454.2h.01M394.3 456.5h.01M396.4 456.2h.01M380.4 451.5h.01M394.5 460.2h.01M387.4 455.6h.01M393.5 458.1h.01M390 456.4h.01M388 455h.01M394.6 463.1h.01M398.6 463.8h.01M386.9 460.4h.01M393.7 450.3h.01M399.5 466.4h.01M386.5 444.2h.01M396.5 472.1h.01M395.6 463.3h.01M380.8 470.2h.01M382 471.6h.01M386.3 439.4h.01M386.3 454.6h.01M400.8 467.7h.01M382.4 470.5h.01M400.4 447.4h.01M383.2 454.2h.01M379.7 468.9h.01M386.5 456.2h.01M383.3 461.5h.01M388.7 460.3h.01M392.1 468.3h.01M381.2 465.7h.01M387.4 465.8h.01M398 463h.01M385.1 458.7h.01M405.2 474.1h.01M389.2 454.7h.01M383.2 447.5h.01M403.8 449h.01M382.8 471.1h.01M395.9 449.1h.01M398.9 467.5h.01M400 447.4h.01M389 462.2h.01M379.6 460.9h.01M396.8 455h.01M390.5 460.8h.01M379.5 476h.01M392.5 468.4h.01M383.6 475.1h.01M392.6 468.4h.01M388.9 471.1h.01M396.7 468.5h.01M393.2 457h.01M383.7 465.3h.01M397.7 473.4h.01M397.2 462h.01M408 463.2h.01M395 464.6h.01M391.8 473h.01M394.7 450.4h.01M389.4 474.9h.01M395.6 454h.01M389.5 458.6h.01M400.7 467.2h.01M389.2 453.8h.01M382.4 469.6h.01M386.3 463.6h.01M405.7 467h.01M399.6 456.2h.01M382.3 453.5h.01M390.7 461.8h.01M389.6 454.6h.01M408.1 461.6h.01M392.7 476.2h.01M391.6 467h.01M393.3 460.6h.01M378.5 462.3h.01M389.7 470.9h.01M388.1 451.6h.01M390.9 439.8h.01M392 434.2h.01M394 437.6h.01M380.3 437.8h.01M388.4 443.5h.01M382 436.9h.01M399.3 427h.01M395.5 444.4h.01M388.9 437.3h.01M400.8 434.6h.01M389.7 444.2h.01M384.5 435.5h.01M394.4 438.2h.01M398.7 429.5h.01M386.2 433h.01M386 440.5h.01M400.7 429.3h.01M386.4 444.1h.01M384.5 429.2h.01M391.7 437.2h.01M388.4 427.9h.01M389.4 436.8h.01M390.1 443.7h.01M396.7 445.4h.01M400.8 441.8h.01M380.6 430.7h.01M390.9 434.2h.01M394.3 430.3h.01M399.5 442.5h.01M396.2 427.2h.01M397 435.8h.01M388.1 430h.01M380.7 438.2h.01M393.5 445.6h.01M396.2 431.3h.01M386 430.2h.01M395.1 441.5h.01M389.7 443.1h.01M383.3 435.5h.01M389 439h.01M385.3 439.9h.01M401.7 429.9h.01M389.1 440.5h.01M383.3 441.5h.01M385 432.3h.01M388.6 428.4h.01M387.4 438.9h.01M385 441.7h.01M401.1 437.8h.01M387.3 430.1h.01M394.1 445.6h.01M388.5 427.5h.01M395 437.6h.01M395.4 429.9h.01M393.6 430.8h.01M418 415.6h.01M409 409h.01M411 421h.01"/>
<path class="fr" d="M376.1 375.5H507.2V478.9"/>
<path class="ax" d="M376.1 375.0V478.9H507.7"/>
<path class="mt" d="M376.1 477.3v6.8M377.7 478.9h-5.8M386 478.9v2.5M376.1 471.1h-2.5M391.7 478.9v2.5M376.1 466.6h-2.5M395.8 478.9v2.5M376.1 463.3h-2.5M399 478.9v2.5M376.1 460.8h-2.5M401.6 478.9v2.5M376.1 458.8h-2.5M403.8 478.9v2.5M376.1 457.1h-2.5M405.7 478.9v2.5M376.1 455.6h-2.5M407.4 478.9v2.5M376.1 454.2h-2.5M408.9 477.3v6.8M377.7 453h-5.8M418.7 478.9v2.5M376.1 445.3h-2.5M424.5 478.9v2.5M376.1 440.7h-2.5M428.6 478.9v2.5M376.1 437.5h-2.5M431.8 478.9v2.5M376.1 435h-2.5M434.4 478.9v2.5M376.1 432.9h-2.5M436.6 478.9v2.5M376.1 431.2h-2.5M438.5 478.9v2.5M376.1 429.7h-2.5M440.2 478.9v2.5M376.1 428.4h-2.5M441.6 477.3v6.8M377.7 427.2h-5.8M451.5 478.9v2.5M376.1 419.4h-2.5M457.3 478.9v2.5M376.1 414.9h-2.5M461.4 478.9v2.5M376.1 411.6h-2.5M464.6 478.9v2.5M376.1 409.1h-2.5M467.2 478.9v2.5M376.1 407.1h-2.5M469.3 478.9v2.5M376.1 405.4h-2.5M471.2 478.9v2.5M376.1 403.9h-2.5M472.9 478.9v2.5M376.1 402.5h-2.5M474.4 477.3v6.8M377.7 401.4h-5.8M484.3 478.9v2.5M376.1 393.6h-2.5M490.1 478.9v2.5M376.1 389h-2.5M494.2 478.9v2.5M376.1 385.8h-2.5M497.3 478.9v2.5M376.1 383.3h-2.5M499.9 478.9v2.5M376.1 381.2h-2.5M502.1 478.9v2.5M376.1 379.5h-2.5M504 478.9v2.5M376.1 378h-2.5M505.7 478.9v2.5M376.1 376.7h-2.5M507.2 477.3v6.8M377.7 375.5h-5.8"/>
<text class="tk" transform="translate(376.4 489.8) scale(1.02 1)" x="-5.5 0" y="0">10<tspan class="ex" x="5.4" dy="-3">0</tspan></text>
<text class="tk" transform="translate(372 479) rotate(-90) scale(1.1 1.1)" x="-5.2 0" y="0">10<tspan class="ex" x="5.1" dy="-3">0</tspan></text>
<text class="tk" transform="translate(409.2 489.8) scale(1.02 1)" x="-5.5 0" y="0">10<tspan class="ex" x="5.4" dy="-3">1</tspan></text>
<text class="tk" transform="translate(372 453.1) rotate(-90) scale(1.1 1.1)" x="-5.2 0" y="0">10<tspan class="ex" x="5.1" dy="-3">1</tspan></text>
<text class="tk" transform="translate(441.9 489.8) scale(1.02 1)" x="-5.5 0" y="0">10<tspan class="ex" x="5.4" dy="-3">2</tspan></text>
<text class="tk" transform="translate(372 427.3) rotate(-90) scale(1.1 1.1)" x="-5.2 0" y="0">10<tspan class="ex" x="5.1" dy="-3">2</tspan></text>
<text class="tk" transform="translate(474.7 489.8) scale(1.02 1)" x="-5.5 0" y="0">10<tspan class="ex" x="5.4" dy="-3">3</tspan></text>
<text class="tk" transform="translate(372 401.5) rotate(-90) scale(1.1 1.1)" x="-5.2 0" y="0">10<tspan class="ex" x="5.1" dy="-3">3</tspan></text>
<text class="tk" transform="translate(507.5 489.8) scale(1.02 1)" x="-5.5 0" y="0">10<tspan class="ex" x="5.4" dy="-3">4</tspan></text>
<text class="tk" transform="translate(372 375.6) rotate(-90) scale(1.1 1.1)" x="-5.2 0" y="0">10<tspan class="ex" x="5.1" dy="-3">4</tspan></text>
<text class="lb" text-anchor="middle" transform="translate(424.3 502) scale(0.92 1)" x="3.5 11.3 19.1 27" y="0">CD14</text>
<text class="lb" text-anchor="middle" transform="translate(361.3 442.8) rotate(-90) scale(0.92 1)" x="3.5 11.3 19.1 27" y="0">CD13</text>
</g>
</svg>
</body>
</html>
